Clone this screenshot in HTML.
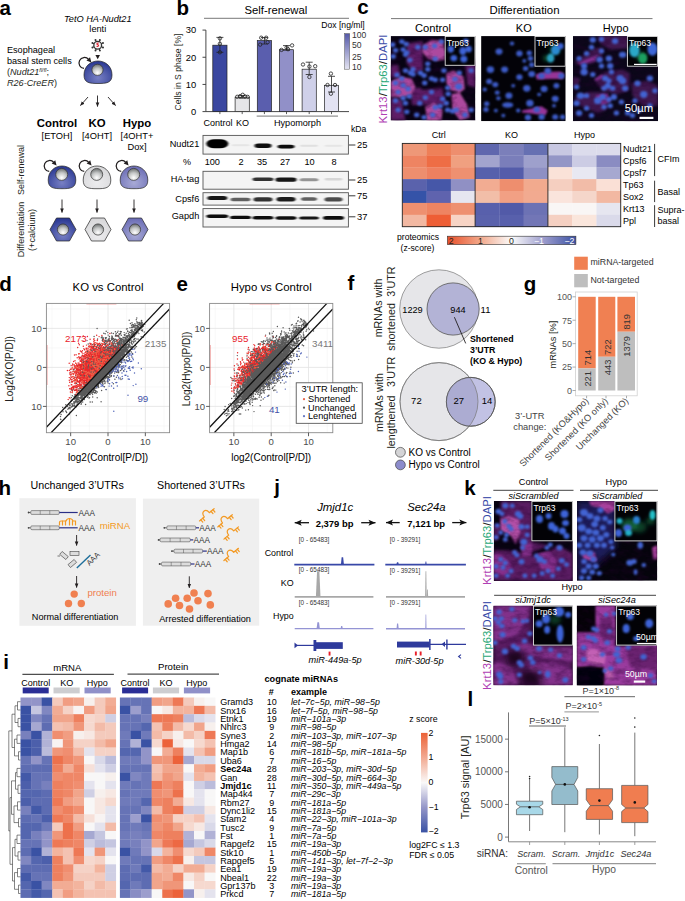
<!DOCTYPE html><html><head><meta charset="utf-8"><style>html,body{margin:0;padding:0;background:#fff}svg{display:block}text{font-family:"Liberation Sans",sans-serif}</style></head><body><svg width="685" height="901" viewBox="0 0 685 901"><defs><filter id="bl1" x="-50%" y="-50%" width="200%" height="200%"><feGaussianBlur stdDeviation="1"/></filter><filter id="bl05" x="-50%" y="-50%" width="200%" height="200%"><feGaussianBlur stdDeviation="0.5"/></filter><filter id="bl06" x="-50%" y="-50%" width="200%" height="200%"><feGaussianBlur stdDeviation="0.85"/></filter><filter id="mott" x="0" y="0" width="100%" height="100%"><feTurbulence type="fractalNoise" baseFrequency="0.09 0.16" numOctaves="3" seed="7"/><feColorMatrix type="matrix" values="0 0 0 0 0.02  0 0 0 0 0.0  0 0 0 0 0.03  -2.4 0 0 0 1.45"/></filter><filter id="bl15" x="-50%" y="-50%" width="200%" height="200%"><feGaussianBlur stdDeviation="1.5"/></filter><filter id="bl2" x="-50%" y="-50%" width="200%" height="200%"><feGaussianBlur stdDeviation="2"/></filter><filter id="bl3" x="-50%" y="-50%" width="200%" height="200%"><feGaussianBlur stdDeviation="3"/></filter><filter id="band" x="-50%" y="-100%" width="200%" height="300%"><feGaussianBlur stdDeviation="1.3 0.65"/></filter><radialGradient id="gNuc" cx="0.5" cy="0.78" r="0.75"><stop offset="0" stop-color="#ffffff"/><stop offset="0.55" stop-color="#c4c6c6"/><stop offset="1" stop-color="#6e7272"/></radialGradient><radialGradient id="gCtrl" cx="0.5" cy="0.75" r="0.7"><stop offset="0" stop-color="#7880c4"/><stop offset="1" stop-color="#2c3a94"/></radialGradient><radialGradient id="gKO" cx="0.5" cy="0.75" r="0.7"><stop offset="0" stop-color="#ececee"/><stop offset="1" stop-color="#d8d8da"/></radialGradient><radialGradient id="gHy" cx="0.5" cy="0.75" r="0.7"><stop offset="0" stop-color="#a8aad6"/><stop offset="1" stop-color="#6d6fb6"/></radialGradient><linearGradient id="gDox" x1="0" y1="0" x2="0" y2="1"><stop offset="0" stop-color="#5458a8"/><stop offset="1" stop-color="#e4e4f2"/></linearGradient><linearGradient id="gProt" x1="0" y1="0" x2="1" y2="0"><stop offset="0" stop-color="#e8502a"/><stop offset="0.25" stop-color="#f2a688"/><stop offset="0.5" stop-color="#fbfbfb"/><stop offset="0.75" stop-color="#9c9ccc"/><stop offset="1" stop-color="#3c52a4"/></linearGradient><linearGradient id="gZ" x1="0" y1="0" x2="0" y2="1"><stop offset="0" stop-color="#ec6236"/><stop offset="0.25" stop-color="#f2aa92"/><stop offset="0.5" stop-color="#faf9f9"/><stop offset="0.75" stop-color="#9496c8"/><stop offset="1" stop-color="#3a52a4"/></linearGradient><marker id="ah" viewBox="0 0 10 10" refX="9" refY="5" markerWidth="5" markerHeight="5" orient="auto"><path d="M0,1 L10,5 L0,9 z" fill="#231f20"/></marker></defs><rect width="685" height="901" fill="#ffffff"/><text x="-0.6" y="14.9" font-size="20.5" font-weight="bold">a</text><text x="97.8" y="21.5" font-size="9.2" text-anchor="middle" font-style="italic">TetO HA-Nudt21</text><text x="97.8" y="32.3" font-size="9.2" text-anchor="middle">lenti</text><line x1="100.93" y1="46.54" x2="102.69" y2="47.27" stroke="#333" stroke-width="1.0" /><circle cx="102.97" cy="47.38" r="1.0" fill="#333"/><line x1="99.04" y1="48.43" x2="99.77" y2="50.19" stroke="#333" stroke-width="1.0" /><circle cx="99.88" cy="50.47" r="1.0" fill="#333"/><line x1="96.36" y1="48.43" x2="95.63" y2="50.19" stroke="#333" stroke-width="1.0" /><circle cx="95.52" cy="50.47" r="1.0" fill="#333"/><line x1="94.47" y1="46.54" x2="92.71" y2="47.27" stroke="#333" stroke-width="1.0" /><circle cx="92.43" cy="47.38" r="1.0" fill="#333"/><line x1="94.47" y1="43.86" x2="92.71" y2="43.13" stroke="#333" stroke-width="1.0" /><circle cx="92.43" cy="43.02" r="1.0" fill="#333"/><line x1="96.36" y1="41.97" x2="95.63" y2="40.21" stroke="#333" stroke-width="1.0" /><circle cx="95.52" cy="39.93" r="1.0" fill="#333"/><line x1="99.04" y1="41.97" x2="99.77" y2="40.21" stroke="#333" stroke-width="1.0" /><circle cx="99.88" cy="39.93" r="1.0" fill="#333"/><line x1="100.93" y1="43.86" x2="102.69" y2="43.13" stroke="#333" stroke-width="1.0" /><circle cx="102.97" cy="43.02" r="1.0" fill="#333"/><circle cx="97.7" cy="45.2" r="3.9" fill="#f4f4f4" stroke="#333" stroke-width="1.3"/><path d="M98.8,43.0 q-2.2,-0.2 -1.8,1.2 q2,0.7 1.4,1.7 q-0.6,0.8 -1.8,0.3" stroke="#e02030" stroke-width="1.1" fill="none"/><path d="M95.4,55.0 L100.0,55.0 L97.7,59.2 z" fill="#231f20"/><text x="7.0" y="53.0" font-size="9.1">Esophageal</text><text x="7.0" y="63.5" font-size="9.1">basal stem cells</text><text x="7" y="74.5" font-size="9.1" fill="#231f20">(<tspan font-style="italic">Nudt21</tspan><tspan font-style="italic" font-size="5.5" dy="-3">fl/fl</tspan><tspan dy="3">;</tspan></text><text x="7" y="85.8" font-size="9.1" fill="#231f20"><tspan font-style="italic">R26-CreER</tspan>)</text><path d="M84.00,74.95 C84.00,65.95 91.00,61.00 98.00,61.00 C105.00,61.00 112.00,65.95 112.00,74.95 C112.00,83.00 106.40,83.50 98.00,83.50 C89.60,83.50 84.00,83.00 84.00,74.95 z" fill="url(#gCtrl)" stroke="#222" stroke-width="0.7"/><circle cx="97.50" cy="69.80" r="5.6" fill="url(#gNuc)" stroke="#333" stroke-width="0.7"/><path d="M84.02,68.48 A5.5,5.5 0 1 1 88.59,59.32" fill="none" stroke="#231f20" stroke-width="1.25"/><path d="M90.04,57.34 L86.47,60.55 L91.40,62.44 z" fill="#231f20"/><g stroke="#231f20" stroke-width="0.9" fill="none" marker-end="url(#ah)"><line x1="88" y1="97" x2="80.5" y2="105.5"/><line x1="97.5" y1="95.5" x2="97.5" y2="106.5"/><line x1="108" y1="97" x2="115.5" y2="105.5"/></g><text x="57.0" y="127.0" font-size="11.4" text-anchor="middle" font-weight="bold">Control</text><text x="97.0" y="127.0" font-size="11.4" text-anchor="middle" font-weight="bold">KO</text><text x="137.0" y="127.0" font-size="11.4" text-anchor="middle" font-weight="bold">Hypo</text><text x="57.0" y="138.5" font-size="9.3" text-anchor="middle">[ETOH]</text><text x="97.0" y="138.5" font-size="9.3" text-anchor="middle">[4OHT]</text><text x="137.0" y="138.5" font-size="9.3" text-anchor="middle">[4OHT+</text><text x="137.0" y="150.0" font-size="9.3" text-anchor="middle">Dox]</text><path d="M48.20,180.07 C48.20,170.99 55.10,166.00 62.00,166.00 C68.90,166.00 75.80,170.99 75.80,180.07 C75.80,188.20 70.28,188.70 62.00,188.70 C53.72,188.70 48.20,188.20 48.20,180.07 z" fill="url(#gCtrl)" stroke="#222" stroke-width="0.7"/><circle cx="61.70" cy="174.40" r="6.0" fill="url(#gNuc)" stroke="#333" stroke-width="0.7"/><path d="M49.22,171.48 A5.5,5.5 0 1 1 53.79,162.32" fill="none" stroke="#231f20" stroke-width="1.25"/><path d="M55.24,160.34 L51.67,163.55 L56.60,165.44 z" fill="#231f20"/><line x1="62" y1="199.5" x2="62" y2="212.5" stroke="#231f20" stroke-width="0.9" marker-end="url(#ah)"/><polygon points="50,229.5 56.5,218.0 69.5,218.0 76,229.5 69.5,241.0 56.5,241.0" fill="url(#gCtrl)" stroke="#222" stroke-width="0.7"/><circle cx="63.00" cy="229.50" r="5.6" fill="url(#gNuc)" stroke="#333" stroke-width="0.7"/><path d="M83.20,180.07 C83.20,170.99 90.10,166.00 97.00,166.00 C103.90,166.00 110.80,170.99 110.80,180.07 C110.80,188.20 105.28,188.70 97.00,188.70 C88.72,188.70 83.20,188.20 83.20,180.07 z" fill="url(#gKO)" stroke="#222" stroke-width="0.7"/><circle cx="96.70" cy="174.40" r="6.0" fill="url(#gNuc)" stroke="#333" stroke-width="0.7"/><path d="M84.22,171.48 A5.5,5.5 0 1 1 88.79,162.32" fill="none" stroke="#231f20" stroke-width="1.25"/><path d="M90.24,160.34 L86.67,163.55 L91.60,165.44 z" fill="#231f20"/><line x1="97" y1="199.5" x2="97" y2="212.5" stroke="#231f20" stroke-width="0.9" marker-end="url(#ah)"/><polygon points="85,229.5 91.5,218.0 104.5,218.0 111,229.5 104.5,241.0 91.5,241.0" fill="url(#gKO)" stroke="#222" stroke-width="0.7"/><circle cx="98.00" cy="229.50" r="5.6" fill="url(#gNuc)" stroke="#333" stroke-width="0.7"/><path d="M120.20,180.07 C120.20,170.99 127.10,166.00 134.00,166.00 C140.90,166.00 147.80,170.99 147.80,180.07 C147.80,188.20 142.28,188.70 134.00,188.70 C125.72,188.70 120.20,188.20 120.20,180.07 z" fill="url(#gHy)" stroke="#222" stroke-width="0.7"/><circle cx="133.70" cy="174.40" r="6.0" fill="url(#gNuc)" stroke="#333" stroke-width="0.7"/><path d="M121.22,171.48 A5.5,5.5 0 1 1 125.79,162.32" fill="none" stroke="#231f20" stroke-width="1.25"/><path d="M127.24,160.34 L123.67,163.55 L128.60,165.44 z" fill="#231f20"/><line x1="134" y1="199.5" x2="134" y2="212.5" stroke="#231f20" stroke-width="0.9" marker-end="url(#ah)"/><polygon points="122,229.5 128.5,218.0 141.5,218.0 148,229.5 141.5,241.0 128.5,241.0" fill="url(#gHy)" stroke="#222" stroke-width="0.7"/><circle cx="135.00" cy="229.50" r="5.6" fill="url(#gNuc)" stroke="#333" stroke-width="0.7"/><text transform="translate(24.2,170) rotate(-90)" font-size="9" text-anchor="middle" fill="#231f20">Self-renewal</text><text transform="translate(24.2,229.5) rotate(-90)" font-size="9" text-anchor="middle" fill="#231f20">Differentiation</text><text transform="translate(35,230) rotate(-90)" font-size="9" text-anchor="middle" fill="#231f20">(+calcium)</text><text x="176.5" y="14.9" font-size="20.5" font-weight="bold">b</text><text x="275.9" y="14.0" font-size="11.3" text-anchor="middle">Self-renewal</text><line x1="204.00" y1="18.30" x2="349.00" y2="18.30" stroke="#555" stroke-width="0.8" /><line x1="205.90" y1="30.10" x2="205.90" y2="111.60" stroke="#333" stroke-width="0.9" /><line x1="205.90" y1="111.60" x2="349.00" y2="111.60" stroke="#333" stroke-width="0.9" /><line x1="202.50" y1="111.60" x2="205.90" y2="111.60" stroke="#333" stroke-width="0.9" /><text x="196.3" y="114.9" font-size="9.4" text-anchor="end">0</text><line x1="202.50" y1="84.43" x2="205.90" y2="84.43" stroke="#333" stroke-width="0.9" /><text x="196.3" y="87.7" font-size="9.4" text-anchor="end">10</text><line x1="202.50" y1="57.26" x2="205.90" y2="57.26" stroke="#333" stroke-width="0.9" /><text x="196.3" y="60.6" font-size="9.4" text-anchor="end">20</text><line x1="202.50" y1="30.09" x2="205.90" y2="30.09" stroke="#333" stroke-width="0.9" /><text x="196.3" y="33.4" font-size="9.4" text-anchor="end">30</text><text transform="translate(180.5,72) rotate(-90)" font-size="8.6" text-anchor="middle" fill="#231f20">Cells in S phase [%]</text><rect x="212.80" y="45.20" width="14.20" height="66.40" fill="#3a47a0" stroke="#222" stroke-width="0.7"/><line x1="219.90" y1="37.40" x2="219.90" y2="52.30" stroke="#222" stroke-width="0.8" /><line x1="216.40" y1="37.40" x2="223.40" y2="37.40" stroke="#222" stroke-width="0.8" /><line x1="216.40" y1="52.30" x2="223.40" y2="52.30" stroke="#222" stroke-width="0.8" /><circle cx="219.90" cy="38.4" r="1.7" fill="none" stroke="#222" stroke-width="0.8"/><circle cx="219.90" cy="43.8" r="1.7" fill="none" stroke="#222" stroke-width="0.8"/><circle cx="219.90" cy="52.3" r="1.7" fill="none" stroke="#222" stroke-width="0.8"/><line x1="219.90" y1="111.60" x2="219.90" y2="114.10" stroke="#333" stroke-width="0.8" /><rect x="235.10" y="97.20" width="14.20" height="14.40" fill="#e6e6e8" stroke="#222" stroke-width="0.7"/><line x1="242.20" y1="95.50" x2="242.20" y2="98.20" stroke="#222" stroke-width="0.8" /><line x1="238.70" y1="95.50" x2="245.70" y2="95.50" stroke="#222" stroke-width="0.8" /><line x1="238.70" y1="98.20" x2="245.70" y2="98.20" stroke="#222" stroke-width="0.8" /><circle cx="237.20" cy="96.8" r="1.7" fill="none" stroke="#222" stroke-width="0.8"/><circle cx="240.00" cy="96.2" r="1.7" fill="none" stroke="#222" stroke-width="0.8"/><circle cx="242.70" cy="94.8" r="1.7" fill="none" stroke="#222" stroke-width="0.8"/><circle cx="245.20" cy="96.5" r="1.7" fill="none" stroke="#222" stroke-width="0.8"/><circle cx="247.70" cy="96.9" r="1.7" fill="none" stroke="#222" stroke-width="0.8"/><line x1="242.20" y1="111.60" x2="242.20" y2="114.10" stroke="#333" stroke-width="0.8" /><rect x="257.30" y="40.60" width="14.20" height="71.00" fill="#5a5eae" stroke="#222" stroke-width="0.7"/><line x1="264.40" y1="37.50" x2="264.40" y2="44.00" stroke="#222" stroke-width="0.8" /><line x1="260.90" y1="37.50" x2="267.90" y2="37.50" stroke="#222" stroke-width="0.8" /><line x1="260.90" y1="44.00" x2="267.90" y2="44.00" stroke="#222" stroke-width="0.8" /><circle cx="261.20" cy="37.7" r="1.7" fill="none" stroke="#222" stroke-width="0.8"/><circle cx="266.20" cy="37.7" r="1.7" fill="none" stroke="#222" stroke-width="0.8"/><circle cx="260.20" cy="44.6" r="1.7" fill="none" stroke="#222" stroke-width="0.8"/><circle cx="267.60" cy="42.2" r="1.7" fill="none" stroke="#222" stroke-width="0.8"/><line x1="264.40" y1="111.60" x2="264.40" y2="114.10" stroke="#333" stroke-width="0.8" /><rect x="279.40" y="49.70" width="14.20" height="61.90" fill="#9190c8" stroke="#222" stroke-width="0.7"/><line x1="286.50" y1="45.60" x2="286.50" y2="50.20" stroke="#222" stroke-width="0.8" /><line x1="283.00" y1="45.60" x2="290.00" y2="45.60" stroke="#222" stroke-width="0.8" /><line x1="283.00" y1="50.20" x2="290.00" y2="50.20" stroke="#222" stroke-width="0.8" /><circle cx="281.50" cy="49.9" r="1.7" fill="none" stroke="#222" stroke-width="0.8"/><circle cx="286.60" cy="47.5" r="1.7" fill="none" stroke="#222" stroke-width="0.8"/><circle cx="292.10" cy="45.4" r="1.7" fill="none" stroke="#222" stroke-width="0.8"/><circle cx="288.00" cy="49.2" r="1.7" fill="none" stroke="#222" stroke-width="0.8"/><line x1="286.50" y1="111.60" x2="286.50" y2="114.10" stroke="#333" stroke-width="0.8" /><rect x="302.10" y="69.20" width="14.20" height="42.40" fill="#cfd0e9" stroke="#222" stroke-width="0.7"/><line x1="309.20" y1="62.20" x2="309.20" y2="74.50" stroke="#222" stroke-width="0.8" /><line x1="305.70" y1="62.20" x2="312.70" y2="62.20" stroke="#222" stroke-width="0.8" /><line x1="305.70" y1="74.50" x2="312.70" y2="74.50" stroke="#222" stroke-width="0.8" /><circle cx="303.00" cy="64.5" r="1.7" fill="none" stroke="#222" stroke-width="0.8"/><circle cx="309.40" cy="66.5" r="1.7" fill="none" stroke="#222" stroke-width="0.8"/><circle cx="315.20" cy="66.2" r="1.7" fill="none" stroke="#222" stroke-width="0.8"/><circle cx="309.40" cy="77" r="1.7" fill="none" stroke="#222" stroke-width="0.8"/><line x1="309.20" y1="111.60" x2="309.20" y2="114.10" stroke="#333" stroke-width="0.8" /><rect x="324.40" y="85.30" width="14.20" height="26.30" fill="#e3e3f3" stroke="#222" stroke-width="0.7"/><line x1="331.50" y1="76.30" x2="331.50" y2="92.00" stroke="#222" stroke-width="0.8" /><line x1="328.00" y1="76.30" x2="335.00" y2="76.30" stroke="#222" stroke-width="0.8" /><line x1="328.00" y1="92.00" x2="335.00" y2="92.00" stroke="#222" stroke-width="0.8" /><circle cx="330.90" cy="73.6" r="1.7" fill="none" stroke="#222" stroke-width="0.8"/><circle cx="327.50" cy="85" r="1.7" fill="none" stroke="#222" stroke-width="0.8"/><circle cx="335.00" cy="85" r="1.7" fill="none" stroke="#222" stroke-width="0.8"/><circle cx="330.90" cy="93.7" r="1.7" fill="none" stroke="#222" stroke-width="0.8"/><line x1="331.50" y1="111.60" x2="331.50" y2="114.10" stroke="#333" stroke-width="0.8" /><text x="217.9" y="126.0" font-size="9" text-anchor="middle">Control</text><text x="242.6" y="126.0" font-size="9" text-anchor="middle">KO</text><line x1="256.70" y1="116.10" x2="338.00" y2="116.10" stroke="#555" stroke-width="0.8" /><text x="297.5" y="126.0" font-size="9.1" text-anchor="middle">Hypomorph</text><text x="321.3" y="28.0" font-size="8.6">Dox [ng/ml]</text><rect x="344.60" y="33.60" width="5.10" height="35.60" fill="url(#gDox)" stroke="#555" stroke-width="0.5"/><text x="352.0" y="37.8" font-size="8.6" fill="#333">100</text><text x="352.0" y="48.3" font-size="8.6" fill="#333">50</text><text x="352.0" y="59.5" font-size="8.6" fill="#333">25</text><text x="352.0" y="70.0" font-size="8.6" fill="#333">10</text><text x="351.0" y="131.9" font-size="8.6">kDa</text><rect x="203.00" y="135.40" width="145.40" height="18.70" fill="#f4f4f4" stroke="#555" stroke-width="0.9"/><text x="199.3" y="146.8" font-size="9.2" text-anchor="end">Nudt21</text><rect x="206.3" y="139.2" width="22.0" height="9.0" rx="8.1" fill="rgb(0,0,0)" filter="url(#band)"/><rect x="231.5" y="144.2" width="18.0" height="2.0" rx="1.8" fill="rgb(229,229,229)" filter="url(#band)"/><rect x="254.5" y="143.6" width="17.0" height="4.4" rx="4.0" fill="rgb(12,12,12)" filter="url(#band)"/><rect x="277.5" y="144.7" width="17.0" height="3.8" rx="3.4" fill="rgb(12,12,12)" filter="url(#band)"/><rect x="300.0" y="144.8" width="18.0" height="2.0" rx="1.8" fill="rgb(224,224,224)" filter="url(#band)"/><rect x="324.5" y="144.8" width="18.0" height="2.0" rx="1.8" fill="rgb(229,229,229)" filter="url(#band)"/><line x1="349.00" y1="145.00" x2="355.40" y2="145.00" stroke="#222" stroke-width="0.9" /><text x="357.0" y="148.3" font-size="9.4">25</text><rect x="203.00" y="171.30" width="145.40" height="17.90" fill="#f4f4f4" stroke="#555" stroke-width="0.9"/><text x="199.3" y="181.8" font-size="9.2" text-anchor="end">HA-tag</text><rect x="252.5" y="177.4" width="21.0" height="3.6" rx="3.2" fill="rgb(51,51,51)" filter="url(#band)"/><rect x="275.5" y="177.6" width="21.0" height="4.2" rx="3.8" fill="rgb(20,20,20)" filter="url(#band)"/><rect x="299.5" y="178.2" width="19.0" height="3.0" rx="2.7" fill="rgb(147,147,147)" filter="url(#band)"/><rect x="324.5" y="177.9" width="18.0" height="2.6" rx="2.3" fill="rgb(214,214,214)" filter="url(#band)"/><line x1="349.00" y1="180.00" x2="355.40" y2="180.00" stroke="#222" stroke-width="0.9" /><text x="357.0" y="183.3" font-size="9.4">25</text><rect x="203.00" y="192.70" width="145.40" height="12.40" fill="#f4f4f4" stroke="#555" stroke-width="0.9"/><text x="199.3" y="202.0" font-size="9.2" text-anchor="end">Cpsf6</text><rect x="207.3" y="195.9" width="20.0" height="4.0" rx="3.6" fill="rgb(25,25,25)" filter="url(#band)"/><rect x="230.5" y="197.7" width="20.0" height="3.6" rx="3.2" fill="rgb(96,96,96)" filter="url(#band)"/><rect x="253.5" y="197.3" width="19.0" height="4.2" rx="3.8" fill="rgb(51,51,51)" filter="url(#band)"/><rect x="276.5" y="196.9" width="19.0" height="4.6" rx="4.1" fill="rgb(30,30,30)" filter="url(#band)"/><rect x="301.0" y="197.2" width="16.0" height="3.6" rx="3.2" fill="rgb(96,96,96)" filter="url(#band)"/><rect x="324.5" y="197.3" width="18.0" height="4.2" rx="3.8" fill="rgb(76,76,76)" filter="url(#band)"/><line x1="349.00" y1="195.80" x2="355.40" y2="195.80" stroke="#222" stroke-width="0.9" /><text x="357.0" y="199.1" font-size="9.4">75</text><rect x="203.00" y="208.60" width="145.40" height="18.40" fill="#f4f4f4" stroke="#555" stroke-width="0.9"/><text x="199.3" y="218.6" font-size="9.2" text-anchor="end">Gapdh</text><rect x="206.3" y="214.5" width="22.0" height="3.4" rx="3.1" fill="rgb(12,12,12)" filter="url(#band)"/><rect x="230.0" y="215.7" width="21.0" height="3.4" rx="3.1" fill="rgb(17,17,17)" filter="url(#band)"/><rect x="252.5" y="216.0" width="21.0" height="3.4" rx="3.1" fill="rgb(17,17,17)" filter="url(#band)"/><rect x="275.5" y="216.3" width="21.0" height="3.4" rx="3.1" fill="rgb(17,17,17)" filter="url(#band)"/><rect x="299.0" y="216.4" width="20.0" height="3.2" rx="2.9" fill="rgb(25,25,25)" filter="url(#band)"/><rect x="323.0" y="216.1" width="21.0" height="3.6" rx="3.2" fill="rgb(12,12,12)" filter="url(#band)"/><line x1="349.00" y1="216.80" x2="355.40" y2="216.80" stroke="#222" stroke-width="0.9" /><text x="357.0" y="220.1" font-size="9.4">37</text><text x="187.0" y="164.6" font-size="9" text-anchor="middle">%</text><text x="212.3" y="164.6" font-size="9.2" text-anchor="middle">100</text><text x="241.0" y="164.6" font-size="9.2" text-anchor="middle">2</text><text x="262.0" y="164.6" font-size="9.2" text-anchor="middle">35</text><text x="285.0" y="164.6" font-size="9.2" text-anchor="middle">27</text><text x="309.5" y="164.6" font-size="9.2" text-anchor="middle">10</text><text x="334.0" y="164.6" font-size="9.2" text-anchor="middle">8</text><text x="357.2" y="14.4" font-size="20.5" font-weight="bold">c</text><text x="524.5" y="13.9" font-size="11.4" text-anchor="middle">Differentiation</text><line x1="391.00" y1="18.60" x2="652.50" y2="18.60" stroke="#555" stroke-width="0.8" /><text x="433.0" y="31.5" font-size="11.2" text-anchor="middle">Control</text><text x="523.8" y="31.5" font-size="11.0" text-anchor="middle">KO</text><text x="615.7" y="31.5" font-size="11.0" text-anchor="middle">Hypo</text><text transform="translate(387.3,79) rotate(-90)" font-size="11.3" text-anchor="middle"><tspan fill="#b040b4">Krt13</tspan><tspan fill="#231f20">/</tspan><tspan fill="#2aa878">Trp63</tspan><tspan fill="#231f20">/</tspan><tspan fill="#3a4ca8">DAPI</tspan></text><clipPath id="cp1"><rect x="390.7" y="36.1" width="84.7" height="84.3"/></clipPath><g clip-path="url(#cp1)"><rect x="390.70" y="36.10" width="84.70" height="84.30" fill="#070312" /><g filter="url(#bl15)" fill="#5e1e66" opacity="1"><polygon points="406.8,43.5 422.8,41.0 422.8,70.6 414.2,73.0 406.8,63.2"/><polygon points="420.4,90.2 442.6,87.8 445.1,105.0 422.8,105.0"/><polygon points="390.7,97.6 401.8,100.1 405.5,120.4 390.7,120.4"/><polygon points="410.5,87.8 421.6,87.8 421.6,105.0 411.7,105.0"/><polygon points="464.9,60.7 475.4,58.3 475.4,87.8 467.4,85.3"/><polygon points="390.7,65.6 398.1,64.4 400.6,76.7 390.7,77.9"/></g><g filter="url(#bl1)" fill="#ad4a9e" opacity="1"><polygon points="423.5,44.7 431.5,39.8 442.6,41.0 445.1,50.9 445.1,59.5 437.7,60.7 427.8,58.9 422.2,52.1"/><polygon points="390.7,81.6 400.6,76.7 411.7,78.6 415.4,86.6 411.7,95.2 400.6,97.6 390.7,97.0"/><polygon points="446.3,73.0 453.8,70.6 463.7,76.7 464.9,89.0 459.9,92.7 450.1,90.2 446.3,82.9"/><polygon points="451.3,93.9 459.9,92.7 467.4,105.0 469.8,117.3 459.9,120.4 452.5,109.9"/><polygon points="425.3,106.2 434.0,102.6 442.6,109.9 441.4,120.4 426.6,120.4"/></g><rect x="390.7" y="36.1" width="84.7" height="84.3" fill="#000" filter="url(#mott)" opacity="0.35"/><g filter="url(#bl06)" fill="#4264d2"><ellipse cx="401.8" cy="41.6" rx="2.7" ry="2.4"/><ellipse cx="406.2" cy="44.1" rx="2.7" ry="2.4"/><ellipse cx="392.6" cy="44.7" rx="2.7" ry="2.4"/><ellipse cx="395.6" cy="50.3" rx="2.7" ry="2.4"/><ellipse cx="403.1" cy="49.6" rx="2.7" ry="2.4"/><ellipse cx="405.5" cy="54.6" rx="2.7" ry="2.4"/><ellipse cx="406.8" cy="52.7" rx="2.7" ry="2.4"/><ellipse cx="393.2" cy="56.4" rx="2.7" ry="2.4"/><ellipse cx="409.9" cy="60.1" rx="2.7" ry="2.4"/><ellipse cx="417.9" cy="47.2" rx="2.7" ry="2.4"/><ellipse cx="425.3" cy="47.2" rx="2.7" ry="2.4"/><ellipse cx="434.6" cy="45.9" rx="2.7" ry="2.4"/><ellipse cx="441.4" cy="41.6" rx="2.7" ry="2.4"/><ellipse cx="435.2" cy="58.9" rx="2.7" ry="2.4"/><ellipse cx="427.8" cy="63.8" rx="2.7" ry="2.4"/><ellipse cx="427.8" cy="69.3" rx="2.7" ry="2.4"/><ellipse cx="420.4" cy="73.0" rx="2.7" ry="2.4"/><ellipse cx="424.1" cy="75.5" rx="2.7" ry="2.4"/><ellipse cx="413.0" cy="69.3" rx="2.7" ry="2.4"/><ellipse cx="410.5" cy="73.0" rx="2.7" ry="2.4"/><ellipse cx="413.0" cy="74.3" rx="2.7" ry="2.4"/><ellipse cx="405.5" cy="70.6" rx="2.7" ry="2.4"/><ellipse cx="396.9" cy="74.9" rx="2.7" ry="2.4"/><ellipse cx="401.8" cy="78.6" rx="2.7" ry="2.4"/><ellipse cx="395.6" cy="82.9" rx="2.7" ry="2.4"/><ellipse cx="403.1" cy="85.3" rx="2.7" ry="2.4"/><ellipse cx="408.0" cy="89.0" rx="2.7" ry="2.4"/><ellipse cx="398.1" cy="92.1" rx="2.7" ry="2.4"/><ellipse cx="409.2" cy="96.4" rx="2.7" ry="2.4"/><ellipse cx="395.6" cy="100.7" rx="2.7" ry="2.4"/><ellipse cx="403.1" cy="98.2" rx="2.7" ry="2.4"/><ellipse cx="405.5" cy="103.2" rx="2.7" ry="2.4"/><ellipse cx="398.1" cy="109.9" rx="2.7" ry="2.4"/><ellipse cx="406.8" cy="111.8" rx="2.7" ry="2.4"/><ellipse cx="416.7" cy="114.9" rx="2.7" ry="2.4"/><ellipse cx="424.1" cy="117.3" rx="2.7" ry="2.4"/><ellipse cx="419.8" cy="103.2" rx="2.7" ry="2.4"/><ellipse cx="425.3" cy="97.6" rx="2.7" ry="2.4"/><ellipse cx="431.5" cy="92.1" rx="2.7" ry="2.4"/><ellipse cx="431.5" cy="78.6" rx="2.7" ry="2.4"/><ellipse cx="435.2" cy="79.8" rx="2.7" ry="2.4"/><ellipse cx="442.6" cy="79.8" rx="2.7" ry="2.4"/><ellipse cx="443.9" cy="70.6" rx="2.7" ry="2.4"/><ellipse cx="455.0" cy="79.2" rx="2.7" ry="2.4"/><ellipse cx="458.7" cy="86.6" rx="3.7" ry="3.2"/><ellipse cx="459.3" cy="73.0" rx="2.7" ry="2.4"/><ellipse cx="471.1" cy="70.6" rx="2.7" ry="2.4"/><ellipse cx="447.6" cy="87.8" rx="2.7" ry="2.4"/><ellipse cx="448.2" cy="93.9" rx="2.7" ry="2.4"/><ellipse cx="442.6" cy="98.9" rx="2.7" ry="2.4"/><ellipse cx="440.2" cy="106.2" rx="2.7" ry="2.4"/><ellipse cx="435.2" cy="107.5" rx="2.7" ry="2.4"/><ellipse cx="447.6" cy="109.9" rx="2.7" ry="2.4"/><ellipse cx="452.5" cy="111.2" rx="2.7" ry="2.4"/><ellipse cx="456.2" cy="109.9" rx="2.7" ry="2.4"/><ellipse cx="464.9" cy="114.9" rx="2.7" ry="2.4"/><ellipse cx="471.1" cy="109.9" rx="2.7" ry="2.4"/><ellipse cx="432.7" cy="114.9" rx="2.7" ry="2.4"/><ellipse cx="424.7" cy="82.9" rx="2.7" ry="2.4"/><ellipse cx="446.3" cy="103.2" rx="2.7" ry="2.4"/></g></g><clipPath id="cp2"><rect x="444.8" y="36.1" width="30.6" height="29.6"/></clipPath><g clip-path="url(#cp2)"><rect x="444.80" y="36.10" width="30.60" height="29.60" fill="#020206" /><g filter="url(#bl06)"><ellipse cx="450.8" cy="49.1" rx="3.2" ry="3.6" fill="#3d63d8"/><ellipse cx="453.8" cy="58.1" rx="3.4" ry="3.2" fill="#3d63d8"/><ellipse cx="462.8" cy="51.1" rx="3.4" ry="4" fill="#3d63d8"/><ellipse cx="463.8" cy="59.1" rx="3.6" ry="3.4" fill="#3d63d8"/><ellipse cx="468.8" cy="49.1" rx="3" ry="3.4" fill="#3d63d8"/><ellipse cx="465.8" cy="41.1" rx="3" ry="2.6" fill="#3d63d8"/></g></g><rect x="445.2" y="36.5" width="29.8" height="28.8" fill="none" stroke="#e0e0e0" stroke-width="0.9"/><text x="446.8" y="45.6" font-size="8.5" fill="#ffffff">Trp63</text><clipPath id="cp3"><rect x="481.1" y="36.1" width="84.6" height="85.1"/></clipPath><g clip-path="url(#cp3)"><rect x="481.10" y="36.10" width="84.60" height="85.10" fill="#030208" /><g filter="url(#bl1)" fill="#a83aa8" opacity="0.9"><polygon points="535.4,74.6 545.3,72.1 560.1,71.5 563.8,73.4 562.6,79.0 550.3,79.0 536.7,79.6"/><polygon points="521.9,110.6 533.0,108.2 541.6,106.3 547.8,110.6 545.3,115.6 533.0,113.7 521.9,112.5"/></g><g filter="url(#bl06)" fill="#3c5cc8"><ellipse cx="499.0" cy="51.6" rx="3.5" ry="3.1"/><ellipse cx="519.4" cy="53.5" rx="3.2" ry="2.9"/><ellipse cx="529.3" cy="52.9" rx="2.7" ry="2.5"/><ellipse cx="530.5" cy="58.5" rx="2.7" ry="2.5"/><ellipse cx="531.7" cy="64.7" rx="2.7" ry="2.5"/><ellipse cx="525.6" cy="68.4" rx="2.7" ry="2.5"/><ellipse cx="490.4" cy="69.6" rx="3.7" ry="3.4"/><ellipse cx="504.6" cy="69.6" rx="3.5" ry="3.1"/><ellipse cx="519.4" cy="77.1" rx="3.2" ry="2.9"/><ellipse cx="531.7" cy="74.0" rx="3.5" ry="3.1"/><ellipse cx="547.8" cy="70.9" rx="3.5" ry="3.1"/><ellipse cx="561.4" cy="75.9" rx="3.2" ry="2.9"/><ellipse cx="489.1" cy="81.4" rx="3.0" ry="2.7"/><ellipse cx="495.3" cy="84.6" rx="3.0" ry="2.7"/><ellipse cx="497.2" cy="92.6" rx="2.5" ry="2.2"/><ellipse cx="498.4" cy="98.2" rx="2.2" ry="2.0"/><ellipse cx="508.9" cy="95.7" rx="3.5" ry="3.1"/><ellipse cx="526.8" cy="88.3" rx="3.7" ry="3.4"/><ellipse cx="544.1" cy="88.9" rx="3.5" ry="3.1"/><ellipse cx="556.4" cy="85.8" rx="3.0" ry="2.7"/><ellipse cx="555.2" cy="98.8" rx="3.5" ry="3.1"/><ellipse cx="486.7" cy="103.8" rx="2.7" ry="2.5"/><ellipse cx="486.0" cy="109.4" rx="2.7" ry="2.5"/><ellipse cx="507.7" cy="105.0" rx="5.6" ry="2.7"/><ellipse cx="529.9" cy="103.2" rx="3.7" ry="3.4"/><ellipse cx="536.7" cy="109.4" rx="3.2" ry="2.9"/><ellipse cx="528.0" cy="117.5" rx="3.2" ry="2.9"/><ellipse cx="541.6" cy="116.9" rx="3.2" ry="2.9"/><ellipse cx="555.2" cy="116.9" rx="3.0" ry="2.7"/><ellipse cx="562.6" cy="116.9" rx="2.7" ry="2.5"/><ellipse cx="541.6" cy="75.9" rx="3.2" ry="2.9"/><ellipse cx="512.0" cy="43.6" rx="2.2" ry="2.0"/><ellipse cx="484.8" cy="89.5" rx="2.2" ry="2.0"/><ellipse cx="513.2" cy="85.8" rx="2.0" ry="1.8"/><ellipse cx="550.3" cy="59.7" rx="2.2" ry="2.0"/><ellipse cx="539.1" cy="94.5" rx="2.0" ry="1.8"/><ellipse cx="518.2" cy="110.6" rx="2.2" ry="2.0"/><ellipse cx="503.3" cy="115.6" rx="2.0" ry="1.8"/><ellipse cx="495.9" cy="110.6" rx="2.0" ry="1.8"/><ellipse cx="554.0" cy="105.7" rx="2.0" ry="1.8"/><ellipse cx="524.3" cy="60.9" rx="2.0" ry="1.8"/></g></g><clipPath id="cp4"><rect x="534.6" y="36.1" width="31.1" height="30.5"/></clipPath><g clip-path="url(#cp4)"><rect x="534.60" y="36.10" width="31.10" height="30.50" fill="#020206" /><g filter="url(#bl2)"><ellipse cx="546.6" cy="58.1" rx="3.0" ry="2.4" fill="#1c9a58" opacity="0.8"/><ellipse cx="554.6" cy="50.1" rx="5.0" ry="4.0" fill="#1c9a58" opacity="0.5"/></g><g filter="url(#bl06)"><ellipse cx="555.6" cy="50.1" rx="4.5" ry="5" fill="#2a8ad0"/><ellipse cx="550.6" cy="58.1" rx="3.8" ry="4.5" fill="#2aa0c0"/><ellipse cx="560.6" cy="46.1" rx="3" ry="3.2" fill="#3d63d8"/></g></g><rect x="535.0" y="36.5" width="30.3" height="29.7" fill="none" stroke="#e0e0e0" stroke-width="0.9"/><text x="536.6" y="45.6" font-size="8.5" fill="#ffffff">Trp63</text><clipPath id="cp5"><rect x="572.9" y="36.1" width="85.1" height="85.1"/></clipPath><g clip-path="url(#cp5)"><rect x="572.90" y="36.10" width="85.10" height="85.10" fill="#0b0719" /><g filter="url(#bl15)" fill="#4c1c5a" opacity="0.85"><polygon points="575.4,60.9 585.3,54.7 594.0,48.5 602.7,47.3 601.5,58.5 591.5,63.4 576.6,64.7"/><polygon points="594.0,79.6 605.2,72.1 622.6,69.6 630.0,73.4 628.8,90.8 615.1,94.5 601.5,89.5"/><polygon points="574.1,98.2 587.8,92.0 605.2,92.0 610.2,100.7 605.2,110.6 597.7,113.1 580.4,105.7"/><polygon points="631.3,83.3 647.4,80.8 658.0,85.8 658.0,105.7 642.5,105.7 632.5,95.7"/><polygon points="597.7,36.1 627.6,36.1 627.6,48.5 610.2,49.8 600.2,43.6"/><polygon points="572.9,77.1 580.4,78.3 577.9,85.8 572.9,88.3"/></g><g filter="url(#bl1)" fill="#8a3296" opacity="0.9"><polygon points="577.9,62.8 591.5,57.2 597.7,54.7 595.3,60.9 580.4,64.7"/><polygon points="594.0,79.6 601.5,74.6 604.0,77.1 596.5,80.8"/><polygon points="595.3,95.7 607.7,93.2 610.2,100.7 602.7,105.7"/></g><rect x="572.9" y="36.1" width="85.1" height="85.1" fill="#000" filter="url(#mott)" opacity="0.35"/><g filter="url(#bl06)" fill="#4264d2"><ellipse cx="592.8" cy="39.8" rx="3.2" ry="2.9"/><ellipse cx="601.5" cy="39.2" rx="2.7" ry="2.5"/><ellipse cx="615.1" cy="41.1" rx="3.2" ry="2.9"/><ellipse cx="591.5" cy="47.3" rx="2.7" ry="2.5"/><ellipse cx="586.6" cy="53.5" rx="2.7" ry="2.5"/><ellipse cx="601.5" cy="51.0" rx="2.7" ry="2.5"/><ellipse cx="599.6" cy="59.7" rx="3.2" ry="2.9"/><ellipse cx="608.9" cy="58.5" rx="3.2" ry="2.9"/><ellipse cx="622.6" cy="54.7" rx="3.7" ry="3.0"/><ellipse cx="579.1" cy="58.5" rx="2.7" ry="2.5"/><ellipse cx="584.1" cy="65.9" rx="3.2" ry="2.9"/><ellipse cx="601.5" cy="65.9" rx="2.7" ry="2.5"/><ellipse cx="610.2" cy="65.9" rx="3.2" ry="2.9"/><ellipse cx="584.1" cy="72.1" rx="3.7" ry="3.4"/><ellipse cx="592.8" cy="74.6" rx="2.7" ry="2.5"/><ellipse cx="611.4" cy="72.1" rx="2.7" ry="2.5"/><ellipse cx="605.2" cy="78.3" rx="3.2" ry="2.9"/><ellipse cx="608.9" cy="80.8" rx="2.7" ry="2.5"/><ellipse cx="607.7" cy="85.8" rx="3.2" ry="2.9"/><ellipse cx="620.1" cy="78.3" rx="3.7" ry="3.4"/><ellipse cx="622.6" cy="80.8" rx="3.7" ry="3.4"/><ellipse cx="625.1" cy="88.3" rx="3.2" ry="2.9"/><ellipse cx="612.7" cy="88.3" rx="2.7" ry="2.5"/><ellipse cx="604.0" cy="88.3" rx="2.7" ry="2.5"/><ellipse cx="576.6" cy="87.0" rx="2.7" ry="2.5"/><ellipse cx="580.4" cy="95.7" rx="3.7" ry="3.2"/><ellipse cx="586.6" cy="95.7" rx="2.7" ry="2.5"/><ellipse cx="597.7" cy="100.7" rx="3.7" ry="3.4"/><ellipse cx="602.7" cy="97.0" rx="3.2" ry="2.9"/><ellipse cx="608.9" cy="99.5" rx="2.7" ry="2.5"/><ellipse cx="613.9" cy="97.0" rx="3.2" ry="2.9"/><ellipse cx="576.6" cy="103.2" rx="3.2" ry="2.9"/><ellipse cx="586.6" cy="108.2" rx="2.7" ry="2.5"/><ellipse cx="604.0" cy="106.9" rx="2.7" ry="2.5"/><ellipse cx="610.2" cy="105.7" rx="2.7" ry="2.5"/><ellipse cx="621.4" cy="101.9" rx="2.7" ry="2.5"/><ellipse cx="637.5" cy="83.3" rx="3.2" ry="2.9"/><ellipse cx="643.7" cy="94.5" rx="3.7" ry="3.4"/><ellipse cx="649.9" cy="78.3" rx="3.2" ry="2.9"/><ellipse cx="635.0" cy="100.7" rx="2.7" ry="2.5"/><ellipse cx="638.7" cy="110.6" rx="2.7" ry="2.5"/><ellipse cx="579.1" cy="113.1" rx="3.2" ry="2.9"/><ellipse cx="591.5" cy="115.6" rx="2.7" ry="2.5"/><ellipse cx="616.4" cy="113.1" rx="2.7" ry="2.5"/><ellipse cx="627.6" cy="113.1" rx="2.7" ry="2.5"/><ellipse cx="654.9" cy="90.8" rx="2.7" ry="2.5"/><ellipse cx="649.9" cy="105.7" rx="2.7" ry="2.5"/><ellipse cx="632.5" cy="115.6" rx="2.7" ry="2.5"/></g></g><clipPath id="cp6"><rect x="627" y="36.1" width="31" height="30.5"/></clipPath><g clip-path="url(#cp6)"><rect x="627.00" y="36.10" width="31.00" height="30.50" fill="#020206" /><g filter="url(#bl2)"><ellipse cx="641.0" cy="56.1" rx="5.0" ry="4.0" fill="#1c9a58" opacity="0.6"/></g><g filter="url(#bl06)"><ellipse cx="634.4" cy="50.1" rx="5.2" ry="7.2" fill="#2aa8c8"/><ellipse cx="642.8" cy="58.4" rx="4.4" ry="5.4" fill="#1fa060"/><ellipse cx="652.5" cy="49.1" rx="5" ry="6.6" fill="#3d66d6"/></g></g><rect x="627.4" y="36.5" width="30.2" height="29.7" fill="none" stroke="#e0e0e0" stroke-width="0.9"/><text x="629.0" y="45.6" font-size="8.5" fill="#ffffff">Trp63</text><line x1="634.00" y1="64.40" x2="656.70" y2="64.40" stroke="#ffffff" stroke-width="1.2" /><text x="624.8" y="112.3" font-size="11.3" fill="#ffffff">50µm</text><line x1="639.50" y1="117.90" x2="653.40" y2="117.90" stroke="#ffffff" stroke-width="2.2" /><rect x="402.30" y="143.40" width="24.57" height="12.20" fill="#ee9878" /><rect x="426.57" y="143.40" width="24.57" height="12.20" fill="#ee7f58" /><rect x="450.84" y="143.40" width="24.57" height="12.20" fill="#ee8e6e" /><rect x="475.11" y="143.40" width="24.57" height="12.20" fill="#5f67ae" /><rect x="499.38" y="143.40" width="24.57" height="12.20" fill="#7b7fba" /><rect x="523.65" y="143.40" width="24.57" height="12.20" fill="#6670b2" /><rect x="547.92" y="143.40" width="24.57" height="12.20" fill="#c8c8e2" /><rect x="572.19" y="143.40" width="24.57" height="12.20" fill="#dcdcec" /><rect x="596.46" y="143.40" width="24.57" height="12.20" fill="#dcdcec" /><rect x="402.30" y="155.30" width="24.57" height="12.20" fill="#ee8462" /><rect x="426.57" y="155.30" width="24.57" height="12.20" fill="#ee6d45" /><rect x="450.84" y="155.30" width="24.57" height="12.20" fill="#f0a080" /><rect x="475.11" y="155.30" width="24.57" height="12.20" fill="#a2a4ce" /><rect x="499.38" y="155.30" width="24.57" height="12.20" fill="#7a7eba" /><rect x="523.65" y="155.30" width="24.57" height="12.20" fill="#9ea0cc" /><rect x="547.92" y="155.30" width="24.57" height="12.20" fill="#9496c6" /><rect x="572.19" y="155.30" width="24.57" height="12.20" fill="#ccccE4" /><rect x="596.46" y="155.30" width="24.57" height="12.20" fill="#8a8cc2" /><rect x="402.30" y="167.20" width="24.57" height="12.20" fill="#ee8e6e" /><rect x="426.57" y="167.20" width="24.57" height="12.20" fill="#ee8060" /><rect x="450.84" y="167.20" width="24.57" height="12.20" fill="#ee9070" /><rect x="475.11" y="167.20" width="24.57" height="12.20" fill="#5660ac" /><rect x="499.38" y="167.20" width="24.57" height="12.20" fill="#545caa" /><rect x="523.65" y="167.20" width="24.57" height="12.20" fill="#8e90c4" /><rect x="547.92" y="167.20" width="24.57" height="12.20" fill="#fae2d8" /><rect x="572.19" y="167.20" width="24.57" height="12.20" fill="#e8e8f2" /><rect x="596.46" y="167.20" width="24.57" height="12.20" fill="#a6a8d0" /><rect x="402.30" y="179.10" width="24.57" height="12.20" fill="#5a62ac" /><rect x="426.57" y="179.10" width="24.57" height="12.20" fill="#4657a8" /><rect x="450.84" y="179.10" width="24.57" height="12.20" fill="#9090c4" /><rect x="475.11" y="179.10" width="24.57" height="12.20" fill="#f2ac92" /><rect x="499.38" y="179.10" width="24.57" height="12.20" fill="#ee8e6e" /><rect x="523.65" y="179.10" width="24.57" height="12.20" fill="#f2aa8e" /><rect x="547.92" y="179.10" width="24.57" height="12.20" fill="#f5cfc0" /><rect x="572.19" y="179.10" width="24.57" height="12.20" fill="#f2bca8" /><rect x="596.46" y="179.10" width="24.57" height="12.20" fill="#fae0d6" /><rect x="402.30" y="191.00" width="24.57" height="12.20" fill="#3553a8" /><rect x="426.57" y="191.00" width="24.57" height="12.20" fill="#5f63ae" /><rect x="450.84" y="191.00" width="24.57" height="12.20" fill="#e6e6f0" /><rect x="475.11" y="191.00" width="24.57" height="12.20" fill="#f2bea8" /><rect x="499.38" y="191.00" width="24.57" height="12.20" fill="#f2a084" /><rect x="523.65" y="191.00" width="24.57" height="12.20" fill="#f2aa90" /><rect x="547.92" y="191.00" width="24.57" height="12.20" fill="#fae4dc" /><rect x="572.19" y="191.00" width="24.57" height="12.20" fill="#f5d6ca" /><rect x="596.46" y="191.00" width="24.57" height="12.20" fill="#f2b8a2" /><rect x="402.30" y="202.90" width="24.57" height="12.20" fill="#ee9070" /><rect x="426.57" y="202.90" width="24.57" height="12.20" fill="#ee8462" /><rect x="450.84" y="202.90" width="24.57" height="12.20" fill="#ee9070" /><rect x="475.11" y="202.90" width="24.57" height="12.20" fill="#5860ac" /><rect x="499.38" y="202.90" width="24.57" height="12.20" fill="#525aa8" /><rect x="523.65" y="202.90" width="24.57" height="12.20" fill="#6c72b4" /><rect x="547.92" y="202.90" width="24.57" height="12.20" fill="#f9f6f5" /><rect x="572.19" y="202.90" width="24.57" height="12.20" fill="#f9f6f5" /><rect x="596.46" y="202.90" width="24.57" height="12.20" fill="#e6e6f0" /><rect x="402.30" y="214.80" width="24.57" height="12.20" fill="#f2b8a2" /><rect x="426.57" y="214.80" width="24.57" height="12.20" fill="#ee5e35" /><rect x="450.84" y="214.80" width="24.57" height="12.20" fill="#f7d4c5" /><rect x="475.11" y="214.80" width="24.57" height="12.20" fill="#5a62ac" /><rect x="499.38" y="214.80" width="24.57" height="12.20" fill="#5860ac" /><rect x="523.65" y="214.80" width="24.57" height="12.20" fill="#7276b6" /><rect x="547.92" y="214.80" width="24.57" height="12.20" fill="#f5d0c2" /><rect x="572.19" y="214.80" width="24.57" height="12.20" fill="#fae6dc" /><rect x="596.46" y="214.80" width="24.57" height="12.20" fill="#dadaea" /><rect x="402.3" y="143.4" width="218.43" height="83.30" fill="none" stroke="#222" stroke-width="0.9"/><line x1="475.11" y1="143.40" x2="475.11" y2="226.70" stroke="#222" stroke-width="0.9" /><line x1="547.92" y1="143.40" x2="547.92" y2="226.70" stroke="#222" stroke-width="0.9" /><text x="438.7" y="137.7" font-size="9" text-anchor="middle">Ctrl</text><text x="511.5" y="137.7" font-size="9" text-anchor="middle">KO</text><text x="584.5" y="137.7" font-size="9" text-anchor="middle">Hypo</text><text x="622.9" y="152.2" font-size="9">Nudt21</text><text x="622.9" y="164.1" font-size="9">Cpsf6</text><text x="622.9" y="176.0" font-size="9">Cpsf7</text><text x="622.9" y="187.9" font-size="9">Tp63</text><text x="622.9" y="199.8" font-size="9">Sox2</text><text x="622.9" y="211.7" font-size="9">Krt13</text><text x="622.9" y="223.6" font-size="9">Ppl</text><line x1="654.60" y1="143.90" x2="654.60" y2="176.10" stroke="#222" stroke-width="0.9" /><line x1="654.60" y1="180.70" x2="654.60" y2="202.10" stroke="#222" stroke-width="0.9" /><line x1="654.60" y1="205.20" x2="654.60" y2="227.00" stroke="#222" stroke-width="0.9" /><text x="657.4" y="162.3" font-size="9">CFIm</text><text x="657.4" y="194.5" font-size="9">Basal</text><text x="657.4" y="213.2" font-size="9">Supra-</text><text x="657.4" y="223.9" font-size="9">basal</text><text x="418.0" y="239.7" font-size="8.6" text-anchor="middle">proteomics</text><text x="417.5" y="250.5" font-size="8.6" text-anchor="middle">(z-score)</text><rect x="447.40" y="236.20" width="128.50" height="8.40" fill="url(#gProt)" stroke="#333" stroke-width="0.6"/><text x="451.2" y="243.8" font-size="8.8" text-anchor="middle" fill="#231f20">2</text><text x="480.5" y="243.8" font-size="8.8" text-anchor="middle" fill="#231f20">1</text><text x="511.5" y="243.8" font-size="8.8" text-anchor="middle" fill="#231f20">0</text><text x="539.0" y="243.8" font-size="8.8" text-anchor="middle" fill="#ffffff">−1</text><text x="569.5" y="243.8" font-size="8.8" text-anchor="middle" fill="#ffffff">−2</text><text x="-0.8" y="291.2" font-size="20.5" font-weight="bold">d</text><text x="108.0" y="290.9" font-size="11.4" text-anchor="middle">KO vs Control</text><rect x="46.40" y="303.40" width="123.20" height="129.30" fill="#ffffff" /><line x1="52.00" y1="303.40" x2="52.00" y2="432.70" stroke="#f0f0f0" stroke-width="0.5" /><line x1="46.40" y1="425.90" x2="169.60" y2="425.90" stroke="#f0f0f0" stroke-width="0.5" /><line x1="89.34" y1="303.40" x2="89.34" y2="432.70" stroke="#f0f0f0" stroke-width="0.5" /><line x1="46.40" y1="386.90" x2="169.60" y2="386.90" stroke="#f0f0f0" stroke-width="0.5" /><line x1="126.66" y1="303.40" x2="126.66" y2="432.70" stroke="#f0f0f0" stroke-width="0.5" /><line x1="46.40" y1="347.90" x2="169.60" y2="347.90" stroke="#f0f0f0" stroke-width="0.5" /><line x1="164.00" y1="303.40" x2="164.00" y2="432.70" stroke="#f0f0f0" stroke-width="0.5" /><line x1="46.40" y1="308.90" x2="169.60" y2="308.90" stroke="#f0f0f0" stroke-width="0.5" /><line x1="70.67" y1="303.40" x2="70.67" y2="432.70" stroke="#e2e2e2" stroke-width="0.8" /><line x1="46.40" y1="406.40" x2="169.60" y2="406.40" stroke="#e2e2e2" stroke-width="0.8" /><line x1="108.00" y1="303.40" x2="108.00" y2="432.70" stroke="#e2e2e2" stroke-width="0.8" /><line x1="46.40" y1="367.40" x2="169.60" y2="367.40" stroke="#e2e2e2" stroke-width="0.8" /><line x1="145.33" y1="303.40" x2="145.33" y2="432.70" stroke="#e2e2e2" stroke-width="0.8" /><line x1="46.40" y1="328.40" x2="169.60" y2="328.40" stroke="#e2e2e2" stroke-width="0.8" /><clipPath id="cp7"><rect x="46.4" y="303.4" width="123.2" height="129.3"/></clipPath><g clip-path="url(#cp7)"><path d="M98.1 375.9h0M99.9 377.0h0M90.3 386.7h0M116.6 356.9h0M115.9 358.3h0M107.4 367.4h0M78.6 395.1h0M108.4 365.3h0M82.6 400.1h0M91.2 386.6h0M106.6 369.0h0M110.5 367.1h0M105.9 368.2h0M90.6 379.5h0M107.9 363.3h0M95.3 383.3h0M98.0 378.3h0M110.5 363.9h0M98.0 381.2h0M93.4 378.4h0M91.1 384.2h0M110.6 369.9h0M100.9 370.3h0M75.9 402.1h0M102.3 376.2h0M109.2 366.4h0M81.3 392.4h0M109.8 362.2h0M121.2 352.4h0M106.2 373.9h0M111.7 365.7h0M98.4 381.8h0M90.3 387.8h0M123.1 358.7h0M82.4 393.3h0M120.8 352.0h0M81.1 404.3h0M108.4 369.5h0M85.7 387.3h0M116.9 357.5h0M105.0 369.0h0M122.8 349.8h0M108.5 365.0h0M79.2 393.0h0M114.3 358.9h0M76.9 402.1h0M116.8 364.6h0M98.2 374.0h0M82.1 388.8h0M110.1 365.8h0M105.7 367.5h0M102.1 369.5h0M94.2 383.3h0M116.4 358.6h0M89.0 384.0h0M122.8 353.5h0M84.1 392.9h0M100.9 375.9h0M123.0 355.3h0M121.5 357.8h0M90.8 383.2h0M116.1 355.9h0M106.8 368.2h0M103.5 370.1h0M99.6 375.2h0M110.1 365.2h0M111.7 361.5h0M128.9 344.5h0M97.3 379.9h0M100.7 371.8h0M97.2 377.3h0M131.4 352.0h0M86.9 388.6h0M107.4 367.2h0M95.5 378.2h0M107.1 370.2h0M134.5 338.5h0M95.1 381.2h0M99.5 376.5h0M66.6 412.4h0M117.9 361.1h0M99.9 372.5h0M111.4 358.6h0M80.1 397.8h0M96.8 376.9h0M121.6 362.6h0M119.5 360.5h0M114.1 366.3h0M102.8 368.7h0M100.1 375.0h0M112.9 361.8h0M98.6 371.8h0M117.0 359.0h0M141.2 336.7h0M115.1 360.9h0M103.0 370.2h0M104.3 369.0h0M84.4 397.3h0M112.3 366.3h0M91.1 390.2h0M118.2 354.2h0M123.8 354.2h0M104.3 375.2h0M110.0 359.7h0M87.8 383.0h0M116.0 359.7h0M73.5 398.5h0M102.1 375.7h0M107.1 366.9h0M124.2 354.0h0M115.2 354.7h0M122.2 353.2h0M90.7 381.9h0M103.7 371.4h0M122.0 353.7h0M72.2 406.2h0M76.1 397.8h0M107.7 369.9h0M100.9 371.9h0M101.2 369.8h0M99.8 372.3h0M119.7 349.5h0M91.9 381.1h0M79.0 401.5h0M74.2 398.9h0M85.9 390.6h0M99.9 376.0h0M94.1 381.1h0M126.4 348.0h0M107.9 364.0h0M101.9 378.2h0M93.1 379.2h0M81.3 397.4h0M114.6 357.7h0M101.2 371.7h0M106.6 373.0h0M82.5 396.3h0M115.8 361.3h0M91.6 387.3h0M82.0 395.0h0M85.9 389.2h0M70.1 405.8h0M97.0 385.7h0M112.6 363.6h0M73.9 406.1h0M107.1 370.0h0M111.6 361.0h0M110.8 363.3h0M119.2 353.4h0M112.0 370.6h0M112.2 358.4h0M99.2 378.2h0M131.4 349.1h0M104.6 362.4h0M88.8 385.1h0M128.0 347.0h0M108.4 363.8h0M90.4 386.1h0M104.9 367.7h0M102.3 374.1h0M89.3 388.1h0M114.2 360.6h0M92.4 386.7h0M136.3 333.8h0M115.3 368.9h0M109.9 363.7h0M124.3 348.9h0M100.6 373.3h0M74.5 398.7h0M107.9 369.9h0M117.2 351.5h0M84.7 394.1h0M106.0 368.8h0M98.7 380.6h0M129.2 341.7h0M88.6 392.4h0M123.6 347.6h0M125.5 346.3h0M90.2 385.0h0M74.6 404.9h0M100.7 373.2h0M92.8 383.7h0M107.9 366.2h0M110.6 363.9h0M96.7 376.4h0M104.5 374.0h0M94.0 382.0h0M100.7 374.5h0M102.1 372.9h0M102.7 377.3h0M106.3 365.5h0M108.6 367.5h0M110.0 368.7h0M76.8 399.8h0M88.7 385.0h0M92.2 393.1h0M85.8 385.1h0M99.6 381.0h0M91.3 383.1h0M108.8 366.0h0M121.2 351.2h0M101.1 372.5h0M123.0 348.3h0M118.0 360.8h0M99.2 374.1h0M96.6 375.5h0M108.9 363.3h0M95.3 371.8h0M119.4 356.2h0M99.3 367.4h0M96.3 376.5h0M115.6 359.5h0M86.4 389.3h0M105.3 366.2h0M112.9 362.2h0M113.0 360.3h0M105.1 370.3h0M98.0 375.5h0M89.3 389.2h0M104.9 375.7h0M99.9 382.9h0M92.3 381.8h0M110.1 365.4h0M101.7 379.0h0M126.1 346.7h0M118.6 359.4h0M103.0 379.0h0M111.3 360.7h0M77.0 400.0h0M113.8 367.5h0M79.7 400.7h0M96.3 384.5h0M102.4 372.4h0M109.7 363.1h0M120.6 350.1h0M85.6 392.6h0M90.0 390.0h0M101.3 374.4h0M111.7 369.2h0M85.8 390.7h0M100.2 376.6h0M102.8 375.5h0M111.2 362.8h0M102.4 375.7h0M104.6 380.5h0M89.2 387.0h0M81.9 394.0h0M106.7 373.6h0M99.6 377.3h0M107.6 365.7h0M103.3 375.3h0M100.6 375.4h0M111.8 362.4h0M95.0 385.8h0M98.6 379.8h0M87.7 389.1h0M95.6 380.0h0M110.1 366.6h0M134.2 341.2h0M117.0 357.6h0M121.4 361.7h0M91.9 383.4h0M106.6 360.7h0M104.6 366.5h0M111.1 360.8h0M109.5 366.4h0M111.1 368.0h0M120.0 358.4h0M102.2 366.0h0M99.4 376.4h0M118.0 356.9h0M91.1 384.1h0M109.0 363.8h0M89.1 381.0h0M124.8 349.8h0M106.7 370.2h0M122.6 354.6h0M112.3 364.6h0M91.9 381.7h0M120.3 354.5h0M91.9 381.3h0M101.2 373.4h0M121.0 349.9h0M91.6 376.5h0M101.1 371.8h0M93.8 382.4h0M75.9 394.7h0M122.8 356.2h0M84.9 397.2h0M119.0 357.5h0M102.1 374.6h0M102.6 376.9h0M105.1 375.4h0M100.9 373.7h0M109.1 367.1h0M90.0 385.7h0M93.3 377.3h0M112.9 362.7h0M97.2 381.1h0M90.4 387.0h0M105.5 368.2h0M106.5 361.6h0M92.9 383.1h0M143.1 337.3h0M95.1 380.3h0M103.8 370.4h0M98.6 376.0h0M101.8 371.2h0M78.5 401.4h0M104.1 375.1h0M87.3 386.8h0M92.6 381.3h0M111.9 362.2h0M109.4 366.3h0M83.5 393.1h0M109.4 367.8h0M99.8 373.3h0M89.5 384.5h0M128.4 348.1h0M104.6 371.5h0M122.6 351.1h0M115.6 361.9h0M102.2 373.5h0M76.1 395.7h0M117.4 363.7h0M112.6 363.0h0M107.8 366.3h0M82.6 394.7h0M123.4 353.3h0M90.9 390.0h0M85.4 389.8h0M124.4 348.7h0M101.9 365.9h0M96.6 381.7h0M108.6 364.9h0M90.7 389.6h0M105.9 368.7h0M85.2 392.0h0M94.3 380.1h0M101.0 375.0h0M95.9 376.4h0M121.7 354.4h0M115.0 362.7h0M102.1 370.9h0M123.4 352.7h0M101.1 373.9h0M82.2 394.3h0M92.7 382.1h0M90.5 392.6h0M102.5 372.3h0M93.5 379.4h0M99.7 378.1h0M111.5 369.3h0M93.3 382.8h0M114.1 361.6h0M107.6 370.1h0M103.7 366.1h0M89.2 378.7h0M93.7 382.3h0M103.0 369.0h0M89.3 394.3h0M109.2 363.3h0M106.4 359.9h0M104.7 369.9h0M114.3 359.6h0M126.8 352.1h0M103.1 384.6h0M113.9 362.5h0M111.2 356.5h0M102.7 373.8h0M97.1 381.7h0M92.9 381.0h0M102.8 372.6h0M98.5 374.1h0M109.3 366.6h0M111.6 364.2h0M84.5 386.9h0M110.3 368.4h0M116.3 357.5h0M78.7 392.4h0M105.4 367.0h0M105.3 370.7h0M80.0 393.3h0M103.3 373.3h0M107.0 368.2h0M112.1 364.4h0M105.5 377.5h0M95.6 378.0h0M121.0 355.1h0M98.1 372.2h0M96.8 376.5h0M124.9 349.6h0M120.1 357.3h0M105.3 370.5h0M102.0 369.7h0M135.6 340.9h0M93.8 380.5h0M87.4 387.2h0M110.6 365.7h0M112.1 368.5h0M115.2 365.3h0M94.0 384.0h0M95.6 377.4h0M104.2 372.8h0M107.0 362.8h0M101.9 372.5h0M118.6 355.4h0M81.0 386.9h0M135.4 345.7h0M101.2 373.1h0M114.3 358.5h0M100.5 378.9h0M102.0 370.0h0M89.5 390.4h0M105.3 377.0h0M99.6 377.7h0M109.6 368.2h0M91.2 386.3h0M102.8 375.1h0M101.3 371.8h0M115.5 353.6h0M92.6 385.0h0M65.8 404.8h0M92.7 383.5h0M111.7 368.3h0M108.7 366.8h0M77.4 398.4h0M121.6 359.8h0M112.9 361.5h0M108.0 365.8h0M120.3 355.3h0M114.8 361.7h0M113.6 364.5h0M98.0 371.7h0M108.7 367.3h0M88.3 390.7h0M103.4 368.9h0M107.2 366.3h0M99.6 371.5h0M98.1 379.7h0M114.2 360.7h0M99.6 378.2h0M97.9 375.8h0M109.2 370.4h0M107.8 367.0h0M87.7 385.9h0M99.2 377.8h0M110.9 359.8h0M92.4 382.1h0M86.7 381.5h0M93.8 378.1h0M92.3 380.9h0M136.5 346.6h0M95.7 378.5h0M102.3 375.7h0M131.2 342.9h0M78.9 394.8h0M77.3 395.4h0M94.4 381.1h0M119.1 355.3h0M86.6 395.8h0M117.0 355.3h0M90.0 383.2h0M108.0 365.1h0M72.6 405.5h0M113.3 359.3h0M118.4 365.2h0M103.8 370.0h0M138.3 339.1h0M97.9 377.8h0M115.1 361.6h0M119.1 358.5h0M106.9 370.4h0M105.7 372.2h0M79.1 393.8h0M107.4 370.0h0M103.4 368.7h0M89.4 387.2h0M108.8 364.8h0M101.4 381.7h0M118.6 355.2h0M103.0 373.6h0M106.7 370.3h0M89.9 388.9h0M95.4 382.7h0M85.8 388.4h0M83.7 390.5h0M88.2 386.9h0M120.5 353.6h0M92.5 383.4h0M107.3 374.2h0M94.0 381.5h0M96.0 379.7h0M111.0 361.6h0M113.6 359.5h0M98.6 377.3h0M99.3 377.6h0M102.9 378.8h0M98.0 378.0h0M89.4 387.0h0M109.6 366.3h0M134.7 348.7h0M102.7 379.4h0M111.1 354.8h0M68.6 408.2h0M109.9 366.5h0M113.6 369.4h0M113.2 360.6h0M103.7 374.0h0M111.8 365.1h0M106.3 371.0h0M72.3 404.9h0M103.9 369.1h0M90.7 385.6h0M110.4 364.3h0M115.8 352.3h0M93.4 389.4h0M111.3 358.5h0M113.4 358.9h0M95.3 383.2h0M115.9 362.4h0M79.7 400.5h0M132.7 334.9h0M94.4 384.2h0M106.8 371.3h0M120.1 355.0h0M85.6 386.2h0M94.2 381.0h0M102.8 374.0h0M107.9 369.9h0M81.3 403.0h0M86.7 392.4h0M102.0 373.5h0M109.7 365.2h0M92.9 385.6h0M74.2 403.3h0M108.0 365.5h0M101.1 375.3h0M115.0 360.1h0M111.3 361.9h0M103.1 368.0h0M95.3 381.9h0M92.9 386.0h0M120.4 348.3h0M101.8 371.9h0M116.8 355.3h0M120.7 358.5h0M93.0 381.4h0M121.5 352.9h0M91.5 385.9h0M95.0 384.0h0M123.6 353.3h0M99.0 369.2h0M117.8 356.0h0M93.5 381.1h0M123.1 349.4h0M119.2 355.4h0M109.7 366.4h0M106.0 365.0h0M83.3 393.5h0M106.6 370.9h0M96.9 376.2h0M128.2 344.0h0M109.4 371.4h0M128.2 346.1h0M103.8 375.7h0M103.5 376.0h0M102.6 371.4h0M102.4 372.3h0M88.6 382.7h0M96.7 385.6h0M101.2 377.2h0M89.4 388.1h0M108.3 371.2h0M98.2 372.7h0M111.8 363.9h0M104.3 371.7h0M100.5 372.6h0M105.2 378.8h0M103.6 375.1h0M112.2 365.2h0M100.7 367.3h0M90.2 389.9h0M87.5 397.3h0M76.5 399.0h0M97.0 385.5h0M81.4 393.0h0M92.6 384.8h0M104.6 366.2h0M126.8 344.2h0M104.0 370.9h0M124.2 345.4h0M97.5 376.8h0M106.2 369.1h0M97.9 382.6h0M97.8 383.5h0M117.9 355.1h0M83.8 387.7h0M117.6 364.1h0M125.8 346.0h0M132.2 346.4h0M108.8 365.1h0M104.8 370.1h0M119.1 361.1h0M88.1 393.1h0M95.9 382.1h0M106.9 367.6h0M104.0 374.0h0M94.9 377.8h0M112.5 362.4h0M95.5 375.1h0M93.3 380.5h0M118.3 357.5h0M115.4 363.6h0M115.7 358.7h0M80.0 394.4h0M88.3 383.5h0M93.6 383.1h0M106.8 369.9h0M106.8 370.6h0M111.4 363.8h0M109.9 375.1h0M118.0 356.9h0M78.3 398.1h0M106.9 364.8h0M85.3 385.7h0M96.2 371.3h0M99.3 374.1h0M99.3 380.4h0M115.6 356.3h0M121.6 350.1h0M97.5 384.2h0M94.8 383.6h0M90.5 383.7h0M107.3 369.1h0M105.0 371.1h0M104.0 368.9h0M116.4 361.0h0M79.8 391.9h0M102.1 369.7h0M80.9 396.9h0M105.2 375.4h0M94.3 379.2h0M114.2 355.3h0M93.1 387.8h0M107.8 364.3h0M107.2 372.8h0M111.6 360.9h0M110.7 366.3h0M105.2 367.6h0M98.0 384.3h0M106.0 367.8h0M101.1 371.5h0M94.7 381.6h0M97.3 376.5h0M124.3 351.3h0M127.4 341.7h0M112.0 361.1h0M126.5 348.7h0M102.7 376.7h0M106.5 364.3h0M108.8 365.0h0M99.4 375.8h0M81.5 391.4h0M98.7 380.9h0M93.7 385.2h0M112.1 359.4h0M82.6 390.7h0M115.3 361.8h0M83.7 395.4h0M93.3 381.5h0M101.0 381.8h0M108.1 372.7h0M116.6 362.7h0M94.5 384.5h0M92.9 378.6h0M112.8 360.2h0M109.3 371.5h0M96.3 381.5h0M88.4 386.1h0M93.6 384.9h0M91.8 391.5h0M108.2 362.6h0M106.4 372.5h0M65.8 410.9h0M118.2 355.7h0M112.4 357.6h0M118.3 358.2h0M115.2 357.1h0M82.4 395.5h0M83.4 393.4h0M112.0 367.0h0M72.6 399.8h0M105.0 365.4h0M82.8 390.0h0M126.9 340.6h0M99.1 375.7h0M98.7 373.7h0M116.2 358.5h0M82.9 391.0h0M95.0 378.7h0M103.2 366.7h0M118.4 358.1h0M104.1 365.3h0M94.5 380.0h0M116.3 354.3h0M111.6 368.3h0M85.0 390.5h0M103.3 363.3h0M88.9 383.3h0M115.6 365.4h0M91.1 384.4h0M96.0 380.5h0M110.1 368.1h0M109.7 367.8h0M94.2 380.0h0M94.2 380.8h0M123.8 350.7h0M99.2 374.0h0M95.7 376.5h0M84.1 390.2h0M96.9 381.8h0M127.6 349.9h0M124.9 347.4h0M123.6 354.6h0M116.1 353.9h0M101.1 375.1h0M135.1 338.5h0M97.8 380.3h0M107.8 366.4h0M101.9 367.7h0M97.2 377.0h0M123.7 354.5h0M113.3 355.5h0M86.0 394.2h0M91.5 391.1h0M111.6 370.2h0M106.7 363.7h0M81.2 396.5h0M75.3 398.8h0M92.9 384.1h0M102.2 371.5h0M97.7 378.1h0M94.9 380.7h0M86.5 389.6h0M77.3 401.2h0M128.0 346.2h0M85.0 390.5h0M92.1 389.8h0M91.3 382.3h0M107.7 368.0h0M91.8 388.2h0M120.1 353.9h0M93.2 390.3h0M79.8 388.1h0M87.1 389.5h0M105.5 370.6h0M101.0 379.6h0M85.4 385.0h0M90.8 382.4h0M80.1 397.5h0M104.2 367.8h0M86.3 388.0h0M108.8 369.1h0M110.3 368.1h0M91.7 384.5h0M66.1 411.5h0M91.4 389.9h0M95.4 377.9h0M94.8 376.7h0M89.0 391.8h0M122.6 350.8h0M116.5 361.4h0M112.8 361.5h0M111.1 364.1h0M119.7 357.5h0M91.9 389.4h0M119.2 358.3h0M90.0 389.5h0M98.6 381.7h0M99.6 378.4h0M96.6 382.7h0M103.7 373.5h0M103.5 371.2h0M110.7 372.3h0M96.5 382.2h0M115.5 365.1h0M93.3 383.8h0M96.2 376.2h0M94.8 377.8h0M85.7 397.0h0M118.1 355.4h0M108.7 366.2h0M111.0 368.6h0M116.0 360.9h0M115.5 359.3h0M78.0 403.2h0M117.8 357.7h0M96.7 378.4h0M97.6 380.2h0M103.5 371.6h0M122.7 351.9h0M124.6 343.7h0M123.7 347.3h0M103.9 371.2h0M101.7 376.5h0M102.6 375.3h0M123.5 349.3h0M99.6 382.9h0M102.4 374.7h0M89.7 390.5h0M71.2 403.8h0M97.2 369.6h0M102.2 373.9h0M121.6 352.7h0M105.3 371.6h0M91.7 379.1h0M113.0 356.2h0M97.6 378.1h0M88.9 383.9h0M82.7 391.8h0M114.8 355.4h0M87.9 384.5h0M94.1 384.6h0M82.7 389.8h0M125.6 351.1h0M92.8 384.5h0M134.4 336.3h0M98.1 384.0h0M91.4 380.6h0M127.9 347.5h0M94.0 383.9h0M75.5 398.1h0M86.0 386.6h0M81.6 399.5h0M107.6 370.5h0M112.9 362.3h0M85.6 388.7h0M116.9 364.8h0M126.1 346.7h0M115.7 365.8h0M93.3 384.0h0M119.3 360.7h0M93.9 389.2h0M98.6 376.0h0M80.7 398.0h0M106.6 363.3h0M111.8 364.5h0M88.1 391.4h0M93.2 382.3h0M98.9 371.0h0M108.1 371.1h0M121.6 349.9h0M105.0 373.1h0M79.0 401.3h0M116.0 361.9h0M84.3 391.4h0M104.7 368.8h0M108.8 361.6h0M89.5 383.3h0M88.0 385.9h0M104.4 370.3h0M115.4 359.7h0M115.9 356.1h0M105.2 372.3h0M93.2 384.8h0M99.7 376.1h0M141.4 330.3h0M114.2 364.0h0M93.4 383.8h0M106.7 372.4h0M125.0 351.6h0M120.8 362.2h0M101.8 372.9h0M104.0 369.5h0M105.9 369.0h0M78.2 401.1h0M69.9 405.0h0M106.9 369.3h0M92.3 385.8h0M124.3 344.3h0M99.5 371.8h0M84.3 398.9h0M97.4 381.6h0M94.6 380.8h0M144.2 331.9h0M102.6 372.1h0M100.4 372.1h0M128.3 350.5h0M105.0 371.4h0M109.8 370.9h0M82.7 402.0h0M109.1 365.5h0M107.4 376.4h0M98.6 379.8h0M84.9 394.7h0M110.9 362.5h0M101.2 372.7h0M94.2 381.6h0M102.0 371.7h0M101.7 374.5h0M101.7 376.3h0M131.6 341.0h0M104.3 363.2h0M123.9 356.3h0M110.3 362.0h0M125.5 344.5h0M114.7 364.5h0M90.2 385.0h0M110.9 368.0h0M97.9 379.4h0M102.6 371.8h0M100.6 379.4h0M116.4 353.0h0M99.3 372.9h0M107.3 365.9h0M110.2 367.8h0M108.4 363.4h0M87.1 382.4h0M127.4 340.7h0M127.9 344.0h0M98.9 379.1h0M91.3 384.5h0M100.8 372.5h0M71.4 397.6h0M133.0 341.3h0M110.7 362.9h0M106.4 369.8h0M102.1 376.4h0M104.8 370.8h0M108.1 370.3h0M102.9 372.6h0M112.3 366.6h0M106.4 365.6h0M111.0 365.5h0M96.2 380.6h0M109.6 360.3h0M101.4 376.6h0M107.1 367.6h0M91.4 387.3h0M99.9 373.5h0M88.1 391.8h0M111.2 368.4h0M103.3 371.1h0M102.6 376.6h0M102.2 374.7h0M108.3 370.0h0M119.9 360.9h0M100.0 375.7h0M116.3 360.8h0M110.7 366.6h0M109.4 359.8h0M96.3 378.1h0M88.3 384.6h0M118.6 356.2h0M86.5 388.5h0M116.0 355.2h0M116.4 365.0h0M90.9 380.3h0M84.0 388.5h0M126.4 345.5h0M118.0 358.1h0M86.1 390.6h0M99.8 376.1h0M112.0 363.7h0M104.3 369.8h0M99.2 370.1h0M108.2 366.9h0M100.7 377.3h0M120.2 354.1h0M88.8 389.4h0M101.3 375.9h0M118.9 360.1h0M108.8 366.1h0M86.5 389.7h0M100.3 373.7h0M95.8 379.0h0M81.8 398.5h0M111.2 360.4h0M103.2 374.5h0M120.5 361.7h0M90.5 383.3h0M112.9 365.9h0M74.6 397.2h0M106.0 372.7h0M101.6 370.9h0M65.7 407.7h0M115.8 366.5h0M115.8 365.6h0M117.0 356.6h0M133.7 342.7h0M100.7 371.3h0M95.0 383.5h0M97.5 378.6h0M87.0 387.6h0M109.6 365.5h0M125.8 350.0h0M120.9 355.9h0M115.8 366.0h0M105.4 370.8h0M96.8 381.3h0M98.9 379.4h0M73.9 405.1h0M95.9 381.9h0M88.4 388.3h0M113.4 362.7h0M93.5 377.8h0M114.0 357.9h0M118.5 357.6h0M98.8 373.1h0M95.2 381.2h0M106.9 367.3h0M97.0 375.4h0M98.8 374.5h0M115.7 357.1h0M114.2 365.0h0M85.8 392.7h0M106.3 363.9h0M85.5 389.9h0M92.2 386.5h0M97.5 375.9h0M103.3 368.2h0M87.7 385.5h0M114.8 360.1h0M109.8 367.5h0M88.4 389.3h0M88.9 377.2h0M93.1 377.2h0M104.6 369.9h0M113.7 364.2h0M114.1 359.7h0M81.0 393.5h0M109.1 364.7h0M124.4 351.7h0M108.0 364.8h0M88.3 383.8h0M85.1 395.9h0M111.3 367.8h0M103.6 377.8h0M105.2 374.3h0M109.6 371.1h0M108.9 367.4h0M103.4 372.5h0M106.4 373.7h0M67.9 409.2h0M90.6 387.2h0M111.5 370.7h0M93.2 385.0h0M87.6 387.5h0M101.9 376.7h0M87.8 385.7h0M92.6 381.5h0M111.6 370.3h0M87.8 388.5h0M105.7 367.1h0M111.4 360.2h0M97.7 378.9h0M113.5 363.1h0M119.3 361.2h0M111.5 364.4h0M74.3 399.1h0M106.5 368.8h0M88.7 389.2h0M124.1 353.5h0M60.9 419.6h0M86.5 390.3h0M98.6 380.4h0M89.3 383.2h0M79.7 390.1h0M96.9 382.8h0M112.0 361.2h0M87.1 386.6h0M79.2 400.7h0M118.0 357.9h0M84.0 390.6h0M114.8 360.4h0M78.7 399.2h0M106.7 366.0h0M127.7 347.7h0M96.0 380.1h0M120.2 358.0h0M124.6 359.7h0M114.3 363.2h0M107.4 365.6h0M86.7 390.0h0M104.6 368.8h0M91.6 388.0h0M72.3 395.8h0M100.2 376.3h0M80.8 392.6h0M92.8 378.2h0M113.8 361.3h0M114.0 365.0h0M99.0 378.8h0M85.3 391.0h0M98.0 372.8h0M60.6 419.3h0M90.8 387.0h0M107.4 366.6h0M103.6 373.7h0M108.4 365.7h0M78.1 399.6h0M85.9 394.6h0M104.3 371.1h0M105.4 373.2h0M101.2 377.7h0M106.4 366.7h0M123.9 346.4h0M92.3 385.4h0M89.3 385.9h0M127.8 344.2h0M75.0 406.3h0M84.2 390.5h0M101.9 372.7h0M127.7 349.7h0M87.7 381.7h0M108.3 369.8h0M77.7 404.4h0M69.4 407.4h0M101.3 370.9h0M101.7 376.4h0M89.2 380.3h0M78.4 397.7h0M101.7 371.8h0M96.1 378.1h0M113.6 362.1h0M96.6 380.0h0M89.8 387.2h0M98.0 377.1h0M118.2 352.2h0M95.4 378.4h0M105.1 367.8h0M102.2 372.5h0M97.4 381.2h0M111.9 358.7h0M110.6 363.2h0M106.7 370.3h0M77.3 397.1h0M106.0 371.4h0M87.3 384.6h0M75.2 395.5h0M107.0 360.1h0M92.8 383.4h0M95.3 380.1h0M100.8 377.5h0M118.2 359.5h0M94.6 379.4h0M95.9 381.6h0M107.8 368.9h0M85.8 390.9h0M96.6 373.3h0M86.0 387.0h0M92.4 384.9h0M97.6 377.4h0M111.1 358.1h0M91.6 379.9h0M114.4 357.8h0M90.7 382.3h0M100.4 374.1h0M97.7 375.9h0M115.5 355.6h0M98.0 374.4h0M123.5 354.5h0M124.4 354.9h0M108.7 364.6h0M121.9 351.9h0M97.3 381.4h0M84.3 389.5h0M100.4 377.8h0M110.8 367.1h0M97.3 380.2h0M122.2 347.5h0M102.9 378.2h0M106.0 369.2h0M106.1 367.4h0M96.5 376.1h0M113.3 361.1h0M97.7 379.8h0M113.6 365.5h0M101.5 376.8h0M82.7 391.8h0M102.0 373.5h0M116.7 363.6h0M101.0 373.7h0M115.4 363.5h0M111.7 362.8h0M118.7 352.2h0M106.2 361.8h0M103.1 374.0h0M99.4 379.7h0M105.2 377.0h0M100.5 373.7h0M116.3 359.9h0M122.2 354.9h0M103.7 378.4h0M93.5 385.3h0M121.1 351.9h0M87.0 387.5h0M109.1 367.0h0M103.2 373.5h0M98.2 383.7h0M99.1 372.3h0M121.7 354.1h0M92.9 383.9h0M113.6 360.3h0M94.1 380.6h0M98.9 375.2h0M99.5 381.4h0M101.9 371.2h0M88.1 388.6h0M114.5 361.9h0M90.5 378.7h0M111.6 360.1h0M87.3 383.4h0M81.6 396.8h0M109.9 360.9h0M91.3 387.1h0M108.1 373.9h0M109.8 363.6h0M95.7 378.4h0M112.0 362.1h0M106.7 363.5h0M95.9 379.5h0M93.9 378.6h0M96.3 378.0h0M104.1 371.3h0M124.9 350.0h0M119.5 352.6h0M119.8 355.6h0M113.2 359.4h0M94.0 381.1h0M100.8 375.1h0M120.5 356.8h0M83.4 399.0h0M97.6 380.5h0M101.7 372.1h0M124.7 348.9h0M109.6 368.2h0M107.7 363.1h0M123.0 358.4h0M111.4 358.5h0M115.5 364.6h0M97.5 376.4h0M109.1 369.0h0M89.3 383.7h0M82.8 388.9h0M102.2 372.5h0M86.1 392.3h0M113.7 366.4h0M131.5 347.6h0M86.5 389.7h0M107.4 365.5h0M97.9 378.6h0M100.3 377.4h0M67.5 406.4h0M105.4 369.6h0M93.9 381.3h0M102.4 373.6h0M119.5 361.2h0M107.4 371.7h0M95.9 375.0h0M88.6 388.0h0M93.2 379.6h0M92.5 389.3h0M109.6 366.9h0M96.5 375.7h0M91.5 385.9h0M103.6 370.6h0M94.1 378.5h0M132.0 343.7h0M129.9 351.6h0M121.1 354.9h0M104.7 372.0h0M96.2 384.0h0M95.2 376.4h0M117.7 358.5h0M96.7 381.6h0M84.0 386.4h0M110.8 364.1h0M97.7 381.6h0M118.1 354.2h0M88.5 384.4h0M87.1 387.1h0M90.7 386.9h0M108.1 365.8h0M116.8 361.0h0M120.6 349.7h0M101.5 372.6h0M92.6 384.0h0M85.2 390.9h0M102.8 368.3h0M113.3 359.1h0M98.1 378.5h0M97.6 377.5h0M76.3 398.0h0M83.0 395.2h0M103.5 373.8h0M124.0 351.0h0M120.8 350.1h0M95.3 379.3h0M119.7 356.3h0M104.4 373.0h0M103.7 373.1h0M101.9 370.4h0M120.2 354.3h0M103.6 369.1h0M100.4 378.9h0M118.2 359.9h0M116.0 362.3h0M127.7 350.3h0M110.9 359.3h0M87.6 383.7h0M94.6 387.3h0M110.6 362.3h0M103.9 380.2h0M102.2 374.5h0M98.0 378.9h0M80.2 398.3h0M123.1 346.4h0M98.9 379.3h0M105.8 366.1h0M113.6 365.5h0M104.3 370.8h0M119.0 351.8h0M107.2 364.1h0M94.8 376.0h0M96.3 378.3h0M115.7 362.4h0M96.2 385.7h0M104.6 371.1h0M97.4 376.8h0M75.1 401.8h0M104.0 372.5h0M109.8 359.6h0M98.2 380.8h0M94.5 381.2h0M111.3 366.8h0M116.9 361.5h0M112.4 361.4h0M104.9 363.4h0M99.3 377.1h0M107.2 365.4h0M84.7 390.8h0M91.8 382.2h0M120.0 354.7h0M100.7 374.4h0M63.0 411.8h0M109.4 365.4h0M98.5 379.8h0M98.1 373.6h0M98.9 372.4h0M70.0 408.7h0M106.0 369.6h0M82.1 396.7h0M120.6 358.6h0M91.4 388.5h0M94.2 379.6h0M113.3 368.7h0M122.2 354.6h0M92.1 378.4h0M103.3 376.4h0M95.3 383.1h0M89.9 387.4h0M113.2 360.8h0M80.1 387.2h0M89.4 386.4h0M101.6 371.5h0M97.4 376.9h0M129.4 344.7h0M87.9 387.3h0M92.6 384.7h0M104.3 370.1h0M97.4 375.7h0M102.0 378.0h0M114.3 362.0h0M119.1 358.0h0M109.3 365.0h0M70.0 412.1h0M85.7 386.0h0M76.6 397.2h0M115.7 357.7h0M111.9 365.0h0M101.9 373.0h0M106.7 366.4h0M100.9 377.2h0M94.5 380.1h0M83.0 397.8h0M98.0 379.7h0M103.2 381.4h0M98.4 378.3h0M115.6 366.1h0M97.7 376.6h0M106.8 364.6h0M117.7 360.8h0M111.2 365.2h0M89.6 381.5h0M95.7 383.2h0M98.5 380.2h0M114.8 359.0h0M119.8 353.7h0M92.8 379.8h0M94.7 382.9h0M100.2 375.4h0M118.8 358.1h0M107.0 368.5h0M87.9 392.1h0M98.9 375.5h0M105.8 368.1h0M103.8 373.4h0M109.5 369.2h0M85.6 392.0h0M84.7 393.5h0M93.6 384.3h0M103.1 375.2h0M99.7 381.9h0M105.7 372.8h0M112.2 372.6h0M91.6 383.7h0M71.4 406.9h0M103.5 371.8h0M82.6 393.1h0M105.9 372.9h0M112.1 363.3h0M103.4 373.8h0M109.3 365.7h0M116.4 357.1h0M94.8 382.0h0M114.9 361.4h0M106.5 367.2h0M103.8 379.6h0M103.8 371.1h0M105.4 372.7h0M118.3 357.1h0M95.5 382.9h0M108.8 370.2h0M86.1 383.4h0M117.7 353.7h0M119.2 353.7h0M78.6 394.1h0M117.7 355.6h0M74.9 397.7h0M121.0 355.5h0M102.8 370.2h0M99.5 372.5h0M102.3 371.0h0M105.9 374.6h0M84.3 381.4h0M103.9 367.2h0M114.4 354.8h0M110.6 366.7h0M105.8 376.3h0M98.5 374.3h0M73.9 402.4h0M111.0 359.8h0M91.4 387.0h0M79.6 400.5h0M106.0 362.5h0M85.2 386.5h0M108.8 368.3h0M135.1 347.6h0M101.2 373.8h0M127.3 341.1h0M131.7 342.1h0M113.0 357.5h0M108.5 365.7h0M100.7 376.4h0M83.2 386.7h0M100.0 382.9h0M105.9 369.7h0M101.7 367.8h0M101.4 375.2h0M92.7 383.5h0M96.3 378.9h0M142.6 329.9h0M88.1 381.7h0M112.4 360.1h0M110.4 362.1h0M108.9 361.6h0M113.4 357.2h0M95.8 380.1h0M91.3 381.6h0M114.0 362.7h0M105.8 360.8h0M120.4 358.3h0M100.2 373.4h0M101.3 373.1h0M117.3 356.6h0M86.9 387.0h0M100.9 374.4h0M97.3 383.4h0M86.7 390.9h0M92.8 392.5h0M119.3 359.5h0M92.0 382.3h0M68.7 403.9h0M91.3 382.6h0M95.6 379.3h0M103.8 371.8h0M80.9 400.7h0M99.6 371.4h0M94.4 379.8h0M103.7 370.2h0M117.8 362.2h0M106.3 369.8h0M99.7 379.0h0M93.8 385.8h0M83.9 384.0h0M124.6 350.0h0M113.7 364.8h0M69.0 414.4h0M101.9 368.9h0M103.5 375.5h0M100.9 378.3h0M84.5 392.7h0M98.5 380.1h0M92.3 387.0h0M103.2 367.6h0M96.0 372.3h0M80.8 394.9h0M87.5 389.3h0M102.8 370.9h0M118.1 358.7h0M86.4 390.6h0M107.4 370.4h0M111.3 358.1h0M83.2 392.1h0M118.9 362.6h0M105.5 370.8h0M81.6 390.5h0M106.0 371.1h0M107.2 366.1h0M111.5 361.7h0M109.7 369.7h0M96.7 378.8h0M62.7 407.5h0M99.2 380.2h0M78.2 397.7h0M103.8 373.8h0M98.4 380.5h0M92.7 383.7h0M92.9 380.9h0M100.3 375.0h0M105.6 365.5h0M109.9 364.6h0M101.6 376.9h0M96.8 376.8h0M106.0 370.8h0M87.5 394.1h0M104.9 367.1h0M109.5 370.5h0M99.3 375.8h0M89.8 385.2h0M101.1 377.4h0M84.8 388.9h0M108.5 369.9h0M87.7 385.6h0M110.7 365.6h0M123.7 352.0h0M86.8 385.8h0M99.4 375.2h0M104.5 374.4h0M87.2 389.8h0M122.4 355.7h0M119.8 354.3h0M87.4 388.0h0M111.3 367.0h0M73.9 401.8h0M87.2 387.7h0M77.6 399.6h0M94.2 386.8h0M99.0 376.3h0M97.0 382.9h0M108.0 373.3h0M108.6 365.1h0M122.9 348.8h0M106.6 368.0h0M104.9 375.1h0M120.7 352.4h0M100.5 379.1h0M120.9 352.1h0M85.8 388.3h0M127.2 347.4h0M108.3 368.5h0M92.4 380.0h0M142.4 331.0h0M99.5 373.6h0M97.2 376.2h0M114.9 363.7h0M88.5 388.0h0M112.8 361.4h0M120.8 358.7h0M109.8 367.6h0M103.2 371.3h0M90.1 386.9h0M86.8 388.7h0M92.1 385.7h0M106.3 371.4h0M118.4 358.7h0M113.0 361.2h0M89.3 387.7h0M92.1 385.3h0M95.9 373.8h0M94.4 376.3h0M110.4 369.4h0M71.2 403.6h0M75.3 399.1h0M115.2 358.6h0M100.1 376.5h0M106.3 370.2h0M96.0 381.2h0M118.6 358.4h0M109.2 370.0h0M95.4 385.3h0M98.7 374.8h0M107.2 369.9h0M110.9 365.5h0M106.8 367.7h0M113.5 370.1h0M84.2 389.6h0M97.4 370.9h0M100.2 377.4h0M120.9 352.0h0M126.3 346.6h0M98.6 374.8h0M92.9 384.7h0M95.5 381.2h0M113.3 363.5h0M107.4 369.7h0M118.4 365.9h0M99.4 375.8h0M86.7 386.2h0M103.1 368.1h0M113.9 359.1h0M102.2 377.1h0M100.3 377.0h0M106.4 370.6h0M144.7 334.5h0M118.4 358.1h0M97.7 375.0h0M104.4 375.3h0M108.1 368.0h0M75.4 400.8h0M89.9 388.8h0M108.2 366.2h0M95.1 373.5h0M108.8 368.6h0M105.7 370.2h0M76.4 405.8h0M81.0 388.6h0M100.5 376.2h0M93.5 379.2h0M100.0 370.0h0M110.0 359.8h0M100.3 374.2h0M97.1 379.4h0M80.9 397.7h0M91.1 387.2h0M117.7 356.3h0M116.9 355.2h0M112.7 359.1h0M93.3 380.1h0M99.1 378.5h0M114.4 353.4h0M86.9 383.6h0M114.5 363.4h0M105.3 368.9h0M107.8 368.8h0M85.7 390.6h0M112.3 360.3h0M109.2 362.4h0M89.6 386.7h0M105.2 367.0h0M103.6 370.3h0M100.7 367.9h0M74.2 402.8h0M134.1 339.4h0M78.5 397.8h0M84.9 393.8h0M102.5 367.3h0M107.3 365.9h0M115.3 359.1h0M91.5 385.0h0M107.2 369.2h0M94.3 382.9h0M84.6 395.3h0M101.8 375.1h0M100.6 370.4h0M106.3 369.3h0M89.0 390.9h0M108.7 369.6h0M109.7 369.3h0M104.3 371.6h0M115.9 360.4h0M97.2 377.9h0M100.4 369.7h0M99.9 377.6h0M97.5 376.8h0M104.3 368.9h0M80.5 387.8h0M126.2 348.4h0M86.5 389.3h0M111.4 371.4h0M105.0 375.6h0M106.1 364.7h0M118.2 361.8h0M118.8 353.1h0M96.9 377.3h0M122.6 353.3h0M103.1 374.4h0M120.8 361.3h0M122.3 355.7h0M117.0 363.5h0M91.3 386.9h0M115.7 364.8h0M111.2 366.2h0M119.0 357.0h0M109.0 367.0h0M126.2 349.6h0M98.9 370.2h0M102.3 371.0h0M92.5 382.9h0M72.9 403.7h0M96.5 384.5h0M82.2 390.5h0M110.4 370.0h0M127.0 349.9h0M97.2 377.8h0M90.3 391.3h0M90.8 381.3h0M117.3 363.1h0M117.9 356.9h0M108.8 366.4h0M109.4 369.4h0M91.8 386.7h0M96.6 377.2h0M84.1 387.0h0M95.2 382.8h0M110.8 363.0h0M99.7 379.6h0M92.0 389.5h0M115.4 356.0h0M125.8 347.2h0M105.5 367.5h0M115.1 360.8h0M103.5 364.9h0M82.8 398.5h0M88.7 385.0h0M118.3 357.8h0M111.2 364.3h0M107.2 370.1h0M102.1 373.6h0M113.4 354.2h0M78.1 396.9h0M100.8 371.7h0M114.9 357.6h0M114.4 363.9h0M77.6 393.5h0M119.6 358.5h0M118.0 354.7h0M69.2 404.9h0M87.7 384.6h0M94.8 383.7h0M82.8 394.5h0M116.7 360.6h0M74.9 394.8h0M125.2 347.1h0M97.4 382.6h0M80.3 394.5h0M120.9 357.5h0M102.8 373.7h0M98.3 375.9h0M130.5 346.0h0M111.6 359.9h0M99.0 377.3h0M83.3 389.6h0M96.6 381.5h0M104.7 373.8h0M89.4 387.9h0M122.0 353.5h0M111.6 368.6h0M74.2 396.5h0M99.7 381.2h0M100.0 373.7h0M81.5 398.1h0M107.3 371.3h0M111.2 360.8h0M108.8 368.0h0M102.8 374.9h0M100.2 374.5h0M96.9 375.7h0M136.9 339.0h0M105.5 367.2h0M111.1 364.9h0M94.6 378.0h0M109.7 363.9h0M90.9 383.1h0M113.0 362.8h0M107.3 360.8h0M77.1 397.7h0M89.4 391.4h0M98.5 375.5h0M105.0 374.5h0M84.6 393.7h0M103.9 374.5h0M80.0 390.7h0M91.8 384.9h0M96.2 381.7h0M103.4 373.2h0M112.4 366.9h0M79.9 390.1h0M100.2 373.0h0M116.8 356.3h0M105.4 375.4h0M80.0 393.3h0M110.3 363.1h0M84.3 399.4h0M90.6 389.6h0M106.1 372.8h0M124.0 352.8h0M93.7 379.4h0M108.1 370.3h0M110.0 358.8h0M86.8 390.4h0M91.5 391.2h0M109.4 363.5h0M114.4 359.3h0M76.2 400.7h0M95.6 384.4h0M86.7 387.0h0M95.3 373.9h0M111.7 370.1h0M112.0 358.9h0M104.8 374.9h0M127.6 351.4h0M104.4 377.6h0M88.8 393.3h0M114.7 356.4h0M99.3 381.1h0M101.0 373.4h0M84.3 396.1h0M99.9 373.4h0M102.6 371.5h0M90.1 394.6h0M108.0 370.6h0M101.4 375.6h0M110.0 368.0h0M121.3 353.4h0M108.3 364.9h0M115.3 358.3h0M80.5 398.3h0M126.0 346.9h0M109.0 364.8h0M95.1 383.2h0M92.0 380.1h0M104.3 365.2h0M105.8 363.2h0M110.4 369.0h0M124.7 348.8h0M117.7 356.5h0M97.8 377.5h0M89.6 390.7h0M91.6 386.4h0M84.7 392.1h0M103.1 365.6h0M126.7 348.0h0M114.4 361.4h0M107.6 367.9h0M95.1 380.6h0M82.2 392.9h0M100.4 379.1h0M96.7 377.3h0M92.6 381.8h0M107.4 362.7h0M88.2 388.5h0M106.7 363.6h0M104.6 368.3h0M84.0 394.5h0M124.9 350.8h0M132.2 344.6h0M101.4 379.9h0M110.4 364.0h0M128.9 345.0h0M101.4 379.2h0M99.7 372.8h0M110.2 360.9h0M113.9 361.4h0M110.1 364.6h0M81.9 388.7h0M109.1 369.9h0M107.0 367.4h0M113.2 356.9h0M61.1 414.5h0M124.3 353.7h0M77.2 398.6h0M106.3 368.0h0M88.4 389.5h0M103.8 369.2h0M131.1 342.3h0M98.3 385.7h0M116.9 358.5h0M102.6 376.5h0M115.2 366.2h0M103.6 371.5h0M104.2 366.8h0M100.9 374.5h0M116.4 364.0h0M98.4 377.2h0M116.5 361.3h0M112.5 361.4h0M85.0 396.5h0M83.1 393.0h0M104.0 369.1h0M114.3 362.8h0M115.3 356.9h0M107.9 365.8h0M84.6 390.6h0M90.6 389.7h0M97.5 377.9h0M102.2 374.6h0M88.7 386.9h0M94.9 386.0h0M101.2 369.4h0M98.8 380.8h0M118.0 350.9h0M98.8 377.7h0M100.3 365.1h0M102.5 369.6h0M111.4 370.2h0M89.7 390.8h0M108.0 367.0h0M126.8 348.7h0M106.4 368.8h0M100.4 367.3h0M103.7 366.7h0M120.8 356.2h0M112.2 364.3h0M103.6 371.4h0M103.5 373.8h0M123.7 351.9h0M109.0 360.5h0M109.1 362.7h0M119.2 351.9h0M127.8 351.7h0M128.6 345.8h0M80.1 398.8h0M83.7 392.8h0M84.1 395.9h0M106.1 368.8h0M92.1 384.8h0M100.9 374.5h0M102.7 373.7h0M116.9 363.8h0M95.6 379.9h0M97.9 379.8h0M96.2 379.0h0M119.4 356.1h0M98.2 376.4h0M102.4 380.0h0M106.6 370.2h0M93.7 380.2h0M103.9 373.6h0M76.1 406.8h0M102.8 373.3h0M107.9 366.7h0M98.1 382.2h0M87.9 388.9h0M85.7 388.0h0M87.6 395.0h0M102.8 379.1h0M125.9 352.1h0M102.1 374.4h0M94.4 387.9h0M75.9 397.9h0M112.5 355.1h0M81.8 392.8h0M100.8 372.0h0M94.3 379.2h0M113.4 359.6h0M122.1 353.2h0M124.3 352.8h0M129.4 354.7h0M103.9 374.5h0M100.7 371.4h0M111.9 363.0h0M127.7 351.9h0M88.9 382.0h0M110.3 372.3h0M109.0 370.5h0M120.3 350.5h0M92.9 378.7h0M89.7 383.3h0M110.4 365.3h0M83.8 393.7h0M72.6 406.4h0M75.5 397.1h0M93.5 391.1h0M109.6 364.4h0M92.0 376.6h0M112.7 362.3h0M98.7 387.5h0M107.2 364.8h0M96.8 384.0h0M104.6 376.8h0M101.2 371.8h0M122.2 351.6h0M103.8 369.2h0M121.7 354.2h0M87.2 391.9h0M87.0 392.5h0M100.2 374.3h0M104.4 370.9h0M96.9 377.5h0M113.0 359.5h0M123.0 352.7h0M96.2 373.8h0M104.4 369.7h0M96.3 376.3h0M98.7 380.7h0M102.3 374.9h0M114.2 362.2h0M104.4 371.9h0M108.0 369.6h0M119.6 360.2h0M98.4 379.9h0M111.0 364.1h0M109.5 367.0h0M94.6 385.3h0M98.8 378.9h0M105.6 368.7h0M115.7 359.7h0M94.1 385.6h0M102.6 371.8h0M128.3 345.6h0M122.9 345.3h0M86.3 385.9h0M115.4 354.9h0M100.7 371.7h0M96.1 380.1h0M99.7 369.9h0M97.9 374.6h0M104.5 373.6h0M104.6 368.7h0M91.8 382.1h0M94.3 384.8h0M105.8 370.6h0M91.9 389.9h0M102.3 372.5h0M95.9 379.4h0M81.2 394.0h0M107.5 366.9h0M94.0 381.7h0M102.4 369.5h0M105.7 368.9h0M91.2 381.9h0M119.0 357.7h0M110.5 363.7h0M103.9 376.2h0M129.1 351.9h0M107.1 369.7h0M118.5 357.9h0M101.9 371.6h0M109.4 367.8h0M110.9 363.0h0M116.5 360.3h0M102.4 374.6h0M90.7 384.6h0M105.5 365.0h0M97.4 377.1h0M117.9 357.4h0M103.0 372.1h0M94.8 384.6h0M117.1 357.3h0M103.5 376.5h0M102.0 369.5h0M88.5 390.9h0M114.9 355.2h0M124.1 352.5h0M111.7 366.2h0M110.0 366.6h0M102.8 368.2h0M107.3 368.9h0M102.7 372.0h0M95.2 380.1h0M107.8 362.1h0M76.8 404.1h0M84.4 389.0h0M134.7 338.8h0M102.1 369.6h0M70.1 407.6h0M60.5 416.5h0M96.4 381.2h0M107.9 369.5h0M117.2 357.7h0M103.3 363.5h0M94.9 377.9h0M89.3 382.6h0M115.0 359.6h0M112.9 356.6h0M120.8 354.0h0M99.8 372.1h0M83.8 394.8h0M107.9 365.5h0M124.3 344.3h0M106.0 368.0h0M85.1 391.9h0M106.3 370.0h0M102.2 371.4h0M90.7 387.5h0M76.8 396.0h0M91.2 390.9h0M113.0 362.9h0M115.9 360.5h0M129.5 342.5h0M104.2 371.0h0M98.3 374.7h0M129.7 346.2h0M86.9 387.3h0M119.1 361.0h0M94.9 384.6h0M109.0 364.6h0M94.5 385.4h0M114.9 367.3h0M111.2 364.6h0M126.2 344.9h0M95.2 381.8h0M99.9 378.3h0M101.9 370.4h0M82.8 394.5h0M121.0 351.3h0M93.0 385.9h0M93.7 387.9h0M117.5 357.2h0M95.5 385.4h0M98.2 379.4h0M126.0 350.2h0M102.2 369.8h0M111.5 364.3h0M71.2 401.0h0M111.0 365.7h0M102.8 376.1h0M93.0 388.2h0M108.2 365.4h0M103.4 369.5h0M109.3 365.6h0M89.8 384.4h0M117.0 355.8h0M119.7 356.8h0M87.4 384.6h0M94.3 380.9h0M99.8 375.8h0M99.7 377.9h0M75.7 394.5h0M108.3 373.8h0M92.3 387.7h0M96.8 387.9h0M107.3 362.5h0M97.9 375.4h0M112.4 367.1h0M121.2 359.4h0M95.4 381.8h0M118.8 355.8h0M102.1 376.3h0M103.5 371.9h0M109.7 360.8h0M112.1 363.1h0M97.8 372.6h0M105.1 370.5h0M123.5 345.9h0M110.1 365.6h0M92.3 380.1h0M94.9 377.8h0M91.9 383.8h0M107.5 367.5h0M104.8 369.4h0M89.5 390.6h0M97.5 372.2h0M102.3 376.5h0M93.7 382.3h0M118.9 358.0h0M109.5 365.2h0M99.3 379.8h0M101.6 376.6h0M112.4 368.9h0M116.0 356.5h0M107.5 362.7h0M113.1 367.9h0M102.4 371.7h0M95.3 384.6h0M107.2 366.4h0M97.2 379.5h0M96.7 381.2h0M99.9 372.2h0M81.8 395.9h0M123.0 350.6h0M103.1 369.7h0M91.2 389.1h0M83.0 398.5h0M104.3 368.4h0M98.1 380.1h0M106.7 366.7h0M109.5 373.5h0M103.1 367.3h0M115.9 366.1h0M85.7 392.2h0M100.9 369.5h0M103.2 377.8h0M107.6 341.2h0M104.3 374.9h0M97.5 381.6h0M111.6 360.5h0M99.3 381.8h0M88.6 389.8h0M106.0 364.6h0M107.3 364.8h0M102.7 354.9h0M100.5 374.7h0M126.5 360.5h0M92.8 381.4h0M103.5 376.6h0M115.1 349.8h0M102.5 378.3h0M78.3 375.4h0M110.9 370.2h0M125.6 348.5h0M111.8 367.8h0M101.2 365.9h0M84.3 398.4h0M108.4 363.0h0M97.4 382.0h0M82.3 386.8h0M91.1 371.3h0M73.8 389.2h0M110.6 360.3h0M104.7 350.1h0M85.2 388.3h0M107.6 368.1h0M118.8 350.8h0M99.8 372.5h0M78.9 371.8h0M105.7 338.5h0M90.9 393.6h0M108.6 361.9h0M83.9 387.4h0M102.6 383.2h0M85.8 371.7h0M109.7 365.3h0M110.0 342.6h0M113.2 344.1h0M110.7 372.7h0M98.7 376.3h0M106.2 370.2h0M86.6 363.1h0M106.0 376.0h0M93.4 346.4h0M103.3 367.4h0M112.5 347.4h0M94.5 378.4h0M106.7 366.0h0M116.3 360.3h0M96.3 391.2h0M105.6 369.0h0M115.5 346.8h0M103.9 357.8h0M113.3 362.3h0M128.9 353.6h0M108.4 363.9h0M100.2 350.3h0M108.1 354.3h0M120.5 359.3h0M106.7 359.6h0M103.6 374.9h0M105.1 345.6h0M101.5 380.8h0M110.8 347.4h0M108.0 351.8h0M93.9 379.1h0M105.0 366.3h0M109.2 356.8h0M112.8 351.5h0M110.2 347.8h0M109.2 367.8h0M107.9 373.5h0M119.9 359.9h0M111.6 370.6h0M106.0 369.5h0M108.4 361.6h0M95.8 378.6h0M93.6 378.0h0M95.9 374.6h0M91.0 366.9h0M87.0 378.6h0M104.6 365.9h0M98.4 372.9h0M83.1 388.9h0M117.8 341.6h0M98.5 377.4h0M108.4 362.4h0M100.3 375.9h0M114.6 373.1h0M113.8 364.2h0M81.8 385.6h0M106.4 367.5h0M107.8 351.4h0M84.5 369.7h0M119.4 347.9h0M94.3 352.5h0M95.2 377.1h0M118.4 336.4h0M74.2 380.7h0M121.3 343.9h0M109.4 365.9h0M91.5 383.0h0M111.2 361.1h0M88.6 364.7h0M107.8 364.9h0M103.9 367.2h0M113.1 342.9h0M104.7 381.6h0M101.4 373.7h0M97.3 376.3h0M102.5 368.8h0M89.8 381.9h0M105.8 346.9h0M98.0 374.0h0M106.0 367.8h0M86.5 388.4h0M83.7 364.4h0M103.4 371.4h0M101.1 401.7h0M93.1 388.1h0M91.1 382.0h0M96.3 380.2h0M117.8 343.4h0M108.0 368.0h0M111.3 368.2h0M86.5 383.6h0M101.7 368.5h0M77.9 402.8h0M114.0 376.0h0M119.8 334.4h0M104.8 362.5h0M87.2 366.5h0M124.7 354.7h0M89.2 366.1h0M117.2 349.2h0M91.5 387.1h0M110.0 348.0h0M92.8 378.7h0M93.8 377.9h0M98.5 386.8h0M113.4 338.4h0M111.5 338.2h0M118.3 346.9h0M110.1 362.6h0M98.6 372.6h0M110.2 367.3h0M92.5 361.5h0M84.8 356.6h0M100.4 360.4h0M109.9 362.8h0M100.9 370.3h0M101.1 369.8h0M113.3 365.6h0M125.1 341.1h0M83.1 390.6h0M116.3 358.0h0M109.7 361.1h0M100.0 380.5h0M103.9 367.2h0M114.0 358.2h0M111.8 347.0h0M73.1 371.6h0M113.4 356.5h0M124.2 337.4h0M99.2 379.5h0M102.7 362.9h0M120.4 364.6h0M127.7 341.8h0M105.4 341.3h0M98.2 378.8h0M138.9 333.6h0M100.5 344.5h0M108.5 376.9h0M96.1 359.3h0M84.9 394.4h0M93.4 379.4h0M94.7 384.9h0M126.4 340.4h0M120.5 370.5h0M108.9 348.8h0M111.9 338.6h0M96.7 371.6h0M126.2 342.1h0M113.5 345.6h0M90.0 392.4h0M84.7 376.7h0M101.8 364.7h0M102.5 370.5h0M117.4 342.8h0M128.5 352.6h0M82.1 355.9h0M95.6 392.2h0M124.8 348.4h0M103.6 373.7h0M118.6 342.5h0M100.9 373.4h0M114.8 352.7h0M115.0 359.0h0M101.1 382.8h0M104.8 377.5h0M126.1 347.4h0M106.8 367.5h0M100.6 371.6h0M112.0 358.8h0M102.5 371.3h0M103.3 369.7h0M80.9 391.5h0M114.7 341.9h0M112.6 358.2h0M82.9 389.4h0M92.5 381.7h0M83.4 373.9h0M105.9 374.5h0M109.5 372.1h0M115.7 351.6h0M100.8 381.6h0M103.4 370.6h0M114.2 349.8h0M116.4 372.2h0M91.9 384.5h0M109.5 367.0h0M126.9 347.4h0M114.8 362.8h0M105.3 374.0h0M92.7 397.0h0M98.2 379.1h0M108.2 370.8h0M109.6 373.7h0M98.6 382.9h0M90.8 377.8h0M116.6 366.7h0M114.5 356.5h0M112.5 362.5h0M102.3 371.0h0M104.8 369.9h0M92.8 389.2h0M115.0 357.1h0M111.8 338.8h0M113.3 333.4h0M111.0 364.8h0M88.2 395.9h0M103.8 368.5h0M111.4 364.5h0M115.7 348.5h0M103.6 375.7h0M86.7 385.3h0M107.3 363.5h0M94.4 349.2h0M92.1 386.1h0M104.1 370.4h0M79.5 384.8h0M102.0 368.5h0M95.7 371.4h0M114.5 354.7h0M118.3 351.7h0M108.1 357.7h0M119.9 352.8h0M99.9 376.4h0M105.1 368.0h0M88.0 386.9h0M112.1 346.1h0M115.8 366.6h0M105.2 365.0h0M107.5 348.3h0M105.5 371.1h0M84.7 377.9h0M91.3 380.7h0M118.2 367.7h0M75.1 377.2h0M85.9 389.5h0M107.1 364.9h0M87.9 391.4h0M121.4 360.9h0M103.6 372.7h0M90.4 380.9h0M113.6 359.9h0M117.6 370.4h0M104.7 356.4h0M104.6 348.2h0M94.6 392.7h0M89.2 381.7h0M106.3 337.7h0M109.6 360.4h0M103.8 333.3h0M98.5 375.8h0M99.1 376.4h0M122.1 368.5h0M93.6 378.3h0M110.4 367.2h0M78.4 371.7h0M113.9 355.8h0M103.3 375.9h0M111.9 344.3h0M109.5 365.7h0M112.3 337.2h0M119.3 347.0h0M96.4 363.8h0M113.8 345.4h0M117.3 366.1h0M94.1 383.6h0M111.8 356.9h0M89.8 383.3h0M120.4 353.0h0M100.8 376.4h0M102.9 371.4h0M77.9 399.2h0M90.0 382.0h0M114.0 358.0h0M97.3 385.6h0M108.4 367.0h0M99.7 377.5h0M111.1 360.7h0M107.4 366.2h0M118.0 364.1h0M114.0 356.6h0M107.5 366.6h0M102.5 340.0h0M114.0 365.0h0M113.2 354.4h0M86.0 387.3h0M117.7 346.6h0M88.3 384.6h0M87.3 366.9h0M129.7 346.0h0M109.1 367.4h0M116.5 346.3h0M102.9 375.2h0M89.9 381.4h0M123.6 354.7h0M102.6 369.7h0M107.3 371.3h0M103.4 378.6h0M93.7 370.2h0M114.5 357.1h0M89.5 383.1h0M116.6 355.7h0M105.2 372.7h0M95.3 378.9h0M80.0 368.1h0M111.0 361.1h0M115.5 339.1h0M84.9 366.0h0M74.8 402.9h0M84.0 375.5h0M108.4 364.2h0M100.6 364.2h0M105.3 375.0h0M87.0 394.1h0M86.6 394.1h0M93.5 391.9h0M102.0 336.6h0M102.9 373.9h0M109.0 354.9h0M110.8 366.3h0M109.8 361.3h0M95.6 380.7h0M100.5 369.9h0M96.4 384.3h0M84.7 391.9h0M102.6 339.0h0M94.8 382.3h0M85.0 393.4h0M85.4 390.0h0M110.3 341.2h0M122.3 346.8h0M105.2 372.9h0M102.5 371.3h0M103.4 374.0h0M106.3 370.7h0M94.7 367.2h0M113.0 369.5h0M117.7 356.5h0M94.0 376.9h0M108.1 339.9h0M113.9 371.1h0M100.4 376.9h0M97.6 339.0h0M85.2 388.1h0M103.7 367.5h0M99.2 355.3h0M77.2 401.4h0M117.2 340.7h0M95.2 367.9h0M86.2 357.5h0M117.5 354.4h0M109.4 340.5h0M106.6 354.4h0M109.2 354.5h0M124.6 345.0h0M110.9 365.9h0M103.9 373.6h0M92.7 381.9h0M99.4 374.0h0M95.2 387.9h0M121.5 347.3h0M113.6 366.3h0M101.3 372.1h0M116.4 357.6h0M101.6 370.0h0M90.7 385.9h0M123.7 370.7h0M93.2 377.8h0M111.5 373.0h0M96.9 374.1h0M101.0 374.6h0M92.4 383.3h0M94.3 377.5h0M109.3 363.0h0M106.2 353.6h0M79.0 393.5h0M99.7 374.1h0M114.1 355.3h0M118.0 372.4h0M89.6 390.0h0M88.8 374.7h0M109.4 355.1h0M120.8 361.8h0M103.8 370.9h0M79.4 376.3h0M93.3 371.8h0M103.7 373.5h0M107.7 344.3h0M112.7 353.6h0M80.6 370.6h0M107.9 365.6h0M110.2 357.0h0M93.9 349.8h0M108.4 368.7h0M106.9 375.3h0M92.2 367.7h0M107.5 350.8h0M88.2 343.9h0M120.9 361.6h0M100.1 372.4h0M110.0 361.7h0M96.4 374.7h0M105.6 343.3h0M101.2 382.4h0M99.3 353.8h0M117.2 362.3h0M123.7 357.1h0M95.4 370.5h0M115.6 362.0h0M109.0 371.8h0M96.5 381.5h0M116.3 360.5h0M110.4 365.9h0M102.1 350.4h0M110.7 364.7h0M118.7 372.6h0M110.2 365.2h0M78.7 395.5h0M104.4 342.4h0M91.8 383.4h0M96.9 380.0h0M91.5 381.3h0M96.9 372.1h0M101.6 371.5h0M106.7 367.6h0M114.9 361.4h0M111.0 363.7h0M105.6 371.1h0M130.3 337.9h0M102.0 375.9h0M95.3 376.7h0M108.4 367.6h0M105.6 366.1h0M98.3 377.7h0M102.1 372.1h0M104.5 378.0h0M112.3 343.7h0M97.5 354.6h0M88.9 379.2h0M113.7 354.6h0M96.5 358.1h0M111.0 376.5h0M115.6 355.6h0M100.4 371.4h0M102.3 368.9h0M104.3 375.6h0M102.8 369.2h0M98.5 373.3h0M88.4 387.0h0M91.9 374.5h0M90.8 355.7h0M119.6 337.1h0M101.5 372.3h0M95.8 376.2h0M115.2 351.6h0M113.8 347.4h0M93.2 378.8h0M95.8 385.1h0M99.2 374.2h0M109.5 379.9h0M114.2 361.0h0M109.2 368.5h0M106.7 363.4h0M130.4 347.7h0M111.6 370.8h0M103.1 373.0h0M112.5 339.3h0M99.8 380.2h0M107.8 349.0h0M104.8 367.5h0M109.0 366.6h0M104.5 350.5h0M90.9 381.2h0M103.2 375.0h0M98.0 380.3h0M93.0 380.3h0M86.9 385.7h0M101.3 337.8h0M111.0 358.8h0M117.1 335.5h0M112.2 367.1h0M97.2 375.8h0M117.3 357.3h0M118.8 351.6h0M109.5 375.5h0M120.5 349.1h0M104.4 374.7h0M103.2 377.4h0M128.3 356.2h0M119.7 353.1h0M96.9 370.7h0M118.8 342.1h0M92.3 387.7h0M94.7 384.0h0M104.7 378.1h0M105.2 344.1h0M115.5 353.1h0M107.3 356.7h0M116.2 350.5h0M93.1 353.1h0M101.4 370.1h0M111.1 345.0h0M106.6 358.6h0M101.8 379.3h0M100.6 374.3h0M116.8 343.3h0M95.3 381.7h0M87.0 385.4h0M94.1 336.4h0M110.3 367.3h0M111.0 360.4h0M102.8 383.6h0M87.5 359.6h0M125.2 339.8h0M102.0 345.4h0M93.8 355.8h0M108.6 368.9h0M114.7 351.6h0M107.4 363.8h0M115.5 344.0h0M97.5 375.0h0M95.6 390.6h0M105.6 368.2h0M78.8 397.6h0M101.6 380.1h0M124.4 347.2h0M103.5 374.6h0M92.2 381.1h0M108.2 335.1h0M97.7 370.1h0M113.5 340.5h0M116.2 362.0h0M106.5 363.7h0M94.5 371.6h0M115.3 357.0h0M109.9 341.2h0M79.8 397.6h0M101.0 356.4h0M95.3 360.2h0M111.3 361.2h0M122.8 366.8h0M113.6 345.4h0M90.6 385.4h0M111.9 336.0h0M99.1 373.4h0M100.9 375.4h0M108.3 367.4h0M118.9 337.1h0M95.8 380.3h0M110.4 356.3h0M117.3 340.2h0M87.4 377.9h0M102.3 349.0h0M96.5 375.6h0M98.6 373.1h0M97.0 374.6h0M132.6 353.5h0M95.6 351.6h0M102.5 367.9h0M124.8 335.4h0M106.8 372.3h0M113.8 355.1h0M101.9 374.9h0M100.8 380.7h0M94.1 373.8h0M117.9 352.0h0M85.9 364.4h0M93.1 374.3h0M98.6 370.3h0M109.6 371.1h0M100.3 374.0h0M118.9 354.1h0M93.9 386.5h0M121.3 346.2h0M89.0 397.9h0M117.6 358.3h0M104.5 359.2h0M106.2 331.2h0M118.9 351.1h0M83.2 377.9h0M109.2 361.9h0M86.3 385.8h0M97.5 354.6h0M105.8 369.8h0M106.0 357.5h0M103.6 368.3h0M98.8 383.7h0M108.1 350.0h0M107.7 363.0h0M104.1 368.3h0M92.5 379.0h0M112.5 363.0h0M104.5 344.1h0M109.0 361.9h0M100.4 376.2h0M104.8 378.0h0M89.4 384.9h0M76.9 401.8h0M95.6 374.2h0M97.7 379.8h0M91.6 379.3h0M107.1 370.3h0M102.5 374.9h0M119.1 352.3h0M109.4 336.5h0M101.6 367.9h0M115.8 335.0h0M115.8 358.1h0M102.0 348.9h0M104.5 367.3h0M94.4 378.2h0M126.1 350.3h0M94.3 381.6h0M99.7 375.0h0M111.6 362.2h0M113.9 356.4h0M120.4 357.7h0M106.5 366.3h0M117.0 359.9h0M101.6 353.9h0M109.4 344.5h0M101.9 364.6h0M100.3 347.3h0M106.8 370.3h0M102.4 378.3h0M105.8 368.6h0M112.9 349.4h0M103.0 374.1h0M104.0 367.1h0M126.4 357.3h0M119.4 366.0h0M112.2 343.0h0M95.9 374.7h0M97.4 386.6h0M97.9 353.1h0M119.6 347.9h0M102.1 370.6h0M81.2 364.5h0M121.5 340.4h0M104.3 375.5h0M86.3 392.7h0M100.6 380.7h0M94.7 375.8h0M110.7 356.9h0M99.1 372.1h0M118.9 349.7h0M108.9 353.5h0M102.0 381.0h0M106.3 368.8h0M93.4 377.4h0M105.5 365.6h0M111.7 346.1h0M104.3 368.5h0M105.2 362.6h0M85.9 378.7h0M119.1 343.0h0M113.7 360.1h0M85.1 382.3h0M102.0 372.8h0M104.5 350.3h0M99.0 377.2h0M107.9 369.0h0M115.4 331.8h0M98.7 373.8h0M119.4 351.3h0M107.4 368.1h0M105.6 367.9h0M113.7 346.7h0M120.9 338.4h0M107.8 379.0h0M119.0 334.0h0M93.2 385.0h0M104.8 373.8h0M116.5 371.9h0M98.4 376.3h0M111.6 349.3h0M96.2 377.4h0M82.4 391.9h0M94.3 362.8h0M107.2 374.0h0M93.7 388.5h0M106.6 346.2h0M111.0 367.6h0M94.0 380.9h0M93.4 390.1h0M103.4 339.0h0M90.3 389.4h0M90.1 378.6h0M131.1 336.7h0M120.9 350.3h0M99.5 376.6h0M93.8 355.0h0M105.2 369.9h0M106.1 340.6h0M110.5 364.2h0M98.7 365.7h0M96.4 376.6h0M109.0 354.9h0M95.6 375.3h0M106.1 389.4h0M116.0 346.3h0M85.6 404.4h0M116.9 340.9h0M118.9 362.7h0M115.0 365.2h0M113.0 363.6h0M117.4 332.2h0M88.4 357.6h0M99.2 373.2h0M105.8 372.3h0M101.6 390.5h0M127.4 336.6h0M110.3 370.8h0M106.7 371.9h0M106.0 368.7h0M113.4 348.2h0M108.0 340.0h0M103.9 368.4h0M109.6 370.3h0M79.0 365.2h0M124.0 360.5h0M77.6 401.4h0M89.3 388.1h0M88.4 370.9h0M89.8 381.6h0M100.9 374.7h0M80.3 388.5h0M107.6 364.7h0M96.9 375.3h0M106.2 340.3h0M118.5 361.9h0M97.8 377.0h0M109.7 377.6h0M99.1 380.0h0M103.7 373.8h0M95.6 375.7h0M107.7 380.7h0M90.2 382.5h0M101.4 349.3h0M88.8 377.8h0M99.9 374.8h0M114.6 342.3h0M112.6 362.0h0M98.1 381.2h0M107.3 362.9h0M119.9 348.9h0M100.3 374.1h0M90.7 388.8h0M108.9 353.2h0M99.3 353.9h0M101.2 376.7h0M91.1 379.8h0M115.2 349.4h0M112.9 366.3h0M101.2 369.1h0M88.4 384.2h0M111.1 365.3h0M101.7 368.9h0M97.5 383.8h0M98.3 378.1h0M102.3 370.4h0M86.2 388.9h0M122.3 356.5h0M111.8 349.0h0M105.3 374.2h0M129.6 344.2h0M106.7 367.9h0M110.9 356.8h0M100.7 373.7h0M93.3 349.1h0M87.3 384.6h0M104.9 383.4h0M113.6 362.4h0M98.4 385.3h0M94.4 390.6h0M92.6 394.6h0M116.8 359.4h0M90.6 382.8h0M114.3 361.0h0M118.6 335.7h0M107.1 368.0h0M111.2 372.1h0M117.0 339.9h0M107.8 341.1h0M98.0 379.2h0M113.6 363.3h0M93.2 381.0h0M106.7 349.9h0M115.4 336.1h0M116.4 377.3h0M106.8 363.4h0M104.3 368.6h0M83.6 382.4h0M97.4 362.6h0M89.4 360.9h0M128.8 344.9h0M114.9 341.2h0M100.3 381.1h0M87.8 386.1h0M93.9 365.7h0M81.8 393.9h0M111.2 373.3h0M105.3 372.3h0M78.6 372.9h0M120.3 331.5h0M120.6 378.1h0M116.2 339.8h0M101.8 374.1h0M107.3 381.0h0M105.7 364.6h0M118.0 343.8h0M102.7 360.5h0M78.0 377.3h0M86.7 387.3h0M97.4 374.1h0M91.1 364.5h0M97.0 375.8h0M108.8 373.9h0M111.9 352.3h0M101.0 379.2h0M109.2 366.2h0M107.8 367.7h0M111.6 339.8h0M99.5 363.7h0M84.9 379.7h0M106.2 377.6h0M85.4 373.3h0M95.7 380.7h0M108.1 365.8h0M107.3 363.9h0M118.6 349.8h0M93.2 391.6h0M101.4 374.5h0M101.4 378.0h0M102.2 368.9h0M93.8 384.8h0M84.8 364.5h0M107.8 332.6h0M110.1 363.1h0M116.5 347.5h0M85.6 390.7h0M114.8 347.2h0M99.3 380.7h0M84.2 398.0h0M123.3 340.5h0M107.1 363.0h0M102.0 379.7h0M107.0 364.2h0M105.5 347.9h0M93.0 379.1h0M101.2 361.5h0M106.0 357.6h0M110.2 361.6h0M95.8 349.8h0M94.6 379.2h0M98.8 372.6h0M122.7 359.5h0M122.0 349.9h0M94.1 384.6h0M92.4 384.6h0M111.4 366.3h0M90.9 380.2h0M100.6 372.8h0M96.9 380.9h0M77.1 388.0h0M120.8 353.8h0M101.1 381.6h0M94.4 381.1h0M96.4 384.1h0M126.2 351.2h0M91.7 367.7h0M112.5 338.5h0M114.3 362.0h0M98.3 375.0h0M120.8 360.2h0M118.0 362.8h0M102.7 378.2h0M118.7 349.0h0M113.0 362.8h0M120.2 341.2h0M102.5 337.6h0M96.2 377.9h0M107.6 341.4h0M87.2 390.5h0M127.4 355.9h0M103.8 348.1h0M92.0 377.8h0M103.1 369.6h0M118.5 358.4h0M108.8 366.6h0M104.1 370.6h0M108.3 363.2h0M112.6 367.7h0M91.5 381.5h0M89.3 386.4h0M102.3 379.7h0M129.2 347.1h0M111.8 362.4h0M103.7 372.6h0M102.1 376.2h0M103.3 369.7h0M102.8 368.3h0M101.9 358.0h0M81.8 398.1h0M94.5 386.8h0M92.3 351.0h0M85.5 389.4h0M90.0 353.0h0M105.2 369.3h0M93.2 382.9h0M105.2 333.8h0M104.4 347.8h0M108.8 371.6h0M82.3 393.5h0M98.7 362.2h0M98.2 374.9h0M119.4 349.2h0M104.8 354.7h0M107.3 347.1h0M122.7 358.1h0M123.8 351.5h0M90.1 352.2h0M102.7 382.2h0M106.8 357.5h0M104.9 351.4h0M99.1 375.5h0M110.3 360.1h0M106.0 341.1h0M121.5 353.7h0M91.4 380.3h0M104.9 371.9h0M115.0 350.1h0M102.1 373.2h0M92.3 344.5h0M105.5 367.4h0M127.5 360.8h0M102.8 373.5h0M106.4 364.9h0M107.8 344.4h0M109.5 368.5h0M93.6 378.0h0M79.9 380.6h0M99.7 371.6h0M123.1 358.9h0M87.4 386.1h0M117.0 355.8h0M95.4 380.8h0M84.7 396.8h0M87.1 389.2h0M92.4 382.4h0M118.7 346.1h0M99.6 373.1h0M117.0 350.3h0M75.6 375.6h0M95.1 378.2h0M101.0 381.8h0M97.7 375.0h0M90.2 363.3h0M101.6 350.0h0M110.6 367.6h0M96.1 393.3h0M87.8 366.1h0M98.1 367.8h0M99.9 380.1h0M113.7 347.5h0M121.0 357.4h0M101.7 365.2h0M107.9 353.4h0M109.0 341.1h0M97.3 364.9h0M106.0 365.4h0M107.4 372.2h0M98.9 379.7h0M93.8 380.8h0M114.7 362.6h0M112.7 363.9h0M102.2 373.6h0M108.2 356.3h0M98.9 372.0h0M95.8 382.6h0M116.9 356.3h0M120.7 350.0h0M111.6 367.3h0M131.5 347.0h0M97.3 360.4h0M98.6 378.8h0M110.8 352.2h0M88.2 385.4h0M107.8 363.7h0M106.4 377.7h0M89.8 382.6h0M138.2 331.8h0M113.7 352.8h0M137.7 327.4h0M117.3 348.1h0M116.8 348.8h0M135.6 329.0h0M113.9 346.2h0M139.7 327.7h0M132.4 334.3h0M119.9 342.4h0M119.9 350.1h0M109.7 358.8h0M117.6 348.2h0M132.6 333.5h0M115.6 353.6h0M114.9 350.5h0M120.6 333.2h0M119.7 333.9h0M112.0 358.9h0M117.0 347.2h0M123.7 341.1h0M131.7 327.5h0M136.2 328.6h0M124.3 343.0h0M118.9 349.9h0M131.2 330.4h0M137.2 332.7h0M117.6 344.8h0M124.5 337.6h0M111.0 356.6h0M134.8 327.1h0M135.8 328.5h0M123.6 342.1h0M125.6 341.1h0M111.2 360.1h0M111.5 351.0h0M139.6 327.8h0M134.6 330.6h0M110.7 355.3h0M114.0 349.5h0M131.8 336.5h0M113.5 351.1h0M118.7 344.5h0M135.1 333.0h0M135.2 325.7h0M114.1 356.9h0M134.9 323.7h0M115.7 350.2h0M113.3 356.6h0M141.6 324.6h0M131.4 330.4h0M127.1 337.5h0M135.1 325.3h0M141.3 321.9h0M139.9 329.3h0M140.5 325.0h0M125.9 341.5h0M123.0 341.6h0M124.8 341.3h0M117.2 342.5h0M111.8 354.9h0M133.6 335.1h0M111.1 345.7h0M111.3 358.2h0M124.1 342.8h0M123.4 337.5h0M142.1 323.5h0M134.2 335.7h0M144.4 323.7h0M114.9 354.7h0M125.6 344.0h0M129.0 335.7h0M139.6 323.8h0M112.6 349.5h0M143.5 325.9h0M111.4 354.6h0M139.7 322.4h0M126.1 338.2h0M116.6 348.3h0M132.0 327.8h0M133.7 325.3h0M129.2 320.2h0M116.0 346.9h0M112.5 358.6h0M114.2 353.3h0M132.5 337.5h0M127.5 335.8h0M131.7 335.7h0M132.0 327.5h0M139.8 327.6h0M134.7 335.4h0M112.7 352.3h0M112.4 347.3h0M118.7 347.0h0M112.7 347.9h0M125.4 345.0h0M120.8 348.7h0M131.3 330.8h0M141.2 323.2h0M129.3 337.8h0M140.3 328.4h0M126.0 336.1h0M137.3 326.5h0M128.6 338.6h0M123.5 342.6h0M123.0 337.3h0M141.8 326.1h0M136.8 332.2h0M143.5 325.9h0M129.1 340.8h0M139.2 329.7h0M139.6 328.3h0M119.9 338.9h0M131.9 335.2h0M138.1 327.3h0M116.0 348.9h0M133.4 333.3h0M113.6 355.0h0M111.1 349.1h0M112.7 355.9h0M117.3 351.9h0M131.8 337.5h0M113.9 350.9h0M116.7 348.6h0M142.6 324.3h0M112.7 345.2h0M108.7 351.0h0M121.0 344.0h0M106.5 352.3h0M117.5 350.4h0M142.2 327.2h0M122.6 345.1h0M115.5 354.3h0M128.4 341.2h0M104.7 355.2h0M130.8 335.9h0M117.8 350.0h0M116.4 346.4h0M141.2 328.3h0M119.9 345.0h0M135.4 332.9h0M133.8 336.6h0M122.2 344.3h0M116.4 336.0h0M127.2 328.8h0M110.5 359.5h0M108.9 354.2h0M117.6 352.4h0M139.3 327.4h0M122.6 339.8h0M114.7 353.1h0M116.5 349.7h0M131.5 336.7h0M132.1 324.3h0M138.5 324.5h0M108.0 357.5h0M136.1 325.4h0M130.9 339.3h0M137.1 325.5h0M130.5 338.4h0M127.7 341.0h0M110.7 360.3h0M133.6 325.5h0M110.6 348.7h0M134.5 330.7h0M118.5 345.4h0M108.6 355.8h0M129.3 334.7h0M122.2 345.9h0M133.9 333.3h0M115.4 349.4h0M109.3 357.7h0M138.8 324.1h0M136.8 318.0h0M140.1 323.7h0M112.4 351.0h0M116.4 353.9h0M133.6 334.4h0M135.8 329.7h0M143.6 324.2h0M122.3 345.1h0M113.2 350.7h0M138.4 326.5h0M116.6 348.0h0M127.9 341.4h0M119.4 349.8h0M107.5 356.0h0M112.3 356.7h0M131.7 335.9h0M132.6 333.5h0M108.8 357.9h0M136.6 328.1h0M127.6 341.6h0M142.2 322.4h0M128.4 333.8h0M141.3 325.2h0M113.7 356.2h0M110.7 359.0h0M127.1 342.5h0M127.6 336.4h0M134.7 331.0h0M137.0 323.1h0M119.1 351.7h0M113.6 350.6h0M136.0 330.5h0M132.9 337.1h0M134.4 329.5h0M118.5 350.6h0M112.3 358.2h0M130.2 336.7h0M114.8 352.9h0M120.1 349.2h0M109.5 357.3h0M137.5 327.9h0M109.4 357.7h0M136.1 330.6h0M123.0 345.3h0M139.6 324.9h0M106.5 351.6h0M129.2 341.3h0M120.6 347.2h0M117.1 349.5h0M119.0 348.3h0M138.0 329.0h0M138.1 324.8h0M117.5 349.4h0M129.5 339.1h0M120.3 345.3h0M103.1 352.6h0M119.8 344.7h0M107.7 357.4h0M135.0 334.9h0M113.1 354.8h0M140.3 326.0h0M115.0 351.1h0M109.9 359.1h0M113.8 351.9h0M114.7 355.2h0M110.3 350.4h0M133.1 332.6h0M139.2 322.9h0M121.9 338.8h0M131.3 333.9h0M137.0 327.4h0M117.9 349.9h0M109.3 352.8h0M113.0 354.9h0M114.3 353.8h0M130.2 340.2h0M136.3 319.7h0M130.2 336.0h0M138.8 328.2h0M112.6 356.2h0M144.8 324.3h0M133.3 324.8h0M129.2 331.9h0M132.9 327.2h0M134.8 332.8h0M109.1 352.5h0M132.0 334.9h0M137.2 329.3h0M119.4 347.7h0M110.3 360.2h0M133.8 334.0h0M110.9 356.3h0M137.5 323.0h0M124.7 344.4h0M119.9 348.0h0M130.0 327.7h0M126.7 336.4h0M136.2 333.0h0M112.7 348.1h0M124.3 343.8h0M109.4 356.0h0M138.1 322.4h0M120.4 349.4h0M113.9 352.7h0M134.2 334.4h0M114.1 349.9h0M128.4 341.3h0M135.2 334.8h0M132.2 331.7h0M137.8 327.4h0M133.8 336.5h0M140.4 327.9h0M139.9 323.1h0M111.4 354.6h0M131.4 334.6h0M135.0 327.7h0M134.1 333.0h0M138.1 327.0h0M107.1 356.7h0M114.6 352.9h0M125.0 344.0h0M140.4 328.2h0M138.2 331.9h0M107.6 351.8h0M117.5 344.1h0M126.4 339.2h0M119.2 350.3h0M116.1 354.7h0M111.7 359.4h0M110.2 356.0h0M137.3 329.7h0M132.8 332.0h0M119.4 344.0h0M133.5 331.7h0M124.3 340.2h0M109.3 360.2h0M111.8 355.8h0M140.4 327.5h0M123.4 345.0h0M127.3 339.4h0M132.1 335.8h0M136.4 331.2h0M112.2 357.4h0M112.0 356.1h0M129.6 340.7h0M128.0 336.2h0M132.0 329.6h0M141.8 324.8h0M124.2 343.7h0M127.7 331.4h0M125.5 343.1h0M107.2 353.0h0M109.4 343.7h0M129.3 332.5h0M143.4 326.3h0M118.1 345.6h0M134.9 326.0h0M135.9 325.2h0M113.9 350.3h0M118.7 350.7h0M121.2 340.6h0M110.7 357.0h0M140.3 327.1h0M139.9 323.9h0M116.2 341.2h0M117.6 347.4h0M129.0 338.6h0M133.1 336.7h0M120.6 339.7h0M135.9 325.7h0M111.0 359.4h0M117.5 351.8h0M125.1 338.2h0M115.1 351.6h0M124.7 345.6h0M139.0 327.7h0M128.8 339.6h0M141.5 324.3h0M123.3 337.7h0M126.2 333.3h0M133.6 327.1h0M136.9 321.8h0M132.4 330.8h0M120.6 338.4h0M121.6 343.7h0M136.0 333.5h0M127.3 337.4h0M108.9 356.9h0M110.6 340.6h0M136.2 333.3h0M116.1 352.8h0M108.7 354.8h0M135.7 330.0h0M120.7 342.9h0M132.6 337.1h0M124.6 341.7h0M128.6 335.6h0M133.6 326.2h0M108.2 356.5h0M129.1 339.3h0M106.3 356.9h0M123.6 346.3h0M127.7 331.0h0M135.9 330.6h0M126.9 335.6h0M144.1 324.0h0M121.3 335.2h0M123.6 345.0h0M142.7 324.2h0M123.2 341.4h0M129.4 336.2h0M110.1 355.3h0M130.4 332.6h0M116.0 348.9h0M129.2 338.0h0M125.0 334.6h0M123.0 346.2h0M131.2 332.4h0M111.2 358.5h0M123.0 339.9h0M130.4 323.4h0M125.0 345.0h0M113.6 349.2h0M115.6 346.6h0M119.4 350.5h0M139.7 329.7h0M117.5 348.7h0M116.4 352.2h0M133.1 333.6h0M112.9 353.1h0M120.2 349.0h0M124.2 332.6h0M130.8 330.5h0M116.6 354.3h0M124.2 340.6h0M121.3 331.8h0M128.0 339.7h0M128.8 338.5h0M127.2 342.2h0M135.0 327.5h0M135.6 333.2h0M138.0 326.3h0M141.7 320.8h0M119.4 340.7h0M126.5 329.1h0M133.1 334.4h0M123.6 346.6h0M139.0 327.5h0M141.4 327.2h0M110.3 351.9h0M112.3 359.0h0M141.4 320.5h0M114.0 351.6h0M115.4 354.6h0M137.7 323.0h0M122.7 344.5h0M115.1 349.0h0M112.6 356.1h0M124.4 340.1h0M119.4 347.9h0M113.7 355.4h0M122.0 342.0h0M135.7 330.7h0M128.2 338.3h0M129.2 340.9h0M118.5 347.5h0M109.8 355.4h0M128.8 340.6h0M142.9 326.2h0M111.3 354.0h0M135.1 330.0h0M131.5 325.6h0M120.8 340.9h0M130.7 338.0h0M129.2 340.5h0M132.0 322.6h0M124.2 334.7h0" stroke="#595959" stroke-width="1.45" stroke-linecap="round" fill="none"/><path d="M88.4 364.3h0M96.7 371.9h0M95.5 360.8h0M109.0 351.4h0M87.8 357.0h0M80.5 371.9h0M90.2 371.9h0M87.6 368.3h0M102.6 360.1h0M112.7 352.8h0M74.3 378.3h0M92.2 360.8h0M109.2 343.1h0M104.0 365.9h0M103.1 354.8h0M74.0 373.7h0M86.8 379.3h0M77.3 390.2h0M102.5 367.1h0M88.8 363.0h0M84.8 379.2h0M83.8 363.3h0M103.7 350.0h0M101.2 357.8h0M78.0 372.2h0M102.9 353.0h0M84.2 367.8h0M70.9 371.9h0M89.6 359.1h0M88.8 361.3h0M99.0 366.8h0M96.3 351.4h0M109.5 356.1h0M96.2 365.5h0M91.2 364.4h0M102.7 353.5h0M110.1 355.7h0M100.9 362.0h0M84.1 384.0h0M88.8 369.2h0M92.3 378.2h0M77.5 366.4h0M96.3 363.3h0M101.7 362.3h0M99.6 362.6h0M96.2 360.4h0M107.5 356.0h0M83.7 341.2h0M98.0 354.9h0M95.1 375.4h0M104.4 350.6h0M115.0 353.7h0M80.3 364.4h0M116.4 348.8h0M90.1 371.2h0M76.9 379.1h0M93.2 370.3h0M110.0 355.3h0M102.4 344.7h0M87.6 368.5h0M95.9 363.6h0M101.0 358.7h0M88.6 365.0h0M84.9 367.6h0M94.2 365.2h0M103.3 341.4h0M88.8 369.2h0M95.4 367.1h0M97.1 368.9h0M111.9 350.0h0M79.4 376.0h0M88.2 378.5h0M100.3 361.0h0M85.0 375.7h0M87.5 370.4h0M86.0 371.7h0M82.7 374.1h0M95.2 369.7h0M110.5 357.8h0M102.8 356.8h0M105.7 349.5h0M101.1 354.6h0M101.8 347.1h0M95.1 365.1h0M76.1 354.8h0M108.0 357.8h0M86.1 375.1h0M92.0 373.0h0M99.4 370.4h0M106.4 355.9h0M93.5 366.2h0M109.1 353.3h0M88.4 372.2h0M80.3 372.9h0M92.5 347.7h0M84.3 368.0h0M99.1 357.0h0M93.2 366.6h0M100.4 355.7h0M96.1 365.6h0M81.9 374.9h0M108.2 345.3h0M93.2 364.1h0M109.2 357.0h0M107.7 356.6h0M86.2 383.2h0M77.5 371.7h0M104.2 360.4h0M96.6 352.9h0M102.5 352.4h0M83.7 386.7h0M83.4 356.6h0M80.6 374.7h0M99.4 360.5h0M94.7 362.2h0M84.4 382.1h0M106.1 357.9h0M93.9 368.1h0M80.1 367.7h0M93.5 350.8h0M82.8 358.7h0M90.5 372.1h0M103.6 364.6h0M76.1 387.2h0M92.2 369.3h0M99.1 344.7h0M101.4 355.7h0M86.2 365.7h0M110.4 352.5h0M75.6 379.5h0M91.8 369.8h0M99.2 370.4h0M97.9 371.0h0M82.4 360.0h0M79.5 358.2h0M96.0 355.3h0M97.8 361.8h0M90.3 356.9h0M108.7 358.5h0M94.4 367.3h0M101.8 366.2h0M86.9 353.1h0M93.2 371.9h0M101.7 350.7h0M85.3 355.7h0M98.3 367.9h0M93.6 373.5h0M88.1 362.9h0M93.8 341.7h0M95.3 365.5h0M105.7 362.1h0M100.1 349.2h0M91.2 374.2h0M94.6 366.3h0M83.9 348.8h0M93.7 344.0h0M98.3 351.5h0M89.7 376.7h0M94.9 351.7h0M83.0 375.1h0M105.9 355.3h0M86.4 375.4h0M95.9 351.5h0M110.8 357.8h0M94.5 357.4h0M78.7 372.5h0M87.7 377.5h0M114.5 339.8h0M86.6 375.5h0M92.6 376.5h0M85.3 374.2h0M88.0 364.0h0M106.7 349.4h0M77.0 368.3h0M72.2 392.5h0M81.3 372.4h0M104.8 362.7h0M90.6 371.9h0M77.4 365.7h0M85.5 385.4h0M103.2 344.3h0M98.3 358.4h0M96.2 369.9h0M83.5 368.5h0M89.7 363.3h0M84.8 366.6h0M109.2 352.9h0M89.9 350.1h0M113.9 355.2h0M94.0 363.2h0M94.0 375.2h0M96.4 364.4h0M105.2 361.8h0M85.7 360.8h0M95.3 363.2h0M85.1 385.3h0M77.4 379.9h0M90.9 378.3h0M95.2 370.9h0M88.3 360.0h0M105.9 350.3h0M112.3 344.2h0M95.7 364.7h0M93.4 354.7h0M101.0 351.8h0M98.6 369.0h0M102.6 362.1h0M103.8 352.6h0M95.0 361.3h0M84.4 381.0h0M78.8 388.8h0M112.6 349.4h0M100.2 366.6h0M89.2 367.5h0M93.9 371.2h0M84.0 373.8h0M94.9 360.7h0M80.4 373.6h0M86.8 371.0h0M98.2 368.4h0M110.5 357.2h0M78.8 384.9h0M96.9 355.6h0M88.6 358.9h0M83.3 380.7h0M84.1 377.6h0M92.2 351.3h0M88.0 367.9h0M94.0 369.8h0M87.3 356.9h0M89.8 370.7h0M93.6 365.8h0M99.1 351.2h0M100.9 367.5h0M90.2 366.4h0M83.1 365.2h0M97.4 359.7h0M89.5 362.1h0M73.8 386.4h0M101.8 364.6h0M87.4 368.2h0M90.3 362.7h0M98.1 358.8h0M99.3 357.8h0M93.5 358.2h0M91.1 365.1h0M104.0 359.7h0M98.5 349.0h0M80.0 387.2h0M103.8 362.9h0M79.3 384.9h0M85.7 375.8h0M83.1 357.2h0M104.1 356.9h0M88.0 379.4h0M97.9 364.3h0M88.1 376.3h0M88.8 365.2h0M81.7 362.7h0M90.9 366.3h0M72.6 389.9h0M83.4 362.4h0M114.6 349.4h0M80.1 379.0h0M106.3 354.7h0M100.0 365.5h0M77.2 357.7h0M98.3 365.5h0M88.8 375.3h0M95.6 355.3h0M93.6 362.3h0M96.4 364.4h0M97.4 363.2h0M97.2 369.9h0M98.9 369.8h0M101.8 367.0h0M103.7 358.3h0M88.6 370.1h0M77.0 389.6h0M103.0 354.6h0M76.0 382.3h0M82.6 382.6h0M84.6 362.5h0M95.8 367.8h0M94.5 367.9h0M108.6 352.4h0M107.9 359.0h0M79.3 385.9h0M83.5 387.2h0M93.4 370.5h0M99.7 363.9h0M93.5 374.3h0M99.5 353.0h0M94.8 363.2h0M108.1 351.5h0M101.6 360.6h0M94.5 365.4h0M91.4 360.2h0M101.0 351.1h0M93.4 356.4h0M96.6 355.8h0M73.9 380.7h0M91.0 367.5h0M85.4 384.0h0M73.7 369.5h0M108.5 356.7h0M75.3 387.0h0M101.8 367.9h0M83.3 336.0h0M70.4 391.9h0M99.3 364.4h0M85.2 373.4h0M106.6 355.4h0M94.1 357.1h0M86.1 359.9h0M106.6 360.8h0M104.9 361.7h0M95.2 365.5h0M100.6 366.8h0M100.8 348.6h0M83.6 377.3h0M89.9 367.4h0M89.1 379.6h0M76.6 372.3h0M83.4 370.8h0M81.6 356.9h0M78.6 386.3h0M88.6 357.6h0M101.7 360.6h0M89.0 379.3h0M103.1 343.9h0M95.4 365.2h0M97.9 363.8h0M91.1 354.2h0M95.7 352.2h0M97.3 370.8h0M90.2 363.2h0M94.3 363.1h0M108.3 359.6h0M96.9 354.1h0M70.0 389.0h0M103.4 366.1h0M94.8 369.2h0M84.6 356.9h0M74.9 383.1h0M77.2 371.8h0M103.1 349.1h0M81.2 371.4h0M97.8 370.9h0M99.5 364.1h0M102.5 355.3h0M86.1 378.3h0M80.1 383.8h0M77.7 347.5h0M105.5 363.6h0M82.0 373.2h0M84.9 371.6h0M83.3 375.9h0M88.0 374.1h0M96.8 352.1h0M83.9 370.6h0M69.7 373.0h0M88.6 359.7h0M80.4 376.5h0M76.8 365.4h0M97.3 366.7h0M106.0 357.9h0M99.4 358.6h0M100.0 364.1h0M100.5 353.9h0M97.4 367.7h0M95.2 372.6h0M95.9 359.1h0M90.8 368.6h0M91.1 369.1h0M105.8 352.2h0M89.5 375.5h0M90.4 380.1h0M89.1 376.7h0M91.7 366.5h0M100.3 355.3h0M81.5 351.7h0M91.7 374.4h0M78.0 375.4h0M80.3 380.2h0M101.0 364.9h0M80.9 377.5h0M95.2 348.9h0M98.2 367.1h0M95.1 360.4h0M96.5 360.8h0M93.7 371.6h0M103.9 358.2h0M95.1 350.1h0M95.8 355.6h0M92.4 377.4h0M88.2 368.7h0M99.7 362.9h0M100.4 361.3h0M85.7 374.7h0M81.6 359.4h0M89.6 365.2h0M89.0 355.2h0M93.4 368.6h0M85.0 365.7h0M105.8 363.3h0M90.8 360.6h0M82.4 362.7h0M102.5 353.4h0M90.7 379.6h0M107.9 352.9h0M96.7 363.9h0M82.4 353.1h0M91.9 369.3h0M82.4 350.7h0M77.8 365.2h0M90.9 366.0h0M95.1 368.8h0M71.1 377.2h0M103.1 348.6h0M93.9 370.0h0M94.5 367.5h0M91.9 372.6h0M99.9 364.2h0M87.5 371.6h0M98.2 367.2h0M108.4 351.4h0M82.7 381.2h0M94.5 367.2h0M93.2 355.3h0M94.7 356.9h0M91.0 360.9h0M88.3 363.0h0M92.1 352.7h0M94.6 357.2h0M107.9 353.2h0M101.9 335.4h0M92.9 370.6h0M84.0 371.7h0M100.3 363.8h0M90.9 349.1h0M93.8 369.0h0M109.2 347.6h0M88.6 372.0h0M86.1 366.2h0M72.3 387.3h0M89.2 368.3h0M96.0 373.7h0M77.9 384.5h0M78.3 375.9h0M84.9 355.9h0M92.8 357.2h0M86.9 375.6h0M100.9 366.1h0M98.5 368.5h0M99.8 361.9h0M82.4 369.0h0M92.4 375.1h0M100.5 353.9h0M95.7 367.7h0M82.9 381.9h0M78.6 371.5h0M90.4 370.6h0M87.4 372.1h0M100.0 352.2h0M96.9 368.7h0M89.2 360.9h0M101.9 347.9h0M102.4 359.3h0M94.7 361.4h0M94.5 358.8h0M76.4 392.7h0M90.2 370.1h0M77.1 369.8h0M92.9 377.1h0M80.0 364.8h0M83.3 373.1h0M91.5 356.4h0M94.9 374.8h0M78.7 364.8h0M106.5 349.7h0M107.1 358.2h0M93.6 367.0h0M114.0 349.8h0M96.4 353.5h0M86.0 379.8h0M107.7 357.8h0M85.5 362.1h0M92.9 363.1h0M98.1 362.5h0M107.1 358.7h0M100.8 349.0h0M104.5 363.4h0M111.6 349.8h0M104.9 363.6h0M83.8 371.5h0M67.4 370.5h0M87.3 376.8h0M73.2 371.2h0M71.4 374.1h0M104.4 359.5h0M98.9 370.9h0M98.1 347.4h0M85.2 352.4h0M108.2 360.5h0M90.1 339.3h0M81.7 361.9h0M91.7 360.4h0M106.5 354.7h0M94.3 368.4h0M69.2 363.2h0M94.9 363.9h0M93.1 371.7h0M97.0 362.0h0M87.3 350.6h0M100.0 360.0h0M84.1 373.5h0M91.2 374.2h0M94.9 351.4h0M96.7 346.6h0M94.1 355.5h0M102.9 363.0h0M94.6 369.5h0M95.2 367.7h0M90.3 365.8h0M96.9 365.1h0M97.1 353.5h0M87.4 370.1h0M103.2 362.6h0M101.2 358.6h0M91.0 352.8h0M108.3 357.9h0M94.2 367.2h0M70.8 375.1h0M96.2 370.2h0M94.3 370.3h0M93.8 369.2h0M88.4 370.9h0M89.5 378.9h0M89.5 346.0h0M110.8 356.9h0M82.6 377.9h0M110.9 353.6h0M100.6 368.9h0M90.7 359.8h0M106.4 359.9h0M96.4 355.8h0M104.4 356.5h0M112.2 353.2h0M111.2 356.5h0M86.1 383.2h0M92.3 370.9h0M89.8 365.3h0M107.4 353.0h0M97.1 364.8h0M89.1 362.4h0M99.3 352.3h0M88.8 377.5h0M105.4 357.8h0M103.6 361.5h0M83.5 366.0h0M95.7 357.7h0M89.0 369.9h0M103.3 356.7h0M82.7 378.9h0M103.0 363.4h0M93.4 359.2h0M96.6 371.6h0M84.3 373.4h0M79.2 370.4h0M87.9 376.1h0M89.1 376.7h0M75.2 383.2h0M96.1 359.1h0M92.3 362.1h0M84.4 358.9h0M109.4 360.0h0M100.3 351.2h0M94.4 359.6h0M87.9 378.2h0M98.2 370.1h0M96.0 373.2h0M107.1 345.3h0M89.4 370.2h0M105.0 348.6h0M76.5 379.2h0M96.8 368.5h0M95.4 353.2h0M101.6 355.5h0M94.7 375.8h0M100.8 361.8h0M97.3 368.7h0M91.1 348.3h0M98.3 366.5h0M105.9 356.0h0M75.9 375.5h0M88.9 372.2h0M95.4 358.3h0M88.1 373.7h0M102.9 347.9h0M91.3 378.4h0M102.2 358.4h0M94.0 361.2h0M98.3 357.5h0M105.9 362.5h0M91.2 365.9h0M90.5 374.1h0M107.8 359.0h0M93.7 359.5h0M78.4 382.1h0M87.6 362.4h0M93.5 367.3h0M112.7 353.9h0M90.7 364.1h0M104.2 365.1h0M92.7 372.4h0M96.8 356.9h0M78.7 357.0h0M86.2 377.4h0M90.0 376.5h0M98.4 366.2h0M95.0 355.4h0M111.4 352.4h0M106.0 362.2h0M81.2 372.7h0M95.1 365.7h0M92.9 371.7h0M89.6 375.1h0M80.3 384.4h0M90.0 378.3h0M93.9 374.8h0M105.7 355.8h0M81.3 376.0h0M81.5 379.2h0M83.4 366.3h0M94.9 369.2h0M88.9 373.7h0M101.6 355.2h0M88.5 362.3h0M83.0 364.6h0M87.9 370.2h0M86.3 371.4h0M69.3 370.4h0M84.6 367.4h0M79.3 369.5h0M90.9 349.6h0M81.7 375.7h0M94.6 354.7h0M87.4 381.0h0M109.7 356.1h0M105.4 357.3h0M94.3 375.3h0M111.8 343.7h0M102.1 362.8h0M88.1 356.6h0M99.1 370.3h0M87.9 353.3h0M103.1 362.1h0M107.5 354.8h0M84.1 377.3h0M89.3 371.8h0M81.8 384.3h0M92.8 359.4h0M104.3 358.1h0M88.7 378.3h0M87.8 379.5h0M86.3 368.6h0M97.1 371.5h0M104.1 358.5h0M76.2 385.9h0M91.7 368.7h0M105.5 358.2h0M87.6 362.3h0M102.1 349.2h0M103.5 364.1h0M103.2 363.7h0M103.2 348.0h0M75.8 374.3h0M83.2 365.1h0M94.1 362.6h0M96.3 368.3h0M95.6 370.3h0M82.7 369.2h0M105.3 360.2h0M85.5 377.6h0M89.7 369.2h0M110.8 356.6h0M89.9 358.9h0M102.5 359.9h0M95.3 365.7h0M101.4 346.0h0M107.0 354.8h0M96.0 357.0h0M96.9 365.0h0M93.8 346.8h0M87.3 376.6h0M90.7 365.8h0M92.7 363.6h0M82.3 382.0h0M77.0 387.2h0M95.8 370.8h0M107.1 357.4h0M98.4 362.7h0M96.2 355.0h0M89.7 369.2h0M98.7 356.8h0M106.7 359.5h0M107.1 351.0h0M95.4 348.4h0M96.9 368.0h0M107.1 357.1h0M90.8 371.5h0M85.1 371.5h0M80.4 351.0h0M95.1 365.0h0M100.9 368.8h0M97.8 354.2h0M91.1 350.8h0M76.3 370.9h0M110.2 352.6h0M98.0 358.2h0M80.5 380.7h0M85.2 356.4h0M90.8 374.3h0M89.3 381.0h0M101.0 364.6h0M103.1 365.0h0M98.2 361.0h0M98.0 362.7h0M111.8 352.5h0M103.0 356.6h0M93.0 360.0h0M105.7 356.0h0M100.9 360.6h0M81.9 376.6h0M88.6 346.2h0M88.2 370.4h0M118.4 349.5h0M98.5 365.1h0M76.5 377.9h0M109.9 333.5h0M104.4 356.2h0M86.3 361.2h0M80.6 369.6h0M108.1 354.7h0M93.3 372.7h0M99.3 343.4h0M94.9 368.9h0M95.1 360.1h0M96.7 354.7h0M99.9 361.3h0M109.3 358.2h0M85.3 371.7h0M99.9 358.0h0M90.7 374.3h0M91.3 364.1h0M93.8 361.7h0M100.1 361.0h0M97.0 364.2h0M101.3 364.5h0M97.2 359.3h0M100.4 368.9h0M93.0 364.3h0M100.0 361.6h0M110.0 356.3h0M77.4 384.8h0M96.1 357.4h0M102.4 350.9h0M92.6 363.7h0M81.7 375.5h0M105.7 349.8h0M91.7 378.6h0M95.3 355.9h0M90.3 365.9h0M80.9 357.1h0M96.5 348.4h0M96.4 372.6h0M79.2 353.8h0M97.5 363.6h0M102.5 351.8h0M99.9 363.0h0M101.6 367.1h0M94.3 371.5h0M82.3 378.8h0M97.2 359.3h0M93.0 373.8h0M105.0 351.4h0M89.1 373.1h0M94.5 359.6h0M113.0 356.1h0M89.3 378.5h0M94.1 362.5h0M78.6 343.2h0M86.7 383.6h0M108.0 352.4h0M107.4 355.2h0M92.6 374.3h0M90.8 357.2h0M107.8 359.6h0M93.8 339.7h0M110.9 356.1h0M97.3 349.5h0M114.5 352.9h0M102.3 360.7h0M95.1 361.4h0M112.3 355.0h0M102.4 355.1h0M93.4 354.9h0M105.9 354.7h0M87.8 361.7h0M78.1 369.9h0M94.7 355.7h0M92.7 354.8h0M109.7 357.0h0M84.6 364.9h0M100.3 364.6h0M81.7 372.2h0M91.1 359.7h0M86.1 358.1h0M105.9 354.7h0M104.7 358.4h0M101.9 343.5h0M82.9 379.0h0M103.8 358.9h0M111.3 354.3h0M112.1 355.4h0M87.6 374.6h0M95.3 371.3h0M87.2 377.0h0M97.7 359.9h0M80.1 367.9h0M71.8 387.4h0M98.3 362.0h0M113.4 348.2h0M87.5 374.0h0M80.9 378.7h0M86.4 378.6h0M90.4 369.6h0M95.6 370.2h0M86.0 384.4h0M86.7 368.9h0M88.5 363.0h0M110.2 350.2h0M91.7 361.9h0M97.6 357.8h0M94.5 367.4h0M96.4 358.8h0M105.2 353.4h0M102.4 352.9h0M91.7 367.6h0M102.8 365.9h0M108.8 354.0h0M97.6 370.0h0M92.7 347.9h0M100.6 354.8h0M105.9 351.0h0M89.9 374.3h0M91.1 350.1h0M104.8 352.1h0M99.0 355.1h0M106.1 346.3h0M88.2 363.3h0M98.8 363.8h0M86.6 372.4h0M97.3 344.7h0M110.8 351.1h0M93.8 363.3h0M98.6 360.7h0M103.4 359.5h0M90.5 376.5h0M113.1 347.1h0M87.9 363.5h0M77.9 381.5h0M84.1 361.7h0M107.3 357.7h0M84.7 370.8h0M85.8 376.5h0M91.4 375.2h0M71.4 384.7h0M88.2 360.7h0M100.6 360.0h0M82.0 377.3h0M99.5 350.9h0M99.9 368.8h0M91.4 370.7h0M97.9 363.1h0M90.0 360.7h0M84.5 364.3h0M91.6 359.0h0M107.4 349.7h0M97.3 360.0h0M89.2 369.9h0M110.1 357.9h0M94.6 363.1h0M93.0 364.8h0M93.5 376.1h0M89.7 351.9h0M88.1 381.2h0M111.6 352.1h0M89.9 362.4h0M76.6 369.4h0M99.5 364.8h0M100.9 355.1h0M97.3 356.1h0M96.5 343.1h0M85.1 382.4h0M110.7 350.8h0M79.8 373.5h0M88.5 356.5h0M89.8 370.4h0M89.4 362.6h0M93.5 370.5h0M82.5 362.2h0M77.7 372.2h0M88.1 372.7h0M96.8 354.5h0M88.4 378.2h0M101.6 358.0h0M104.7 357.7h0M96.2 371.6h0M91.4 360.7h0M87.6 378.5h0M99.0 355.0h0M89.5 371.5h0M94.4 373.6h0M79.7 380.4h0M100.9 347.3h0M105.2 354.7h0M99.5 359.0h0M92.4 348.9h0M92.5 372.3h0M80.4 357.4h0M75.6 373.9h0M96.2 355.6h0M97.7 363.8h0M101.3 356.3h0M112.8 354.4h0M86.7 368.8h0M101.7 354.7h0M104.7 352.4h0M107.9 354.1h0M91.3 350.8h0M83.9 370.0h0M107.0 357.6h0M85.3 380.3h0M86.5 345.1h0M108.2 356.5h0M77.0 380.0h0M99.1 357.4h0M84.1 379.7h0M80.8 359.1h0M86.9 355.5h0M93.1 364.1h0M101.3 346.4h0M91.1 369.1h0M108.9 348.9h0M93.6 374.8h0M97.6 357.5h0M86.3 374.2h0M97.2 363.0h0M101.4 358.4h0M82.4 364.5h0M77.5 381.3h0M85.7 379.3h0M85.8 379.8h0M92.7 366.6h0M85.4 374.6h0M115.0 343.7h0M115.2 349.1h0M83.0 371.2h0M85.2 376.8h0M101.5 368.5h0M76.0 379.5h0M100.3 364.4h0M85.5 373.5h0M92.1 374.7h0M86.3 375.0h0M84.0 372.3h0M88.8 366.8h0M80.4 373.5h0M75.3 383.8h0M97.2 367.6h0M95.2 372.1h0M119.1 350.3h0M109.8 356.6h0M109.0 351.5h0M94.2 364.8h0M100.4 352.1h0M91.5 364.5h0M96.8 363.7h0M101.5 352.0h0M102.7 352.6h0M106.1 361.3h0M102.6 357.0h0M106.4 359.5h0M91.5 371.2h0M99.2 361.3h0M83.5 370.4h0M94.8 356.4h0M99.2 359.4h0M77.7 380.8h0M102.9 358.7h0M106.0 355.5h0M76.6 392.3h0M93.2 358.3h0M97.7 366.2h0M91.7 360.5h0M78.6 369.9h0M101.5 351.6h0M96.5 360.9h0M100.8 357.6h0M94.9 362.9h0M91.5 347.4h0M95.2 361.2h0M93.0 373.5h0M89.6 370.9h0M93.5 347.1h0M106.7 350.8h0M99.6 361.4h0M96.3 361.6h0M98.1 356.0h0M77.6 375.2h0M90.4 370.5h0M92.0 360.5h0M98.3 365.5h0M95.7 370.4h0M92.1 374.5h0M79.4 357.6h0M81.7 365.0h0M87.3 372.5h0M100.8 369.1h0M102.5 365.3h0M76.0 368.7h0M93.3 362.8h0M110.7 357.0h0M116.0 350.4h0M92.1 360.0h0M100.5 364.4h0M108.6 360.2h0M89.2 361.2h0M85.7 377.2h0M96.3 363.0h0M88.1 354.1h0M107.9 354.6h0M89.9 363.2h0M86.9 372.5h0M104.2 363.6h0M92.3 370.7h0M96.9 353.9h0M109.1 355.0h0M84.4 371.3h0M95.4 370.0h0M83.2 368.2h0M103.0 361.0h0M109.3 340.0h0M90.8 366.2h0M99.3 360.6h0M92.0 376.3h0M90.4 363.7h0M82.5 364.9h0M91.8 370.1h0M69.6 388.6h0M106.8 360.1h0M100.9 356.0h0M74.1 364.7h0M91.0 367.8h0M80.3 390.7h0M84.2 374.6h0M109.3 348.2h0M92.1 356.7h0M106.2 357.0h0M86.0 376.9h0M87.9 365.1h0M93.9 353.6h0M97.7 358.2h0M103.9 365.5h0M89.2 380.1h0M96.4 359.0h0M90.1 377.2h0M84.7 363.4h0M84.0 369.5h0M95.7 359.9h0M82.6 380.7h0M90.0 374.6h0M76.6 378.8h0M101.0 365.0h0M90.2 373.7h0M83.8 372.4h0M95.0 352.0h0M110.3 347.9h0M78.7 367.4h0M96.2 353.8h0M98.0 361.9h0M77.1 368.2h0M94.3 365.3h0M91.6 365.0h0M94.6 356.8h0M108.6 351.2h0M85.3 375.8h0M88.9 368.0h0M104.0 350.9h0M119.1 345.5h0M103.0 352.7h0M96.8 359.3h0M88.3 367.4h0M98.1 365.9h0M101.9 347.2h0M106.7 362.5h0M77.0 373.9h0M101.8 362.3h0M85.7 370.6h0M96.0 368.5h0M87.4 372.7h0M112.0 350.8h0M85.5 379.3h0M98.4 369.9h0M83.3 346.2h0M93.0 359.1h0M86.4 381.0h0M97.5 367.8h0M81.8 366.1h0M95.3 372.2h0M88.6 356.0h0M98.8 368.7h0M70.6 378.6h0M104.7 359.4h0M76.4 368.7h0M100.7 352.4h0M94.5 369.4h0M108.7 352.8h0M98.4 365.5h0M97.6 368.5h0M74.7 377.3h0M115.2 345.7h0M88.4 368.0h0M97.3 344.0h0M108.7 358.1h0M81.2 360.6h0M88.0 355.9h0M100.1 361.2h0M101.1 358.6h0M90.6 355.3h0M101.6 358.9h0M92.0 371.3h0M86.6 366.9h0M94.1 356.5h0M89.6 368.5h0M86.2 378.4h0M87.6 355.1h0M74.7 371.6h0M100.4 364.5h0M102.1 352.0h0M107.7 354.9h0M108.2 361.7h0M89.8 362.4h0M101.5 365.3h0M109.5 360.3h0M92.3 370.0h0M69.7 382.3h0M95.8 372.0h0M82.1 365.7h0M90.9 372.1h0M88.8 364.8h0M88.9 368.6h0M94.3 375.4h0M100.4 359.7h0M102.3 345.6h0M72.4 390.9h0M70.0 374.6h0M106.2 360.3h0M95.6 359.6h0M96.2 364.3h0M122.2 345.1h0M92.2 363.3h0M113.8 348.3h0M77.0 385.2h0M97.2 351.6h0M95.3 355.9h0M86.9 365.5h0M98.1 360.4h0M94.2 367.4h0M76.2 373.7h0M97.7 362.9h0M99.7 358.7h0M84.3 368.1h0M81.7 379.0h0M84.1 363.2h0M87.8 376.0h0M103.6 361.0h0M105.6 351.9h0M86.1 348.2h0M93.9 365.3h0M110.0 341.3h0M80.6 379.5h0M92.8 369.6h0M94.3 358.8h0M69.3 380.3h0M86.0 366.2h0M78.3 374.9h0M96.4 373.3h0M94.8 375.0h0M91.0 371.5h0M74.5 368.0h0M92.5 353.9h0M117.5 350.9h0M107.5 351.8h0M100.5 351.0h0M98.3 350.6h0M88.6 348.1h0M94.5 356.3h0M86.3 362.0h0M100.6 369.5h0M104.7 362.4h0M79.6 376.4h0M86.0 359.7h0M79.9 382.4h0M90.7 370.1h0M98.8 355.1h0M76.7 364.2h0M81.6 375.9h0M105.9 354.2h0M88.9 354.3h0M107.2 352.9h0M104.3 354.6h0M72.7 364.0h0M86.2 371.1h0M104.4 355.3h0M71.7 381.2h0M95.9 369.0h0M82.8 367.7h0M86.1 367.6h0M106.9 362.4h0M73.4 374.2h0M84.0 355.7h0M92.5 367.5h0M89.6 360.5h0M105.9 357.4h0M103.6 359.6h0M110.6 351.9h0M111.5 343.0h0M82.4 367.9h0M92.9 362.4h0M82.7 380.6h0M95.9 364.6h0M104.0 355.3h0M86.9 373.7h0M108.2 355.9h0M95.1 367.9h0M101.2 356.4h0M90.0 364.2h0M93.9 354.2h0M81.7 362.5h0M96.1 358.9h0M98.9 364.4h0M103.3 365.8h0M97.0 369.6h0M81.0 372.4h0M91.1 355.9h0M104.4 357.4h0M85.0 366.9h0M89.0 360.1h0M92.2 368.6h0M85.2 364.6h0M101.1 354.0h0M87.1 348.3h0M86.1 370.5h0M97.2 361.8h0M93.1 373.1h0M101.2 366.9h0M101.2 368.8h0M88.3 365.1h0M110.4 359.3h0M111.4 354.9h0M85.5 368.6h0M100.3 345.5h0M92.9 364.9h0M85.1 378.6h0M83.4 378.0h0M97.1 343.3h0M94.0 355.5h0M87.5 357.7h0M107.8 354.2h0M105.4 344.2h0M104.7 357.7h0M98.5 355.7h0M91.5 345.9h0M92.8 364.9h0M97.5 369.2h0M95.1 359.0h0M98.3 367.3h0M100.1 354.8h0M109.2 353.6h0M97.4 351.9h0M86.5 378.9h0M105.7 348.6h0M93.0 359.4h0M105.8 361.5h0M92.0 361.7h0M92.3 376.6h0M84.7 356.4h0M70.9 375.1h0M104.0 365.5h0M79.7 376.8h0M85.4 362.9h0M82.6 378.1h0M78.4 376.6h0M88.8 371.4h0M92.9 367.9h0M101.5 347.5h0M93.3 369.4h0M78.5 370.6h0M92.4 346.3h0M80.3 385.5h0M87.0 364.4h0M87.6 373.6h0M97.4 344.4h0M94.5 359.5h0M108.8 355.5h0M115.2 350.0h0M87.1 376.7h0M105.4 360.9h0M81.8 368.8h0M80.3 381.5h0M90.3 368.5h0M92.4 358.9h0M95.6 374.4h0M92.7 368.8h0M98.7 369.9h0M101.7 365.0h0M103.8 357.0h0M97.7 368.5h0M95.8 346.4h0M86.5 372.2h0M92.7 368.1h0M86.3 369.9h0M101.3 356.6h0M110.8 355.4h0M86.3 382.1h0M93.4 355.6h0M99.9 366.3h0M90.0 369.0h0M71.7 389.7h0M111.3 355.5h0M91.8 360.9h0M106.5 350.4h0M89.1 364.1h0M76.1 390.6h0M107.0 361.9h0M104.6 352.7h0M97.1 371.1h0M102.9 362.7h0M86.7 369.5h0M94.0 338.7h0M97.7 358.1h0M76.5 379.7h0M88.1 360.5h0M99.1 336.6h0M87.0 363.0h0M101.5 363.3h0M81.0 361.3h0M92.2 371.3h0M90.5 363.1h0M92.7 359.9h0M101.1 359.1h0M96.7 372.1h0M85.7 367.8h0M95.7 363.7h0M96.5 367.7h0M87.9 377.8h0M87.8 366.7h0M84.8 376.1h0M94.2 371.8h0M98.4 370.8h0M104.7 357.1h0M84.9 369.0h0M109.2 359.8h0M102.8 359.6h0M104.2 352.9h0M91.7 354.1h0M82.0 383.8h0M98.3 354.7h0M103.6 359.1h0M97.5 345.7h0M97.4 368.1h0M95.0 371.9h0M86.7 370.8h0M96.4 355.3h0M97.3 340.5h0M100.9 354.8h0M85.3 366.7h0M88.8 356.3h0M92.7 353.4h0M82.1 379.8h0M88.3 356.9h0M98.7 351.3h0M92.3 359.4h0M105.1 354.7h0M86.0 355.4h0M103.2 361.0h0M92.6 370.5h0M95.7 369.0h0M102.4 359.9h0M90.1 370.4h0M101.4 365.5h0M91.8 372.4h0M94.7 367.8h0M103.1 364.6h0M103.9 349.7h0M100.6 363.0h0M97.4 361.2h0M102.7 363.9h0M86.0 377.0h0M100.3 359.4h0M92.6 377.0h0M109.3 351.8h0M85.5 356.6h0M90.6 371.6h0M99.2 346.7h0M89.5 372.6h0M85.2 371.7h0M86.5 381.0h0M96.5 361.7h0M96.4 354.1h0M96.2 363.9h0M86.7 371.5h0M78.5 367.9h0M90.7 375.4h0M99.8 355.0h0M95.7 354.4h0M91.6 369.2h0M94.6 364.9h0M93.9 367.6h0M87.9 356.4h0M90.5 366.0h0M90.9 360.3h0M106.0 363.3h0M99.0 362.3h0M89.9 364.2h0M99.2 356.0h0M93.3 370.4h0M84.7 382.9h0M102.5 356.3h0M108.5 353.8h0M91.1 357.1h0M105.0 362.5h0M105.1 362.1h0M102.9 354.5h0M86.2 361.2h0M95.7 361.2h0M103.4 364.2h0M88.5 365.3h0M94.3 375.5h0M98.8 367.3h0M90.0 363.6h0M90.1 355.8h0M113.0 354.7h0M91.6 377.5h0M95.1 361.3h0M104.2 365.4h0M87.0 382.7h0M94.8 340.6h0M110.3 348.2h0M69.3 397.6h0M95.0 360.2h0M79.4 381.1h0M93.2 370.3h0M95.1 355.4h0M99.4 367.3h0M81.5 379.5h0M85.7 376.7h0M90.9 378.0h0M101.4 347.2h0M80.9 371.4h0M97.5 365.4h0M78.9 366.5h0M92.6 367.4h0M73.1 376.5h0M103.3 366.3h0M105.6 356.0h0M86.0 366.1h0M104.0 354.4h0M76.6 373.5h0M88.0 359.4h0M109.5 350.8h0M93.9 366.8h0M80.2 375.5h0M87.3 379.5h0M87.8 368.8h0M107.0 342.3h0M98.5 361.9h0M85.6 384.4h0M79.3 344.7h0M82.6 382.5h0M103.9 357.6h0M85.7 374.7h0M96.7 352.3h0M102.3 351.2h0M86.1 372.7h0M100.1 361.8h0M104.9 362.0h0M86.1 354.5h0M96.5 369.0h0M99.7 360.6h0M105.9 355.4h0M83.3 375.9h0M91.8 368.9h0M93.9 366.5h0M89.2 377.5h0M92.2 363.3h0M93.6 353.0h0M82.0 382.0h0M91.1 371.2h0M92.9 363.5h0M96.5 352.7h0M96.2 366.5h0M82.4 355.2h0M105.6 355.5h0M93.6 358.0h0M87.8 381.3h0M80.1 365.8h0M98.5 357.6h0M71.9 376.9h0M89.5 376.4h0M93.2 365.8h0M87.5 377.7h0M100.0 369.8h0M88.5 368.3h0M86.6 371.9h0M103.7 359.3h0M86.6 373.9h0M82.1 380.9h0M88.7 369.9h0M89.4 368.5h0M95.3 360.4h0M95.0 344.4h0M95.9 362.9h0M90.3 353.6h0M108.7 350.2h0M115.6 350.8h0M91.0 343.7h0M83.6 374.6h0M96.4 362.6h0M82.6 364.8h0M106.3 358.4h0M91.5 355.3h0M93.9 371.2h0M109.0 359.4h0M107.1 358.7h0M82.9 370.7h0M88.1 371.3h0M86.0 372.9h0M91.8 377.3h0M92.5 362.4h0M93.5 371.5h0M97.2 369.3h0M79.6 384.6h0M102.4 353.9h0M96.3 354.8h0M97.8 359.6h0M89.7 365.3h0M87.2 381.2h0M96.2 351.9h0M100.3 369.7h0M98.8 368.9h0M105.0 355.0h0M94.4 364.7h0M109.2 358.1h0M102.6 359.4h0M91.5 355.4h0M107.1 353.1h0M84.9 374.3h0M92.4 367.0h0M76.2 372.0h0M80.9 369.0h0M98.6 358.6h0M99.1 358.5h0M92.5 372.9h0M83.9 363.5h0M72.8 373.1h0M83.5 367.3h0M96.5 364.7h0M93.7 356.5h0M72.3 391.0h0M109.9 354.0h0M93.3 365.3h0M92.0 370.7h0M91.9 357.9h0M108.6 340.7h0M107.5 350.7h0M107.7 358.5h0M94.7 367.9h0M93.6 375.2h0M118.4 347.1h0M91.6 372.7h0M88.3 373.9h0M98.8 351.5h0M81.2 366.8h0M85.5 360.6h0M93.1 367.1h0M96.9 356.1h0M117.5 335.7h0M102.4 358.5h0M101.1 362.8h0M95.6 374.3h0M97.6 362.1h0M92.3 371.3h0M105.0 363.5h0M89.1 369.4h0M102.3 360.1h0M72.1 379.8h0M90.7 376.9h0M92.4 373.9h0M99.6 366.4h0M93.2 357.0h0M100.9 348.9h0M85.2 383.5h0M86.3 365.4h0M96.8 368.4h0M89.3 358.3h0M76.0 380.4h0M81.3 364.9h0M97.8 361.5h0M92.1 376.9h0M104.7 360.2h0M88.5 364.2h0M86.2 366.4h0M90.3 370.9h0M99.9 361.3h0M90.0 378.8h0M94.5 361.9h0M72.7 390.2h0M88.1 364.7h0M102.9 350.3h0M79.9 376.9h0M93.7 353.9h0M101.5 356.6h0M92.9 375.2h0M118.3 339.8h0M97.3 362.4h0M107.7 355.0h0M99.0 369.7h0M95.1 369.3h0M94.2 360.6h0M97.9 361.9h0M92.5 377.5h0M74.3 365.9h0M83.6 367.5h0M110.1 347.2h0M95.9 357.1h0M93.4 363.6h0M73.1 386.3h0M96.1 359.5h0M87.6 362.5h0M94.8 369.7h0M103.9 357.0h0M94.6 356.1h0M80.6 366.0h0M111.2 354.8h0M92.3 357.5h0M94.7 369.7h0M86.8 381.4h0M80.1 364.4h0M99.4 354.6h0M103.3 350.4h0M89.3 378.2h0M100.2 366.3h0M107.1 353.7h0M98.1 352.9h0M95.7 360.0h0M79.6 375.7h0M79.4 381.6h0M91.4 377.3h0M84.6 367.0h0M107.8 358.7h0M84.9 354.8h0M91.9 354.8h0M72.5 381.7h0M81.6 380.4h0M100.2 352.0h0M90.7 378.7h0M93.0 369.3h0M94.3 368.9h0M85.7 354.7h0M92.2 376.0h0M76.3 387.6h0M97.2 372.8h0M96.5 364.9h0M95.8 363.6h0M76.9 389.6h0M95.0 369.4h0M97.0 351.9h0M91.4 372.9h0M96.0 355.6h0M88.7 366.8h0M107.4 345.0h0M79.6 374.5h0M94.4 371.9h0M81.8 364.2h0M82.1 388.0h0M97.1 365.3h0M94.3 360.4h0M94.8 364.0h0M90.4 375.8h0M100.3 351.5h0M108.8 358.1h0M72.6 365.1h0M96.5 350.0h0M75.5 380.5h0M87.4 382.0h0M90.4 363.8h0M93.2 360.9h0M95.9 362.1h0M88.0 366.8h0M99.4 367.7h0M93.3 371.5h0M88.1 366.7h0M99.7 362.0h0M90.5 358.3h0M103.2 352.1h0M93.1 356.5h0M85.9 380.8h0M88.5 367.7h0M84.6 379.1h0M82.7 366.3h0M97.3 367.1h0M82.5 363.0h0M85.5 358.1h0M95.8 374.3h0M106.5 359.3h0M107.2 352.7h0M101.0 367.1h0M88.2 372.3h0M81.4 365.3h0M96.0 363.3h0M78.9 356.8h0M99.4 367.6h0M82.1 363.6h0M100.8 353.1h0M91.9 354.7h0M84.2 370.0h0M82.1 371.2h0M96.3 373.9h0M91.1 374.6h0M108.5 359.1h0M108.3 353.6h0M100.9 362.8h0M68.2 399.4h0M89.1 364.2h0M90.9 369.8h0M79.0 374.2h0M102.6 349.0h0M82.2 381.6h0M73.4 378.5h0M93.5 364.3h0M93.1 347.8h0M100.2 356.4h0M74.5 383.1h0M113.7 348.7h0M87.2 361.0h0M101.5 349.5h0M86.5 368.5h0M94.6 355.8h0M98.8 355.8h0M96.0 361.2h0M94.1 350.6h0M112.1 352.7h0M90.1 371.3h0M84.2 377.6h0M95.8 359.7h0M96.5 360.9h0M93.9 344.9h0M86.4 361.0h0M95.7 373.4h0M84.2 375.5h0M87.4 364.6h0M101.9 350.3h0M76.1 366.9h0M93.7 369.0h0M104.0 357.4h0M75.6 390.1h0M94.7 366.4h0M79.1 382.3h0M86.2 361.3h0M96.8 356.4h0M84.0 370.6h0M94.6 346.0h0M88.0 382.6h0M98.1 368.4h0M96.5 356.7h0M99.8 369.0h0M75.2 371.1h0M98.4 350.4h0M103.5 364.7h0M102.0 348.3h0M81.7 361.8h0M91.5 366.3h0M91.3 378.6h0M93.6 368.2h0M87.5 375.5h0M106.7 359.7h0M105.7 362.2h0M89.3 375.5h0M85.9 363.9h0M108.2 354.9h0M90.2 353.9h0M99.7 351.3h0M101.9 358.7h0M96.1 348.5h0M82.7 379.0h0M107.1 351.3h0M85.1 365.7h0M74.8 390.1h0M107.6 355.3h0M81.9 378.4h0M95.9 371.0h0M97.9 362.5h0M83.8 384.4h0M80.1 371.9h0M112.1 344.5h0M106.3 360.6h0M81.1 369.2h0M107.7 358.3h0M85.2 367.0h0M86.6 382.1h0M84.9 358.4h0M96.4 357.4h0M89.6 376.6h0M82.9 371.9h0M82.1 380.4h0M93.0 354.8h0M103.7 347.4h0M98.5 371.3h0M97.9 366.2h0M104.2 349.7h0M85.8 375.3h0M102.5 353.3h0M88.8 357.1h0M105.3 356.4h0M103.7 354.1h0M70.4 369.2h0M93.6 362.2h0M91.3 354.0h0M111.2 350.6h0M109.2 348.5h0M84.8 365.8h0M99.1 351.7h0M77.9 369.5h0M86.3 360.3h0M94.5 366.6h0M74.5 354.9h0M110.9 353.9h0M84.1 370.7h0M107.4 361.9h0M88.2 355.1h0M97.8 355.2h0M79.5 376.9h0M95.0 351.3h0M92.6 363.3h0M101.2 361.2h0M116.3 347.9h0M101.7 348.4h0M95.8 372.4h0M84.7 365.4h0M95.1 360.5h0M94.6 365.5h0M85.6 354.5h0M98.1 365.3h0M87.3 372.3h0M104.6 356.3h0M104.7 364.4h0M99.0 347.1h0M82.7 371.2h0M98.0 359.1h0M87.8 365.4h0M90.5 373.2h0M82.5 371.3h0M94.6 358.7h0M90.8 355.4h0M95.1 346.6h0M81.2 367.4h0M80.2 378.3h0M106.6 361.6h0M90.0 373.8h0M97.4 366.7h0M106.7 357.0h0M96.7 347.9h0M88.8 371.9h0M96.7 369.0h0M96.4 367.2h0M101.7 352.8h0M85.1 369.1h0M70.9 372.8h0M90.2 379.2h0M94.7 346.0h0M105.1 347.8h0M92.7 372.9h0M91.0 354.2h0M87.4 374.9h0M102.8 364.6h0M80.5 360.6h0M97.6 365.0h0M111.1 355.0h0M102.2 362.2h0M89.4 370.2h0M90.5 346.4h0M96.5 372.8h0M87.6 372.8h0M83.0 355.8h0M100.1 362.8h0M100.7 367.3h0M86.8 369.4h0M83.5 361.3h0M87.0 369.4h0M74.7 380.6h0M107.4 361.6h0M89.6 365.1h0M105.5 360.1h0M95.0 352.8h0M78.1 370.3h0M85.1 366.1h0M101.9 351.5h0M81.8 375.2h0M112.1 355.3h0M80.0 370.1h0M81.0 379.1h0M82.7 380.7h0M77.1 376.5h0M110.0 356.9h0M88.1 364.1h0M112.2 352.8h0M107.1 354.5h0M94.8 363.6h0M86.3 375.6h0M92.8 361.6h0M97.6 355.1h0M99.9 360.8h0M95.5 365.8h0M109.1 355.7h0M82.4 375.4h0M73.9 386.9h0M81.5 364.7h0M90.2 376.7h0M93.3 362.6h0M86.6 382.5h0M96.4 356.9h0M95.2 352.7h0M91.3 368.2h0M86.8 349.6h0M77.1 381.7h0M74.6 390.6h0M90.0 377.5h0M98.0 351.0h0M83.5 382.8h0M89.8 360.2h0M89.2 373.7h0M103.5 339.5h0M108.2 356.5h0M91.6 371.3h0M99.8 351.8h0M103.6 346.7h0M105.1 362.2h0M101.7 348.0h0M106.9 356.5h0M102.9 364.1h0M103.1 365.9h0M75.1 366.4h0M81.2 377.0h0M91.3 344.1h0M84.9 370.5h0M95.8 371.0h0M100.1 365.3h0M83.5 377.4h0M90.3 378.6h0M93.1 370.7h0M87.1 378.7h0M96.1 358.2h0M84.6 365.1h0M78.1 362.9h0M91.0 362.2h0M97.5 365.5h0M89.7 360.0h0M100.9 352.8h0M111.5 351.1h0M86.2 384.3h0M86.9 373.2h0M94.7 342.9h0M100.7 364.4h0M88.4 367.8h0M81.3 358.7h0M102.0 366.7h0M106.2 356.6h0M82.4 350.7h0M83.8 377.9h0M90.1 371.1h0M83.7 365.3h0M97.9 356.0h0M96.0 370.2h0M96.4 359.1h0M102.6 360.8h0M96.3 366.0h0M95.4 354.9h0M108.0 357.6h0M83.1 375.9h0M83.9 382.1h0M88.7 371.1h0M90.9 354.9h0M83.3 372.1h0M98.7 353.0h0M93.1 361.8h0M74.0 368.6h0M91.3 368.2h0M93.0 359.5h0M90.6 374.0h0M95.7 371.2h0M90.1 363.4h0M71.3 388.3h0M84.7 374.2h0M82.9 382.6h0M97.3 352.9h0M80.9 373.1h0M114.5 352.3h0M94.9 362.8h0M77.8 386.4h0M105.6 354.5h0M84.2 369.5h0M94.5 370.1h0M83.6 358.9h0M80.2 388.1h0M91.6 375.2h0M100.1 348.8h0M82.3 363.0h0M90.4 377.5h0M95.1 359.9h0M85.8 358.2h0M98.4 359.3h0M97.7 359.9h0M89.4 365.5h0M91.4 377.2h0M89.0 364.5h0M95.8 374.0h0M79.9 375.5h0M70.9 379.4h0M83.6 366.8h0M83.0 365.4h0M83.9 373.5h0M79.9 374.4h0M112.7 345.2h0M108.3 359.3h0M87.5 365.1h0M83.6 369.2h0M72.4 367.5h0M94.9 372.6h0M92.5 360.3h0M78.4 378.1h0M95.0 361.6h0M97.8 369.0h0M104.6 365.2h0M93.0 368.0h0M96.8 359.0h0M89.0 379.2h0M74.4 386.9h0M99.9 357.4h0M70.0 398.1h0M100.3 368.4h0M86.8 373.5h0M92.2 371.1h0M104.3 344.1h0M88.4 360.7h0M85.3 377.9h0M86.1 371.1h0M99.7 357.2h0M82.2 362.8h0M98.1 356.7h0M76.1 388.0h0M93.4 369.1h0M102.7 358.6h0M84.6 361.2h0M101.7 361.8h0M98.1 343.9h0M108.2 360.9h0M89.5 368.3h0M104.7 364.1h0M90.2 360.8h0M105.4 356.1h0M101.8 362.4h0M101.6 358.1h0M96.6 352.4h0M85.9 361.8h0M104.9 347.4h0M87.7 377.5h0M85.7 377.5h0M99.4 362.6h0M86.1 351.5h0M104.8 357.9h0M94.9 368.3h0M94.1 373.0h0M89.1 364.6h0M94.7 355.4h0M106.2 360.0h0M78.1 370.9h0M92.9 377.0h0M86.9 374.6h0M106.8 355.5h0M100.0 359.7h0M81.7 369.3h0M111.7 355.2h0M88.2 376.7h0M97.6 367.0h0M100.4 351.0h0M105.0 360.6h0M108.1 351.2h0M101.3 358.3h0M96.2 365.9h0M71.2 365.6h0M85.1 367.7h0M90.6 360.5h0M95.1 374.0h0M82.7 388.1h0M92.9 364.7h0M92.8 357.9h0M94.9 371.7h0M86.2 365.3h0M81.1 376.0h0M78.6 372.7h0M85.5 369.9h0M95.7 370.2h0M108.7 360.1h0M84.5 349.7h0M86.6 367.5h0M87.4 356.4h0M97.8 360.7h0M73.7 388.4h0M101.3 367.4h0M91.6 369.5h0M88.4 372.3h0M71.9 368.9h0M97.2 364.3h0M91.2 367.2h0M112.7 356.7h0M91.0 365.9h0M87.6 375.2h0M101.6 355.6h0M74.8 365.9h0M86.6 366.4h0M100.6 360.8h0M91.3 374.6h0M105.8 362.6h0M90.0 371.1h0M93.1 372.6h0M84.0 353.6h0M87.9 376.3h0M89.7 378.9h0M85.4 378.2h0M104.3 365.8h0M93.9 359.6h0M107.7 350.3h0M111.4 353.7h0M99.3 370.8h0M107.9 358.9h0M93.9 371.6h0M104.1 358.8h0M75.0 385.8h0M80.5 369.8h0M98.9 347.5h0M83.2 366.2h0M91.8 369.7h0M81.0 380.1h0M107.0 345.7h0M84.8 349.8h0M75.9 394.4h0M92.5 351.8h0M95.2 370.6h0M80.5 361.2h0M92.5 353.5h0M95.1 367.5h0M100.6 361.7h0M91.6 377.5h0M84.7 365.0h0M71.9 382.3h0M97.3 373.0h0M77.8 371.3h0M100.7 357.8h0M95.6 371.5h0M91.7 378.2h0M88.1 362.2h0M108.5 350.4h0M100.8 363.9h0M103.3 363.4h0M81.9 365.8h0M95.2 361.8h0M90.0 361.0h0M98.7 354.6h0M89.7 373.2h0M103.1 350.5h0M102.0 360.6h0M112.3 356.4h0M99.4 359.0h0M90.9 376.7h0M88.6 376.0h0M107.1 359.7h0M95.9 361.6h0M104.5 341.0h0M75.7 363.2h0M104.9 356.1h0M71.2 389.1h0M76.8 367.8h0M105.8 356.2h0M103.3 348.7h0M87.7 378.5h0M84.4 385.6h0M95.2 369.6h0M87.9 357.2h0M93.2 353.4h0M112.6 352.4h0M75.7 367.4h0M93.7 367.8h0M96.1 360.0h0M97.1 367.3h0M93.7 366.9h0M97.8 350.8h0M92.1 368.5h0M84.6 380.6h0M90.9 362.3h0M96.2 353.3h0M82.4 363.1h0M106.0 361.6h0M92.7 360.7h0M112.1 357.3h0M76.0 389.7h0M82.9 371.6h0M105.2 357.2h0M100.3 367.9h0M95.4 358.8h0M92.7 365.5h0M98.7 350.6h0M106.9 358.0h0M102.6 360.3h0M88.6 372.6h0M84.9 374.9h0M81.7 379.7h0M90.4 344.6h0M87.1 371.5h0M81.5 385.1h0M97.8 359.1h0M85.4 374.9h0M93.9 357.8h0M83.4 377.7h0M83.1 378.7h0M82.4 365.8h0M93.4 368.1h0M99.2 354.0h0M93.7 359.4h0M82.0 374.1h0M91.8 369.6h0M105.0 347.1h0M100.6 349.9h0M95.3 353.8h0M98.1 365.9h0M102.2 366.2h0M81.4 387.0h0M98.0 369.6h0M100.4 364.2h0M103.2 353.4h0M82.2 373.7h0M103.3 359.4h0M97.5 343.8h0M68.9 385.7h0M79.4 370.0h0M106.8 353.7h0M92.5 375.8h0M90.8 369.0h0M89.9 352.9h0M75.0 360.8h0M81.8 384.5h0M79.1 370.4h0M102.3 340.6h0M97.7 345.2h0M103.3 359.1h0M91.5 361.6h0M84.8 377.9h0M87.4 336.4h0M90.1 349.4h0M89.6 370.1h0M81.0 376.2h0M91.9 375.7h0M91.2 350.9h0M77.7 368.9h0M88.5 356.5h0M100.8 362.2h0M105.5 362.4h0M91.4 357.5h0M84.3 372.8h0M90.4 352.5h0M74.8 379.3h0M73.6 361.4h0M99.2 357.2h0M84.3 374.5h0M89.0 355.7h0M86.4 372.0h0M98.7 359.8h0M94.9 365.8h0M69.3 377.6h0M97.9 359.7h0M92.2 358.9h0M105.5 363.0h0M93.0 358.7h0M90.2 372.5h0M88.7 366.5h0M96.4 372.2h0M81.5 351.9h0M78.0 374.2h0M105.9 362.7h0M96.6 355.4h0M79.1 366.8h0M111.6 356.0h0M86.3 379.9h0M95.7 366.9h0M82.0 379.7h0M73.0 373.8h0M95.0 363.6h0M99.6 348.7h0M97.5 369.5h0M95.2 355.9h0M105.3 357.4h0M105.1 363.0h0M86.3 357.9h0M93.7 361.2h0M92.3 358.6h0M89.7 377.9h0M98.1 372.2h0M99.1 366.8h0M87.7 370.0h0M80.6 366.8h0M95.7 355.9h0M83.6 361.5h0M98.1 368.7h0M97.8 349.6h0M92.7 360.5h0M103.7 362.0h0M92.0 376.6h0M97.8 365.1h0M105.7 357.3h0M94.6 368.5h0M96.7 365.5h0M85.4 383.4h0M75.8 372.2h0M91.7 372.3h0M100.1 360.4h0M89.6 359.5h0M73.4 387.4h0M77.7 377.4h0M83.2 359.5h0M99.9 351.9h0M94.6 354.1h0M91.0 350.2h0M96.0 368.2h0M98.5 361.7h0M95.8 374.2h0M88.4 376.8h0M100.2 352.3h0M100.5 364.7h0M78.5 369.2h0M85.4 365.7h0M81.9 372.1h0M95.7 367.4h0M100.6 365.1h0M86.8 382.7h0M87.3 362.5h0M80.0 361.0h0M82.6 372.4h0M91.4 363.3h0M99.7 369.9h0M98.8 354.0h0M95.3 364.7h0M95.4 352.5h0M112.3 353.0h0M90.7 372.4h0M97.8 370.3h0M99.5 352.8h0M88.2 351.9h0M100.5 357.3h0M98.3 365.9h0M96.9 365.9h0M94.5 359.6h0M96.9 362.8h0M109.4 353.6h0M109.7 352.1h0M82.2 379.7h0M89.1 367.9h0M107.1 352.2h0M87.2 367.5h0M86.3 371.7h0M103.1 355.9h0M94.2 366.4h0M111.1 343.7h0M91.2 370.8h0M88.4 371.5h0M96.3 358.7h0M93.5 371.5h0M89.0 363.3h0M88.2 354.1h0M105.7 344.3h0M104.7 365.3h0M108.1 360.4h0M84.5 371.6h0M104.6 352.6h0M85.3 373.5h0M91.5 376.2h0M94.8 370.0h0M91.4 367.1h0M103.2 359.5h0M82.7 378.5h0M102.0 351.9h0M75.7 371.0h0M86.9 356.0h0M80.4 374.1h0M100.4 362.3h0M87.6 370.9h0M96.7 335.2h0M97.7 354.4h0M100.6 363.3h0M95.9 364.4h0M95.7 373.5h0M86.9 353.5h0M110.6 355.2h0M88.2 350.1h0M75.3 390.1h0M78.1 369.0h0M89.1 356.4h0M80.6 371.4h0M99.5 359.9h0M87.2 375.2h0M107.1 360.0h0M79.5 385.6h0M101.3 368.3h0M105.4 351.3h0M80.9 371.1h0M88.3 352.4h0M82.8 381.0h0M92.4 376.7h0M90.0 373.2h0M72.0 388.5h0M85.6 376.6h0M84.6 365.9h0M107.2 352.0h0M100.0 366.1h0M91.8 355.1h0M85.3 373.9h0M99.3 348.6h0M99.1 360.7h0M96.5 365.1h0M105.9 357.7h0M97.0 365.5h0M103.5 360.7h0M96.7 366.8h0M78.7 353.8h0M77.4 381.8h0M73.3 378.1h0M98.7 359.0h0M93.8 362.0h0M85.2 363.5h0M103.2 363.5h0M94.0 348.0h0M97.2 369.7h0M93.7 348.5h0M78.8 390.6h0M89.9 343.3h0M87.1 375.9h0M92.0 365.0h0M93.3 368.5h0M110.8 346.8h0M93.3 363.9h0M85.7 369.5h0M110.5 356.1h0M101.8 358.8h0M93.0 367.6h0M81.4 378.8h0M104.9 351.7h0M87.6 369.1h0M108.5 347.5h0M93.7 364.2h0M94.8 361.1h0M93.9 371.8h0M93.0 372.4h0M103.7 354.0h0M89.4 373.5h0M89.3 364.8h0M89.8 380.9h0M103.1 349.7h0M113.6 356.0h0M88.7 360.8h0M80.6 367.8h0M91.1 364.3h0M103.6 353.5h0M85.5 372.7h0M77.3 370.1h0M83.2 375.7h0M90.7 358.4h0M105.4 358.6h0M100.7 348.6h0M106.9 352.7h0M103.4 366.7h0M96.2 374.0h0M96.9 356.3h0M94.5 366.8h0M87.7 368.3h0M105.1 363.9h0M79.1 359.1h0M91.9 358.3h0M91.2 369.8h0M89.0 378.6h0M109.1 355.5h0M71.8 384.8h0M79.9 364.4h0M101.8 360.3h0M109.4 358.9h0M95.8 350.3h0M86.9 375.8h0M106.7 361.6h0M106.1 353.5h0M102.4 359.9h0M83.7 361.7h0M78.7 381.5h0M96.0 363.4h0M80.6 379.4h0M98.9 358.8h0M95.5 371.9h0M94.5 372.8h0M86.5 361.9h0M87.3 383.2h0M92.0 377.3h0M96.5 367.2h0M107.0 351.0h0M88.5 359.5h0M90.9 367.6h0M95.7 362.0h0M98.7 355.8h0M88.9 368.1h0M103.5 350.5h0M84.1 385.7h0M101.7 367.4h0M102.0 343.7h0M95.8 371.9h0M88.1 376.4h0M82.0 375.0h0M106.0 362.0h0M81.0 366.1h0M105.1 364.8h0M95.5 359.0h0M104.5 344.1h0M106.2 355.7h0M97.4 339.9h0M90.9 367.9h0M104.2 357.1h0M93.7 365.9h0M97.0 356.8h0M96.6 354.2h0M99.3 365.6h0M100.6 363.1h0M90.4 361.9h0M91.7 367.5h0M94.8 365.2h0M92.0 375.7h0M112.0 350.5h0M104.2 360.7h0M86.3 363.8h0M79.7 383.5h0M100.9 367.5h0M101.4 348.7h0M93.5 368.3h0M83.8 375.1h0M81.8 382.4h0M104.7 354.2h0M90.2 355.0h0M102.8 360.1h0M82.5 368.7h0M84.7 377.9h0M104.4 364.3h0M75.7 366.0h0M95.0 371.1h0M96.1 362.2h0M86.5 369.6h0M76.0 367.0h0M111.5 356.9h0M90.2 373.3h0M96.4 370.8h0M90.6 368.6h0M109.5 354.0h0M86.5 360.4h0M79.1 363.1h0M93.0 358.0h0M88.7 378.9h0M97.6 368.8h0M82.5 377.2h0M75.4 382.6h0M101.9 362.3h0M76.8 377.5h0M94.4 364.4h0M105.5 351.0h0M88.9 352.0h0M100.9 359.7h0M95.6 360.0h0M107.4 355.2h0M97.4 361.1h0M78.9 365.2h0M100.9 360.0h0M101.7 362.4h0M77.7 391.7h0M94.2 356.4h0M105.7 348.6h0M79.2 378.5h0M102.1 349.0h0M115.5 349.7h0M93.6 361.5h0M95.2 368.5h0M92.4 371.0h0M105.8 357.4h0M111.9 349.2h0M96.6 353.0h0M92.5 374.5h0M99.5 368.1h0M110.2 357.7h0M105.8 357.5h0M91.9 377.8h0M106.5 360.7h0M94.9 361.5h0M95.4 366.4h0M111.4 353.0h0M80.9 374.4h0M86.5 369.2h0M93.7 367.9h0M107.7 359.0h0M107.0 353.5h0M85.3 375.1h0M105.6 359.7h0M87.9 357.6h0M103.6 341.1h0M117.3 341.4h0M101.8 357.0h0M82.0 360.4h0M89.9 347.0h0M94.1 366.9h0M81.9 374.7h0M100.5 359.4h0M95.9 367.6h0M95.2 351.4h0M88.1 369.5h0M93.2 367.5h0M115.4 347.8h0M101.1 364.4h0M87.2 351.7h0M91.5 363.9h0M98.5 361.7h0M93.5 368.9h0M99.8 343.3h0M91.4 377.9h0M91.9 374.0h0M99.7 358.9h0M83.8 383.4h0M91.0 361.3h0M111.9 347.4h0M95.2 342.6h0M100.4 357.1h0M70.9 376.9h0M74.6 372.3h0M96.0 361.8h0M102.7 359.1h0M103.5 360.3h0M111.5 355.8h0M88.2 358.7h0M102.9 366.1h0M99.7 362.0h0M92.4 354.1h0M92.0 373.5h0" stroke="#e8292b" stroke-width="1.45" stroke-linecap="round" fill="none"/><path d="M95.5 360.8h0M74.3 378.3h0M84.8 379.2h0M83.8 363.3h0M76.9 379.1h0M93.2 370.3h0M94.2 365.2h0M103.3 341.4h0M105.7 349.5h0M101.8 347.1h0M92.0 373.0h0M99.4 370.4h0M93.5 366.2h0M84.3 368.0h0M107.7 356.6h0M82.8 358.7h0M86.9 353.1h0M85.3 355.7h0M93.6 373.5h0M91.2 374.2h0M93.7 344.0h0M94.9 351.7h0M85.3 374.2h0M72.2 392.5h0M103.2 344.3h0M109.2 352.9h0M90.9 378.3h0M105.9 350.3h0M112.3 344.2h0M78.8 384.9h0M93.6 365.8h0M101.8 364.6h0M98.1 358.8h0M104.0 359.7h0M80.0 387.2h0M81.7 362.7h0M114.6 349.4h0M100.0 365.5h0M82.6 382.6h0M84.6 362.5h0M95.8 367.8h0M73.9 380.7h0M95.4 365.2h0M94.3 363.1h0M103.4 366.1h0M77.2 371.8h0M81.2 371.4h0M82.0 373.2h0M96.8 352.1h0M88.6 359.7h0M80.4 376.5h0M99.4 358.6h0M98.2 367.1h0M102.5 353.4h0M90.9 366.0h0M99.9 364.2h0M94.6 357.2h0M96.0 373.7h0M78.3 375.9h0M99.8 361.9h0M92.4 375.1h0M82.9 381.9h0M78.6 371.5h0M93.6 367.0h0M111.6 349.8h0M83.8 371.5h0M73.2 371.2h0M91.7 360.4h0M94.9 363.9h0M100.0 360.0h0M102.9 363.0h0M108.3 357.9h0M110.8 356.9h0M95.7 357.7h0M87.9 376.1h0M107.1 345.3h0M101.6 355.5h0M97.3 368.7h0M98.3 366.5h0M92.7 372.4h0M90.0 378.3h0M86.3 371.4h0M105.4 357.3h0M88.1 356.6h0M88.7 378.3h0M103.2 348.0h0M83.2 365.1h0M106.7 359.5h0M90.8 371.5h0M85.1 371.5h0M101.0 364.6h0M103.1 365.0h0M81.9 376.6h0M98.5 365.1h0M109.3 358.2h0M85.3 371.7h0M91.3 364.1h0M97.0 364.2h0M110.0 356.3h0M91.7 378.6h0M96.5 348.4h0M105.0 351.4h0M113.0 356.1h0M90.8 357.2h0M102.4 355.1h0M93.4 354.9h0M105.9 354.7h0M84.6 364.9h0M101.9 343.5h0M91.7 361.9h0M94.5 367.4h0M108.8 354.0h0M104.8 352.1h0M93.8 363.3h0M98.6 360.7h0M100.6 360.0h0M107.4 349.7h0M94.6 363.1h0M89.7 351.9h0M88.1 381.2h0M100.9 355.1h0M88.1 372.7h0M88.4 378.2h0M101.6 358.0h0M91.4 360.7h0M75.6 373.9h0M112.8 354.4h0M107.9 354.1h0M91.3 350.8h0M83.9 370.0h0M93.6 374.8h0M86.3 374.2h0M101.4 358.4h0M85.7 379.3h0M96.8 363.7h0M83.5 370.4h0M76.6 392.3h0M77.6 375.2h0M92.1 374.5h0M87.3 372.5h0M107.9 354.6h0M80.3 390.7h0M109.3 348.2h0M98.0 361.9h0M104.7 359.4h0M97.6 368.5h0M88.0 355.9h0M90.6 355.3h0M101.5 365.3h0M95.6 359.6h0M122.2 345.1h0M78.3 374.9h0M104.7 362.4h0M90.7 370.1h0M107.2 352.9h0M82.8 367.7h0M105.9 357.4h0M111.5 343.0h0M101.1 354.0h0M101.2 368.8h0M94.0 355.5h0M92.8 364.9h0M95.1 359.0h0M97.4 351.9h0M105.7 348.6h0M104.0 365.5h0M105.4 360.9h0M101.7 365.0h0M101.3 356.6h0M97.7 358.1h0M76.5 379.7h0M98.4 370.8h0M95.0 371.9h0M92.7 353.4h0M88.3 356.9h0M98.7 351.3h0M103.2 361.0h0M95.7 369.0h0M102.4 359.9h0M86.0 377.0h0M96.5 361.7h0M78.5 367.9h0M87.9 356.4h0M102.9 354.5h0M95.1 361.3h0M99.4 367.3h0M85.7 376.7h0M73.1 376.5h0M107.0 342.3h0M103.9 357.6h0M100.1 361.8h0M92.2 363.3h0M93.6 353.0h0M105.6 355.5h0M88.5 368.3h0M82.1 380.9h0M109.0 359.4h0M82.9 370.7h0M91.8 377.3h0M92.5 362.4h0M97.2 369.3h0M96.3 354.8h0M97.8 359.6h0M98.8 368.9h0M105.0 355.0h0M92.0 370.7h0M85.5 360.6h0M102.3 360.1h0M85.2 383.5h0M76.0 380.4h0M92.5 377.5h0M100.2 366.3h0M79.6 375.7h0M82.1 388.0h0M90.4 363.8h0M82.7 366.3h0M107.2 352.7h0M101.0 367.1h0M112.1 352.7h0M101.9 350.3h0M96.8 356.4h0M96.5 356.7h0M75.2 371.1h0M87.5 375.5h0M81.9 378.4h0M97.9 362.5h0M102.5 353.3h0M95.1 346.6h0M88.8 371.9h0M102.2 362.2h0M100.1 362.8h0M89.6 365.1h0M85.1 366.1h0M88.1 364.1h0M112.2 352.8h0M106.9 356.5h0M84.6 365.1h0M97.5 365.5h0M111.5 351.1h0M94.9 362.8h0M82.3 363.0h0M97.7 359.9h0M87.5 365.1h0M72.4 367.5h0M92.5 360.3h0M78.4 378.1h0M86.8 373.5h0M108.2 360.9h0M86.1 351.5h0M106.2 360.0h0M100.0 359.7h0M82.7 388.1h0M92.8 357.9h0M71.9 368.9h0M93.9 371.6h0M90.0 361.0h0M89.7 373.2h0M95.9 361.6h0M75.7 363.2h0M76.8 367.8h0M103.3 348.7h0M97.8 350.8h0M96.2 353.3h0M105.2 357.2h0M100.3 367.9h0M92.7 365.5h0M85.4 374.9h0M93.9 357.8h0M81.4 387.0h0M82.2 373.7h0M103.3 359.4h0M97.5 343.8h0M91.5 361.6h0M105.5 362.4h0M74.8 379.3h0M94.9 365.8h0M79.1 366.8h0M73.0 373.8h0M89.7 377.9h0M96.7 365.5h0M91.7 372.3h0M100.2 352.3h0M98.8 354.0h0M95.4 352.5h0M112.3 353.0h0M100.5 357.3h0M109.4 353.6h0M111.1 343.7h0M91.5 376.2h0M88.2 350.1h0M88.3 352.4h0M92.4 376.7h0M90.0 373.2h0M107.2 352.0h0M78.7 353.8h0M97.2 369.7h0M94.8 361.1h0M103.7 354.0h0M89.4 373.5h0M95.8 350.3h0M94.5 372.8h0M87.3 383.2h0M96.6 354.2h0M101.4 348.7h0M75.7 366.0h0M76.0 367.0h0M90.2 373.3h0M88.7 378.9h0M75.4 382.6h0M101.7 362.4h0M77.7 391.7h0M92.4 371.0h0M91.9 377.8h0M111.4 353.0h0M107.0 353.5h0M117.3 341.4h0M101.8 357.0h0M89.9 347.0h0M100.5 359.4h0M98.5 361.7h0M99.7 358.9h0M111.9 347.4h0M95.2 342.6h0" stroke="#ee6248" stroke-width="1.45" stroke-linecap="round" fill="none"/><path d="M121.5 342.3h0M111.5 332.9h0M96.5 347.7h0M90.6 387.1h0M89.7 376.9h0M88.9 392.5h0M112.0 356.8h0M99.6 346.1h0M100.2 372.1h0M123.3 343.7h0M78.6 390.3h0M84.6 375.6h0M118.6 355.5h0M108.2 364.7h0M109.5 338.1h0M99.0 376.6h0M96.7 380.1h0M109.1 363.4h0M110.2 350.2h0M99.9 375.5h0M88.9 383.1h0M112.4 363.0h0M92.4 387.2h0M112.2 364.7h0M106.4 371.0h0M113.1 356.8h0M113.5 364.4h0M107.8 347.6h0M121.5 339.2h0M120.1 355.2h0M84.4 375.7h0M105.7 354.9h0M121.9 349.9h0M104.5 386.7h0M119.6 338.6h0M93.1 368.0h0M91.9 384.2h0M80.8 375.6h0M116.3 369.0h0M82.7 372.2h0M102.6 340.8h0M99.4 374.4h0M108.8 365.8h0M101.8 370.6h0M111.5 369.8h0M106.2 373.2h0M91.8 386.6h0M85.3 384.4h0M108.2 383.1h0M80.2 395.1h0M106.0 353.9h0M115.7 356.0h0M115.2 345.8h0M112.6 367.8h0M107.9 341.1h0M101.3 361.4h0M115.4 356.9h0M107.5 363.2h0M108.2 348.0h0M89.5 381.7h0M96.8 383.0h0M114.9 339.5h0M89.5 382.7h0M110.6 359.9h0M97.7 373.8h0M104.8 350.4h0M113.1 359.2h0M94.7 377.4h0M90.4 382.6h0M111.8 345.4h0M108.2 364.6h0M93.8 380.8h0M83.3 392.1h0M97.1 328.5h0M111.9 367.3h0M106.2 343.2h0M121.5 362.7h0M107.4 370.6h0M93.9 378.1h0M104.5 367.1h0M95.3 377.0h0M101.3 372.5h0M99.4 368.2h0M83.3 362.4h0M110.4 368.6h0M114.9 347.3h0M94.6 390.0h0M106.2 341.2h0M97.2 397.8h0M115.2 352.7h0M119.2 364.3h0M99.1 377.1h0M94.9 385.1h0M112.2 366.3h0M100.7 352.8h0M99.2 383.0h0M120.6 359.7h0M119.4 341.4h0M103.7 368.1h0M99.5 371.5h0M119.8 366.0h0M111.0 355.3h0M94.2 379.7h0M107.1 364.7h0M115.8 350.6h0M85.1 389.2h0M87.7 384.5h0M107.3 349.9h0M86.9 389.4h0M88.2 368.0h0M105.9 347.7h0M76.5 383.5h0M91.9 392.8h0M105.8 364.5h0M114.8 356.9h0M83.4 388.2h0M83.0 390.8h0M100.4 370.1h0M102.4 356.1h0M119.2 365.0h0M101.2 357.7h0M95.5 391.0h0M106.8 369.9h0M106.9 366.4h0M132.3 326.0h0M126.1 354.2h0M106.0 377.2h0M121.7 358.9h0M112.9 343.9h0M92.6 357.0h0M114.0 339.1h0M100.2 383.5h0M98.8 373.7h0M112.2 367.1h0M100.2 365.5h0M86.2 386.1h0M97.4 373.8h0M91.1 371.9h0M92.3 402.0h0M121.0 356.9h0M120.4 344.0h0M121.5 353.2h0M110.5 351.0h0M107.1 373.2h0M91.3 365.3h0M123.2 350.2h0M120.0 348.6h0M94.9 377.1h0M107.9 368.2h0M107.3 372.5h0M97.3 392.0h0M103.7 347.7h0M109.5 368.2h0M77.7 396.0h0M115.4 363.1h0M88.8 390.4h0M102.5 369.7h0M112.3 365.4h0M101.3 351.6h0M100.6 377.1h0M95.9 376.7h0M112.5 341.9h0M95.0 376.4h0M100.6 377.0h0M109.1 354.8h0M121.8 341.1h0M110.9 361.1h0M88.7 376.0h0M83.4 393.6h0M95.2 385.0h0M126.9 351.9h0M119.9 354.4h0M108.2 377.7h0M94.0 379.5h0M123.2 339.3h0M93.5 378.4h0M78.2 394.8h0M103.4 377.9h0M109.5 340.5h0M99.2 345.8h0M98.3 384.7h0M91.8 392.4h0M100.6 374.1h0M110.0 374.0h0M93.7 362.1h0M95.1 344.6h0M113.1 349.2h0M108.8 369.9h0M83.6 388.4h0M92.1 380.8h0M119.3 338.6h0M110.9 363.3h0M111.2 376.0h0M106.4 376.7h0M133.8 339.5h0M94.4 376.3h0M95.5 374.1h0M108.6 364.4h0M104.3 373.5h0M101.2 380.5h0M103.6 370.8h0M100.0 379.3h0M95.1 382.4h0M115.6 335.4h0M95.6 379.0h0M86.6 361.4h0M121.0 379.4h0M105.2 371.9h0M104.1 353.4h0M116.2 333.5h0M108.9 367.7h0M111.5 359.8h0M126.1 360.1h0M107.7 359.5h0M104.4 373.3h0M98.5 375.6h0M93.2 389.0h0M113.1 356.1h0M117.5 353.1h0M104.4 377.2h0M115.5 359.6h0M92.7 378.2h0M104.1 370.4h0M105.8 373.5h0M122.0 349.8h0M108.5 339.9h0M89.3 390.0h0M115.8 361.0h0M95.1 364.3h0M98.6 373.1h0M116.5 359.8h0M90.1 384.4h0M76.4 415.4h0M94.7 382.1h0M72.0 390.1h0M96.4 378.5h0M89.0 386.0h0M91.0 380.2h0M72.2 399.6h0M114.1 357.1h0M111.6 359.3h0M97.0 376.7h0M111.6 361.5h0M109.9 360.0h0M105.4 337.8h0M115.6 355.9h0M119.8 358.2h0M91.4 368.7h0M112.3 371.3h0M88.5 364.9h0M112.2 360.6h0M122.9 343.2h0M98.2 380.9h0M121.8 369.8h0M92.6 378.6h0M110.2 346.7h0M95.7 366.4h0M116.6 349.0h0M117.7 335.8h0M105.7 361.9h0M89.7 382.5h0M103.9 367.2h0M77.8 395.5h0M108.2 350.4h0M129.7 359.4h0M113.3 363.6h0M83.3 391.4h0M111.5 361.8h0M109.3 367.7h0M118.1 331.1h0M97.9 372.5h0M111.4 375.5h0M96.3 383.0h0M89.9 390.5h0M111.6 356.8h0M107.7 354.0h0M117.9 343.3h0M134.0 336.5h0M99.7 348.5h0M83.5 365.6h0M114.9 379.2h0M117.3 344.9h0M93.7 378.9h0M91.1 383.5h0M117.4 356.6h0M92.8 378.6h0M107.4 381.8h0M109.0 376.7h0M87.1 361.7h0M113.4 383.8h0M100.6 378.7h0M116.7 359.0h0M76.3 397.7h0M91.3 382.4h0M96.3 382.0h0M103.6 367.9h0M90.2 402.0h0M108.8 348.5h0M83.1 360.6h0M87.0 340.6h0M112.7 354.4h0M111.0 360.6h0M97.9 379.3h0M107.5 377.9h0M125.5 337.6h0M97.0 383.1h0M112.0 338.3h0M96.3 374.4h0M105.7 366.2h0M107.2 368.1h0M95.1 382.1h0M99.7 380.1h0M116.4 353.7h0M109.6 356.5h0M98.2 375.2h0M112.1 364.5h0M101.7 370.9h0M92.3 383.8h0M103.5 368.2h0M119.3 343.8h0M118.5 359.8h0M106.5 366.7h0M97.9 373.7h0M113.9 340.2h0M76.5 399.1h0M111.2 367.3h0M78.3 393.2h0M108.7 338.9h0M94.4 380.6h0M98.9 359.6h0M94.8 377.2h0M91.7 350.2h0M93.2 383.3h0M115.2 366.0h0M111.0 359.2h0M88.3 384.4h0M129.8 350.0h0M97.0 382.5h0M93.5 346.7h0M105.3 344.4h0M120.7 346.6h0M92.3 380.1h0M100.0 374.5h0M101.1 371.7h0M100.7 370.7h0M87.5 351.4h0M99.1 373.7h0M91.5 369.1h0M117.0 361.9h0M106.7 376.1h0M96.9 373.5h0M122.3 345.1h0M95.4 378.2h0M97.6 373.9h0M105.5 341.0h0M99.4 376.1h0M104.2 350.6h0M118.7 371.3h0M100.7 370.9h0M114.7 346.6h0M117.3 349.6h0M81.4 390.2h0M93.5 372.1h0M106.5 368.7h0M100.6 356.3h0M98.4 374.2h0M125.5 348.6h0M109.8 352.6h0M117.0 351.8h0M88.1 358.3h0M76.1 398.8h0M115.4 361.9h0M95.2 371.0h0M101.7 373.9h0M105.2 373.4h0M95.9 385.8h0M91.7 361.6h0M94.2 380.6h0M117.2 350.9h0M97.5 345.4h0M102.2 368.2h0M98.7 377.8h0M90.6 385.8h0M112.2 336.8h0M113.0 341.2h0M103.0 370.3h0M95.2 374.8h0M105.9 365.5h0M101.3 375.2h0M105.0 340.3h0M111.6 348.5h0M103.4 377.1h0M113.9 367.0h0M94.3 392.7h0M110.7 361.3h0M93.5 364.0h0M111.7 366.1h0M105.5 371.8h0M95.2 351.5h0M128.5 346.8h0M99.4 371.6h0M97.7 374.4h0M103.8 368.7h0M99.9 371.9h0M95.2 378.1h0M103.8 368.2h0M109.8 371.8h0M108.7 362.2h0M130.4 349.4h0M114.5 364.6h0M108.9 346.2h0M83.6 368.3h0M116.7 351.0h0M86.5 382.4h0M96.0 384.1h0M103.5 337.9h0M112.9 369.5h0M131.9 357.0h0M105.2 381.9h0M94.4 378.9h0M74.0 369.8h0M109.7 348.8h0M101.9 357.4h0M90.4 382.1h0M92.9 384.7h0M106.0 372.5h0M89.6 397.6h0M115.0 358.3h0M115.3 362.7h0M114.0 343.5h0M106.0 349.7h0M103.5 376.8h0M88.3 366.1h0M94.8 388.8h0M97.0 380.2h0" stroke="#595959" stroke-width="1.45" stroke-linecap="round" fill="none"/><path d="M130.2 370.2h0M108.3 378.7h0M127.6 361.2h0M133.1 368.0h0M121.0 361.6h0M133.1 367.1h0M114.2 368.8h0M133.9 349.1h0M111.5 386.0h0M133.2 385.6h0M122.2 376.4h0M134.5 373.0h0M119.0 378.7h0M108.0 381.4h0M112.2 382.6h0M128.0 395.3h0M128.7 358.1h0M115.8 370.9h0M117.1 369.2h0M123.8 367.5h0M122.7 359.8h0M132.5 349.2h0M113.7 388.3h0M118.7 377.3h0M119.0 364.5h0M125.0 375.3h0M118.1 370.6h0M135.5 352.1h0M138.4 363.0h0M131.7 361.2h0M129.2 360.7h0M117.3 386.0h0M113.7 376.0h0M131.0 353.9h0M122.5 378.8h0M128.7 355.9h0M128.2 379.0h0M131.2 355.5h0M116.4 366.3h0M117.7 371.2h0M118.2 366.8h0M133.1 367.0h0M121.5 368.7h0M113.8 411.2h0M141.3 368.7h0M129.6 368.4h0M127.7 354.1h0M127.9 376.2h0M125.3 366.3h0M100.4 383.7h0M132.8 358.2h0M114.9 371.7h0M129.6 366.6h0M122.2 368.4h0M109.6 383.7h0M106.1 389.6h0M132.2 367.4h0M96.5 386.9h0M115.0 368.9h0M116.8 382.4h0M116.0 367.3h0M109.4 379.6h0M101.1 386.2h0M110.0 372.8h0M101.8 384.8h0M124.9 361.9h0M122.0 372.9h0M113.2 370.8h0M117.4 375.5h0M107.7 380.1h0M129.1 367.2h0M102.7 385.4h0M113.0 369.9h0M118.5 365.8h0M122.9 362.1h0M128.5 360.6h0M103.2 386.5h0M129.3 379.2h0M109.1 386.1h0M126.5 360.1h0M125.9 375.3h0M118.5 363.7h0M123.8 365.8h0M122.1 366.0h0M135.9 384.2h0M128.0 361.6h0M124.8 369.2h0M121.5 366.7h0M123.9 371.3h0M122.3 360.1h0M118.5 364.3h0M118.4 369.1h0M125.6 362.9h0M119.8 367.3h0M116.3 367.7h0M132.7 354.4h0M121.3 366.9h0M109.9 373.6h0M126.6 371.5h0M115.8 382.6h0M116.3 367.7h0M130.6 361.5h0M125.9 365.7h0M118.1 366.7h0M133.3 359.8h0M129.6 353.8h0M112.1 371.8h0M128.3 368.3h0M129.4 354.4h0M129.5 357.9h0" stroke="#5064b8" stroke-width="1.45" stroke-linecap="round" fill="none"/><line x1="46.40" y1="427.20" x2="163.70" y2="303.40" stroke="#111" stroke-width="1.3" /><line x1="51.10" y1="432.70" x2="169.60" y2="309.00" stroke="#111" stroke-width="1.3" /></g><line x1="47.00" y1="345.00" x2="47.00" y2="385.00" stroke="#e9302c" stroke-width="0.8" opacity="0.6"/><line x1="86.40" y1="304.00" x2="116.40" y2="304.00" stroke="#e9302c" stroke-width="0.8" opacity="0.5"/><rect x="46.4" y="303.4" width="123.2" height="129.3" fill="none" stroke="#8a8a8a" stroke-width="0.9"/><line x1="42.90" y1="406.40" x2="46.40" y2="406.40" stroke="#333" stroke-width="0.8" /><text x="41.9" y="409.8" font-size="9.6" text-anchor="end" fill="#4d4d4d">10</text><line x1="70.67" y1="432.70" x2="70.67" y2="436.20" stroke="#333" stroke-width="0.8" /><text x="70.7" y="444.5" font-size="9.6" text-anchor="middle" fill="#4d4d4d">10</text><line x1="42.90" y1="367.40" x2="46.40" y2="367.40" stroke="#333" stroke-width="0.8" /><text x="41.9" y="370.8" font-size="9.6" text-anchor="end" fill="#4d4d4d">0</text><line x1="108.00" y1="432.70" x2="108.00" y2="436.20" stroke="#333" stroke-width="0.8" /><text x="108.0" y="444.5" font-size="9.6" text-anchor="middle" fill="#4d4d4d">0</text><line x1="42.90" y1="328.40" x2="46.40" y2="328.40" stroke="#333" stroke-width="0.8" /><text x="41.9" y="331.8" font-size="9.6" text-anchor="end" fill="#4d4d4d">10</text><line x1="145.33" y1="432.70" x2="145.33" y2="436.20" stroke="#333" stroke-width="0.8" /><text x="145.3" y="444.5" font-size="9.6" text-anchor="middle" fill="#4d4d4d">10</text><text x="108.0" y="461.0" font-size="10" text-anchor="middle">log2(Control[P/D])</text><text transform="translate(12.6,369) rotate(-90)" font-size="10" text-anchor="middle" fill="#231f20">Log2(KO[P/D])</text><text x="65.0" y="341.5" font-size="9.8" fill="#e8202a">2173</text><text x="144.7" y="346.6" font-size="9.8" fill="#777777">2135</text><text x="137.4" y="402.4" font-size="9.8" fill="#4452a8">99</text><text x="176.4" y="290.5" font-size="20.5" font-weight="bold">e</text><text x="271.2" y="290.9" font-size="11.4" text-anchor="middle">Hypo vs Control</text><rect x="209.60" y="303.40" width="123.20" height="129.30" fill="#ffffff" /><line x1="215.20" y1="303.40" x2="215.20" y2="432.70" stroke="#f0f0f0" stroke-width="0.5" /><line x1="209.60" y1="425.90" x2="332.80" y2="425.90" stroke="#f0f0f0" stroke-width="0.5" /><line x1="252.53" y1="303.40" x2="252.53" y2="432.70" stroke="#f0f0f0" stroke-width="0.5" /><line x1="209.60" y1="386.90" x2="332.80" y2="386.90" stroke="#f0f0f0" stroke-width="0.5" /><line x1="289.87" y1="303.40" x2="289.87" y2="432.70" stroke="#f0f0f0" stroke-width="0.5" /><line x1="209.60" y1="347.90" x2="332.80" y2="347.90" stroke="#f0f0f0" stroke-width="0.5" /><line x1="327.19" y1="303.40" x2="327.19" y2="432.70" stroke="#f0f0f0" stroke-width="0.5" /><line x1="209.60" y1="308.90" x2="332.80" y2="308.90" stroke="#f0f0f0" stroke-width="0.5" /><line x1="233.87" y1="303.40" x2="233.87" y2="432.70" stroke="#e2e2e2" stroke-width="0.8" /><line x1="209.60" y1="406.40" x2="332.80" y2="406.40" stroke="#e2e2e2" stroke-width="0.8" /><line x1="271.20" y1="303.40" x2="271.20" y2="432.70" stroke="#e2e2e2" stroke-width="0.8" /><line x1="209.60" y1="367.40" x2="332.80" y2="367.40" stroke="#e2e2e2" stroke-width="0.8" /><line x1="308.53" y1="303.40" x2="308.53" y2="432.70" stroke="#e2e2e2" stroke-width="0.8" /><line x1="209.60" y1="328.40" x2="332.80" y2="328.40" stroke="#e2e2e2" stroke-width="0.8" /><clipPath id="cp8"><rect x="209.6" y="303.4" width="123.2" height="129.3"/></clipPath><g clip-path="url(#cp8)"><path d="M266.4 363.6h0M278.4 355.9h0M273.7 363.5h0M274.8 363.6h0M257.7 384.5h0M250.0 388.4h0M271.6 360.8h0M273.2 363.9h0M275.9 362.1h0M239.4 396.5h0M260.2 377.7h0M258.2 370.1h0M281.9 354.3h0M249.7 386.3h0M252.5 382.3h0M246.1 393.5h0M281.3 359.5h0M268.2 369.5h0M280.9 358.6h0M273.0 357.5h0M247.8 394.6h0M274.6 365.8h0M245.8 388.3h0M278.6 355.2h0M280.9 354.1h0M259.8 387.5h0M276.1 365.8h0M267.2 369.7h0M250.2 390.1h0M290.2 344.3h0M244.9 395.2h0M266.3 370.0h0M277.8 360.3h0M262.4 373.0h0M245.1 390.0h0M272.7 367.2h0M258.5 379.3h0M250.6 397.1h0M269.7 363.3h0M264.7 373.7h0M268.2 373.7h0M270.9 364.4h0M265.5 369.8h0M251.8 386.4h0M256.9 383.9h0M269.9 367.9h0M277.1 358.6h0M247.7 387.1h0M244.6 395.4h0M270.5 368.3h0M272.9 365.5h0M250.9 385.6h0M266.7 375.4h0M266.6 372.2h0M271.3 369.3h0M268.4 371.0h0M288.4 350.8h0M283.4 354.9h0M277.2 352.8h0M260.1 378.5h0M254.4 387.5h0M257.8 381.1h0M276.8 358.3h0M258.7 380.0h0M244.5 393.2h0M264.2 378.6h0M254.6 382.7h0M265.9 370.7h0M259.3 379.3h0M264.9 379.4h0M263.6 375.8h0M254.9 381.7h0M292.5 340.1h0M268.1 374.7h0M264.2 377.0h0M265.7 368.9h0M267.3 376.6h0M284.0 353.8h0M285.7 355.4h0M301.8 339.8h0M266.1 369.9h0M231.7 411.5h0M240.9 393.0h0M276.8 365.0h0M244.8 401.3h0M269.3 372.2h0M271.5 369.0h0M239.3 394.3h0M273.4 367.5h0M258.7 375.8h0M279.0 363.8h0M286.6 353.5h0M275.6 367.2h0M255.1 381.4h0M249.0 390.3h0M272.3 368.6h0M284.3 351.3h0M262.0 373.4h0M282.2 351.5h0M262.5 373.6h0M272.8 369.7h0M257.3 374.7h0M253.9 383.7h0M289.4 349.7h0M266.7 374.8h0M274.7 368.1h0M273.2 368.3h0M273.1 371.5h0M249.1 387.2h0M278.8 370.3h0M287.7 353.1h0M275.9 358.8h0M264.0 376.3h0M238.5 399.9h0M293.1 349.0h0M279.7 355.9h0M280.4 361.7h0M263.6 374.5h0M290.5 350.6h0M259.6 382.3h0M280.0 363.9h0M265.0 378.6h0M259.6 376.9h0M257.0 379.8h0M259.1 380.2h0M264.9 377.2h0M270.1 366.3h0M253.5 383.5h0M267.6 372.7h0M266.1 369.8h0M273.0 360.3h0M268.6 369.4h0M245.9 395.8h0M275.3 367.1h0M249.6 383.5h0M266.2 376.6h0M238.0 405.2h0M296.8 340.8h0M272.5 363.7h0M258.2 379.8h0M266.6 373.5h0M280.6 360.6h0M256.2 385.4h0M282.7 357.1h0M292.1 350.4h0M256.4 392.2h0M252.7 386.5h0M276.5 365.5h0M255.9 378.4h0M258.5 380.4h0M275.6 366.3h0M282.3 356.6h0M276.4 363.1h0M266.9 367.7h0M271.4 373.8h0M262.1 378.3h0M262.5 375.9h0M240.3 393.6h0M251.5 383.5h0M260.8 379.6h0M264.2 376.1h0M270.6 363.8h0M286.7 344.7h0M247.6 389.8h0M272.0 366.9h0M269.4 369.3h0M251.3 391.3h0M278.3 360.2h0M284.8 354.9h0M257.3 381.6h0M265.1 370.4h0M256.9 379.6h0M271.8 370.0h0M263.3 376.3h0M277.0 357.1h0M275.5 364.8h0M274.9 363.0h0M256.2 380.5h0M255.6 384.8h0M253.7 390.6h0M272.9 371.3h0M257.2 383.4h0M272.8 368.2h0M276.3 365.0h0M256.2 386.1h0M259.9 381.9h0M247.6 394.8h0M252.1 383.7h0M250.5 387.9h0M251.6 384.9h0M264.5 376.5h0M278.3 354.8h0M284.3 350.4h0M267.3 373.9h0M259.8 381.3h0M272.9 367.2h0M268.0 370.1h0M264.9 376.3h0M246.9 384.0h0M266.4 378.1h0M249.6 392.2h0M289.9 347.4h0M250.1 383.4h0M238.3 397.8h0M303.3 333.9h0M277.7 358.2h0M225.9 413.5h0M262.4 386.3h0M278.3 362.0h0M269.4 367.7h0M261.3 386.1h0M260.6 381.2h0M250.9 391.5h0M262.6 371.0h0M266.2 371.8h0M279.1 357.5h0M263.5 377.8h0M247.6 388.8h0M262.2 372.5h0M255.7 385.8h0M268.4 365.1h0M264.0 377.1h0M274.8 368.4h0M283.4 359.2h0M244.2 395.4h0M255.6 379.0h0M275.6 361.2h0M237.8 402.6h0M257.1 389.2h0M293.2 351.2h0M253.4 389.3h0M256.0 382.7h0M273.1 370.0h0M269.8 366.7h0M266.9 366.4h0M258.9 381.6h0M261.0 382.2h0M262.3 372.9h0M273.0 365.6h0M264.9 369.3h0M285.0 359.6h0M245.4 390.8h0M274.2 361.9h0M279.9 362.4h0M247.7 390.4h0M248.6 390.7h0M296.0 347.9h0M269.8 363.2h0M283.7 356.0h0M252.6 386.8h0M247.8 391.4h0M261.1 379.1h0M276.4 362.0h0M257.4 382.5h0M262.5 377.5h0M257.4 378.8h0M257.8 377.6h0M272.5 362.6h0M273.2 370.0h0M298.7 340.3h0M250.4 388.6h0M271.2 374.6h0M247.0 394.1h0M261.6 381.3h0M252.1 387.5h0M250.5 387.7h0M269.1 371.5h0M285.5 347.1h0M245.0 395.1h0M285.9 354.9h0M237.0 406.6h0M256.5 385.5h0M267.9 368.9h0M276.6 369.0h0M253.7 382.3h0M259.7 383.7h0M257.3 374.3h0M246.3 395.2h0M261.8 380.7h0M264.0 377.1h0M247.7 393.5h0M258.9 382.3h0M267.5 369.8h0M271.0 366.1h0M248.0 391.2h0M263.4 379.2h0M266.4 373.3h0M261.0 376.6h0M248.4 391.7h0M253.9 387.4h0M256.4 380.6h0M271.8 365.3h0M248.1 391.2h0M284.6 349.4h0M272.3 365.9h0M253.7 384.7h0M245.5 394.9h0M247.7 395.4h0M245.3 393.5h0M259.1 379.1h0M272.7 364.8h0M255.0 383.4h0M248.0 393.6h0M272.8 366.7h0M266.3 372.6h0M298.6 345.3h0M247.4 387.5h0M248.4 391.4h0M288.7 355.6h0M261.5 375.1h0M282.3 358.2h0M274.0 365.9h0M271.0 369.3h0M271.2 365.1h0M278.3 361.5h0M254.8 383.5h0M277.7 358.9h0M253.4 385.9h0M265.6 376.2h0M295.3 343.2h0M260.5 379.4h0M249.0 392.3h0M258.7 383.4h0M264.1 386.5h0M264.9 374.9h0M254.3 388.6h0M236.3 406.2h0M267.9 370.7h0M265.3 375.2h0M279.4 354.0h0M245.0 389.2h0M274.2 369.2h0M261.5 376.4h0M293.0 345.7h0M280.5 359.8h0M259.6 374.6h0M257.4 380.7h0M274.9 361.2h0M270.9 365.5h0M297.1 341.5h0M279.0 362.0h0M267.2 373.6h0M242.3 404.1h0M280.3 367.8h0M258.7 382.6h0M276.0 362.0h0M275.2 367.0h0M250.4 393.5h0M262.6 374.5h0M280.9 360.4h0M285.6 351.4h0M264.3 380.5h0M271.9 364.6h0M264.7 379.3h0M241.8 390.5h0M253.1 379.3h0M274.0 361.6h0M286.4 351.8h0M270.3 375.6h0M255.3 387.1h0M275.0 367.3h0M288.3 351.1h0M276.7 361.7h0M271.2 368.6h0M283.1 354.6h0M257.0 391.5h0M284.5 354.7h0M262.4 380.7h0M279.8 362.8h0M276.9 357.9h0M276.7 360.7h0M247.2 385.7h0M266.4 369.1h0M257.7 382.5h0M254.4 384.1h0M264.3 380.7h0M243.8 399.5h0M243.2 396.3h0M275.7 360.8h0M250.1 382.9h0M252.5 386.9h0M252.6 394.4h0M280.0 363.8h0M256.0 388.7h0M253.9 386.8h0M260.1 376.5h0M255.7 380.1h0M272.9 367.6h0M256.7 380.9h0M260.8 378.1h0M248.9 395.6h0M277.2 362.9h0M273.8 359.7h0M267.0 374.1h0M283.2 352.9h0M252.3 384.2h0M241.4 401.5h0M272.0 364.6h0M285.1 351.7h0M287.2 347.4h0M254.5 387.6h0M259.3 372.8h0M277.5 357.8h0M277.2 365.6h0M271.6 366.5h0M258.1 375.5h0M284.3 347.1h0M280.2 361.0h0M280.9 360.7h0M271.5 364.1h0M279.6 358.1h0M279.4 359.1h0M260.4 381.5h0M261.4 380.4h0M278.3 361.8h0M262.1 373.2h0M275.6 361.4h0M266.4 376.0h0M255.9 382.5h0M281.3 363.4h0M264.9 373.9h0M239.5 397.4h0M261.0 380.1h0M285.6 347.9h0M280.8 355.0h0M259.2 381.2h0M239.4 398.1h0M270.9 367.7h0M275.6 362.3h0M293.7 341.4h0M276.1 360.7h0M276.4 365.0h0M265.5 372.1h0M265.9 370.0h0M275.3 366.2h0M256.1 384.1h0M237.7 398.0h0M279.6 355.0h0M258.6 377.2h0M264.8 377.3h0M250.0 389.3h0M260.3 378.7h0M254.3 382.9h0M255.3 382.7h0M243.8 394.2h0M270.1 368.0h0M248.9 391.7h0M267.1 372.6h0M283.8 353.9h0M267.1 367.7h0M263.3 374.2h0M255.3 385.2h0M238.3 401.2h0M240.0 397.9h0M262.3 374.5h0M255.5 382.1h0M265.5 375.2h0M265.2 376.1h0M257.1 380.8h0M269.4 367.8h0M271.8 366.9h0M279.7 360.3h0M272.5 367.5h0M249.3 393.0h0M257.0 377.7h0M278.0 362.3h0M283.3 353.9h0M270.3 372.1h0M273.6 367.6h0M251.4 386.9h0M269.5 368.4h0M250.0 395.1h0M274.1 357.4h0M257.6 378.4h0M267.1 371.6h0M242.4 400.8h0M261.6 378.8h0M262.6 377.9h0M243.1 395.7h0M255.7 381.6h0M259.6 376.9h0M286.9 350.5h0M258.2 379.6h0M263.7 374.3h0M247.7 391.1h0M256.3 385.6h0M273.3 365.3h0M269.3 365.2h0M255.1 382.6h0M265.1 377.9h0M247.8 394.1h0M250.5 387.1h0M273.6 365.0h0M247.0 391.6h0M266.8 373.5h0M272.7 364.0h0M262.0 379.1h0M278.9 358.6h0M275.1 358.9h0M287.8 351.9h0M253.8 387.0h0M279.5 358.1h0M254.5 385.2h0M236.5 399.1h0M257.4 379.9h0M234.9 402.4h0M279.7 357.5h0M282.2 356.2h0M259.2 377.0h0M263.9 376.8h0M286.0 353.5h0M272.9 366.7h0M277.2 360.8h0M249.1 389.7h0M263.3 376.3h0M273.1 366.2h0M267.5 369.6h0M259.1 378.6h0M264.3 377.8h0M273.5 362.6h0M274.9 367.5h0M280.9 355.3h0M249.3 390.1h0M266.5 374.3h0M260.9 383.8h0M277.9 362.1h0M266.6 366.8h0M301.3 336.1h0M256.6 384.4h0M272.9 366.6h0M251.8 393.1h0M246.1 395.8h0M245.6 391.8h0M267.6 366.0h0M270.2 366.8h0M273.2 363.2h0M286.4 351.3h0M289.2 352.0h0M280.2 356.9h0M275.8 359.2h0M298.4 338.3h0M257.3 381.3h0M254.9 382.9h0M251.6 387.5h0M277.3 361.6h0M280.4 356.0h0M252.9 386.0h0M291.6 347.7h0M258.9 379.2h0M285.5 356.8h0M278.5 361.4h0M265.2 369.4h0M244.5 396.3h0M284.4 346.6h0M255.1 384.9h0M262.0 377.8h0M275.3 366.9h0M266.3 371.4h0M242.7 398.5h0M263.8 366.4h0M254.4 387.6h0M278.2 360.7h0M263.3 378.9h0M254.3 381.5h0M271.6 367.5h0M261.7 376.7h0M261.0 377.3h0M274.6 368.8h0M287.5 351.8h0M253.0 382.4h0M271.8 363.6h0M290.6 341.5h0M261.6 379.8h0M253.0 387.3h0M282.6 358.9h0M262.6 381.1h0M274.0 360.8h0M274.4 366.8h0M277.1 361.1h0M282.6 354.9h0M259.1 379.8h0M273.3 367.2h0M258.1 380.3h0M248.7 391.6h0M265.3 374.1h0M269.1 367.9h0M254.2 379.1h0M280.8 362.0h0M262.9 376.3h0M259.9 375.1h0M266.1 376.2h0M254.0 384.5h0M251.8 388.3h0M242.6 391.3h0M251.7 391.0h0M281.5 361.2h0M261.6 371.6h0M254.8 387.4h0M261.1 384.3h0M261.3 374.9h0M259.8 379.6h0M268.8 372.2h0M254.3 379.4h0M274.4 365.8h0M278.2 356.4h0M256.3 385.3h0M277.8 352.2h0M285.4 348.5h0M265.3 371.0h0M258.9 379.3h0M267.2 373.8h0M262.3 373.6h0M267.3 372.4h0M266.1 375.5h0M249.1 398.1h0M266.6 371.5h0M256.7 377.3h0M265.5 370.2h0M292.6 345.9h0M274.9 364.1h0M262.9 378.9h0M261.3 384.0h0M258.8 383.9h0M255.9 387.8h0M274.3 359.4h0M281.7 351.5h0M261.8 376.0h0M283.6 354.0h0M277.3 359.5h0M284.7 351.9h0M267.9 371.5h0M252.5 390.3h0M234.2 409.3h0M251.6 381.0h0M256.6 383.2h0M263.8 373.6h0M267.6 373.6h0M247.4 395.4h0M262.4 371.5h0M261.1 381.3h0M270.3 372.0h0M268.6 368.9h0M276.6 357.3h0M258.2 381.0h0M267.6 371.3h0M253.8 387.7h0M281.0 360.2h0M271.9 368.8h0M243.2 397.8h0M248.5 387.0h0M254.2 383.5h0M260.1 373.7h0M269.5 369.3h0M266.1 371.5h0M271.4 363.5h0M247.4 394.3h0M281.5 351.7h0M270.5 362.3h0M251.6 385.3h0M284.4 360.3h0M261.1 378.2h0M255.2 379.0h0M280.5 364.4h0M260.0 379.7h0M261.3 374.1h0M272.7 363.4h0M255.1 378.9h0M248.0 390.6h0M256.9 377.0h0M260.5 379.0h0M271.7 367.7h0M265.0 372.4h0M276.6 368.3h0M242.8 395.5h0M276.9 368.0h0M284.7 355.0h0M263.0 376.5h0M268.5 359.4h0M235.0 406.7h0M266.9 365.5h0M274.2 369.7h0M244.4 384.8h0M238.7 391.4h0M271.3 367.9h0M277.1 359.6h0M262.8 372.7h0M272.6 360.6h0M279.3 356.2h0M258.6 377.8h0M263.9 375.5h0M267.5 375.2h0M267.2 378.1h0M267.4 371.6h0M263.1 372.6h0M255.1 385.0h0M250.2 387.7h0M266.9 373.3h0M257.8 379.6h0M253.6 384.3h0M263.4 367.3h0M269.2 369.5h0M265.6 375.7h0M283.4 357.0h0M285.5 360.1h0M270.0 377.8h0M268.6 368.0h0M266.1 372.7h0M274.6 369.0h0M262.4 374.7h0M277.5 358.4h0M266.3 372.6h0M247.3 394.4h0M264.6 372.2h0M287.4 353.4h0M245.1 387.0h0M240.0 398.0h0M263.0 379.7h0M261.0 376.9h0M248.6 386.9h0M259.0 377.5h0M262.4 375.3h0M280.6 361.3h0M249.0 395.3h0M255.6 385.8h0M272.5 368.1h0M269.5 378.8h0M271.7 365.0h0M249.0 386.4h0M252.3 387.6h0M278.1 362.3h0M265.7 372.2h0M309.3 329.6h0M283.7 355.2h0M234.9 407.5h0M254.1 386.2h0M261.3 380.0h0M257.0 382.4h0M265.5 369.9h0M260.2 385.0h0M279.2 357.3h0M269.6 370.4h0M264.9 369.0h0M253.5 378.7h0M284.8 352.1h0M257.1 383.5h0M265.3 376.5h0M278.8 357.5h0M281.0 355.4h0M267.8 367.0h0M286.0 353.1h0M244.6 397.4h0M249.1 388.3h0M301.5 339.4h0M284.4 353.4h0M269.5 376.0h0M259.1 380.3h0M255.7 382.3h0M258.7 380.5h0M286.9 345.3h0M241.7 397.0h0M256.3 385.2h0M245.1 399.3h0M275.7 358.4h0M303.4 336.0h0M261.8 377.7h0M262.0 380.8h0M275.7 363.2h0M269.4 368.2h0M248.8 392.8h0M238.2 401.2h0M273.0 365.6h0M251.6 388.5h0M272.6 364.7h0M252.7 388.0h0M263.9 373.7h0M261.2 384.9h0M278.0 354.4h0M238.2 397.2h0M299.6 340.6h0M287.1 349.9h0M269.3 369.1h0M256.7 383.9h0M281.8 357.4h0M260.9 374.0h0M263.2 375.7h0M280.3 361.2h0M263.4 382.1h0M266.3 373.1h0M260.7 383.0h0M257.7 385.4h0M270.0 369.6h0M246.3 389.1h0M239.6 395.2h0M282.0 358.1h0M265.3 374.8h0M260.2 374.7h0M285.0 352.9h0M258.4 381.0h0M259.8 382.6h0M273.7 363.8h0M269.9 364.8h0M252.0 387.8h0M268.7 370.6h0M274.2 367.7h0M269.1 367.1h0M262.9 364.9h0M256.5 384.1h0M255.5 376.4h0M260.0 372.4h0M264.1 374.2h0M294.9 342.4h0M291.5 348.8h0M263.4 375.7h0M256.0 384.0h0M238.6 399.6h0M271.3 362.3h0M268.1 369.9h0M274.0 362.1h0M280.6 353.8h0M250.7 387.1h0M267.0 367.3h0M272.2 366.1h0M270.4 365.6h0M272.4 368.6h0M267.8 367.1h0M278.2 360.0h0M253.7 388.7h0M277.1 364.1h0M258.8 380.8h0M239.3 402.6h0M262.2 377.5h0M245.1 391.6h0M294.2 342.0h0M270.8 372.7h0M268.6 374.2h0M258.2 384.2h0M264.1 377.0h0M260.1 376.2h0M241.8 401.0h0M249.0 390.0h0M272.2 367.5h0M260.9 373.1h0M272.8 369.8h0M261.7 370.9h0M262.5 376.5h0M279.5 353.8h0M262.7 374.6h0M257.5 375.7h0M274.2 361.9h0M273.9 367.7h0M259.1 379.3h0M269.9 366.4h0M263.4 372.8h0M272.6 364.2h0M243.0 402.2h0M253.5 382.7h0M269.3 366.2h0M266.2 369.3h0M278.9 352.8h0M269.7 370.9h0M279.5 358.0h0M245.5 388.3h0M270.5 361.2h0M279.4 361.6h0M285.2 357.3h0M279.2 353.2h0M279.9 359.5h0M268.0 371.9h0M302.6 340.3h0M294.8 342.9h0M263.9 379.9h0M251.4 386.5h0M257.9 380.1h0M277.6 360.0h0M271.4 367.5h0M253.3 382.5h0M275.3 370.5h0M253.7 388.1h0M275.2 365.0h0M253.1 387.8h0M254.0 383.7h0M237.1 402.8h0M270.5 368.8h0M256.4 381.8h0M282.7 356.8h0M254.7 386.6h0M270.7 364.6h0M250.5 383.2h0M267.0 374.9h0M257.9 379.4h0M285.0 354.8h0M259.6 381.0h0M293.5 345.4h0M270.1 366.4h0M269.3 370.2h0M252.8 386.5h0M266.0 376.8h0M255.8 382.3h0M264.4 374.2h0M281.0 354.7h0M257.8 381.2h0M251.0 390.5h0M265.9 369.7h0M257.4 380.1h0M259.5 375.2h0M284.0 349.6h0M259.7 377.6h0M264.2 376.6h0M264.5 375.0h0M271.7 368.5h0M272.1 362.8h0M259.3 382.9h0M255.6 380.4h0M272.2 370.6h0M271.5 360.8h0M275.5 359.6h0M266.3 369.6h0M282.4 355.0h0M295.2 336.8h0M270.6 375.7h0M238.5 400.9h0M274.9 360.6h0M265.3 377.9h0M270.3 366.1h0M265.8 374.0h0M287.4 350.3h0M260.3 374.3h0M267.0 369.2h0M298.2 341.5h0M278.2 362.7h0M259.2 374.3h0M243.0 394.2h0M247.2 390.7h0M247.1 391.3h0M251.9 385.2h0M276.5 359.0h0M272.2 366.7h0M270.0 367.3h0M272.4 360.8h0M275.2 365.5h0M262.3 374.9h0M243.1 394.4h0M279.0 361.1h0M270.9 369.7h0M284.9 355.4h0M263.8 371.1h0M264.6 380.9h0M252.6 381.9h0M273.4 366.2h0M272.3 364.5h0M266.1 381.7h0M264.2 382.1h0M248.2 390.9h0M251.7 388.0h0M264.7 375.0h0M269.5 366.7h0M262.8 374.1h0M274.2 363.5h0M275.4 361.1h0M271.3 373.2h0M269.2 366.9h0M263.5 374.3h0M285.6 355.5h0M255.8 382.6h0M265.1 373.7h0M276.2 359.8h0M268.0 367.4h0M269.5 375.5h0M267.2 373.9h0M296.4 341.3h0M258.4 376.6h0M277.1 359.3h0M241.3 399.4h0M270.3 367.3h0M254.8 383.5h0M286.1 350.8h0M287.6 347.5h0M265.4 375.3h0M271.5 371.4h0M253.1 385.8h0M254.3 383.6h0M257.6 379.4h0M264.2 376.0h0M268.1 373.5h0M267.8 371.9h0M269.6 371.2h0M244.7 394.2h0M255.4 381.5h0M258.7 377.1h0M259.5 376.2h0M265.5 372.9h0M272.5 369.4h0M267.1 367.4h0M227.1 413.2h0M267.4 370.3h0M245.4 388.0h0M274.2 363.6h0M271.9 360.4h0M257.4 378.4h0M236.6 406.0h0M252.8 390.7h0M260.6 376.5h0M281.1 359.4h0M256.1 385.3h0M249.5 387.5h0M262.2 378.7h0M276.2 361.2h0M274.9 363.8h0M261.8 376.6h0M247.4 386.5h0M271.2 370.3h0M280.0 358.4h0M276.2 363.7h0M246.8 383.1h0M265.4 377.2h0M271.9 370.5h0M283.7 358.1h0M265.2 369.1h0M280.6 358.1h0M243.7 391.7h0M260.4 378.9h0M257.7 382.5h0M262.5 374.0h0M250.5 390.9h0M270.2 367.0h0M249.5 392.4h0M269.0 369.3h0M278.2 357.1h0M275.3 362.3h0M261.6 376.0h0M256.7 390.6h0M257.3 385.3h0M278.8 359.9h0M273.7 365.3h0M269.8 363.9h0M273.4 357.5h0M258.5 379.5h0M287.7 351.6h0M253.7 388.8h0M259.7 381.2h0M247.4 388.4h0M278.3 363.4h0M253.1 389.1h0M265.6 370.7h0M279.4 353.5h0M254.5 389.8h0M281.0 360.6h0M262.5 374.9h0M260.2 379.3h0M286.9 355.6h0M271.8 364.2h0M243.5 397.5h0M234.4 403.9h0M271.3 363.3h0M272.7 364.6h0M271.8 364.7h0M247.5 388.7h0M294.2 342.2h0M271.4 362.5h0M267.2 370.8h0M250.6 388.0h0M273.2 365.9h0M277.5 363.3h0M271.5 367.3h0M237.4 402.0h0M257.5 378.9h0M267.5 368.8h0M262.8 374.1h0M257.6 389.1h0M267.3 368.4h0M248.9 389.9h0M243.0 401.1h0M268.0 371.9h0M250.4 384.2h0M270.3 371.5h0M269.8 369.8h0M256.9 378.7h0M269.7 364.0h0M297.3 339.1h0M266.8 374.3h0M277.4 364.5h0M290.6 356.2h0M270.2 361.1h0M269.1 368.1h0M265.8 369.7h0M245.8 394.0h0M263.6 370.3h0M256.0 385.8h0M279.9 358.9h0M266.6 371.5h0M252.6 385.9h0M261.6 382.6h0M266.9 369.8h0M270.6 365.5h0M256.0 377.7h0M259.6 379.3h0M274.2 366.1h0M287.8 350.1h0M258.2 382.3h0M270.1 365.1h0M276.8 365.2h0M259.2 385.0h0M260.7 384.1h0M286.5 352.1h0M255.3 385.3h0M274.7 364.1h0M260.7 375.3h0M265.2 373.5h0M268.1 374.2h0M270.6 364.9h0M279.1 369.1h0M252.4 389.5h0M285.9 348.9h0M292.1 348.4h0M257.2 384.4h0M250.4 383.7h0M266.3 371.9h0M287.7 349.6h0M272.7 366.2h0M242.1 393.0h0M256.1 383.0h0M280.5 368.3h0M281.7 355.7h0M251.2 386.1h0M255.9 385.4h0M247.5 390.8h0M277.4 362.6h0M292.9 350.1h0M253.6 390.1h0M274.3 367.1h0M252.3 388.9h0M281.0 352.6h0M277.9 358.9h0M244.5 394.4h0M279.5 356.0h0M283.2 354.0h0M266.0 381.1h0M288.2 348.4h0M276.2 362.6h0M289.4 351.2h0M259.7 375.7h0M256.2 390.1h0M257.9 382.9h0M272.4 364.3h0M254.7 383.8h0M252.4 387.0h0M267.0 371.6h0M261.3 381.0h0M293.7 349.0h0M260.6 377.5h0M288.3 354.4h0M272.9 372.2h0M278.7 359.6h0M256.5 388.8h0M254.0 384.6h0M243.0 397.5h0M270.5 365.5h0M265.8 370.9h0M266.4 371.8h0M257.5 379.9h0M277.4 367.2h0M269.0 365.3h0M246.6 391.1h0M233.7 403.5h0M247.9 398.7h0M274.6 368.0h0M276.6 356.2h0M277.2 364.3h0M269.2 372.9h0M267.1 376.1h0M265.0 372.9h0M253.7 383.8h0M248.6 395.1h0M255.2 379.0h0M268.4 368.9h0M290.7 352.0h0M261.8 374.7h0M266.7 374.9h0M262.0 378.7h0M271.9 374.8h0M267.4 369.9h0M257.1 376.9h0M267.3 367.7h0M282.7 357.2h0M257.9 380.7h0M254.3 387.6h0M256.8 379.0h0M252.1 381.8h0M251.0 390.5h0M272.3 363.1h0M282.0 363.0h0M262.8 371.9h0M238.6 398.7h0M254.3 388.2h0M251.6 385.3h0M270.3 370.1h0M300.0 334.8h0M275.5 364.2h0M284.8 353.7h0M275.6 363.0h0M275.5 363.4h0M264.7 376.7h0M260.1 378.0h0M281.1 357.8h0M257.4 382.4h0M252.8 383.8h0M278.7 361.3h0M261.9 376.1h0M259.6 383.0h0M256.2 388.7h0M275.9 361.5h0M259.8 382.1h0M264.6 376.8h0M251.6 385.9h0M250.1 384.3h0M233.7 408.0h0M238.0 400.0h0M265.4 375.7h0M245.1 399.1h0M278.0 360.2h0M268.6 366.2h0M258.0 381.9h0M251.4 390.3h0M268.3 372.6h0M240.3 394.7h0M259.6 381.8h0M280.8 363.4h0M264.9 376.5h0M245.8 392.9h0M254.9 385.3h0M267.1 368.3h0M276.5 367.4h0M263.7 375.3h0M247.5 389.9h0M266.3 368.8h0M257.9 381.8h0M269.5 366.8h0M298.2 341.0h0M283.7 352.7h0M276.8 364.0h0M257.0 384.7h0M284.7 354.8h0M254.6 381.8h0M288.7 350.4h0M279.0 353.9h0M241.9 393.8h0M284.5 356.6h0M254.2 384.7h0M242.3 393.1h0M254.7 381.9h0M294.2 345.0h0M291.0 344.8h0M249.3 394.6h0M291.7 336.7h0M275.0 363.5h0M251.4 389.1h0M270.0 373.5h0M268.1 371.7h0M257.8 383.7h0M270.1 360.1h0M265.2 369.1h0M279.1 361.9h0M266.7 367.7h0M267.2 369.6h0M272.6 363.2h0M298.4 344.2h0M278.7 360.0h0M289.2 348.6h0M264.8 381.8h0M294.3 342.5h0M287.5 356.0h0M294.4 342.6h0M276.6 358.8h0M257.9 376.9h0M235.3 403.5h0M288.7 349.1h0M255.3 385.2h0M273.3 367.4h0M270.1 372.4h0M236.3 402.2h0M267.8 373.4h0M276.5 359.8h0M279.6 347.0h0M237.2 400.4h0M292.7 345.3h0M259.3 378.2h0M256.0 382.1h0M263.1 381.7h0M278.1 361.4h0M269.1 375.3h0M262.8 378.2h0M273.1 368.3h0M243.1 395.4h0M292.8 346.0h0M303.9 335.1h0M273.1 368.0h0M254.6 377.8h0M274.0 360.8h0M276.0 360.7h0M257.9 383.0h0M262.3 379.5h0M276.2 362.4h0M290.6 351.5h0M267.0 370.0h0M244.0 399.9h0M256.4 384.8h0M269.3 369.4h0M253.2 384.3h0M267.1 371.6h0M249.5 394.3h0M241.3 399.8h0M248.7 393.2h0M232.0 409.4h0M280.7 359.1h0M277.1 365.7h0M282.7 349.2h0M263.3 371.6h0M250.7 388.9h0M273.7 370.3h0M240.3 405.9h0M267.6 376.2h0M266.4 373.8h0M261.2 384.1h0M269.5 371.1h0M298.8 337.2h0M243.9 394.2h0M270.4 369.8h0M269.0 367.4h0M252.7 383.5h0M274.1 367.4h0M266.1 373.7h0M275.8 356.8h0M276.7 358.1h0M266.6 374.7h0M282.6 359.4h0M271.5 364.7h0M270.1 367.6h0M273.0 362.4h0M267.7 368.0h0M270.7 367.9h0M269.9 371.0h0M270.5 362.0h0M260.9 374.1h0M253.8 389.6h0M245.7 393.3h0M247.2 391.6h0M286.3 351.9h0M269.9 361.9h0M252.0 384.1h0M256.2 383.9h0M281.8 353.9h0M255.8 384.0h0M261.1 378.1h0M271.8 360.8h0M274.8 365.5h0M279.2 357.4h0M264.1 372.6h0M275.6 362.3h0M261.3 374.7h0M285.1 353.1h0M276.0 370.2h0M253.7 393.0h0M288.9 350.3h0M255.4 387.0h0M269.8 374.9h0M270.9 364.5h0M242.1 398.7h0M266.3 366.6h0M276.5 363.4h0M274.3 361.4h0M297.2 343.6h0M264.5 377.4h0M277.8 356.7h0M275.8 361.9h0M292.8 345.4h0M258.6 375.5h0M257.7 381.2h0M279.9 359.1h0M281.6 358.8h0M263.5 375.5h0M270.9 371.3h0M262.2 383.6h0M266.8 370.6h0M255.9 381.2h0M250.6 394.9h0M284.1 352.4h0M273.2 362.5h0M263.0 380.1h0M244.4 391.0h0M268.6 367.2h0M292.1 345.7h0M243.7 393.8h0M251.8 388.5h0M228.8 411.3h0M254.7 384.1h0M256.7 388.9h0M274.6 363.2h0M268.6 368.2h0M257.0 379.2h0M271.7 371.5h0M278.6 362.3h0M268.0 374.9h0M261.0 378.1h0M269.8 367.3h0M306.8 329.8h0M269.7 363.4h0M273.7 368.1h0M281.5 353.3h0M285.4 355.6h0M266.8 375.2h0M272.3 363.9h0M267.8 372.9h0M290.4 356.6h0M297.6 342.6h0M270.8 366.8h0M259.9 383.5h0M251.8 390.7h0M257.1 384.1h0M276.5 359.9h0M273.9 366.5h0M253.8 384.3h0M232.8 410.7h0M263.5 375.6h0M258.1 390.8h0M258.7 381.0h0M278.1 356.5h0M265.0 375.9h0M268.4 369.7h0M249.1 395.3h0M268.4 365.0h0M253.4 388.0h0M247.4 391.8h0M240.2 407.2h0M260.8 378.1h0M271.5 362.6h0M257.7 380.8h0M270.4 367.7h0M243.5 394.1h0M266.7 372.9h0M281.5 364.6h0M274.5 363.8h0M276.9 362.4h0M265.6 373.6h0M278.7 366.0h0M267.2 372.1h0M281.8 349.6h0M290.6 351.5h0M263.8 372.5h0M260.6 378.8h0M269.6 370.3h0M264.0 376.8h0M270.5 372.2h0M281.4 357.2h0M276.6 363.7h0M270.1 372.9h0M265.0 371.9h0M273.3 364.3h0M258.6 381.7h0M268.5 361.3h0M227.8 410.9h0M268.6 370.0h0M253.1 385.8h0M271.4 364.0h0M274.9 360.8h0M264.4 376.1h0M272.9 370.2h0M258.1 377.7h0M246.8 392.9h0M276.6 361.5h0M281.6 351.7h0M258.0 379.3h0M271.1 360.0h0M267.2 369.7h0M296.0 339.3h0M270.0 366.2h0M277.9 361.6h0M272.0 368.1h0M256.4 382.7h0M246.1 382.9h0M249.5 391.3h0M265.5 373.7h0M270.0 372.9h0M271.5 365.3h0M273.3 363.2h0M262.8 377.1h0M273.0 363.5h0M276.7 360.0h0M256.0 383.3h0M250.8 389.4h0M253.0 386.9h0M239.9 400.0h0M273.0 362.6h0M282.5 356.8h0M280.3 362.3h0M262.1 373.5h0M276.3 358.9h0M244.2 399.7h0M277.5 364.3h0M268.2 370.9h0M268.8 375.1h0M265.1 374.4h0M251.3 390.2h0M268.4 366.9h0M272.7 359.2h0M258.3 380.7h0M245.0 395.2h0M247.6 387.2h0M249.1 394.6h0M250.5 387.8h0M275.2 368.6h0M274.6 364.9h0M248.5 393.1h0M268.3 363.2h0M266.7 372.5h0M280.5 364.4h0M258.8 376.2h0M280.5 358.3h0M272.5 371.3h0M236.8 394.1h0M268.8 371.3h0M266.7 370.8h0M241.5 388.9h0M278.6 362.4h0M287.0 355.3h0M246.6 393.5h0M284.7 349.5h0M244.1 403.3h0M277.7 356.7h0M261.1 375.9h0M274.1 363.4h0M271.8 369.9h0M276.0 362.5h0M266.8 368.7h0M280.7 358.7h0M277.7 365.1h0M259.4 378.3h0M277.1 365.5h0M258.6 375.6h0M272.7 363.8h0M247.1 393.8h0M265.9 371.8h0M260.0 376.5h0M251.0 397.0h0M265.1 380.3h0M264.4 374.0h0M262.1 376.1h0M240.7 402.3h0M270.7 365.2h0M259.2 380.3h0M249.9 393.4h0M255.4 382.2h0M246.6 398.9h0M276.1 373.0h0M254.3 386.1h0M297.2 338.5h0M281.9 351.1h0M281.6 352.9h0M258.7 381.1h0M274.3 365.5h0M264.9 375.1h0M266.0 372.6h0M258.1 379.2h0M268.8 376.3h0M271.2 369.0h0M250.0 392.9h0M254.8 386.7h0M270.4 370.5h0M280.7 352.2h0M276.7 365.7h0M245.6 395.7h0M257.1 380.8h0M271.6 362.8h0M253.9 388.2h0M256.1 386.9h0M249.7 391.4h0M271.8 370.9h0M249.4 392.1h0M277.0 357.8h0M276.4 366.7h0M231.7 408.2h0M250.4 390.2h0M251.8 383.6h0M258.8 375.7h0M284.2 349.0h0M283.6 351.7h0M288.9 352.9h0M255.0 382.8h0M246.2 394.2h0M275.6 369.9h0M255.7 379.8h0M282.8 354.9h0M277.3 363.2h0M287.6 352.0h0M268.5 376.5h0M284.8 351.0h0M253.8 391.0h0M270.1 366.6h0M224.2 409.5h0M280.4 356.3h0M263.4 372.6h0M285.1 354.6h0M277.7 362.2h0M266.4 374.6h0M275.2 367.8h0M280.5 360.5h0M256.8 383.1h0M279.7 363.0h0M256.0 382.3h0M294.0 342.7h0M244.6 392.7h0M266.1 379.8h0M254.1 384.8h0M250.8 386.5h0M283.7 364.2h0M274.7 357.5h0M281.2 359.4h0M273.6 367.0h0M237.6 405.1h0M250.5 382.7h0M267.8 366.8h0M283.0 358.6h0M268.0 372.1h0M272.7 370.2h0M239.4 397.3h0M257.7 382.6h0M264.0 374.0h0M260.0 380.4h0M261.6 373.1h0M263.6 374.2h0M255.7 386.8h0M280.0 364.7h0M287.3 355.3h0M254.4 387.0h0M264.8 371.0h0M261.3 385.3h0M263.3 380.5h0M267.5 370.8h0M265.3 367.9h0M264.1 373.9h0M263.9 375.1h0M267.8 375.0h0M239.7 407.3h0M256.8 382.4h0M253.5 380.4h0M274.1 363.2h0M259.2 380.1h0M243.3 397.6h0M270.5 369.0h0M261.1 382.7h0M263.9 374.8h0M263.2 379.5h0M260.0 381.4h0M277.6 362.2h0M243.1 398.9h0M279.8 355.2h0M258.2 385.9h0M250.7 383.2h0M277.3 357.7h0M263.4 376.8h0M271.5 370.8h0M277.5 363.5h0M263.8 378.9h0M261.7 379.8h0M279.1 355.5h0M260.0 375.1h0M256.9 384.3h0M254.3 383.1h0M256.3 387.9h0M268.1 370.5h0M279.5 356.3h0M253.1 383.5h0M273.2 364.9h0M244.3 392.5h0M276.8 357.9h0M259.3 384.1h0M246.2 389.2h0M258.9 376.6h0M262.5 377.9h0M266.0 368.3h0M261.9 381.0h0M253.6 388.6h0M283.2 357.9h0M285.4 352.9h0M263.0 376.1h0M256.2 382.4h0M265.5 372.3h0M265.0 370.3h0M281.8 350.3h0M278.9 359.0h0M261.4 376.6h0M270.8 366.7h0M235.2 405.9h0M286.3 356.0h0M236.1 401.3h0M248.1 389.4h0M258.8 387.0h0M245.5 392.3h0M270.6 375.5h0M249.6 391.6h0M270.0 367.4h0M236.9 403.5h0M246.9 391.9h0M244.6 396.9h0M261.7 376.0h0M293.0 345.2h0M278.3 364.8h0M295.3 345.6h0M270.0 369.5h0M275.6 361.2h0M250.8 384.8h0M254.1 384.0h0M281.6 361.7h0M279.9 362.0h0M286.2 354.0h0M274.6 355.9h0M258.7 389.2h0M279.5 360.9h0M267.6 369.5h0M250.5 382.9h0M279.3 358.4h0M275.4 360.9h0M281.6 358.1h0M247.8 393.6h0M263.1 370.6h0M259.3 383.8h0M276.4 367.5h0M253.0 383.1h0M272.6 365.8h0M280.2 356.3h0M261.1 378.4h0M274.4 359.2h0M261.7 369.3h0M274.9 364.0h0M236.7 399.5h0M258.9 379.9h0M278.1 362.6h0M261.4 373.4h0M244.0 394.6h0M259.4 380.7h0M270.5 368.1h0M272.9 368.2h0M242.6 399.2h0M287.2 347.1h0M250.7 385.5h0M268.2 369.3h0M247.3 393.3h0M270.5 365.2h0M267.5 374.6h0M271.6 363.5h0M260.5 375.6h0M283.4 352.6h0M275.0 366.2h0M244.8 395.0h0M268.3 369.3h0M246.8 391.4h0M267.7 364.7h0M263.3 373.6h0M265.8 365.1h0M254.2 386.6h0M287.7 346.9h0M255.9 383.5h0M264.0 369.6h0M263.1 373.5h0M273.2 366.9h0M295.4 345.2h0M273.5 367.2h0M254.8 380.0h0M262.5 374.0h0M279.6 356.4h0M266.2 377.9h0M272.9 358.2h0M263.3 374.8h0M263.9 372.8h0M274.0 364.7h0M253.1 382.7h0M263.3 380.5h0M269.3 370.0h0M271.2 363.1h0M246.4 392.7h0M262.5 375.2h0M272.8 364.3h0M265.6 376.7h0M275.7 358.0h0M269.3 369.0h0M272.5 365.3h0M262.6 375.5h0M256.7 389.0h0M266.2 372.7h0M261.8 380.0h0M258.4 380.8h0M277.1 359.1h0M278.5 361.3h0M266.0 375.6h0M253.2 385.3h0M249.2 398.1h0M308.5 328.3h0M254.8 386.7h0M268.1 365.9h0M269.0 368.5h0M244.9 396.2h0M259.9 378.3h0M274.0 368.4h0M256.0 386.3h0M259.9 372.5h0M274.4 360.2h0M268.1 371.3h0M279.1 361.4h0M257.8 378.8h0M259.9 377.3h0M259.9 387.8h0M272.2 371.4h0M272.3 364.4h0M277.1 356.2h0M261.2 376.1h0M250.5 391.8h0M247.5 384.9h0M268.8 368.6h0M256.9 382.3h0M260.4 378.4h0M275.8 361.2h0M286.5 351.7h0M265.2 377.1h0M275.6 356.0h0M274.3 362.5h0M267.7 373.0h0M271.0 361.2h0M257.1 381.1h0M261.3 376.8h0M251.3 388.5h0M263.7 369.4h0M278.3 362.0h0M294.8 345.4h0M258.3 377.2h0M285.0 350.3h0M256.1 379.3h0M260.6 376.6h0M247.7 395.3h0M261.0 380.9h0M257.6 380.1h0M265.1 374.1h0M253.5 380.9h0M263.1 376.0h0M258.2 375.9h0M281.2 354.7h0M273.9 368.5h0M282.7 353.9h0M273.4 370.1h0M275.3 363.4h0M283.9 351.5h0M278.2 359.0h0M262.0 377.8h0M272.2 363.4h0M277.0 357.0h0M263.2 380.1h0M240.9 391.8h0M262.0 379.4h0M270.2 367.3h0M253.0 386.4h0M259.3 380.9h0M251.7 390.2h0M275.1 366.5h0M279.2 355.6h0M277.5 361.3h0M255.1 379.4h0M258.7 382.0h0M275.8 366.2h0M254.4 380.2h0M271.5 364.6h0M288.9 355.5h0M266.2 366.1h0M253.0 384.5h0M279.3 357.5h0M233.3 405.3h0M244.3 394.5h0M271.4 373.4h0M253.5 383.2h0M282.7 350.9h0M267.9 370.1h0M251.5 382.4h0M272.3 369.4h0M259.3 378.7h0M248.8 392.6h0M297.0 339.7h0M263.5 381.3h0M253.2 376.6h0M258.8 384.7h0M281.4 357.4h0M271.0 365.1h0M292.3 350.6h0M280.1 358.5h0M272.8 367.8h0M266.1 374.0h0M273.3 365.3h0M288.0 351.3h0M276.6 363.4h0M269.8 362.0h0M258.6 381.1h0M265.3 374.3h0M294.4 348.2h0M266.2 375.0h0M257.4 383.6h0M271.3 367.6h0M270.6 369.6h0M251.5 387.0h0M269.1 370.0h0M263.0 378.1h0M246.7 389.2h0M279.7 361.5h0M262.8 375.8h0M290.7 347.0h0M260.9 380.4h0M260.7 380.3h0M289.4 347.2h0M242.8 397.4h0M274.8 371.3h0M266.9 369.8h0M265.0 378.9h0M277.3 363.4h0M290.4 355.0h0M231.8 405.9h0M278.2 368.3h0M254.2 387.3h0M263.5 376.3h0M256.4 381.0h0M253.5 393.7h0M270.5 369.3h0M279.5 355.7h0M250.9 385.1h0M268.2 374.9h0M271.3 363.2h0M285.3 355.6h0M278.1 362.6h0M251.2 396.6h0M263.9 378.3h0M265.5 376.1h0M251.5 383.0h0M244.2 399.4h0M256.0 384.8h0M265.8 375.2h0M267.6 374.2h0M289.2 353.8h0M238.1 401.1h0M253.1 386.9h0M251.0 384.8h0M294.5 343.3h0M256.3 384.3h0M265.2 377.7h0M253.4 389.0h0M280.8 358.6h0M248.6 388.8h0M260.4 376.5h0M272.2 364.1h0M259.8 372.9h0M259.5 381.0h0M282.7 356.1h0M249.2 389.4h0M267.2 372.2h0M278.3 361.5h0M273.4 361.4h0M247.9 389.4h0M274.3 362.0h0M268.3 366.9h0M266.5 370.7h0M283.8 358.0h0M286.4 355.2h0M288.7 354.2h0M284.3 356.9h0M272.1 369.0h0M270.0 368.2h0M255.6 383.6h0M255.3 387.9h0M262.5 373.1h0M262.8 380.5h0M262.6 377.9h0M238.9 395.1h0M287.5 348.9h0M242.4 395.6h0M278.5 363.0h0M268.1 368.6h0M270.2 366.2h0M263.0 377.3h0M271.0 367.3h0M256.9 383.3h0M275.3 367.4h0M224.5 414.1h0M264.6 380.4h0M253.5 387.7h0M251.0 391.9h0M256.6 385.1h0M261.5 378.6h0M245.0 389.2h0M251.4 383.8h0M284.7 352.9h0M280.4 359.2h0M285.0 351.5h0M287.2 350.7h0M254.8 388.5h0M252.3 388.4h0M277.6 358.0h0M277.1 359.3h0M269.7 364.8h0M263.1 374.6h0M283.2 354.3h0M271.4 366.7h0M270.6 367.7h0M273.4 362.9h0M254.3 381.4h0M276.0 366.0h0M262.5 373.3h0M251.5 383.9h0M226.4 415.7h0M279.0 360.1h0M268.6 372.9h0M267.4 373.4h0M263.3 377.9h0M273.3 367.2h0M266.7 373.6h0M289.1 351.1h0M258.0 376.9h0M269.4 369.3h0M266.3 376.2h0M259.5 376.3h0M245.0 396.7h0M261.4 375.4h0M275.8 358.8h0M263.7 379.1h0M269.0 371.8h0M259.4 380.7h0M270.7 361.5h0M276.3 361.1h0M246.6 386.4h0M272.5 370.6h0M264.7 372.2h0M273.8 359.8h0M246.5 391.2h0M252.6 390.2h0M264.5 372.3h0M264.4 376.7h0M275.0 360.6h0M247.2 393.4h0M250.8 385.9h0M269.7 365.2h0M286.9 351.4h0M259.9 376.9h0M260.6 378.7h0M267.6 373.0h0M292.2 349.6h0M273.3 364.3h0M245.2 394.7h0M272.5 364.2h0M273.3 361.3h0M258.4 382.0h0M244.4 396.6h0M252.0 384.2h0M263.5 375.3h0M277.8 367.3h0M294.0 353.7h0M245.7 388.1h0M260.8 378.1h0M263.4 376.1h0M268.3 371.2h0M282.8 362.0h0M278.7 360.6h0M266.6 376.1h0M260.3 380.3h0M267.1 383.2h0M257.4 380.6h0M263.7 379.3h0M267.9 370.0h0M248.9 391.8h0M251.1 386.6h0M257.2 385.9h0M271.1 366.2h0M255.8 384.8h0M255.0 386.1h0M247.8 396.1h0M278.1 360.3h0M252.7 389.4h0M266.8 369.1h0M268.4 373.0h0M257.4 377.2h0M278.8 361.8h0M254.2 382.3h0M283.5 351.1h0M276.8 366.0h0M283.3 346.7h0M268.3 369.4h0M271.8 362.8h0M273.1 363.7h0M256.7 384.3h0M250.9 388.2h0M244.1 397.9h0M259.1 381.0h0M274.2 356.3h0M268.8 366.5h0M244.1 392.8h0M259.9 382.7h0M285.1 351.7h0M277.4 356.4h0M256.8 379.8h0M275.9 363.2h0M244.2 394.3h0M250.5 385.0h0M233.7 406.8h0M245.2 387.8h0M283.6 350.6h0M262.3 379.3h0M262.6 374.5h0M286.4 354.5h0M250.1 389.3h0M268.1 372.2h0M254.2 388.6h0M252.0 386.5h0M264.4 374.3h0M265.2 371.9h0M275.3 358.3h0M274.2 360.3h0M255.5 387.1h0M257.8 378.1h0M279.7 358.4h0M296.7 346.8h0M262.8 375.2h0M281.8 359.7h0M269.8 362.7h0M281.7 362.6h0M280.7 358.7h0M269.8 372.7h0M273.6 368.9h0M234.2 403.9h0M258.7 380.3h0M259.0 380.5h0M278.4 359.6h0M278.3 358.3h0M282.5 351.1h0M270.3 369.3h0M281.3 354.6h0M290.3 342.5h0M276.1 360.7h0M254.5 384.9h0M275.0 370.8h0M279.4 362.7h0M253.8 381.7h0M271.6 365.6h0M250.9 384.3h0M271.0 367.0h0M256.2 381.8h0M259.6 383.1h0M277.1 360.3h0M277.1 358.3h0M274.7 360.2h0M247.2 395.8h0M250.7 395.2h0M258.2 381.2h0M264.3 380.2h0M262.9 375.1h0M270.3 366.8h0M253.5 384.8h0M247.7 396.7h0M273.7 365.7h0M281.8 355.1h0M250.3 384.3h0M262.4 377.1h0M300.8 337.7h0M247.4 390.7h0M274.6 365.6h0M271.1 364.0h0M232.5 408.1h0M268.9 372.5h0M276.1 367.0h0M281.8 357.5h0M248.8 400.2h0M264.5 372.2h0M262.1 374.2h0M278.2 358.1h0M240.5 395.9h0M260.1 374.4h0M258.1 385.4h0M262.9 377.8h0M258.5 383.7h0M271.1 364.3h0M267.7 369.7h0M261.5 378.0h0M253.0 390.0h0M247.7 391.7h0M274.5 358.7h0M272.3 366.1h0M251.9 388.4h0M256.1 383.5h0M276.1 362.1h0M268.1 363.7h0M270.2 371.2h0M278.8 352.6h0M272.4 364.1h0M268.8 367.3h0M262.8 378.2h0M257.4 378.5h0M250.9 389.9h0M268.7 370.3h0M271.8 371.5h0M250.5 387.9h0M265.7 377.7h0M262.8 378.9h0M256.4 379.9h0M268.3 374.0h0M262.1 371.8h0M271.7 367.1h0M288.7 348.9h0M257.1 383.6h0M276.0 360.9h0M273.0 365.4h0M253.7 383.7h0M244.8 397.5h0M272.3 369.5h0M267.3 371.8h0M266.1 372.4h0M254.6 382.1h0M257.4 379.8h0M271.8 361.2h0M263.6 371.9h0M250.9 385.8h0M243.9 393.3h0M259.7 381.5h0M285.1 357.1h0M253.3 390.5h0M249.9 384.1h0M280.9 357.9h0M250.2 390.1h0M245.5 394.9h0M265.1 373.1h0M279.7 357.2h0M292.1 345.8h0M254.7 381.8h0M271.7 360.7h0M253.1 382.7h0M272.8 358.5h0M284.5 351.1h0M259.3 382.3h0M277.0 358.1h0M286.5 354.2h0M261.5 372.1h0M296.2 343.6h0M279.2 364.7h0M264.4 371.9h0M265.5 374.9h0M294.4 348.2h0M271.9 369.1h0M273.9 363.3h0M255.6 377.7h0M263.0 377.9h0M258.5 383.7h0M262.3 381.7h0M279.3 358.8h0M270.8 372.4h0M245.2 389.2h0M254.2 386.7h0M266.1 369.0h0M256.9 376.7h0M259.9 381.0h0M253.8 387.2h0M255.4 382.5h0M263.9 372.4h0M277.6 362.4h0M286.6 356.4h0M282.3 365.5h0M258.8 379.0h0M267.7 371.4h0M272.2 369.1h0M262.0 378.5h0M251.3 383.3h0M282.5 360.9h0M263.6 376.9h0M267.8 379.9h0M250.0 386.4h0M279.8 356.4h0M251.4 383.8h0M256.7 386.0h0M258.3 377.4h0M249.7 389.1h0M245.1 396.4h0M274.2 366.8h0M261.9 377.5h0M276.7 359.5h0M261.6 377.3h0M260.1 378.3h0M264.3 378.4h0M271.0 366.6h0M230.2 403.4h0M276.6 357.6h0M267.8 370.8h0M276.7 364.5h0M267.6 371.2h0M273.1 361.2h0M284.2 359.3h0M259.0 377.3h0M254.8 381.3h0M233.3 411.5h0M284.0 354.3h0M270.1 367.6h0M278.3 363.3h0M283.2 356.9h0M266.3 373.3h0M262.7 373.2h0M272.0 365.1h0M278.9 364.9h0M277.2 369.8h0M263.1 381.2h0M271.5 363.0h0M260.9 380.3h0M280.6 359.5h0M275.3 361.0h0M281.4 357.4h0M256.7 382.3h0M271.0 371.0h0M264.0 378.8h0M276.6 358.6h0M269.6 370.4h0M269.5 367.1h0M254.7 387.3h0M269.0 368.9h0M265.0 377.6h0M254.9 383.8h0M264.6 372.5h0M272.8 369.6h0M285.9 352.2h0M273.9 366.2h0M261.8 377.0h0M261.7 386.5h0M255.4 381.0h0M262.4 370.8h0M260.6 384.9h0M281.9 357.6h0M276.1 370.7h0M283.0 355.8h0M267.1 368.7h0M242.3 395.7h0M293.7 342.0h0M296.9 342.4h0M242.3 393.9h0M287.0 351.5h0M263.7 376.6h0M280.7 359.8h0M285.2 355.1h0M275.1 369.5h0M269.1 374.5h0M253.8 381.9h0M259.3 383.9h0M278.2 361.4h0M271.7 370.4h0M280.5 354.8h0M252.8 387.1h0M270.9 369.4h0M263.6 377.7h0M256.6 376.7h0M271.5 363.9h0M287.5 351.6h0M277.9 359.8h0M270.7 375.9h0M286.8 342.2h0M295.6 343.5h0M269.1 368.9h0M266.0 374.3h0M287.1 346.4h0M271.0 364.3h0M269.2 372.9h0M273.6 367.6h0M260.3 376.6h0M254.4 384.9h0M248.6 390.2h0M242.0 397.9h0M261.0 375.0h0M269.0 368.1h0M267.5 371.0h0M256.7 387.8h0M283.4 350.6h0M234.8 401.7h0M273.0 363.9h0M252.8 386.1h0M267.5 366.7h0M274.5 366.8h0M264.5 376.5h0M261.4 376.1h0M270.4 366.7h0M292.7 350.4h0M258.3 388.0h0M257.5 381.1h0M279.8 365.7h0M276.2 358.6h0M263.3 376.7h0M265.6 372.0h0M244.8 398.9h0M282.4 354.7h0M263.6 375.3h0M256.6 387.2h0M284.0 353.3h0M264.9 369.8h0M282.9 356.4h0M281.6 361.2h0M281.9 353.2h0M265.8 372.4h0M274.4 363.4h0M268.7 370.1h0M258.3 382.1h0M255.0 380.7h0M270.1 363.4h0M296.9 341.1h0M280.9 354.5h0M279.0 355.6h0M273.5 363.7h0M295.9 338.3h0M289.4 350.4h0M249.6 388.3h0M249.4 393.6h0M266.4 366.7h0M284.5 358.6h0M261.7 381.5h0M259.3 372.8h0M261.1 377.4h0M258.8 387.2h0M272.3 372.6h0M241.9 399.8h0M242.3 389.9h0M286.7 355.9h0M257.9 382.2h0M257.4 380.5h0M278.9 358.8h0M291.1 352.1h0M274.0 365.7h0M250.4 395.3h0M260.1 376.9h0M256.7 376.4h0M275.5 363.6h0M238.4 396.3h0M245.2 390.2h0M249.2 387.1h0M272.2 365.1h0M271.3 369.0h0M262.4 375.0h0M257.9 385.7h0M281.1 355.9h0M257.5 382.6h0M249.5 393.5h0M280.1 357.9h0M243.6 397.1h0M242.8 395.5h0M251.4 386.9h0M280.4 358.9h0M261.5 371.7h0M252.2 385.1h0M277.5 365.0h0M256.3 382.9h0M248.6 398.6h0M255.0 372.8h0M257.4 385.7h0M268.5 370.4h0M242.0 396.7h0M275.6 357.6h0M265.6 369.3h0M261.6 373.8h0M256.3 386.8h0M232.8 409.1h0M256.7 387.7h0M260.1 380.5h0M236.7 403.3h0M238.1 400.2h0M249.5 383.2h0M261.2 384.0h0M278.4 363.0h0M260.9 383.8h0M284.8 355.6h0M272.4 366.1h0M259.4 376.8h0M276.3 356.3h0M264.0 373.9h0M259.5 375.4h0M265.8 365.6h0M263.9 373.3h0M257.1 379.6h0M267.2 374.1h0M266.6 370.7h0M264.6 372.3h0M264.5 371.6h0M271.0 366.4h0M265.7 373.7h0M270.5 371.3h0M263.6 378.6h0M253.7 384.1h0M239.1 395.3h0M277.4 363.3h0M262.7 376.1h0M236.4 407.8h0M242.7 399.2h0M286.0 355.9h0M257.4 376.2h0M264.7 371.5h0M260.6 375.5h0M268.3 365.0h0M261.5 370.4h0M265.4 375.5h0M253.4 388.5h0M259.6 380.0h0M284.2 350.2h0M274.1 366.7h0M266.1 373.4h0M262.1 379.2h0M256.4 384.5h0M275.6 356.8h0M268.7 368.7h0M269.8 367.8h0M284.0 355.6h0M281.1 360.2h0M275.4 356.8h0M266.6 371.5h0M241.0 399.5h0M260.5 377.0h0M286.9 349.1h0M260.4 377.0h0M274.0 364.1h0M251.8 380.9h0M282.4 356.2h0M274.6 358.1h0M265.9 370.4h0M247.6 395.8h0M287.6 346.8h0M274.2 360.7h0M275.9 364.5h0M266.7 366.5h0M286.0 351.4h0M271.8 368.6h0M279.9 358.7h0M273.6 368.0h0M270.1 369.0h0M276.0 360.4h0M267.8 373.3h0M248.8 387.2h0M275.8 361.2h0M276.0 364.7h0M293.3 341.8h0M272.1 367.0h0M278.3 360.8h0M286.1 351.8h0M263.9 381.4h0M263.0 373.6h0M251.8 382.4h0M272.7 366.3h0M255.6 383.5h0M244.3 391.1h0M240.2 402.7h0M256.6 379.0h0M265.7 374.2h0M281.1 361.1h0M253.8 389.1h0M256.9 384.4h0M269.8 369.6h0M250.0 386.4h0M279.9 356.3h0M241.5 396.5h0M267.7 370.4h0M260.2 376.3h0M260.8 372.3h0M255.8 387.1h0M273.0 361.5h0M268.0 372.5h0M267.4 373.0h0M280.1 355.1h0M253.5 381.9h0M276.9 359.5h0M272.8 360.0h0M272.7 366.4h0M270.8 365.9h0M257.8 381.4h0M269.5 368.8h0M260.4 380.6h0M254.4 386.0h0M254.1 381.2h0M284.3 355.4h0M271.3 366.5h0M293.8 343.9h0M283.0 357.4h0M268.4 375.6h0M257.8 379.8h0M281.1 361.2h0M236.2 400.0h0M227.8 415.0h0M238.7 402.4h0M262.3 377.4h0M271.3 368.8h0M273.6 358.6h0M267.6 372.3h0M265.3 372.5h0M273.3 369.1h0M254.0 384.6h0M303.0 337.8h0M266.8 376.7h0M275.7 359.9h0M260.4 377.0h0M268.0 366.5h0M248.9 383.9h0M253.8 382.1h0M282.7 355.0h0M261.2 375.3h0M253.5 380.2h0M266.8 361.3h0M268.0 386.3h0M250.2 381.0h0M253.7 382.2h0M276.6 373.4h0M265.6 350.6h0M273.1 351.6h0M265.0 372.1h0M263.3 374.7h0M260.0 369.5h0M265.1 359.9h0M256.6 368.2h0M260.3 357.2h0M245.6 388.4h0M260.6 359.8h0M273.9 371.4h0M282.1 337.4h0M266.6 375.0h0M264.7 369.7h0M270.9 339.7h0M250.8 379.9h0M269.4 362.9h0M268.1 358.8h0M262.4 371.5h0M272.5 365.3h0M268.1 351.1h0M271.1 363.3h0M282.7 358.2h0M281.3 365.8h0M281.1 362.6h0M283.7 352.0h0M298.6 359.5h0M263.8 375.4h0M264.0 382.1h0M265.1 366.0h0M249.9 401.3h0M276.8 358.3h0M248.8 382.3h0M259.2 358.4h0M268.1 361.9h0M258.3 374.3h0M257.4 356.9h0M272.0 360.0h0M242.0 367.4h0M273.0 352.7h0M260.2 366.6h0M276.0 365.9h0M275.1 362.8h0M276.0 353.3h0M240.2 395.1h0M264.2 366.5h0M275.8 371.7h0M287.2 358.4h0M256.2 367.6h0M256.9 373.6h0M241.3 397.0h0M263.6 374.2h0M243.7 377.5h0M276.8 365.0h0M248.9 398.5h0M281.7 348.3h0M250.4 387.6h0M239.3 413.9h0M272.6 354.2h0M264.1 370.7h0M234.9 387.0h0M263.3 363.8h0M259.5 385.8h0M288.8 351.9h0M282.4 346.9h0M253.3 384.0h0M260.9 367.9h0M264.0 364.5h0M270.2 351.3h0M272.9 378.9h0M282.5 353.7h0M242.2 380.5h0M253.8 387.1h0M279.7 350.8h0M255.5 371.2h0M278.1 341.3h0M265.8 356.4h0M253.8 368.1h0M285.8 362.4h0M259.7 365.7h0M281.2 364.2h0M267.9 365.6h0M273.5 356.4h0M270.3 367.0h0M261.8 386.3h0M253.3 377.0h0M283.7 366.3h0M269.2 359.0h0M260.9 393.4h0M265.8 358.4h0M265.1 367.8h0M264.6 378.2h0M245.2 376.9h0M243.0 385.5h0M253.4 371.8h0M241.0 392.7h0M245.6 393.0h0M280.9 357.5h0M269.3 366.9h0M276.4 369.7h0M255.8 382.7h0M269.3 366.4h0M245.3 368.4h0M265.9 358.0h0M246.9 369.8h0M236.5 396.1h0M279.2 356.5h0M246.6 398.2h0M268.5 360.0h0M271.4 361.4h0M267.1 364.7h0M269.3 382.9h0M251.8 383.0h0M255.8 379.3h0M242.6 385.4h0M259.5 369.6h0M259.3 370.2h0M285.7 342.7h0M262.8 370.0h0M257.5 369.8h0M268.9 348.4h0M245.7 410.1h0M240.7 386.0h0M276.2 372.4h0M264.0 370.3h0M237.3 389.5h0M261.5 366.3h0M262.9 364.6h0M257.9 388.2h0M273.4 375.7h0M269.4 353.2h0M249.8 362.6h0M263.0 370.9h0M271.6 349.7h0M283.9 344.6h0M253.6 376.7h0M246.7 383.7h0M267.0 363.2h0M257.8 385.5h0M260.4 364.6h0M269.0 360.5h0M245.0 393.7h0M273.9 357.4h0M259.7 371.0h0M276.3 357.6h0M278.6 350.3h0M254.0 373.2h0M275.9 362.8h0M276.4 352.0h0M268.5 354.2h0M254.1 380.6h0M277.3 355.8h0M268.7 383.8h0M254.9 376.0h0M256.4 373.8h0M275.6 357.1h0M268.9 382.7h0M264.0 365.0h0M275.5 368.4h0M277.3 344.5h0M267.8 357.7h0M274.2 378.1h0M264.1 364.7h0M277.9 351.0h0M248.8 382.6h0M248.0 372.7h0M234.8 381.0h0M261.9 383.9h0M266.3 382.2h0M285.2 365.0h0M264.5 366.6h0M268.5 375.0h0M266.9 369.4h0M267.4 368.2h0M243.5 392.6h0M275.5 366.1h0M264.4 363.8h0M255.7 391.1h0M268.2 373.0h0M271.1 367.6h0M274.6 343.0h0M265.4 363.4h0M266.2 357.6h0M264.9 368.9h0M277.1 359.6h0M259.7 383.2h0M287.0 357.0h0M254.7 371.3h0M272.2 340.7h0M276.9 370.4h0M273.0 372.3h0M279.5 350.4h0M264.4 375.0h0M265.3 373.5h0M259.7 382.3h0M253.6 371.8h0M257.5 371.0h0M254.1 368.7h0M246.3 403.6h0M273.1 351.1h0M269.9 356.0h0M273.3 356.5h0M237.0 387.7h0M292.2 348.4h0M264.7 350.7h0M265.9 364.8h0M256.6 375.6h0M270.2 373.8h0M272.7 355.5h0M274.6 373.4h0M273.8 360.4h0M250.1 404.4h0M286.6 345.9h0M271.8 355.3h0M248.3 378.2h0M275.4 355.3h0M269.0 368.9h0M248.6 386.3h0M243.9 382.1h0M272.6 366.6h0M262.1 366.5h0M274.0 365.6h0M262.3 367.2h0M268.4 373.7h0M247.4 385.6h0M279.1 355.1h0M269.1 367.4h0M286.2 342.3h0M263.8 369.1h0M265.3 372.7h0M284.6 350.7h0M261.5 364.3h0M259.6 352.4h0M265.4 359.7h0M253.0 372.2h0M255.4 385.2h0M264.3 377.2h0M299.3 348.6h0M275.2 341.0h0M253.5 396.2h0M248.5 360.5h0M259.7 364.3h0M263.8 340.7h0M265.3 375.6h0M272.0 368.9h0M268.7 359.0h0M257.0 387.3h0M286.0 350.9h0M275.9 359.3h0M281.1 347.4h0M303.6 345.8h0M247.8 389.6h0M273.6 349.3h0M259.0 371.8h0M257.8 380.8h0M255.4 375.8h0M257.9 368.6h0M272.5 353.5h0M275.1 362.1h0M272.0 373.9h0M274.7 373.6h0M262.9 374.8h0M270.6 340.2h0M272.8 370.2h0M235.9 404.9h0M269.2 358.6h0M287.6 351.2h0M263.5 358.1h0M267.6 361.9h0M265.6 361.3h0M228.6 404.6h0M267.2 362.5h0M243.4 395.4h0M266.0 366.0h0M267.7 365.7h0M285.4 345.8h0M271.3 347.5h0M252.3 377.0h0M273.5 337.4h0M243.8 370.1h0M254.0 383.7h0M271.8 352.1h0M263.1 359.5h0M259.2 370.6h0M259.4 368.7h0M274.3 378.5h0M274.6 356.2h0M268.8 351.9h0M261.8 363.4h0M261.6 381.0h0M264.0 365.4h0M285.2 363.5h0M253.3 372.5h0M266.8 369.6h0M277.8 351.7h0M263.9 369.6h0M253.6 373.5h0M264.1 372.5h0M262.3 369.3h0M257.5 391.8h0M243.9 376.9h0M268.6 384.4h0M267.5 366.2h0M264.4 379.9h0M280.0 364.5h0M282.5 358.8h0M269.8 371.0h0M277.5 349.4h0M262.7 372.6h0M262.4 359.8h0M295.0 332.7h0M252.4 376.0h0M277.2 348.0h0M266.0 369.9h0M246.6 396.5h0M264.5 378.5h0M273.7 361.9h0M274.6 370.0h0M253.9 373.4h0M250.3 378.4h0M243.5 371.5h0M264.3 363.4h0M267.6 359.0h0M273.5 359.2h0M285.3 343.4h0M253.0 374.9h0M272.8 355.1h0M286.3 338.4h0M277.1 351.1h0M246.4 379.9h0M252.0 364.4h0M279.5 360.1h0M256.2 369.6h0M247.8 379.8h0M267.7 365.0h0M265.8 380.3h0M253.7 361.3h0M251.0 374.7h0M277.0 361.0h0M243.2 392.6h0M256.2 375.2h0M262.1 350.9h0M254.6 384.1h0M262.3 368.1h0M270.7 344.1h0M255.8 370.1h0M252.6 383.0h0M257.2 378.5h0M271.3 375.8h0M256.8 378.5h0M263.1 382.6h0M275.1 354.9h0M256.7 359.5h0M269.9 372.3h0M273.5 366.0h0M266.3 366.2h0M255.1 376.5h0M284.1 350.9h0M271.9 368.6h0M253.0 383.6h0M272.5 369.6h0M262.7 365.2h0M257.9 388.7h0M279.0 339.4h0M278.4 361.2h0M244.9 366.3h0M258.2 369.2h0M259.5 373.7h0M256.6 378.5h0M289.6 348.9h0M272.0 347.2h0M275.2 366.0h0M271.2 346.7h0M260.7 365.0h0M260.5 379.0h0M251.9 381.3h0M244.3 384.2h0M261.1 367.2h0M263.8 366.7h0M265.6 380.7h0M261.7 393.1h0M272.4 378.3h0M240.8 390.8h0M257.7 377.7h0M258.7 371.7h0M266.4 357.6h0M254.4 373.6h0M271.1 376.9h0M243.7 390.1h0M270.6 356.9h0M250.4 358.8h0M276.0 377.5h0M238.3 381.1h0M261.1 356.7h0M253.1 375.4h0M267.8 372.0h0M236.6 396.6h0M265.6 356.1h0M275.5 359.8h0M287.3 341.7h0M254.0 374.4h0M280.0 353.6h0M250.5 375.3h0M249.4 379.5h0M263.2 350.9h0M256.4 348.4h0M270.7 352.5h0M276.0 363.5h0M247.6 380.3h0M281.4 349.1h0M268.6 364.8h0M266.4 375.3h0M254.3 366.0h0M270.4 369.8h0M265.6 386.6h0M286.2 354.6h0M263.5 379.3h0M241.5 388.6h0M288.1 344.9h0M248.0 402.6h0M253.4 360.4h0M262.8 384.9h0M261.1 375.9h0M270.5 354.9h0M260.7 362.2h0M255.1 377.3h0M269.9 377.7h0M277.6 363.3h0M286.1 359.4h0M256.1 382.3h0M268.5 377.3h0M274.8 385.7h0M269.1 358.8h0M268.9 361.5h0M279.0 351.7h0M267.0 374.2h0M281.7 368.7h0M267.7 378.9h0M275.5 367.9h0M283.0 337.5h0M272.4 369.0h0M262.8 378.0h0M250.3 379.1h0M280.9 347.1h0M280.7 378.0h0M286.6 338.9h0M262.9 363.2h0M263.8 381.0h0M264.2 387.2h0M268.3 376.5h0M260.8 372.1h0M262.1 355.9h0M237.5 386.4h0M274.4 351.9h0M250.0 368.6h0M287.2 362.8h0M246.8 397.0h0M264.8 378.6h0M237.4 388.5h0M259.5 382.8h0M277.5 364.3h0M263.4 373.6h0M290.4 340.5h0M254.8 368.9h0M284.0 359.6h0M250.6 369.5h0M271.0 364.9h0M259.7 377.5h0M281.8 366.2h0M266.2 380.3h0M255.9 378.3h0M253.1 366.1h0M237.8 392.3h0M274.4 348.2h0M267.0 371.9h0M273.1 344.3h0M268.8 370.8h0M240.7 398.7h0M268.3 389.6h0M245.4 380.9h0M266.9 359.2h0M253.6 368.5h0M245.0 371.2h0M292.9 348.2h0M253.3 375.2h0M272.3 354.9h0M275.8 350.5h0M281.9 353.6h0M257.1 372.9h0M267.8 368.6h0M272.4 340.2h0M264.4 378.4h0M231.9 378.6h0M244.0 403.9h0M267.0 338.0h0M274.8 383.3h0M257.6 383.0h0M279.8 345.7h0M261.9 375.0h0M259.3 375.8h0M261.3 365.8h0M288.1 363.8h0M283.3 347.0h0M279.1 358.4h0M265.5 359.5h0M271.4 351.5h0M258.1 380.6h0M274.4 366.4h0M263.0 367.1h0M252.9 379.5h0M292.9 331.8h0M272.6 364.5h0M264.7 371.7h0M241.6 392.8h0M276.3 360.6h0M264.6 368.9h0M245.9 392.8h0M264.1 365.4h0M257.5 368.6h0M269.3 353.1h0M244.3 386.1h0M261.6 372.0h0M263.6 366.0h0M280.1 363.4h0M253.4 388.7h0M256.9 362.3h0M271.1 363.2h0M263.7 367.9h0M284.0 351.9h0M279.1 357.1h0M244.8 386.2h0M254.3 376.0h0M254.7 387.4h0M274.5 374.9h0M272.8 371.7h0M287.0 341.1h0M259.0 370.9h0M249.6 382.8h0M257.8 374.1h0M264.2 379.1h0M266.5 372.4h0M276.7 338.9h0M249.9 378.1h0M265.9 364.9h0M272.4 347.6h0M266.4 365.1h0M270.1 368.4h0M252.5 391.0h0M275.5 368.1h0M272.0 374.4h0M287.7 352.0h0M305.7 339.8h0M252.5 373.0h0M272.8 372.2h0M265.1 360.0h0M264.8 356.8h0M252.6 405.6h0M258.3 368.6h0M241.4 377.3h0M242.4 372.5h0M251.2 394.8h0M239.5 393.9h0M249.1 397.5h0M248.4 409.8h0M265.8 369.5h0M236.4 410.2h0M269.5 375.5h0M269.9 374.8h0M264.7 360.4h0M270.0 358.0h0M266.0 383.9h0M253.0 377.2h0M267.3 370.5h0M251.7 363.7h0M270.8 364.2h0M253.4 373.9h0M256.6 389.4h0M282.0 339.2h0M275.3 368.0h0M274.9 360.6h0M254.4 384.9h0M261.9 375.0h0M259.8 368.9h0M250.1 369.9h0M258.6 370.2h0M271.7 364.6h0M268.0 361.2h0M285.1 355.9h0M277.0 351.4h0M280.6 335.0h0M281.4 363.9h0M288.9 357.3h0M267.5 365.3h0M251.8 395.6h0M279.0 356.8h0M266.5 374.1h0M261.4 396.9h0M284.5 353.5h0M272.0 367.1h0M255.7 384.9h0M242.6 388.2h0M265.6 370.7h0M257.7 378.1h0M260.0 390.8h0M259.6 375.7h0M264.5 378.7h0M276.1 353.3h0M271.6 373.3h0M278.8 364.6h0M262.0 369.8h0M257.1 367.8h0M256.3 385.7h0M286.4 358.8h0M257.9 384.7h0M268.6 363.1h0M267.9 354.6h0M269.3 357.3h0M275.0 364.7h0M250.6 386.0h0M251.0 380.5h0M242.9 389.8h0M260.4 372.4h0M265.0 370.3h0M269.1 358.2h0M282.8 358.7h0M264.1 363.7h0M267.5 384.2h0M281.5 331.9h0M236.6 391.1h0M253.8 382.6h0M254.5 372.4h0M276.4 350.1h0M257.3 371.7h0M255.4 370.1h0M263.4 365.5h0M301.1 338.2h0M263.5 371.6h0M276.2 361.9h0M255.3 379.5h0M253.8 377.8h0M250.6 386.7h0M242.5 384.1h0M263.6 362.8h0M249.8 383.3h0M281.4 346.4h0M273.2 366.4h0M263.5 377.6h0M256.3 364.8h0M252.8 378.2h0M276.6 360.2h0M267.4 353.1h0M278.9 347.1h0M267.0 373.4h0M262.9 364.9h0M261.6 373.0h0M251.2 367.7h0M283.2 371.1h0M261.5 367.6h0M264.3 364.3h0M268.6 365.4h0M257.9 379.8h0M238.1 398.6h0M264.6 377.2h0M264.6 361.7h0M275.4 352.1h0M254.6 372.0h0M260.2 379.9h0M254.3 356.9h0M251.5 374.5h0M280.4 344.4h0M247.8 368.0h0M258.2 344.3h0M272.2 355.6h0M283.9 359.6h0M268.0 364.6h0M264.3 372.8h0M267.7 370.8h0M242.8 398.6h0M260.0 367.5h0M267.7 364.9h0M257.5 378.6h0M265.2 381.0h0M225.1 406.5h0M257.4 368.2h0M250.2 380.4h0M263.5 370.1h0M269.3 362.3h0M257.5 362.9h0M284.8 358.9h0M259.1 376.6h0M274.7 375.1h0M287.2 354.2h0M292.5 361.1h0M280.6 347.0h0M283.2 369.8h0M258.2 353.4h0M259.4 379.7h0M266.3 384.2h0M270.1 380.9h0M248.1 378.4h0M264.9 349.2h0M264.3 381.0h0M290.1 376.4h0M237.3 355.6h0M267.6 377.1h0M248.0 384.3h0M273.1 373.5h0M275.6 358.2h0M253.8 372.6h0M246.8 389.1h0M264.0 364.4h0M282.8 345.4h0M267.6 357.2h0M273.7 364.5h0M271.8 371.8h0M275.8 378.0h0M267.5 387.3h0M252.0 362.8h0M261.8 374.9h0M270.0 359.0h0M271.4 354.7h0M272.5 361.2h0M246.7 388.2h0M264.7 360.2h0M251.2 395.3h0M250.1 403.9h0M258.8 353.2h0M256.1 389.8h0M269.4 358.2h0M266.3 358.6h0M240.5 375.7h0M264.9 369.6h0M284.6 362.3h0M255.3 373.7h0M273.8 367.4h0M281.4 370.2h0M261.4 369.6h0M265.8 347.5h0M274.4 348.7h0M260.6 375.2h0M268.6 358.6h0M260.0 369.9h0M261.4 377.4h0M255.5 398.3h0M252.5 379.7h0M252.7 367.8h0M283.4 346.3h0M259.4 370.2h0M268.1 359.9h0M265.3 360.2h0M256.4 381.6h0M264.9 349.2h0M262.8 380.0h0M261.0 362.4h0M261.3 375.6h0M256.3 382.4h0M273.3 343.6h0M264.6 364.8h0M259.3 375.7h0M292.1 336.4h0M264.2 378.7h0M262.5 379.6h0M264.2 379.3h0M277.6 347.5h0M250.2 389.9h0M247.7 381.3h0M264.8 361.0h0M265.2 371.9h0M240.7 389.5h0M270.5 367.3h0M263.2 377.1h0M274.9 368.9h0M273.5 357.4h0M277.9 369.5h0M256.0 361.6h0M247.7 371.4h0M288.8 340.9h0M260.3 369.9h0M263.0 369.7h0M263.0 372.5h0M251.6 377.1h0M257.5 378.8h0M270.0 367.1h0M277.3 353.5h0M256.2 382.0h0M259.8 370.4h0M235.2 380.4h0M265.2 361.1h0M251.9 384.2h0M264.0 386.0h0M264.9 367.3h0M281.5 353.1h0M249.8 378.7h0M255.6 372.5h0M286.6 357.8h0M263.6 356.3h0M243.8 386.2h0M273.5 359.4h0M263.1 374.1h0M275.5 370.4h0M271.2 355.2h0M252.4 386.2h0M269.6 364.2h0M252.5 381.0h0M257.5 380.5h0M262.1 377.2h0M269.5 371.4h0M274.6 351.0h0M263.5 390.4h0M274.3 352.2h0M282.2 353.8h0M269.1 364.8h0M286.2 352.5h0M283.3 360.0h0M242.3 408.0h0M258.4 358.0h0M286.5 351.0h0M280.7 352.0h0M270.0 355.1h0M273.2 358.7h0M268.0 358.6h0M271.3 374.2h0M277.3 361.1h0M281.8 351.5h0M260.3 358.9h0M238.8 409.8h0M264.5 361.8h0M258.9 373.4h0M269.9 356.9h0M266.9 359.0h0M253.6 376.4h0M268.9 372.4h0M264.7 371.7h0M262.1 371.4h0M275.5 347.2h0M282.2 362.4h0M254.2 385.3h0M261.2 373.2h0M252.2 402.2h0M236.4 373.0h0M258.6 361.3h0M270.5 359.0h0M280.1 368.5h0M253.4 381.7h0M247.0 379.3h0M259.1 364.8h0M259.8 384.3h0M278.7 354.0h0M273.3 352.0h0M271.4 358.9h0M281.7 366.0h0M278.5 351.9h0M274.7 350.0h0M278.4 350.6h0M269.0 368.9h0M257.6 373.9h0M282.4 376.7h0M251.4 351.6h0M262.2 364.0h0M268.2 367.7h0M255.1 372.4h0M265.5 360.4h0M259.0 377.0h0M270.2 356.5h0M271.7 369.0h0M268.2 396.1h0M249.2 381.9h0M247.9 382.1h0M287.1 347.4h0M259.1 379.5h0M264.4 363.5h0M252.6 375.7h0M251.5 381.4h0M257.4 370.6h0M286.4 336.8h0M282.9 364.6h0M268.2 373.3h0M277.5 367.7h0M267.4 367.5h0M269.2 363.2h0M260.2 374.7h0M262.7 371.4h0M270.7 355.8h0M258.8 372.0h0M277.6 340.3h0M268.7 372.8h0M261.5 370.3h0M269.8 389.1h0M243.1 385.0h0M270.4 365.1h0M267.9 378.0h0M273.4 355.1h0M283.2 370.1h0M265.5 370.1h0M268.0 362.0h0M283.1 345.2h0M274.2 366.4h0M257.0 358.7h0M251.5 386.6h0M251.4 390.9h0M265.8 378.6h0M249.8 378.2h0M273.7 360.9h0M242.8 386.7h0M261.9 370.9h0M263.4 363.9h0M275.7 365.7h0M273.7 346.2h0M301.2 336.7h0M265.6 335.1h0M255.1 375.3h0M257.1 378.6h0M237.0 390.7h0M269.2 363.1h0M268.8 360.2h0M272.9 362.3h0M284.4 349.3h0M252.2 382.0h0M262.7 350.1h0M254.4 372.3h0M257.5 379.5h0M274.7 363.4h0M256.7 377.7h0M273.6 347.3h0M277.8 364.7h0M288.7 357.4h0M247.0 384.9h0M279.2 371.9h0M276.0 353.2h0M256.8 385.0h0M248.6 371.4h0M252.8 378.4h0M262.7 378.0h0M255.8 373.5h0M288.1 343.4h0M261.0 400.3h0M273.4 343.9h0M252.5 379.4h0M268.3 365.4h0M245.2 386.4h0M253.2 384.1h0M261.7 363.7h0M268.9 370.3h0M275.8 390.1h0M272.7 378.0h0M262.7 376.3h0M282.6 367.1h0M272.3 360.7h0M284.2 383.1h0M260.2 386.1h0M275.5 357.2h0M277.9 355.0h0M245.5 390.3h0M264.8 370.8h0M275.9 369.4h0M263.2 399.0h0M278.2 365.5h0M264.1 379.0h0M263.2 366.2h0M272.4 360.0h0M262.1 378.0h0M259.3 368.5h0M259.0 363.8h0M273.1 381.0h0M269.5 369.0h0M263.9 364.8h0M250.7 384.9h0M271.1 366.4h0M258.7 375.9h0M257.5 378.0h0M271.1 351.4h0M275.8 357.7h0M276.9 372.8h0M255.7 388.1h0M272.6 378.3h0M261.1 374.9h0M279.6 364.0h0M248.5 391.6h0M256.0 386.5h0M268.9 383.2h0M237.8 389.0h0M262.1 378.8h0M262.4 370.2h0M260.4 361.8h0M282.5 350.2h0M265.3 380.9h0M247.1 386.0h0M273.6 369.8h0M266.0 374.6h0M270.4 368.7h0M270.4 359.1h0M260.5 372.9h0M260.7 368.7h0M263.7 357.2h0M266.8 384.3h0M262.0 363.4h0M262.4 371.1h0M268.9 377.4h0M261.7 384.5h0M259.9 367.9h0M254.1 375.6h0M267.4 362.2h0M259.3 375.7h0M267.6 369.5h0M260.4 370.8h0M278.8 340.4h0M279.0 348.6h0M269.6 344.7h0M268.5 376.2h0M256.5 361.1h0M250.0 388.2h0M270.5 364.8h0M265.0 375.6h0M282.8 355.8h0M261.6 368.3h0M291.9 344.0h0M271.3 355.4h0M263.4 384.4h0M249.5 395.5h0M275.0 370.3h0M273.9 375.5h0M260.5 366.9h0M278.0 350.4h0M238.9 367.5h0M257.6 367.6h0M271.8 373.3h0M245.0 363.2h0M265.5 363.8h0M262.1 366.4h0M277.8 348.7h0M267.7 357.9h0M255.6 379.1h0M266.3 383.5h0M252.7 366.2h0M263.7 373.7h0M253.4 373.3h0M246.9 386.1h0M268.9 364.6h0M247.6 383.3h0M271.7 374.2h0M262.3 368.2h0M277.7 362.1h0M253.3 399.6h0M259.4 371.0h0M272.9 358.9h0M259.5 367.5h0M248.9 364.5h0M265.1 366.3h0M259.3 376.3h0M286.8 334.8h0M244.8 391.0h0M265.0 377.6h0M282.4 338.1h0M270.9 358.9h0M268.2 376.3h0M259.5 374.8h0M260.0 380.5h0M256.5 373.5h0M263.8 383.6h0M274.5 350.9h0M269.8 371.2h0M264.1 369.2h0M286.6 347.9h0M277.1 352.4h0M281.3 356.0h0M255.1 371.3h0M255.4 372.3h0M234.7 404.8h0M266.1 348.9h0M265.1 362.3h0M245.0 404.1h0M286.0 355.1h0M281.1 349.9h0M277.7 364.5h0M266.0 366.2h0M269.3 370.0h0M267.3 369.5h0M276.2 347.0h0M258.6 375.6h0M266.6 363.9h0M276.1 383.0h0M250.9 388.4h0M258.6 373.0h0M284.9 359.3h0M250.5 372.8h0M272.7 348.9h0M292.6 353.1h0M273.9 374.4h0M253.0 373.7h0M262.7 370.6h0M279.7 353.3h0M257.0 386.6h0M284.9 355.4h0M257.8 381.1h0M265.5 364.2h0M260.5 383.8h0M248.2 385.5h0M249.4 379.7h0M289.4 345.7h0M281.3 364.3h0M250.2 385.3h0M258.6 373.1h0M276.3 356.5h0M272.3 352.7h0M276.2 356.9h0M240.5 387.0h0M236.2 393.9h0M264.6 373.5h0M263.1 376.7h0M268.3 375.1h0M254.8 360.9h0M238.8 385.7h0M244.9 391.4h0M251.5 382.7h0M264.2 367.5h0M273.3 337.1h0M263.9 367.9h0M280.3 362.7h0M268.2 361.4h0M261.5 368.6h0M279.5 362.3h0M290.6 348.3h0M257.3 380.9h0M270.9 383.2h0M275.1 364.4h0M247.3 370.3h0M271.5 357.2h0M265.4 375.5h0M288.9 346.4h0M282.0 366.9h0M244.4 386.8h0M277.0 378.8h0M266.4 365.2h0M255.1 379.1h0M278.4 358.9h0M244.7 380.8h0M260.7 367.2h0M270.4 367.3h0M283.9 337.8h0M245.2 387.6h0M259.8 389.3h0M264.8 371.7h0M284.7 355.8h0M269.2 368.6h0M273.1 358.0h0M277.4 363.4h0M275.0 370.9h0M269.2 384.5h0M248.0 370.6h0M250.3 383.3h0M287.5 350.7h0M271.8 372.8h0M248.6 379.8h0M243.4 384.5h0M284.3 369.0h0M281.6 361.8h0M273.8 344.2h0M276.1 369.4h0M274.2 370.5h0M259.6 373.4h0M240.7 388.3h0M271.0 364.1h0M258.9 384.7h0M268.1 370.6h0M280.7 348.1h0M269.5 355.3h0M261.6 385.7h0M275.6 345.0h0M262.9 367.6h0M258.3 374.2h0M275.9 359.4h0M277.8 375.7h0M268.2 366.2h0M292.0 340.4h0M270.9 377.2h0M265.3 369.1h0M251.0 369.7h0M261.3 378.6h0M270.9 369.2h0M268.9 368.2h0M279.7 358.7h0M272.7 341.6h0M249.8 375.9h0M260.2 372.9h0M274.3 361.0h0M254.4 382.0h0M254.5 371.8h0M263.2 367.7h0M252.1 376.1h0M281.8 346.4h0M268.2 382.2h0M279.3 367.1h0M255.8 376.0h0M252.9 382.0h0M268.4 376.2h0M237.6 398.8h0M270.9 375.5h0M239.1 391.3h0M248.5 380.8h0M260.0 350.5h0M268.9 358.3h0M252.5 391.3h0M253.8 381.0h0M265.4 361.5h0M270.5 373.2h0M255.5 364.4h0M238.5 386.3h0M249.6 402.6h0M264.9 356.7h0M277.6 350.5h0M278.2 350.9h0M282.4 357.9h0M267.4 359.0h0M281.2 358.8h0M273.7 367.5h0M247.2 376.8h0M277.1 348.8h0M265.3 366.9h0M280.8 348.6h0M228.4 409.7h0M268.6 367.4h0M255.0 375.9h0M265.4 349.2h0M275.9 358.3h0M253.1 372.7h0M290.0 343.7h0M279.3 358.4h0M278.6 355.4h0M280.6 363.5h0M262.8 373.6h0M280.4 354.5h0M265.4 379.2h0M266.3 361.0h0M261.0 372.1h0M261.1 381.6h0M255.4 367.0h0M276.3 358.8h0M257.6 378.2h0M278.9 351.6h0M282.5 367.8h0M273.4 369.6h0M259.0 373.5h0M273.7 357.4h0M269.1 360.0h0M256.5 358.6h0M272.4 356.0h0M244.9 370.8h0M268.6 348.9h0M252.2 376.4h0M275.6 360.1h0M275.7 357.4h0M289.8 339.8h0M255.2 388.1h0M261.2 369.0h0M257.0 370.0h0M282.6 358.7h0M245.9 392.2h0M256.8 372.4h0M262.3 376.9h0M262.7 364.8h0M284.7 354.1h0M257.5 394.0h0M249.2 394.3h0M260.6 394.0h0M272.1 350.2h0M281.9 360.1h0M272.3 379.6h0M248.0 379.2h0M240.3 387.0h0M244.8 385.2h0M245.5 387.6h0M266.8 357.3h0M251.0 383.8h0M279.0 380.4h0M265.9 362.2h0M280.5 364.8h0M294.3 331.5h0M250.0 375.8h0M263.1 376.4h0M277.5 357.6h0M262.7 374.6h0M251.5 393.5h0M271.2 358.5h0M249.8 378.1h0M278.7 368.0h0M264.7 382.8h0M266.9 369.9h0M259.0 387.2h0M264.7 364.0h0M242.0 384.3h0M277.7 352.7h0M248.1 370.6h0M271.7 361.4h0M258.4 373.3h0M263.6 365.0h0M283.0 349.6h0M263.0 363.6h0M270.8 369.8h0M270.6 360.5h0M273.1 353.0h0M257.0 381.3h0M244.5 390.4h0M278.6 376.3h0M261.9 374.4h0M243.9 394.8h0M260.0 379.5h0M252.9 372.7h0M266.7 368.6h0M263.4 372.6h0M273.9 347.1h0M279.3 362.0h0M253.7 378.7h0M269.9 376.8h0M279.6 358.1h0M270.0 359.3h0M283.0 376.5h0M266.1 361.5h0M281.2 349.8h0M250.6 369.5h0M235.6 404.2h0M284.2 331.9h0M256.9 383.9h0M266.5 364.5h0M248.4 370.7h0M272.3 354.1h0M265.1 373.1h0M242.4 390.0h0M257.9 378.7h0M279.9 365.6h0M277.0 365.4h0M269.7 363.1h0M261.7 377.5h0M262.8 362.3h0M261.5 367.0h0M260.4 375.7h0M276.8 367.2h0M250.9 397.7h0M255.6 379.3h0M273.2 364.6h0M280.6 364.7h0M273.8 358.2h0M263.6 343.3h0M250.1 387.0h0M285.7 344.4h0M254.4 377.6h0M265.2 374.1h0M290.1 357.2h0M251.0 389.8h0M269.9 358.0h0M279.6 336.9h0M265.0 377.6h0M259.7 374.2h0M269.1 360.0h0M264.7 386.9h0M296.5 331.3h0M252.2 379.5h0M277.1 372.2h0M274.4 357.3h0M291.9 342.9h0M277.2 363.6h0M260.8 377.1h0M275.4 367.9h0M273.3 357.3h0M283.7 366.3h0M270.2 378.5h0M268.0 376.9h0M280.2 358.0h0M254.2 377.7h0M266.4 367.2h0M283.4 350.8h0M257.7 354.9h0M257.7 386.6h0M263.4 367.2h0M271.5 357.9h0M263.4 376.4h0M267.6 355.9h0M256.6 365.1h0M284.5 376.4h0M276.6 355.8h0M242.9 382.9h0M267.5 375.6h0M248.2 381.8h0M267.8 353.6h0M269.7 359.1h0M266.7 385.8h0M261.4 378.7h0M261.7 364.2h0M254.9 370.7h0M265.1 361.7h0M271.5 364.0h0M271.3 373.8h0M256.9 383.2h0M278.3 343.1h0M266.8 360.7h0M266.0 384.5h0M284.1 345.4h0M267.5 359.0h0M280.1 344.9h0M253.2 383.6h0M262.8 377.9h0M271.2 361.8h0M259.8 385.9h0M260.2 379.9h0M283.2 354.3h0M274.7 363.1h0M274.5 365.9h0M275.4 366.0h0M261.9 375.8h0M256.2 374.4h0M259.3 343.9h0M285.3 362.6h0M262.7 383.3h0M273.5 356.2h0M285.3 349.7h0M271.7 347.0h0M255.2 377.7h0M273.6 366.4h0M260.6 380.1h0M287.5 347.0h0M276.0 359.6h0M258.2 366.4h0M266.3 384.1h0M271.3 340.5h0M246.8 371.2h0M260.6 382.3h0M267.0 376.0h0M248.4 385.5h0M260.8 365.3h0M269.2 370.3h0M270.0 365.4h0M279.1 347.1h0M250.6 387.3h0M256.8 367.7h0M260.6 378.5h0M280.5 366.4h0M280.7 348.5h0M284.7 368.9h0M266.3 366.2h0M286.0 337.5h0M270.1 356.5h0M279.9 359.3h0M237.7 372.9h0M278.4 354.7h0M240.7 414.0h0M275.4 373.2h0M264.3 390.8h0M269.7 357.3h0M274.5 376.0h0M264.3 367.6h0M258.0 377.0h0M267.4 344.7h0M270.7 368.1h0M243.9 385.3h0M261.1 385.8h0M237.5 399.1h0M259.2 370.6h0M265.5 362.2h0M280.5 363.7h0M246.3 371.8h0M294.4 360.4h0M271.0 365.4h0M259.6 370.5h0M258.5 382.8h0M288.3 342.2h0M253.1 364.7h0M282.7 346.7h0M247.2 366.5h0M268.1 383.7h0M256.6 367.0h0M257.2 369.8h0M263.8 365.6h0M276.3 354.7h0M261.9 374.8h0M245.9 382.2h0M247.9 377.8h0M283.2 349.3h0M257.8 386.4h0M252.8 398.4h0M270.0 365.1h0M250.7 382.9h0M281.4 364.5h0M259.0 371.7h0M287.7 335.2h0M277.5 357.2h0M284.0 353.1h0M285.2 349.5h0M263.8 383.0h0M240.2 395.5h0M261.0 368.9h0M256.9 377.6h0M250.2 378.5h0M266.8 354.7h0M254.5 362.1h0M252.7 374.5h0M277.8 360.3h0M267.3 379.8h0M271.3 373.6h0M283.5 363.9h0M276.5 352.0h0M286.3 354.3h0M288.1 358.5h0M281.4 356.6h0M282.2 353.2h0M264.3 373.3h0M279.5 343.9h0M262.1 363.8h0M274.5 343.9h0M248.1 384.2h0M265.5 366.7h0M256.3 363.6h0M274.0 362.4h0M269.0 356.0h0M269.2 386.0h0M234.2 396.0h0M238.1 365.3h0M261.0 374.9h0M276.1 365.9h0M254.1 378.2h0M267.8 357.7h0M264.0 390.5h0M269.0 377.6h0M249.8 385.8h0M286.8 372.4h0M269.5 363.5h0M275.8 342.3h0M254.8 372.6h0M285.1 361.4h0M263.3 368.6h0M286.5 376.4h0M247.4 381.0h0M260.3 378.5h0M271.5 368.3h0M263.9 370.5h0M259.1 366.0h0M251.6 379.8h0M259.5 380.5h0M253.1 383.2h0M276.2 358.1h0M291.2 338.1h0M246.7 389.3h0M275.0 348.1h0M271.3 354.9h0M275.4 359.4h0M273.2 356.6h0M282.1 342.8h0M263.1 369.5h0M280.0 359.0h0M279.0 338.9h0M249.9 394.7h0M252.8 389.9h0M262.8 364.2h0M248.0 390.2h0M251.9 387.5h0M261.5 365.6h0M272.6 350.9h0M259.3 378.7h0M271.9 356.6h0M258.7 376.1h0M255.3 391.1h0M254.7 350.1h0M268.5 357.2h0M238.7 391.6h0M253.3 374.5h0M258.4 369.8h0M273.3 350.5h0M264.3 362.2h0M259.8 373.8h0M262.0 370.5h0M269.6 356.0h0M254.0 376.1h0M275.3 363.1h0M262.9 378.5h0M271.2 359.3h0M266.2 375.6h0M262.4 371.0h0M269.9 367.4h0M288.4 348.4h0M252.0 377.0h0M285.8 333.0h0M264.7 363.5h0M258.4 369.7h0M273.9 377.4h0M264.1 362.8h0M262.9 384.8h0M294.4 346.0h0M271.0 343.2h0M264.3 379.8h0M242.0 371.5h0M256.6 377.6h0M275.2 365.4h0M251.0 366.3h0M261.3 360.2h0M274.7 365.8h0M259.1 374.8h0M281.5 352.8h0M258.5 370.9h0M257.0 369.8h0M296.1 339.6h0M251.2 382.5h0M277.8 370.9h0M262.1 371.6h0M268.5 349.0h0M252.4 380.0h0M263.1 359.6h0M277.2 354.2h0M253.6 381.0h0M276.2 367.2h0M255.8 378.6h0M266.9 365.0h0M263.0 375.9h0M278.9 372.4h0M266.4 371.2h0M255.3 374.8h0M247.5 387.9h0M275.9 353.0h0M272.3 356.0h0M238.0 392.6h0M245.8 381.5h0M272.5 351.6h0M262.6 378.2h0M267.4 365.4h0M270.4 356.9h0M276.7 356.8h0M265.2 364.5h0M277.8 353.1h0M292.0 349.8h0M284.7 368.3h0M270.0 366.4h0M259.9 368.2h0M232.6 413.2h0M266.5 374.5h0M229.0 413.7h0M272.3 364.4h0M270.1 383.2h0M247.1 358.2h0M266.8 370.5h0M246.5 388.9h0M263.7 352.4h0M261.7 366.8h0M251.1 383.2h0M281.9 347.1h0M250.8 399.8h0M278.6 368.4h0M283.5 362.6h0M284.8 364.0h0M238.5 396.6h0M237.7 397.6h0M272.4 353.7h0M255.3 366.4h0M284.2 354.0h0M250.8 378.7h0M238.0 379.0h0M267.1 357.2h0M249.9 391.6h0M254.5 373.6h0M274.5 365.0h0M247.2 394.9h0M263.5 370.9h0M247.3 383.0h0M260.3 375.1h0M265.4 354.4h0M286.3 348.8h0M265.3 352.2h0M258.7 366.0h0M262.3 363.9h0M257.4 369.3h0M284.6 355.6h0M259.0 380.4h0M262.7 360.8h0M259.0 354.1h0M259.6 348.6h0M281.0 368.7h0M292.0 347.9h0M243.4 382.3h0M264.1 373.6h0M260.7 386.7h0M249.8 379.7h0M262.7 376.2h0M271.6 361.5h0M254.9 390.8h0M281.0 355.5h0M242.5 390.8h0M262.6 366.3h0M266.6 359.7h0M277.1 357.1h0M270.7 370.6h0M258.5 374.5h0M265.9 361.0h0M259.3 380.9h0M283.3 340.2h0M266.2 374.0h0M297.0 339.2h0M257.6 372.6h0M241.6 371.1h0M269.5 358.6h0M271.2 357.7h0M238.9 393.3h0M283.8 369.7h0M270.2 376.1h0M271.8 354.8h0M277.1 357.2h0M267.0 358.5h0M260.3 352.6h0M272.2 367.0h0M272.6 365.6h0M269.3 377.1h0M246.0 387.3h0M271.9 362.0h0M259.8 371.6h0M260.8 371.8h0M267.9 358.5h0M248.4 383.9h0M271.4 373.6h0M274.2 360.5h0M261.4 368.8h0M280.7 349.5h0M265.9 363.2h0M252.9 361.3h0M260.3 362.0h0M262.7 374.6h0M254.8 373.2h0M278.4 353.0h0M263.7 365.4h0M260.1 374.5h0M255.2 367.0h0M258.6 384.3h0M273.1 362.9h0M276.7 358.0h0M262.6 364.8h0M271.3 365.1h0M254.0 374.3h0M284.4 359.6h0M270.1 355.8h0M255.2 353.9h0M273.1 344.3h0M269.1 358.4h0M262.7 369.7h0M279.7 351.2h0M256.1 385.4h0M247.8 391.9h0M267.6 389.3h0M246.2 384.9h0M263.2 369.5h0M265.1 365.8h0M253.9 372.3h0M281.1 349.1h0M276.5 336.3h0M239.7 375.7h0M264.5 383.2h0M259.1 375.2h0M263.1 357.7h0M257.7 370.3h0M284.6 339.4h0M282.6 354.4h0M259.0 394.3h0M270.8 367.0h0M260.5 371.2h0M271.7 356.7h0M266.7 368.8h0M263.2 392.0h0M275.2 360.4h0M247.5 398.8h0M268.6 366.7h0M247.9 382.9h0M255.2 381.8h0M271.0 367.5h0M261.0 381.3h0M293.5 355.1h0M245.9 396.8h0M278.4 347.1h0M272.8 361.0h0M257.1 399.0h0M269.5 362.2h0M286.7 358.8h0M274.9 357.1h0M259.1 370.2h0M244.9 398.0h0M248.0 389.8h0M280.9 343.1h0M251.0 379.9h0M247.8 374.0h0M259.7 387.0h0M267.9 358.7h0M266.2 373.4h0M252.6 357.0h0M291.8 348.5h0M279.5 341.9h0M271.8 361.8h0M267.6 377.8h0M260.3 369.0h0M277.3 360.8h0M265.9 361.7h0M260.9 374.9h0M271.3 356.8h0M264.4 369.7h0M283.3 359.6h0M294.8 332.8h0M262.7 369.3h0M271.4 358.5h0M260.3 371.5h0M272.4 364.7h0M257.4 368.2h0M264.1 366.5h0M259.5 378.8h0M271.9 361.1h0M257.6 366.1h0M266.2 372.3h0M266.1 375.7h0M248.8 387.5h0M283.3 359.7h0M249.3 380.4h0M267.6 340.0h0M279.4 356.7h0M256.6 382.0h0M265.7 362.9h0M268.8 367.5h0M246.7 385.0h0M255.6 381.9h0M266.1 376.6h0M283.1 343.6h0M262.5 362.3h0M257.5 353.8h0M293.5 336.5h0M273.2 364.5h0M268.2 360.1h0M274.3 362.9h0M263.5 369.7h0M234.5 393.2h0M255.8 370.4h0M275.9 345.2h0M263.1 367.2h0M259.7 388.2h0M253.2 373.7h0M244.0 391.4h0M241.2 394.8h0M285.1 344.9h0M248.2 389.1h0M262.4 355.5h0M274.1 354.3h0M261.7 364.1h0M253.1 374.3h0M274.7 350.0h0M263.9 375.9h0M304.7 337.2h0M255.5 391.1h0M262.0 379.5h0M253.7 375.8h0M263.9 369.0h0M242.5 390.2h0M289.2 337.8h0M269.5 364.9h0M257.0 373.4h0M239.0 385.9h0M260.9 368.0h0M262.7 368.9h0M283.1 327.7h0M262.5 369.8h0M257.3 363.2h0M270.7 346.8h0M244.8 391.6h0M255.5 363.3h0M252.9 377.3h0M267.8 357.1h0M282.8 340.3h0M282.4 359.3h0M243.9 382.0h0M267.1 357.3h0M252.8 383.0h0M270.9 368.2h0M270.9 365.9h0M253.8 378.0h0M250.2 388.3h0M278.0 367.4h0M260.5 373.5h0M278.8 357.0h0M249.1 392.0h0M273.2 353.3h0M257.3 387.0h0M256.4 387.3h0M271.6 374.5h0M273.9 368.8h0M269.7 360.0h0M237.9 410.1h0M256.0 385.0h0M267.7 381.0h0M261.6 373.6h0M264.2 369.7h0M258.2 374.4h0M258.8 376.7h0M257.6 389.1h0M256.5 370.2h0M268.8 356.3h0M245.1 390.1h0M256.5 388.9h0M248.4 381.7h0M270.1 383.7h0M242.9 397.2h0M244.5 389.1h0M255.1 386.6h0M277.1 359.2h0M253.1 378.4h0M257.5 370.2h0M260.0 365.9h0M273.0 356.8h0M276.1 364.3h0M264.9 374.5h0M279.3 349.6h0M271.4 359.8h0M254.0 411.6h0M244.8 398.4h0M268.5 379.5h0M258.9 364.7h0M247.2 384.3h0M275.1 365.2h0M258.4 371.8h0M262.9 347.9h0M267.7 387.1h0M273.4 354.7h0M260.2 368.9h0M276.9 355.4h0M267.3 376.1h0M254.8 372.6h0M286.9 348.4h0M268.5 382.0h0M269.0 375.8h0M273.2 375.1h0M275.2 371.8h0M250.7 379.5h0M267.8 361.7h0M276.2 356.0h0M274.6 380.2h0M278.9 349.7h0M273.7 363.5h0M250.6 381.3h0M270.4 378.6h0M280.0 368.9h0M253.2 375.2h0M270.2 361.8h0M266.3 363.0h0M255.4 364.1h0M250.7 366.1h0M276.1 354.5h0M280.9 358.7h0M258.3 375.1h0M264.6 374.1h0M302.3 345.0h0M274.4 355.3h0M246.1 385.4h0M269.3 372.6h0M279.3 345.8h0M237.0 401.6h0M249.7 391.5h0M249.0 386.5h0M266.2 378.2h0M256.2 379.9h0M275.3 343.3h0M277.5 354.0h0M277.3 343.0h0M272.8 383.1h0M265.6 366.3h0M248.2 379.5h0M260.2 375.4h0M275.0 356.1h0M249.2 349.9h0M266.5 375.5h0M278.6 377.1h0M250.3 367.9h0M269.9 361.9h0M254.0 370.4h0M286.9 347.1h0M244.8 388.1h0M273.2 343.9h0M261.0 368.1h0M275.9 371.2h0M278.7 350.6h0M290.1 360.4h0M251.6 376.4h0M261.2 365.2h0M260.8 388.1h0M277.5 347.1h0M253.3 384.8h0M261.8 372.6h0M259.2 376.4h0M249.4 389.4h0M255.0 377.6h0M249.0 365.9h0M235.2 395.0h0M269.9 380.3h0M260.9 368.8h0M269.6 359.9h0M275.2 346.3h0M259.8 381.7h0M268.9 368.6h0M260.0 360.5h0M259.9 372.2h0M259.6 365.8h0M271.9 355.0h0M257.7 383.4h0M247.0 382.5h0M267.2 368.8h0M256.5 350.1h0M257.8 370.9h0M274.1 367.2h0M259.2 369.1h0M256.3 371.0h0M280.4 362.8h0M276.1 363.8h0M271.4 350.8h0M257.8 380.5h0M270.7 369.1h0M303.5 337.6h0M237.1 391.2h0M254.9 377.3h0M292.3 351.8h0M266.5 378.0h0M271.0 372.7h0M277.4 356.7h0M267.4 344.6h0M260.7 374.9h0M258.0 375.6h0M262.6 382.2h0M253.5 396.8h0M281.6 347.8h0M289.8 346.4h0M266.0 383.3h0M256.8 368.5h0M247.4 389.5h0M268.3 366.1h0M244.4 385.5h0M262.9 357.8h0M268.0 358.7h0M268.3 374.8h0M252.9 383.0h0M261.3 368.6h0M243.9 383.9h0M275.0 373.8h0M258.6 383.7h0M271.3 359.5h0M267.6 367.3h0M269.5 387.6h0M262.9 369.2h0M280.2 359.3h0M260.7 393.7h0M289.1 349.3h0M264.8 371.3h0M257.9 383.0h0M261.5 383.5h0M233.0 380.8h0M284.6 360.9h0M270.8 358.5h0M249.2 377.2h0M257.4 369.8h0M269.7 371.3h0M266.4 340.1h0M266.6 367.3h0M277.3 370.3h0M275.6 347.6h0M255.8 373.4h0M274.8 370.5h0M287.7 345.7h0M261.8 377.3h0M279.9 362.5h0M281.1 341.7h0M273.0 354.5h0M256.9 378.8h0M265.7 380.7h0M260.3 370.2h0M273.2 387.0h0M254.8 359.7h0M264.3 380.4h0M261.7 373.5h0M283.5 349.8h0M278.7 350.7h0M278.7 365.4h0M241.6 406.4h0M237.1 401.1h0M265.4 354.0h0M272.7 350.6h0M268.8 365.8h0M257.8 353.1h0M268.3 349.6h0M272.0 360.7h0M261.0 378.7h0M267.8 363.9h0M273.0 346.3h0M284.6 350.4h0M245.3 392.9h0M285.1 354.4h0M280.3 356.4h0M253.2 370.4h0M260.9 390.1h0M250.8 386.5h0M258.0 380.0h0M239.4 392.2h0M284.4 349.2h0M265.7 370.4h0M246.2 382.2h0M244.1 387.7h0M257.5 382.4h0M263.8 366.5h0M247.1 385.2h0M274.3 362.5h0M253.3 377.4h0M257.0 375.8h0M269.2 342.8h0M254.8 374.4h0M265.9 354.9h0M261.6 363.7h0M246.1 385.3h0M267.6 362.8h0M273.7 341.3h0M281.2 334.0h0M251.7 394.2h0M242.8 387.4h0M266.6 366.1h0M267.6 377.2h0M259.8 367.3h0M261.1 374.6h0M256.1 398.6h0M256.9 359.1h0M265.3 373.0h0M271.2 361.5h0M268.9 373.5h0M269.8 365.8h0M272.6 353.3h0M254.5 399.0h0M278.2 367.7h0M272.1 366.4h0M236.6 394.6h0M273.9 359.2h0M279.2 355.5h0M274.5 352.3h0M263.4 366.8h0M272.1 365.6h0M269.2 373.7h0M268.4 356.8h0M252.3 374.0h0M248.1 366.5h0M267.8 365.6h0M257.8 365.7h0M282.6 339.2h0M278.9 358.7h0M257.2 377.6h0M264.6 362.0h0M278.2 378.8h0M271.0 359.0h0M256.1 376.2h0M275.7 361.4h0M259.2 376.8h0M268.4 369.2h0M261.6 355.4h0M267.2 361.3h0M279.1 364.2h0M268.9 395.2h0M242.2 369.4h0M262.6 374.0h0M243.9 387.1h0M271.3 345.1h0M244.3 385.0h0M264.2 374.4h0M281.2 364.0h0M274.1 346.5h0M249.7 378.5h0M237.1 393.0h0M276.4 363.6h0M260.0 365.4h0M275.1 371.0h0M281.4 338.7h0M270.9 362.0h0M237.6 375.3h0M246.6 385.5h0M281.8 344.0h0M269.7 364.1h0M269.4 356.8h0M255.8 373.0h0M260.0 369.2h0M266.0 370.2h0M281.0 359.2h0M261.3 372.2h0M283.1 356.1h0M271.9 366.0h0M254.1 355.3h0M243.6 392.2h0M268.7 365.2h0M261.9 379.6h0M272.8 354.5h0M263.7 388.5h0M255.4 384.0h0M245.3 380.7h0M261.2 376.3h0M253.0 386.2h0M260.0 380.3h0M263.7 372.0h0M273.8 380.9h0M253.2 388.5h0M265.0 378.0h0M255.4 394.2h0M269.1 339.2h0M258.1 374.5h0M287.4 345.3h0M269.5 332.9h0M243.0 389.4h0M275.0 376.2h0M258.9 371.9h0M274.0 370.8h0M238.8 405.2h0M264.6 366.5h0M250.0 379.4h0M237.4 396.4h0M266.3 373.1h0M266.2 368.2h0M260.7 369.8h0M282.2 351.6h0M230.9 377.5h0M262.2 380.7h0M266.1 359.8h0M255.7 353.6h0M271.9 360.4h0M254.2 371.9h0M253.3 382.0h0M261.0 366.8h0M268.8 372.7h0M242.5 389.9h0M275.5 358.7h0M264.0 369.7h0M255.1 378.5h0M256.5 387.3h0M262.4 356.0h0M267.7 369.9h0M265.3 383.4h0M269.0 367.7h0M246.3 390.6h0M271.8 356.5h0M273.5 357.3h0M276.4 357.1h0M266.5 355.3h0M244.8 387.0h0M279.0 365.9h0M281.8 349.1h0M287.2 352.8h0M274.1 364.6h0M265.9 366.5h0M250.7 382.1h0M268.1 373.7h0M259.7 359.9h0M276.2 368.9h0M255.7 372.2h0M287.7 354.7h0M239.6 394.5h0M249.7 376.0h0M245.5 391.9h0M258.1 362.6h0M266.8 372.2h0M276.2 354.7h0M278.3 349.9h0M271.8 369.9h0M269.2 361.6h0M249.1 385.1h0M249.8 375.7h0M250.3 383.1h0M243.1 376.9h0M253.3 384.3h0M264.0 366.7h0M259.6 369.6h0M275.9 372.5h0M258.8 373.3h0M262.8 378.6h0M264.0 372.4h0M256.8 375.2h0M261.4 368.8h0M248.9 386.1h0M277.7 357.6h0M268.8 361.5h0M292.7 341.1h0M261.9 363.7h0M243.0 393.6h0M265.2 365.6h0M263.6 349.0h0M269.7 341.3h0M245.1 392.8h0M256.0 378.5h0M266.5 382.3h0M262.1 372.7h0M280.6 351.4h0M273.6 369.8h0M247.2 386.9h0M275.2 373.4h0M288.8 349.3h0M269.8 341.1h0M279.7 362.7h0M263.9 372.1h0M277.9 352.2h0M283.0 355.7h0M254.5 375.0h0M287.9 368.1h0M271.5 371.7h0M283.2 341.1h0M258.1 370.2h0M278.9 365.2h0M272.5 360.7h0M240.5 396.4h0M271.8 376.2h0M271.5 375.9h0M254.0 383.8h0M242.9 385.4h0M251.2 386.5h0M269.4 359.9h0M266.0 375.1h0M248.9 373.2h0M255.3 360.6h0M268.3 341.1h0M260.5 366.3h0M272.3 388.5h0M268.1 374.0h0M276.8 352.8h0M269.7 333.9h0M271.3 360.2h0M263.2 371.2h0M260.6 365.5h0M257.5 380.5h0M285.1 351.8h0M241.5 397.1h0M277.6 358.6h0M261.0 354.1h0M272.0 365.4h0M277.0 364.0h0M252.3 381.5h0M271.7 372.0h0M272.6 359.3h0M273.5 360.6h0M268.6 362.2h0M266.8 362.0h0M256.9 384.8h0M265.0 375.2h0M278.2 352.0h0M306.1 331.3h0M266.1 379.2h0M265.8 379.9h0M261.8 370.9h0M260.4 368.1h0M272.0 361.5h0M247.8 381.7h0M253.5 373.3h0M258.1 351.3h0M269.0 354.4h0M249.5 395.2h0M296.5 331.8h0M266.8 359.8h0M258.1 378.7h0M279.4 355.0h0M266.3 368.0h0M266.2 369.2h0M276.7 344.4h0M271.4 360.6h0M260.9 366.1h0M279.0 364.3h0M252.1 383.0h0M250.4 393.8h0M266.7 370.8h0M266.2 379.9h0M280.7 356.5h0M270.0 372.7h0M271.5 358.2h0M252.1 373.8h0M258.2 368.5h0M273.0 356.9h0M264.5 373.7h0M272.0 350.4h0M255.2 399.1h0M253.5 396.8h0M255.5 372.9h0M270.8 363.3h0M266.8 372.4h0M263.9 372.0h0M271.0 367.2h0M272.1 357.2h0M279.5 359.7h0M291.0 360.7h0M288.6 350.5h0M263.6 366.6h0M268.0 379.8h0M251.8 375.1h0M259.4 381.6h0M250.6 382.4h0M279.7 355.6h0M275.9 340.1h0M286.1 338.3h0M281.3 359.6h0M242.4 385.2h0M246.6 383.4h0M261.5 380.6h0M271.9 366.1h0M269.0 362.7h0M250.3 362.7h0M255.9 363.3h0M280.7 382.8h0M269.5 359.1h0M284.0 340.5h0M274.6 355.8h0M271.6 373.9h0M281.5 357.7h0M259.5 377.4h0M284.8 359.6h0M253.0 381.0h0M275.0 347.2h0M272.7 352.4h0M257.7 386.8h0M274.9 362.6h0M275.7 369.4h0M246.8 379.9h0M268.1 360.7h0M256.4 378.8h0M263.6 365.3h0M261.2 368.0h0M275.6 365.4h0M260.0 366.8h0M234.4 370.6h0M256.0 380.1h0M276.6 380.0h0M290.1 372.0h0M277.0 360.2h0M248.0 379.4h0M273.3 363.8h0M264.0 389.0h0M265.0 347.3h0M268.7 367.8h0M272.5 361.9h0M267.3 358.8h0M273.3 342.6h0M241.4 380.2h0M246.1 401.0h0M277.8 370.5h0M259.7 371.8h0M257.0 381.5h0M264.9 364.8h0M271.3 370.8h0M252.9 383.8h0M267.2 371.7h0M249.2 392.7h0M269.7 366.7h0M283.0 369.4h0M298.6 348.5h0M251.0 379.6h0M249.9 363.3h0M261.6 379.0h0M251.5 388.9h0M264.3 382.0h0M245.3 384.1h0M250.4 385.2h0M249.1 374.8h0M272.8 357.9h0M255.2 369.4h0M258.6 369.0h0M252.3 374.0h0M268.6 365.4h0M280.8 364.3h0M258.4 369.4h0M251.5 375.2h0M248.8 383.3h0M260.4 364.9h0M265.1 373.1h0M260.4 351.8h0M280.4 376.2h0M270.6 371.7h0M250.3 378.1h0M260.4 365.9h0M267.5 362.2h0M269.7 363.5h0M249.3 387.1h0M263.2 365.9h0M247.4 372.6h0M265.1 369.9h0M254.0 371.3h0M264.2 370.3h0M254.0 390.9h0M260.2 368.5h0M252.9 372.8h0M278.8 355.8h0M313.5 330.9h0M247.6 380.4h0M267.8 373.9h0M267.0 379.6h0M273.1 353.1h0M290.9 367.3h0M260.9 363.4h0M254.9 385.8h0M266.1 374.9h0M263.8 364.4h0M260.2 405.8h0M254.4 371.7h0M253.1 391.0h0M269.5 374.7h0M253.3 379.6h0M258.5 351.0h0M256.4 365.5h0M246.3 391.7h0M260.8 377.5h0M266.9 372.7h0M264.3 392.9h0M239.1 399.4h0M261.3 341.8h0M264.6 349.4h0M281.9 344.2h0M258.6 386.4h0M264.5 363.6h0M260.9 374.1h0M263.4 341.2h0M258.4 375.8h0M269.4 357.5h0M259.4 372.7h0M244.4 382.3h0M262.8 375.6h0M272.8 337.9h0M271.4 373.0h0M262.9 358.9h0M275.8 355.7h0M244.4 375.6h0M261.0 371.2h0M275.5 344.1h0M287.8 364.4h0M246.8 379.9h0M245.7 398.3h0M269.2 353.3h0M272.7 362.9h0M242.3 397.8h0M251.8 366.5h0M253.0 381.1h0M262.8 347.1h0M266.6 361.8h0M269.6 366.5h0M266.2 344.9h0M249.6 382.9h0M268.8 343.0h0M267.6 358.7h0M271.5 353.4h0M252.6 390.8h0M278.3 374.1h0M249.5 393.2h0M269.2 371.4h0M257.6 366.9h0M262.2 378.2h0M271.2 376.1h0M259.3 359.7h0M258.7 375.3h0M275.1 357.5h0M286.6 336.0h0M272.3 356.5h0M289.4 338.2h0M303.7 327.9h0M281.6 348.0h0M292.4 341.3h0M292.0 338.0h0M291.5 332.9h0M292.4 336.2h0M283.6 342.1h0M285.2 346.4h0M284.8 346.5h0M295.1 333.6h0M290.3 342.8h0M305.3 325.7h0M281.1 350.8h0M294.8 333.7h0M281.4 351.4h0M297.4 329.7h0M279.9 347.7h0M284.2 338.5h0M289.9 343.0h0M306.1 326.0h0M286.5 344.2h0M290.7 341.8h0M267.6 355.5h0M294.5 335.4h0M291.7 334.1h0M292.8 340.5h0M282.0 339.4h0M292.2 336.7h0M274.7 358.9h0M293.9 336.7h0M283.0 343.7h0M271.6 355.0h0M298.6 329.0h0M273.4 356.5h0M287.8 336.3h0M289.8 330.3h0M279.5 352.1h0M295.5 334.6h0M284.8 347.2h0M287.6 346.2h0M271.4 356.3h0M284.0 347.3h0M278.7 354.2h0M296.6 323.2h0M280.8 347.1h0M297.9 329.5h0M280.4 346.2h0M276.8 354.7h0M279.0 355.0h0M281.2 341.3h0M303.5 329.0h0M306.4 323.6h0M293.6 335.6h0M285.1 348.2h0M283.3 338.9h0M295.9 332.3h0M274.6 355.0h0M284.5 342.6h0M296.2 323.4h0M280.4 350.2h0M286.1 347.3h0M294.1 333.9h0M297.9 332.7h0M272.2 360.4h0M274.8 352.2h0M299.0 333.5h0M272.1 357.2h0M271.8 359.4h0M301.1 319.8h0M293.0 339.0h0M290.8 340.8h0M283.1 349.3h0M301.2 329.8h0M275.2 350.8h0M287.6 341.6h0M297.0 332.2h0M277.5 354.3h0M277.5 347.7h0M276.0 352.0h0M273.2 355.1h0M291.8 335.4h0M276.9 355.9h0M291.7 341.9h0M293.9 337.1h0M280.5 353.4h0M301.8 329.1h0M281.1 351.0h0M298.2 325.8h0M291.4 325.1h0M305.8 322.7h0M297.7 331.5h0M283.5 347.9h0M284.9 340.4h0M278.2 345.6h0M299.1 331.2h0M281.3 350.8h0M287.1 346.1h0M305.4 325.0h0M290.7 339.1h0M297.8 321.3h0M282.2 340.9h0M274.1 357.2h0M296.1 333.6h0M296.1 335.4h0M288.2 337.2h0M278.6 344.8h0M299.6 327.7h0M293.1 328.1h0M298.3 327.8h0M287.5 342.1h0M301.3 330.5h0M295.4 336.5h0M292.6 338.2h0M286.3 340.4h0M304.5 323.1h0M288.1 344.4h0M301.4 319.4h0M303.6 325.6h0M282.3 348.4h0M271.6 355.7h0M293.8 332.6h0M300.2 332.2h0M275.4 354.4h0M303.3 323.1h0M291.2 340.7h0M293.7 336.3h0M279.3 351.0h0M282.6 343.3h0M285.2 346.9h0M304.2 325.1h0M281.4 348.1h0M287.8 343.3h0M289.7 338.8h0M277.0 355.0h0M275.6 356.3h0M273.7 357.3h0M301.9 320.0h0M285.6 338.2h0M301.2 332.0h0M293.2 336.7h0M290.1 341.2h0M292.0 338.0h0M276.5 345.8h0M302.1 321.6h0M285.3 345.8h0M300.3 328.8h0M280.8 347.5h0M288.7 344.4h0M274.2 356.3h0M290.8 341.2h0M285.1 336.5h0M280.1 345.4h0M302.9 324.4h0M276.3 354.7h0M273.0 359.9h0M286.5 345.9h0M288.7 340.6h0M274.3 355.6h0M267.6 355.4h0M275.4 352.9h0M273.5 355.0h0M283.6 338.9h0M298.5 333.4h0M303.9 320.1h0M272.3 357.3h0M278.5 350.5h0M306.1 325.3h0M279.1 348.0h0M277.9 342.0h0M280.9 347.8h0M277.4 343.8h0M277.2 356.0h0M300.8 318.8h0M299.7 328.6h0M289.9 335.9h0M296.9 328.2h0M293.1 340.1h0M277.0 356.9h0M276.6 348.9h0M267.9 353.8h0M286.2 346.1h0M272.7 355.2h0M298.0 320.8h0M271.7 357.4h0M296.5 335.8h0M290.2 333.6h0M302.1 330.3h0M268.6 356.7h0M280.7 346.8h0M303.3 328.7h0M287.4 346.0h0M293.8 331.7h0M272.3 359.9h0M282.6 344.3h0M293.2 336.5h0M274.3 358.1h0M282.6 350.2h0M286.2 339.4h0M306.2 324.7h0M275.8 357.2h0M292.2 324.4h0M271.6 355.5h0M289.3 338.7h0M287.6 345.6h0M301.2 328.5h0M285.4 345.5h0M284.4 344.2h0M281.8 350.4h0M289.8 335.9h0M282.2 351.0h0M294.8 334.2h0M295.5 336.8h0M307.3 325.0h0M306.4 326.5h0M281.6 351.4h0M276.6 351.5h0M274.4 353.8h0M291.6 339.4h0M286.8 344.4h0M303.8 324.3h0M275.0 355.4h0M274.7 359.3h0M293.9 338.9h0M282.6 342.3h0M279.0 354.1h0M286.9 341.0h0M296.5 329.2h0M281.1 349.3h0M271.1 351.3h0M284.0 344.9h0M272.9 348.7h0M274.4 347.1h0M288.5 340.4h0M282.8 344.2h0M305.8 324.4h0M274.4 351.3h0M283.0 342.6h0M280.5 350.4h0M286.0 333.0h0M286.4 343.9h0M282.6 345.1h0M293.6 339.1h0M304.7 321.3h0M290.7 341.3h0M294.5 335.3h0M283.7 346.2h0M292.8 338.2h0M278.2 351.4h0M272.3 359.0h0M282.7 347.6h0M282.2 348.2h0M282.5 350.2h0M301.4 330.1h0M283.3 345.8h0M280.7 346.8h0M297.9 330.4h0M285.4 343.3h0M294.0 325.9h0M298.5 331.8h0M286.2 347.1h0M272.3 350.5h0M273.4 354.2h0M295.2 336.5h0M287.0 337.3h0M287.6 341.4h0M296.0 333.0h0M275.6 354.7h0M296.0 327.7h0M285.1 342.8h0M275.3 352.3h0M289.3 336.5h0M276.6 356.6h0M280.5 339.9h0M283.5 349.6h0M286.9 337.7h0M284.8 342.6h0M300.4 330.1h0M295.5 331.4h0M299.1 332.5h0M305.6 322.1h0M301.8 329.4h0M272.1 355.3h0M280.4 345.8h0M303.6 327.9h0M295.2 332.9h0M277.1 348.3h0M306.8 325.3h0M294.5 331.6h0M273.7 353.0h0M278.1 348.9h0M292.1 338.9h0M302.4 329.3h0M300.1 322.0h0M285.3 344.9h0M296.0 335.8h0M284.9 342.3h0M301.3 325.5h0M304.2 322.7h0M295.3 331.1h0M298.5 332.1h0M291.3 338.4h0M278.0 352.2h0M301.5 328.5h0M295.1 334.7h0M297.8 332.4h0M293.8 334.4h0M291.1 338.2h0M288.5 337.3h0M278.9 354.4h0M279.4 353.4h0M275.6 354.4h0M304.7 321.4h0M305.0 327.6h0M277.3 345.5h0M275.5 354.4h0M294.9 331.9h0M272.4 357.1h0M285.4 338.2h0M287.3 336.1h0M292.0 333.0h0M297.3 334.1h0M283.3 346.2h0M307.7 324.3h0M297.4 334.2h0M280.4 352.1h0M295.7 330.2h0M295.4 336.1h0M280.4 349.1h0M298.9 333.7h0M299.4 331.7h0M274.1 359.3h0M271.3 355.8h0M303.6 320.7h0M293.0 339.9h0M298.7 330.0h0M286.0 339.0h0M280.8 352.8h0M279.1 347.1h0M305.9 323.7h0M299.5 332.4h0M286.5 346.3h0M278.3 341.7h0M289.4 336.2h0M296.6 336.8h0M302.3 324.7h0M289.9 343.8h0M292.9 336.5h0M272.5 357.7h0M272.0 358.6h0M297.9 335.2h0M284.0 347.3h0M298.7 333.2h0M287.4 342.1h0M274.7 357.5h0M273.4 358.5h0M276.6 357.5h0M283.6 345.5h0M306.1 326.9h0M283.7 347.4h0M283.1 349.0h0M296.8 333.8h0M279.5 354.7h0M272.6 358.7h0M290.7 338.4h0M281.1 344.4h0M286.4 344.7h0M293.6 336.8h0M303.8 327.2h0M279.5 350.8h0M279.7 348.7h0M275.2 358.8h0M275.5 358.6h0M293.7 332.5h0M300.3 327.9h0M284.2 343.1h0M277.4 348.4h0M301.3 329.6h0M298.5 317.2h0M272.9 361.2h0M279.7 345.9h0M290.2 342.0h0M279.3 349.6h0M286.5 344.9h0M290.8 341.4h0M293.4 338.9h0M295.6 327.2h0M284.3 347.9h0M301.7 326.8h0M299.5 325.6h0M272.1 358.1h0M274.5 355.3h0M282.6 349.1h0M272.0 358.4h0M281.6 344.6h0M290.6 342.4h0M274.5 354.1h0M304.1 323.1h0M283.0 337.8h0M305.4 325.2h0M299.5 330.3h0M299.4 332.3h0M278.3 346.8h0M272.0 354.1h0M292.3 330.6h0M288.4 340.4h0M281.3 351.7h0M282.7 338.3h0M296.6 327.1h0M293.7 330.0h0M274.9 353.6h0M296.1 325.2h0M284.3 345.2h0M288.3 333.0h0M274.4 357.6h0M294.2 327.8h0M278.9 350.3h0" stroke="#595959" stroke-width="1.45" stroke-linecap="round" fill="none"/><path d="M267.9 343.9h0M240.7 362.9h0M237.5 375.8h0M240.0 383.3h0M250.5 358.1h0M251.8 365.4h0M262.5 357.8h0M246.7 370.6h0M254.8 369.1h0M240.4 361.7h0M243.9 381.3h0M261.9 362.6h0M254.8 359.8h0M263.8 355.3h0M244.0 381.6h0M279.1 339.2h0M264.2 360.5h0M245.1 366.8h0M263.2 356.2h0M249.0 373.1h0M254.7 350.4h0M252.2 357.2h0M261.0 358.7h0M242.2 357.9h0M249.8 365.3h0M247.2 366.4h0M251.8 363.5h0M234.5 386.9h0M251.8 363.2h0M267.8 349.4h0M258.9 359.2h0M253.9 360.6h0M263.2 358.5h0M255.0 359.1h0M251.4 370.2h0M259.5 360.9h0M270.0 345.5h0M264.1 358.8h0M267.0 352.0h0M255.5 348.9h0M250.1 371.6h0M241.6 378.0h0M251.1 371.4h0M233.7 389.9h0M259.9 362.0h0M254.4 364.1h0M267.3 354.0h0M245.9 367.6h0M258.8 351.6h0M260.5 358.6h0M272.0 348.7h0M242.0 373.3h0M237.8 369.2h0M267.5 353.7h0M241.8 373.5h0M257.2 365.7h0M261.4 361.4h0M249.1 361.3h0M241.1 384.5h0M263.8 346.8h0M264.6 358.1h0M264.9 354.4h0M270.5 352.0h0M264.8 347.1h0M240.6 379.9h0M249.7 374.5h0M273.5 350.3h0M257.7 361.5h0M271.1 352.9h0M256.8 358.5h0M248.2 363.3h0M237.2 385.5h0M256.5 366.9h0M237.5 358.9h0M266.0 354.6h0M255.2 363.4h0M268.6 349.0h0M255.9 366.0h0M252.0 363.4h0M232.2 380.3h0M253.7 362.9h0M259.3 364.9h0M258.2 349.2h0M276.4 347.6h0M253.4 350.0h0M254.9 365.4h0M250.2 369.4h0M252.5 354.4h0M252.5 369.0h0M251.8 366.6h0M264.6 358.6h0M252.0 354.0h0M266.3 344.1h0M262.3 358.8h0M253.6 368.0h0M231.6 388.3h0M258.5 365.6h0M250.1 371.2h0M269.2 354.3h0M243.5 367.9h0M238.8 380.7h0M257.3 367.3h0M254.3 362.2h0M253.6 370.0h0M237.1 382.3h0M235.1 388.4h0M242.5 359.9h0M255.8 369.3h0M258.6 352.4h0M262.1 358.5h0M252.6 363.6h0M263.5 361.1h0M261.5 362.2h0M247.7 363.4h0M259.8 361.4h0M256.6 363.8h0M241.1 371.0h0M267.5 348.3h0M270.7 351.8h0M247.2 374.8h0M270.6 353.6h0M251.0 371.2h0M243.8 379.6h0M249.2 373.6h0M258.5 357.4h0M267.5 349.5h0M252.6 372.1h0M257.5 359.4h0M261.1 356.3h0M246.2 370.0h0M259.8 359.7h0M267.0 351.1h0M238.9 386.2h0M239.1 383.8h0M239.7 375.1h0M264.4 359.2h0M249.6 367.6h0M260.9 353.5h0M253.7 367.7h0M262.3 359.6h0M252.7 366.5h0M252.3 371.9h0M255.3 355.5h0M263.7 348.3h0M240.6 378.3h0M251.8 359.9h0M238.3 380.7h0M250.9 361.4h0M241.9 381.7h0M253.4 361.4h0M254.7 350.2h0M251.5 365.5h0M255.5 368.3h0M252.8 368.2h0M271.2 350.4h0M271.5 351.3h0M246.2 371.2h0M271.1 350.7h0M251.3 357.8h0M255.2 367.1h0M266.2 357.0h0M265.1 358.9h0M261.4 359.6h0M263.6 347.3h0M243.1 367.4h0M263.6 351.2h0M254.1 365.0h0M257.4 364.1h0M265.9 357.3h0M261.4 353.2h0M265.6 348.0h0M270.3 351.5h0M257.8 362.7h0M256.3 364.1h0M245.2 373.0h0M266.0 349.1h0M263.2 361.4h0M246.2 378.1h0M259.5 362.7h0M246.8 370.7h0M248.9 375.2h0M238.7 384.8h0M241.8 383.7h0M260.4 358.9h0M257.6 364.6h0M254.7 369.6h0M235.9 381.1h0M260.8 356.5h0M266.4 354.2h0M248.0 368.8h0M260.2 354.6h0M251.0 372.9h0M259.6 361.8h0M253.4 366.6h0M243.6 362.1h0M265.6 355.9h0M234.1 369.0h0M246.0 379.7h0M259.0 356.5h0M252.7 366.5h0M253.7 371.2h0M254.2 361.8h0M256.3 358.4h0M258.2 365.6h0M247.2 368.4h0M250.0 363.6h0M254.4 368.6h0M255.9 364.2h0M241.0 371.0h0M265.4 348.3h0M266.4 356.9h0M258.5 357.8h0M250.5 369.1h0M264.8 354.2h0M255.1 367.0h0M249.4 372.3h0M273.6 349.5h0M237.6 352.7h0M267.1 355.4h0M259.0 355.5h0M261.6 356.3h0M263.6 352.3h0M258.7 362.8h0M255.6 359.5h0M272.3 350.7h0M244.6 379.0h0M269.5 346.6h0M258.0 350.2h0M250.9 367.0h0M262.8 351.1h0M253.6 364.7h0M262.0 349.0h0M266.5 356.7h0M255.9 361.5h0M250.9 367.5h0M268.2 355.4h0M251.5 360.2h0M246.8 375.5h0M262.2 362.4h0M265.7 356.6h0M252.3 365.9h0M247.1 371.6h0M265.1 349.9h0M247.5 376.4h0M244.7 374.7h0M242.8 359.6h0M260.9 358.9h0M265.5 358.9h0M254.4 368.2h0M264.9 353.1h0M249.7 374.6h0M253.5 367.0h0M257.3 366.6h0M264.0 358.3h0M250.8 372.7h0M249.5 367.9h0M253.4 366.3h0M265.9 349.4h0M253.1 371.9h0M262.5 351.3h0M258.6 356.7h0M250.7 365.7h0M238.5 382.5h0M257.2 359.2h0M233.0 378.6h0M260.4 358.6h0M258.9 363.7h0M258.5 361.1h0M241.4 383.2h0M250.7 370.2h0M252.2 359.1h0M260.4 360.3h0M265.4 346.2h0M259.6 358.7h0M253.7 361.7h0M254.5 357.6h0M257.7 366.9h0M256.3 363.2h0M254.4 361.9h0M256.3 368.6h0M258.7 359.7h0M249.3 365.2h0M251.4 369.8h0M250.9 359.0h0M248.3 372.5h0M249.5 364.6h0M257.0 364.0h0M264.1 354.7h0M260.4 363.1h0M250.5 355.4h0M269.6 353.8h0M266.3 352.8h0M234.4 365.8h0M256.9 355.0h0M270.6 350.1h0M251.0 372.4h0M268.2 348.7h0M254.6 363.6h0M261.2 363.1h0M253.7 365.8h0M265.9 357.3h0M251.8 358.5h0M262.5 348.3h0M257.7 361.7h0M245.0 376.1h0M247.7 373.9h0M243.7 366.4h0M237.6 387.1h0M246.3 364.4h0M239.1 386.7h0M251.3 363.9h0M247.8 375.0h0M251.1 371.7h0M259.6 360.6h0M255.9 361.7h0M263.3 360.3h0M254.4 353.8h0M243.1 374.3h0M247.1 369.5h0M240.6 364.8h0M249.4 364.7h0M265.0 347.6h0M260.5 359.0h0M269.0 354.0h0M250.0 363.2h0M252.2 371.6h0M269.0 344.7h0M247.0 359.6h0M250.7 368.8h0M248.5 376.9h0M253.9 356.9h0M268.6 353.1h0M243.6 378.8h0M259.0 359.6h0M263.7 351.1h0M243.5 367.0h0M262.8 357.0h0M260.0 357.3h0M260.6 364.0h0M274.3 342.8h0M268.0 350.0h0M252.1 363.4h0M240.1 367.7h0M272.4 341.6h0M269.7 351.7h0M254.2 368.4h0M243.5 370.6h0M256.4 366.8h0M257.3 366.5h0M246.5 363.2h0M264.9 356.2h0M263.0 358.6h0M257.9 364.8h0M247.7 369.1h0M267.3 356.8h0M256.6 366.6h0M243.3 380.7h0M239.1 381.4h0M268.8 355.6h0M244.9 376.3h0M237.6 382.9h0M241.7 370.5h0M237.2 385.6h0M247.8 376.6h0M266.8 352.2h0M238.6 367.7h0M255.2 355.4h0M265.2 352.9h0M243.8 382.0h0M247.1 366.9h0M254.3 347.9h0M234.2 376.0h0M255.5 369.3h0M252.8 364.5h0M248.3 374.5h0M254.8 350.2h0M254.2 356.0h0M248.2 366.5h0M243.3 381.9h0M248.1 362.9h0M265.4 352.6h0M239.9 368.9h0M244.8 365.9h0M254.2 365.0h0M238.6 373.2h0M240.1 378.6h0M247.4 375.9h0M261.6 348.6h0M250.5 365.2h0M264.6 359.5h0M256.8 367.3h0M256.6 359.6h0M259.4 354.5h0M244.4 368.0h0M274.8 348.9h0M259.9 363.5h0M250.6 364.2h0M274.8 348.1h0M261.7 352.7h0M252.7 353.6h0M246.4 374.1h0M241.1 367.5h0M259.8 349.2h0M241.3 371.4h0M249.8 369.6h0M249.7 369.4h0M271.8 342.3h0M239.3 382.2h0M236.5 376.2h0M265.5 348.8h0M271.1 352.8h0M247.9 371.1h0M250.4 372.3h0M248.7 373.7h0M258.6 360.2h0M257.2 363.9h0M248.7 357.2h0M255.7 366.4h0M257.9 361.1h0M241.3 366.9h0M251.4 372.6h0M243.6 370.0h0M258.8 351.5h0M262.8 361.9h0M246.8 372.0h0M256.5 365.3h0M259.1 364.3h0M239.1 370.0h0M242.7 374.1h0M242.2 360.1h0M259.9 363.5h0M264.2 355.9h0M244.2 376.2h0M257.2 348.4h0M241.2 384.0h0M247.1 364.1h0M267.1 349.4h0M252.2 367.2h0M249.6 362.4h0M241.7 371.8h0M258.6 361.2h0M249.3 372.5h0M255.3 355.3h0M265.0 358.6h0M260.4 355.3h0M262.0 356.1h0M263.7 346.4h0M262.0 353.0h0M255.1 366.7h0M266.2 350.2h0M258.3 363.4h0M250.5 370.0h0M243.8 377.3h0M266.5 352.6h0M268.7 351.2h0M261.1 358.6h0M243.2 372.3h0M268.3 356.1h0M249.6 362.6h0M267.9 350.7h0M255.9 350.9h0M254.9 356.9h0M252.6 370.5h0M256.6 367.8h0M247.0 353.1h0M266.2 354.3h0M251.7 359.5h0M263.3 344.3h0M249.8 358.8h0M247.5 375.8h0M260.7 364.2h0M256.2 364.5h0M273.2 336.6h0M256.0 368.7h0M257.7 364.5h0M253.7 349.5h0M252.5 371.2h0M248.3 370.6h0M263.0 361.2h0M259.5 351.9h0M268.4 351.0h0M260.1 345.0h0M246.4 366.8h0M263.4 361.3h0M254.6 360.5h0M237.6 379.6h0M243.9 366.5h0M241.1 375.0h0M260.5 360.0h0M239.5 383.4h0M231.4 385.1h0M243.4 379.2h0M262.3 360.5h0M251.4 369.1h0M251.9 368.2h0M248.1 369.0h0M240.6 382.0h0M267.4 348.7h0M260.7 359.3h0M249.8 372.8h0M278.0 345.6h0M238.4 385.6h0M248.2 374.5h0M261.5 360.2h0M248.1 360.0h0M266.0 355.3h0M268.6 349.0h0M256.5 352.1h0M257.0 351.5h0M250.8 365.2h0M237.0 363.9h0M260.3 353.7h0M259.1 365.4h0M252.0 371.9h0M250.4 367.2h0M263.1 361.7h0M249.6 375.5h0M252.4 355.8h0M258.2 359.2h0M238.5 384.8h0M250.5 374.8h0M253.6 370.0h0M242.0 382.1h0M238.7 380.7h0M260.6 362.6h0M239.4 369.9h0M251.7 368.7h0M257.7 362.7h0M265.2 357.5h0M247.8 366.2h0M262.6 350.9h0M252.3 359.4h0M247.5 371.0h0M253.0 361.9h0M247.1 364.9h0M271.5 341.9h0M242.4 366.5h0M258.0 358.4h0M255.9 364.9h0M254.3 368.1h0M273.9 348.1h0M262.5 361.9h0M255.0 366.1h0M242.5 366.0h0M255.5 365.6h0M257.9 361.3h0M256.5 359.3h0M234.6 379.0h0M265.5 349.4h0M245.1 368.8h0M251.0 366.2h0M262.0 360.0h0M254.1 363.8h0M257.5 366.7h0M266.7 357.6h0M248.0 363.9h0M261.7 353.9h0M256.9 364.9h0M263.4 346.1h0M233.7 387.9h0M265.0 359.8h0M257.2 363.5h0M256.3 366.6h0M255.9 352.4h0M275.6 344.3h0M248.9 373.1h0M245.1 366.8h0M262.4 347.4h0M261.1 362.8h0M265.9 352.1h0M258.0 348.1h0M250.1 352.3h0M254.2 358.2h0M242.8 372.1h0M254.9 350.6h0M255.0 351.5h0M257.1 363.8h0M258.2 361.1h0M258.3 366.6h0M271.1 343.8h0M242.8 377.9h0M267.4 351.2h0M241.0 363.2h0M241.0 374.9h0M262.3 358.9h0M237.9 387.2h0M244.8 371.6h0M253.2 371.0h0M248.2 353.4h0M259.1 360.8h0M242.9 375.1h0M244.2 370.9h0M253.5 368.4h0M247.3 368.3h0M243.5 378.7h0M239.2 367.1h0M262.0 352.8h0M247.0 370.9h0M259.5 365.5h0M264.2 356.7h0M250.8 355.0h0M244.7 372.4h0M253.6 357.7h0M260.1 364.5h0M235.4 383.8h0M253.9 344.6h0M257.5 356.6h0M246.7 371.8h0M255.7 367.8h0M255.9 365.5h0M255.6 368.2h0M260.7 364.1h0M251.3 365.2h0M243.0 377.1h0M251.5 369.7h0M252.8 372.4h0M259.4 362.1h0M259.4 357.8h0M252.2 363.0h0M265.5 356.3h0M244.8 367.7h0M239.4 380.1h0M257.5 364.6h0M242.5 375.3h0M250.7 373.3h0M244.3 368.2h0M238.5 386.9h0M254.9 369.1h0M265.8 356.4h0M261.8 357.5h0M245.2 366.2h0M257.4 367.3h0M274.8 348.8h0M252.4 361.1h0M244.5 367.5h0M263.8 354.1h0M263.8 349.1h0M262.0 362.5h0M257.1 351.2h0M247.5 363.8h0M251.1 359.9h0M257.6 352.5h0M266.8 356.7h0M239.1 369.4h0M263.2 361.3h0M264.8 352.8h0M248.7 361.6h0M250.5 370.4h0M251.9 373.5h0M250.1 363.5h0M234.5 376.7h0M231.9 383.1h0M253.0 371.7h0M272.8 351.4h0M259.6 362.0h0M253.7 364.4h0M250.2 372.4h0M251.0 366.4h0M251.5 358.9h0M260.6 360.8h0M253.4 353.2h0M269.8 354.7h0M248.5 347.4h0M263.0 356.8h0M252.3 369.9h0M258.6 358.1h0M268.4 346.2h0M264.7 360.1h0M239.9 377.0h0M249.3 374.0h0M261.7 355.3h0M244.2 379.6h0M249.0 372.8h0M254.1 363.0h0M250.5 361.4h0M265.0 358.0h0M260.8 359.4h0M256.8 359.4h0M234.7 373.1h0M258.0 357.6h0M258.6 365.0h0M249.2 373.1h0M252.2 369.6h0M254.4 362.7h0M255.7 352.1h0M250.6 367.1h0M252.3 356.3h0M264.1 351.2h0M246.7 372.9h0M249.8 365.0h0M254.4 366.7h0M251.6 369.2h0M260.6 360.5h0M248.2 374.8h0M245.0 371.3h0M272.3 350.6h0M249.3 371.2h0M262.2 353.5h0M251.3 370.5h0M246.6 370.7h0M250.7 353.8h0M253.3 367.6h0M260.7 363.0h0M253.5 371.7h0M257.1 358.1h0M243.8 374.8h0M257.2 363.6h0M244.2 365.6h0M257.6 361.8h0M248.7 368.3h0M248.4 351.9h0M238.5 378.1h0M260.9 361.3h0M248.1 349.2h0M269.7 354.0h0M233.8 392.0h0M253.3 364.5h0M264.0 356.8h0M248.5 375.7h0M256.7 368.0h0M259.8 359.9h0M249.7 370.4h0M262.3 361.4h0M252.7 354.6h0M255.9 351.0h0M255.1 361.2h0M246.1 373.8h0M235.8 385.0h0M248.2 373.2h0M260.4 343.8h0M248.1 371.6h0M251.9 372.0h0M268.2 354.7h0M266.5 356.0h0M242.5 380.4h0M265.8 347.3h0M242.5 368.0h0M246.2 370.3h0M245.1 373.4h0M255.2 366.7h0M260.8 361.8h0M264.4 358.6h0M259.1 347.5h0M252.5 371.8h0M252.0 368.1h0M265.9 356.7h0M255.1 369.3h0M262.3 361.8h0M236.1 387.5h0M236.8 380.3h0M248.1 374.6h0M249.3 368.2h0M251.0 369.7h0M267.7 355.4h0M248.4 370.9h0M263.4 351.9h0M261.1 353.8h0M254.8 366.4h0M264.0 347.0h0M249.5 369.9h0M265.3 336.1h0M257.6 355.9h0M251.3 357.2h0M247.5 375.1h0M261.7 360.1h0M244.9 376.7h0M261.1 362.0h0M265.0 358.9h0M249.1 365.9h0M244.7 364.2h0M246.7 367.3h0M241.6 370.4h0M270.6 349.0h0M265.8 358.5h0M248.8 372.1h0M259.9 355.0h0M269.7 345.9h0M263.3 357.2h0M251.0 372.2h0M249.9 370.7h0M246.1 377.7h0M249.9 364.5h0M256.6 359.5h0M242.9 380.2h0M242.3 379.9h0M254.1 368.1h0M266.7 353.2h0M251.0 365.1h0M249.1 375.8h0M247.0 356.1h0M247.2 376.4h0M236.8 375.0h0M254.7 349.5h0M236.0 378.4h0M274.8 345.5h0M240.2 379.9h0M258.3 363.6h0M240.9 367.4h0M254.7 345.8h0M267.3 356.5h0M252.0 365.1h0M236.9 387.0h0M259.2 350.8h0M241.6 378.4h0M270.6 344.8h0M252.1 371.7h0M255.4 369.2h0M258.7 346.7h0M247.5 363.7h0M261.5 348.4h0M247.1 360.3h0M263.5 355.0h0M245.3 371.7h0M245.2 374.3h0M260.2 359.1h0M258.8 360.7h0M252.4 367.1h0M270.3 353.5h0M253.0 355.5h0M255.8 353.2h0M250.3 364.1h0M247.8 367.5h0M257.3 363.8h0M252.9 371.6h0M250.4 358.8h0M260.3 349.5h0M246.6 369.5h0M260.7 362.2h0M265.0 348.3h0M254.5 361.2h0M266.4 357.9h0M265.5 350.2h0M260.4 354.8h0M231.9 391.1h0M258.6 360.7h0M257.4 356.7h0M268.6 351.1h0M241.4 373.7h0M250.7 359.9h0M244.7 376.8h0M265.9 353.0h0M250.6 372.0h0M259.4 358.4h0M261.3 354.4h0M263.6 356.5h0M264.9 357.6h0M249.5 370.0h0M261.0 359.8h0M246.4 376.0h0M262.1 362.0h0M267.0 349.6h0M251.5 372.4h0M255.1 367.8h0" stroke="#e8292b" stroke-width="1.45" stroke-linecap="round" fill="none"/><path d="M267.9 343.9h0M267.8 349.4h0M270.0 345.5h0M267.0 352.0h0M241.6 378.0h0M242.0 373.3h0M241.1 384.5h0M264.9 354.4h0M264.8 347.1h0M248.2 363.3h0M259.3 364.9h0M252.5 354.4h0M263.5 361.1h0M251.0 371.2h0M261.1 356.3h0M239.1 383.8h0M264.4 359.2h0M260.9 353.5h0M252.7 366.5h0M259.5 362.7h0M248.9 375.2h0M235.9 381.1h0M259.0 355.5h0M258.7 362.8h0M262.8 351.1h0M268.2 355.4h0M254.4 368.2h0M250.8 372.7h0M258.6 356.7h0M252.2 359.1h0M250.9 359.0h0M248.3 372.5h0M270.6 350.1h0M268.2 348.7h0M245.0 376.1h0M237.6 387.1h0M259.6 360.6h0M254.4 353.8h0M265.0 347.6h0M269.0 354.0h0M259.0 359.6h0M240.1 367.7h0M272.4 341.6h0M248.3 374.5h0M254.2 365.0h0M256.6 359.6h0M274.8 348.9h0M259.9 363.5h0M262.8 361.9h0M259.1 364.3h0M244.2 376.2h0M258.6 361.2h0M263.7 346.4h0M268.7 351.2h0M259.5 351.9h0M237.6 379.6h0M243.9 366.5h0M267.4 348.7h0M259.1 365.4h0M250.4 367.2h0M251.7 368.7h0M252.3 359.4h0M253.0 361.9h0M271.5 341.9h0M258.0 358.4h0M256.9 364.9h0M275.6 344.3h0M245.1 366.8h0M258.3 366.6h0M241.0 374.9h0M248.2 353.4h0M244.2 370.9h0M259.5 365.5h0M246.7 371.8h0M255.7 367.8h0M255.9 365.5h0M265.8 356.4h0M261.8 357.5h0M257.4 367.3h0M247.5 363.8h0M252.3 356.3h0M249.8 365.0h0M249.3 371.2h0M250.7 353.8h0M260.4 343.8h0M242.5 368.0h0M255.2 366.7h0M236.1 387.5h0M263.4 351.9h0M244.7 364.2h0M259.2 350.8h0M253.0 355.5h0M246.6 369.5h0M231.9 391.1h0M257.4 356.7h0M244.7 376.8h0" stroke="#ee6248" stroke-width="1.45" stroke-linecap="round" fill="none"/><path d="M250.0 381.4h0M252.4 385.6h0M279.0 341.8h0M267.2 371.3h0M255.5 399.0h0M233.4 380.2h0M258.8 374.1h0M274.9 344.7h0M270.3 362.7h0M258.7 344.0h0M285.3 341.4h0M262.6 378.4h0M246.5 382.5h0M263.8 366.3h0M260.1 365.5h0M258.4 381.3h0M260.6 378.6h0M246.5 385.6h0M260.7 374.0h0M266.2 377.6h0M255.5 373.1h0M250.9 355.4h0M262.5 374.6h0M271.8 354.0h0M267.2 370.7h0M256.9 383.3h0M260.0 375.2h0M251.9 376.3h0M283.3 349.3h0M266.9 356.0h0M240.9 387.1h0M271.4 359.9h0M268.7 360.3h0M261.3 367.2h0M252.7 382.1h0M266.6 371.4h0M274.6 375.5h0M249.2 386.5h0M261.7 364.2h0M235.0 402.4h0M270.4 371.3h0M276.8 351.6h0M269.1 350.0h0M277.9 349.6h0M267.6 374.3h0M259.3 386.0h0M262.9 388.3h0M252.7 380.8h0M268.7 357.3h0M251.1 376.9h0M268.6 356.9h0M263.5 375.8h0M246.7 388.6h0M257.0 372.7h0M259.5 365.5h0M275.5 346.4h0M266.2 356.3h0M253.7 374.0h0M261.6 362.1h0M248.0 371.9h0M283.8 348.4h0M275.1 343.5h0M263.6 372.2h0M276.0 369.4h0M254.9 373.1h0M262.4 378.0h0M280.8 360.6h0M265.0 367.4h0M247.1 355.1h0M267.0 374.6h0M233.8 396.2h0M248.6 381.8h0M274.1 375.0h0M268.7 372.3h0M258.6 387.1h0M248.8 394.4h0M251.0 389.6h0M261.6 367.5h0M278.7 344.3h0M242.0 377.8h0M284.2 352.5h0M256.7 373.2h0M279.1 356.4h0M247.1 387.5h0M242.9 375.0h0M280.3 356.0h0M251.5 377.3h0M264.7 369.8h0M264.7 364.8h0M253.3 374.4h0M268.3 368.9h0M268.2 370.5h0M259.8 395.5h0M264.6 360.9h0M259.9 369.8h0M260.2 385.8h0M265.5 383.9h0M267.3 360.7h0M276.7 352.1h0M238.6 397.3h0M269.0 369.8h0M277.2 341.2h0M265.8 371.1h0M244.0 389.8h0M255.8 356.2h0M252.8 351.8h0M268.0 341.4h0M269.4 385.5h0M269.2 359.7h0M274.9 341.2h0M272.0 345.5h0M272.4 359.8h0M263.4 371.3h0M255.0 374.4h0M258.6 392.2h0M268.3 378.5h0M245.0 377.3h0M279.6 373.7h0M255.4 373.6h0M277.5 381.4h0M274.4 351.4h0M278.5 349.6h0M281.3 372.6h0M252.9 364.6h0M243.7 372.2h0M260.8 371.0h0M261.8 372.6h0M264.7 373.5h0M261.4 369.0h0M258.3 359.7h0M252.8 375.7h0M274.2 357.2h0M247.0 380.1h0M264.9 383.9h0M239.5 390.4h0M253.2 396.2h0M262.9 381.4h0M264.7 361.4h0M279.1 339.6h0M292.3 362.7h0M289.9 345.0h0M245.0 381.7h0M258.2 373.5h0M280.2 358.9h0M248.6 381.8h0M264.1 365.9h0M257.7 366.1h0M276.3 356.6h0M270.9 354.7h0M272.5 353.7h0M268.6 369.3h0M269.4 367.6h0M285.8 349.8h0M245.8 381.8h0M265.3 341.2h0M249.2 381.3h0M268.7 374.5h0M272.4 362.8h0M260.1 369.7h0M240.4 389.9h0M264.9 362.6h0M290.5 353.6h0M257.8 369.8h0M248.8 376.7h0M244.0 393.7h0M259.6 371.8h0M272.3 347.1h0M263.5 366.4h0M251.1 374.3h0M261.9 372.2h0M262.7 362.6h0M271.7 356.8h0M263.8 363.0h0M253.3 372.3h0M255.2 360.2h0M272.1 349.0h0M270.9 345.0h0M249.6 403.0h0M266.6 360.7h0M250.6 382.2h0M256.6 366.5h0M253.7 377.4h0M253.5 381.8h0M265.3 378.9h0M274.7 365.0h0M255.5 383.6h0M266.6 359.8h0M273.4 349.4h0M245.0 381.8h0M252.9 383.2h0M277.7 358.6h0M259.3 367.0h0M256.5 354.0h0M261.0 361.1h0M259.6 370.4h0M274.2 389.9h0M266.0 370.2h0M271.2 363.7h0M243.0 371.8h0M248.7 385.6h0M244.5 373.7h0M237.1 377.0h0M266.0 378.1h0M277.4 326.5h0M251.6 377.9h0M246.3 370.2h0M259.6 367.8h0M257.8 370.4h0M272.3 353.0h0M263.1 384.8h0M253.6 373.6h0M288.6 342.3h0M257.3 368.9h0M262.3 377.5h0M272.2 349.6h0M261.8 389.9h0M263.5 372.5h0M277.5 366.0h0M268.8 358.1h0M287.2 358.1h0M269.8 361.0h0M269.3 373.4h0M238.7 392.5h0M261.1 371.1h0M269.2 359.0h0M270.3 355.0h0M267.2 370.2h0M256.6 387.5h0M273.1 366.0h0M263.8 361.5h0M258.1 378.5h0M252.6 367.2h0M248.0 386.6h0M266.5 358.6h0M259.2 374.4h0M259.0 379.9h0M260.0 368.7h0M265.4 351.5h0M251.2 377.1h0M255.4 377.0h0M274.7 351.6h0M245.5 378.2h0M273.0 335.9h0M274.2 365.5h0M296.4 332.7h0M274.5 360.6h0M287.3 346.9h0M264.9 367.8h0M271.1 368.1h0M254.1 379.8h0M267.3 367.3h0M279.1 346.2h0M253.4 376.7h0M263.4 375.9h0M280.9 361.8h0M277.8 358.7h0M259.7 387.4h0M267.4 367.9h0M251.0 391.5h0M253.5 379.1h0M261.7 375.0h0M255.5 373.3h0M272.2 360.0h0M280.4 355.8h0M271.8 356.1h0M256.2 371.2h0M262.6 365.8h0M274.7 345.1h0M277.5 375.9h0M252.8 377.8h0M247.2 384.7h0M258.6 368.7h0M254.4 351.9h0M263.9 379.8h0M273.2 354.1h0M293.3 372.9h0M277.3 361.6h0M250.4 390.2h0M262.3 365.3h0M286.4 334.6h0M264.1 367.4h0M261.0 382.0h0M263.5 366.1h0M297.1 351.2h0M265.6 375.7h0M258.5 370.7h0M270.7 359.6h0M238.8 393.8h0M287.4 355.0h0M261.6 367.2h0M257.8 375.8h0M279.8 347.5h0M264.7 381.4h0M273.6 344.4h0M285.3 355.3h0M250.8 370.5h0M268.0 359.7h0M273.5 352.4h0M264.8 353.1h0M293.7 356.0h0M260.8 381.9h0M260.6 385.9h0M264.5 359.4h0M260.4 364.8h0M253.3 349.3h0M253.5 366.5h0M260.1 364.5h0M247.7 391.1h0M268.9 363.0h0M271.6 373.0h0M267.1 372.5h0M255.9 380.5h0M267.8 372.2h0M263.1 384.9h0M265.0 380.1h0M269.6 389.6h0M267.3 364.8h0M268.7 365.4h0M283.6 341.8h0M278.5 368.0h0M247.7 377.7h0M270.1 363.7h0M252.5 375.9h0M282.4 338.0h0M255.6 370.6h0M282.2 364.6h0M279.1 359.8h0M270.8 375.8h0M250.7 380.4h0M261.1 382.6h0M269.7 345.5h0M248.2 382.4h0M259.0 379.4h0M251.5 384.7h0M254.1 372.1h0M253.9 385.0h0M276.1 354.9h0M260.6 387.6h0M287.8 354.8h0M269.8 357.2h0M259.4 372.3h0M277.9 357.6h0M256.7 349.0h0M244.9 379.5h0M266.0 366.2h0M257.8 370.5h0M255.0 373.2h0M259.8 350.0h0M261.9 374.5h0M247.5 391.2h0M265.3 372.1h0M275.5 348.3h0M284.9 362.1h0M252.1 376.2h0M272.4 356.3h0M269.2 357.2h0M286.1 373.1h0M283.0 357.6h0M265.1 367.3h0M249.7 385.1h0M262.3 344.6h0M275.0 358.4h0M265.7 361.9h0M267.6 366.2h0M295.5 339.1h0M261.2 355.6h0M269.0 382.5h0M242.3 369.2h0M264.0 373.9h0M252.0 365.3h0M253.7 386.9h0M273.2 373.9h0M238.4 395.6h0M280.7 354.8h0M276.3 355.3h0M261.1 384.5h0M268.7 368.5h0M274.9 360.8h0M265.5 376.1h0M252.4 388.1h0M261.0 380.1h0M257.9 386.1h0M252.9 367.8h0M272.4 358.6h0M255.8 373.4h0M240.2 393.6h0M248.7 383.2h0M266.5 365.2h0M263.2 384.8h0M275.9 355.9h0M257.1 377.3h0M256.5 361.7h0M260.2 382.2h0M272.6 351.6h0M273.3 364.5h0M273.7 363.9h0M250.9 372.9h0M264.0 370.6h0M259.5 374.2h0M257.3 371.3h0M283.9 363.6h0M256.1 381.7h0M267.3 371.2h0M259.6 358.5h0M267.7 343.2h0M286.4 367.8h0M245.7 393.0h0M284.4 359.5h0M260.1 387.9h0M258.5 365.8h0M273.8 366.3h0M265.2 371.0h0M267.7 374.0h0M267.5 370.6h0M263.5 368.2h0M275.6 349.3h0M278.9 348.6h0M259.1 397.3h0M261.0 362.3h0M257.1 370.6h0M266.2 367.1h0M251.4 387.4h0M260.2 374.9h0M268.6 371.0h0M268.9 358.7h0M285.3 360.2h0M266.0 366.9h0M253.3 377.3h0M297.3 355.0h0M268.0 357.6h0M248.0 376.5h0M285.0 333.9h0M292.8 339.8h0M287.1 337.1h0M290.5 350.9h0M252.3 374.2h0M283.4 355.1h0M287.2 351.7h0M260.6 371.2h0M256.6 359.7h0M272.2 333.2h0M261.5 363.0h0M270.9 376.1h0M258.4 380.9h0M271.4 382.2h0M256.6 370.9h0M282.5 353.5h0M252.8 378.9h0M271.3 362.5h0M271.4 384.1h0M263.7 370.5h0M251.4 390.5h0M274.0 370.6h0M270.1 364.8h0M273.5 352.6h0M269.2 375.6h0M268.3 361.3h0M246.2 394.7h0M252.3 399.9h0M271.7 357.8h0M265.1 380.2h0M272.8 351.1h0M257.1 377.1h0M267.2 375.9h0M283.2 336.8h0M257.8 370.5h0M263.0 387.1h0M273.8 367.2h0M260.0 392.0h0M266.2 363.8h0M264.4 368.6h0M246.0 396.0h0M275.5 343.5h0M256.7 357.5h0M262.1 378.9h0M259.5 372.5h0M272.4 353.9h0M263.8 366.6h0M282.2 342.5h0M246.9 372.4h0M270.0 338.1h0M274.1 362.9h0M269.8 382.5h0M257.0 356.3h0M255.7 372.4h0M258.6 372.5h0M249.8 366.2h0M267.0 359.9h0M278.8 354.8h0M253.9 386.1h0M248.6 382.6h0M257.9 370.8h0M262.6 372.0h0M268.0 367.0h0M276.2 366.5h0M289.6 345.5h0M282.0 362.4h0M281.4 366.9h0M261.6 369.6h0M267.4 365.2h0M278.2 358.2h0M272.7 363.3h0M261.4 363.7h0M270.6 379.1h0M263.0 372.9h0M281.6 331.0h0M273.4 331.4h0M249.5 371.0h0M294.9 333.4h0M250.0 389.2h0M239.6 377.7h0M254.9 386.8h0M291.8 341.0h0M270.7 366.7h0M275.4 357.6h0M265.6 366.9h0M251.0 383.4h0M294.2 348.4h0M261.9 369.3h0M278.3 351.3h0M253.5 389.3h0M245.5 392.6h0M248.9 383.9h0M274.3 373.1h0M282.3 360.2h0M252.8 373.6h0M280.2 374.0h0M258.5 390.2h0M262.8 372.6h0M247.0 388.9h0M273.2 368.0h0M274.5 374.8h0M281.9 349.5h0M272.0 355.9h0M256.6 372.8h0M263.4 371.4h0M265.0 357.9h0M260.2 367.1h0M270.4 349.5h0M268.5 369.4h0M276.4 344.1h0M253.4 369.9h0M261.9 368.7h0M269.0 358.6h0M282.8 346.7h0M270.0 346.6h0M255.2 391.6h0M256.2 360.7h0M276.0 362.7h0M254.4 369.3h0M266.0 374.3h0M251.8 377.2h0M279.8 360.7h0M261.6 374.8h0M274.6 371.4h0M277.1 363.4h0M252.7 387.0h0M269.4 362.6h0M244.8 387.6h0M254.8 381.8h0M243.5 388.1h0M237.1 402.2h0M253.9 379.0h0M252.4 387.7h0M245.7 386.2h0M270.2 354.9h0M266.3 354.8h0M270.3 356.2h0M243.9 392.8h0M250.6 369.8h0M268.4 363.4h0M261.3 358.0h0M253.0 381.9h0M263.3 382.1h0M264.5 343.6h0M263.1 376.4h0M274.2 373.0h0M271.7 359.8h0M279.5 352.3h0M255.1 371.3h0M249.6 380.0h0M272.9 371.6h0M251.0 365.7h0M262.1 367.5h0M273.7 383.0h0M254.1 378.7h0M271.7 372.4h0M263.9 363.7h0M279.7 337.1h0M254.0 372.8h0M263.7 364.2h0M265.0 381.2h0M256.2 369.0h0M262.9 378.7h0M245.7 396.1h0M259.3 362.8h0M270.6 375.7h0M244.7 396.0h0M282.9 359.1h0M248.1 383.4h0M256.6 369.9h0M270.6 350.8h0M236.5 395.8h0M262.2 372.6h0M267.9 364.8h0M284.8 350.4h0M261.7 369.0h0M267.3 360.6h0M257.8 370.4h0M235.2 398.5h0M286.3 364.2h0M275.4 363.9h0M280.6 333.7h0M248.5 387.3h0M258.5 369.1h0M260.6 370.8h0M266.0 374.9h0M247.7 388.5h0M255.7 381.8h0M262.5 342.0h0M260.3 378.2h0M281.0 360.9h0M251.9 371.4h0M259.6 358.9h0M275.2 371.3h0M288.1 356.9h0M251.6 382.2h0M264.8 367.0h0M266.1 371.1h0M283.1 348.1h0M255.1 386.3h0M263.4 388.0h0M245.9 382.4h0M267.7 355.9h0M262.1 374.9h0M280.0 362.9h0M269.7 349.9h0M254.5 373.6h0M259.8 375.1h0M285.3 340.5h0M262.6 374.8h0M248.4 368.5h0M262.1 377.0h0M256.2 377.8h0M269.7 364.2h0M272.1 345.5h0M248.7 393.0h0M248.8 369.8h0M262.9 368.7h0M265.9 357.2h0M268.1 371.0h0M275.8 356.3h0M246.7 386.4h0M257.0 368.4h0M239.9 393.9h0M272.0 366.3h0M258.9 381.7h0M276.5 352.5h0M264.0 363.1h0M257.1 369.7h0M269.5 361.3h0M255.0 388.2h0M250.6 386.1h0M268.1 361.1h0M243.6 382.8h0M272.3 356.8h0M260.9 368.0h0M265.6 361.5h0M244.9 376.3h0M256.4 376.4h0M274.2 340.7h0M249.4 386.2h0M284.5 351.4h0M269.7 368.9h0M265.0 361.5h0M268.1 350.3h0M254.9 380.3h0M279.9 359.5h0M274.8 352.8h0M252.7 374.0h0M263.6 378.5h0M257.0 379.0h0M248.5 391.4h0M247.6 382.1h0M255.2 371.6h0M245.4 388.7h0M278.7 346.3h0M259.8 376.6h0M266.9 373.3h0M283.5 353.7h0M250.0 382.0h0M268.8 366.7h0M262.3 381.2h0M266.9 365.7h0M285.3 349.6h0M257.3 370.6h0M263.2 383.7h0M283.8 348.8h0M257.6 372.1h0M282.9 364.1h0M288.9 364.8h0M266.7 353.4h0M268.2 367.0h0M276.9 342.9h0M268.1 385.6h0M254.3 376.1h0M242.4 385.6h0M256.0 382.2h0M269.6 349.0h0M275.3 359.7h0M255.1 370.2h0M251.0 373.3h0M263.3 382.6h0M240.6 402.2h0M296.5 345.1h0M239.7 386.4h0M270.7 354.3h0M264.3 386.1h0M264.9 374.9h0M255.6 378.1h0M267.6 361.1h0M254.2 379.2h0M263.4 375.4h0M244.6 391.7h0M253.4 392.1h0M258.9 380.0h0M257.2 378.8h0M267.8 362.0h0M259.7 364.6h0M269.7 355.9h0M262.0 374.4h0M265.7 359.5h0M275.1 341.7h0M249.8 362.2h0M252.2 354.7h0M282.1 345.9h0M276.3 367.5h0M258.4 353.9h0M272.3 370.2h0M275.6 337.5h0M248.1 386.6h0M257.4 374.8h0M260.1 379.4h0M281.2 352.0h0M289.1 364.3h0M272.8 346.7h0M268.5 374.9h0M270.4 368.7h0M264.4 361.8h0M266.5 363.7h0M242.9 398.2h0M267.9 371.7h0M277.9 368.9h0M271.5 348.4h0M303.4 332.1h0M279.7 357.9h0M259.6 359.8h0M263.5 367.9h0M275.9 351.1h0M283.4 349.5h0M273.4 357.8h0M265.8 366.0h0M245.7 389.6h0M273.0 371.2h0M279.3 337.6h0M263.5 370.9h0M256.6 386.5h0M261.6 370.1h0M278.2 345.6h0M258.3 369.6h0M271.0 347.6h0M241.1 388.7h0M247.5 366.4h0M258.2 371.6h0M269.4 345.4h0M256.9 380.7h0M271.2 354.5h0M240.7 380.5h0M266.2 361.8h0M264.6 376.2h0M259.2 368.6h0M274.3 374.7h0M255.6 374.6h0M257.5 369.1h0M264.4 367.0h0M285.5 335.8h0M291.4 351.6h0M268.4 370.9h0M269.4 357.1h0M267.0 374.2h0M254.9 369.8h0M258.1 369.7h0M251.8 393.5h0M250.0 384.1h0M251.6 360.2h0M269.3 366.1h0M244.3 386.5h0M258.6 363.0h0M236.3 402.7h0M273.9 376.3h0M273.9 356.1h0M285.8 350.8h0M252.5 379.9h0M286.4 373.1h0M264.0 362.8h0M249.2 378.7h0M268.1 367.1h0M262.3 378.9h0M275.3 353.5h0M244.3 369.1h0M262.3 366.4h0M257.7 371.4h0M254.9 389.8h0M243.2 386.6h0M276.8 342.7h0M255.3 370.3h0M274.5 354.1h0M252.4 355.3h0M258.7 363.4h0M259.8 381.0h0M258.5 381.9h0M273.5 369.1h0M291.8 357.6h0M267.7 359.2h0M261.5 389.4h0M274.1 364.1h0M264.3 363.4h0M234.6 402.9h0M263.5 343.1h0M258.2 379.1h0M281.1 377.5h0M278.3 364.3h0M270.5 363.3h0M260.2 370.1h0M280.7 366.6h0M267.8 368.6h0M261.6 365.5h0M267.6 367.6h0M251.8 373.0h0M259.8 376.7h0M269.5 359.3h0M275.3 363.1h0M253.8 374.7h0M272.7 356.6h0M245.7 379.1h0M262.7 390.2h0M281.4 344.5h0M261.7 366.1h0M269.2 354.6h0M258.5 380.9h0M279.0 362.0h0M258.8 365.9h0M276.7 359.1h0M275.1 355.3h0M259.3 381.2h0M262.2 376.1h0M261.8 371.4h0M277.4 359.4h0M265.6 368.4h0M276.1 366.7h0M281.3 337.1h0M264.9 376.6h0M264.6 362.9h0M250.9 374.6h0M263.1 366.2h0M273.2 359.7h0M259.5 369.0h0M257.7 356.6h0M258.6 382.0h0M269.3 368.1h0M270.1 361.1h0M281.0 345.5h0M278.8 365.7h0M271.9 368.3h0M254.9 372.5h0M299.2 344.5h0M269.4 382.7h0M272.8 379.3h0M249.9 371.4h0M274.7 367.1h0M244.3 387.6h0M260.0 365.8h0M264.4 362.9h0M259.2 358.8h0M250.3 362.4h0M268.5 356.8h0M273.0 359.0h0M261.0 373.2h0M274.2 352.7h0M240.5 396.3h0M231.7 398.4h0M253.7 390.0h0M244.4 382.4h0M277.4 347.6h0M251.4 393.7h0M280.1 368.8h0M284.3 361.3h0M271.5 370.6h0M245.6 390.4h0M270.1 374.0h0M260.8 364.7h0M288.8 359.5h0M255.4 366.6h0M272.2 365.7h0M271.4 353.7h0M249.8 377.8h0M271.4 365.5h0M244.1 393.9h0M251.1 368.0h0M285.8 350.6h0M254.5 390.9h0M257.0 371.6h0M275.0 357.4h0M265.7 389.6h0M274.6 356.0h0M280.2 356.7h0M272.7 366.7h0M274.1 352.1h0M274.0 363.9h0M245.8 384.7h0M261.5 368.6h0M282.9 354.8h0M260.5 368.9h0M264.9 374.3h0M259.1 378.9h0M259.2 377.8h0M265.1 366.4h0M253.3 389.2h0M250.2 379.6h0M275.4 366.7h0M263.3 375.3h0M260.1 371.3h0M263.1 357.7h0M265.3 374.6h0M272.3 360.6h0M255.3 371.4h0M255.0 390.8h0M270.9 344.2h0M288.6 347.4h0M268.2 375.5h0M264.9 360.8h0M252.0 367.1h0M244.9 384.0h0M260.5 372.5h0M273.4 346.2h0M234.2 390.3h0M253.9 388.8h0M268.7 377.9h0M257.2 362.1h0M257.9 368.5h0M273.1 354.5h0M241.9 379.4h0M258.2 355.3h0M270.0 374.5h0M262.8 373.2h0M264.2 382.7h0M260.2 375.2h0M262.6 372.5h0M257.1 381.0h0M272.6 374.8h0M272.5 374.5h0M254.0 374.6h0M250.6 368.2h0M262.8 379.2h0M268.8 381.2h0M267.8 358.4h0M258.9 374.9h0M286.4 345.2h0M251.8 391.2h0M266.9 366.5h0M272.0 376.8h0M266.9 368.4h0M273.0 364.3h0M265.0 363.2h0M262.0 372.5h0M254.8 377.7h0M272.5 336.1h0M252.9 373.9h0M259.2 371.1h0M280.1 366.7h0M251.6 372.4h0M277.4 372.5h0M244.4 396.9h0M247.3 378.7h0M283.5 348.4h0M253.3 377.7h0M264.9 378.6h0M263.1 362.8h0M272.2 354.9h0M271.5 363.3h0M289.3 328.4h0M263.2 362.1h0M286.0 344.5h0M282.2 357.2h0M279.6 347.3h0M285.8 347.2h0M263.9 373.3h0M260.7 364.5h0M266.7 360.3h0M267.2 343.2h0M266.6 354.5h0M276.6 361.4h0M270.8 355.7h0M254.3 372.8h0M299.3 356.2h0M241.0 396.0h0M266.7 360.4h0M256.8 366.5h0M256.6 389.3h0M258.6 381.5h0M272.2 348.6h0M259.6 363.8h0M273.2 349.8h0M263.1 386.1h0M255.6 377.4h0M261.0 355.0h0M266.2 354.2h0M269.6 354.9h0M277.8 379.7h0M282.0 352.9h0M272.1 364.8h0M264.0 373.9h0M255.6 371.5h0M271.8 355.3h0M280.8 342.2h0M265.4 362.7h0M252.9 375.8h0M257.5 377.5h0M274.6 347.2h0M247.2 381.6h0M282.9 361.6h0M254.9 388.8h0M269.2 369.4h0M245.9 371.1h0M253.2 387.2h0M252.7 368.8h0M275.6 373.7h0M274.7 369.1h0M263.6 368.1h0M249.6 377.4h0M288.8 352.1h0M257.1 378.0h0M277.5 379.8h0M265.1 357.8h0M281.4 341.0h0M248.7 377.8h0M286.6 363.4h0M274.0 390.5h0M264.7 361.3h0M272.6 368.0h0M254.8 364.3h0M256.1 371.8h0M263.6 361.1h0M250.8 376.3h0M277.2 360.1h0M258.3 378.0h0M291.5 355.4h0M268.4 361.9h0M265.0 363.1h0M257.1 374.5h0M274.8 369.1h0M250.8 365.0h0M262.6 371.9h0M249.4 379.8h0M281.4 347.0h0M257.6 352.1h0M288.5 351.4h0M281.7 355.8h0M287.4 351.5h0M239.0 401.9h0M275.9 354.3h0M244.8 390.2h0M237.7 384.8h0M271.9 364.3h0M267.5 362.9h0M274.0 378.1h0M260.5 374.0h0M248.2 381.8h0M273.1 370.1h0M259.9 369.6h0M256.8 379.7h0M235.9 397.0h0M263.1 370.5h0M261.5 369.1h0M253.1 373.4h0M257.6 370.7h0M266.7 367.1h0M245.3 384.0h0M279.8 346.4h0M276.4 350.8h0M277.8 345.4h0M273.1 354.5h0M266.2 362.6h0M265.3 362.2h0M265.5 365.9h0M278.4 370.6h0M283.4 352.9h0M291.7 338.5h0M272.6 388.0h0M273.8 356.7h0M262.7 349.4h0M262.2 370.5h0M262.9 359.4h0M271.3 365.6h0M279.6 367.5h0M267.8 373.6h0M260.7 391.9h0M249.2 379.1h0M271.7 369.9h0M260.8 372.7h0M249.1 381.0h0M285.7 339.8h0M266.0 357.2h0M250.5 385.3h0M269.3 363.1h0M273.8 346.8h0M273.7 390.6h0M267.8 367.1h0M271.2 362.6h0M279.2 369.1h0M242.6 398.3h0M270.4 362.0h0M255.1 386.4h0M264.3 382.6h0M272.5 369.7h0M253.5 381.7h0M275.4 353.0h0M276.6 335.8h0M270.8 358.0h0M270.6 371.7h0M255.1 386.6h0M251.6 398.1h0M260.1 365.1h0M265.3 371.4h0M266.1 377.5h0M269.8 372.2h0M265.7 366.4h0M265.0 382.0h0M279.4 337.0h0" stroke="#595959" stroke-width="1.45" stroke-linecap="round" fill="none"/><path d="M279.6 375.4h0M278.7 368.7h0M285.1 369.0h0M285.7 375.3h0M291.2 373.2h0M297.3 356.6h0M276.6 371.3h0M277.0 392.1h0M287.7 363.0h0M290.7 373.1h0M280.5 367.4h0M306.9 357.1h0M283.4 374.4h0M285.3 389.1h0M274.1 378.1h0M296.7 354.2h0M291.2 364.0h0M289.3 362.9h0M290.6 369.3h0M277.6 367.9h0M286.7 361.7h0M301.3 353.0h0M282.4 380.2h0M296.6 356.2h0M276.9 374.0h0M276.3 379.6h0M267.4 396.2h0M288.1 363.7h0M278.4 378.5h0M278.2 369.9h0M274.3 377.8h0M285.7 365.8h0M298.4 346.4h0M287.5 362.6h0M279.4 378.0h0M299.0 351.3h0M271.2 380.1h0M264.8 397.6h0M298.4 371.4h0M282.6 371.6h0M284.1 373.2h0M266.7 384.2h0M272.9 382.3h0M289.5 373.5h0M279.1 374.0h0M283.7 363.9h0M300.6 353.8h0M285.9 382.0h0M284.3 363.1h0M287.3 376.8h0" stroke="#5064b8" stroke-width="1.45" stroke-linecap="round" fill="none"/><line x1="209.60" y1="427.20" x2="326.90" y2="303.40" stroke="#111" stroke-width="1.3" /><line x1="214.30" y1="432.70" x2="332.80" y2="309.00" stroke="#111" stroke-width="1.3" /></g><line x1="210.20" y1="345.00" x2="210.20" y2="385.00" stroke="#e9302c" stroke-width="0.8" opacity="0.6"/><line x1="249.60" y1="304.00" x2="279.60" y2="304.00" stroke="#e9302c" stroke-width="0.8" opacity="0.5"/><rect x="209.6" y="303.4" width="123.2" height="129.3" fill="none" stroke="#8a8a8a" stroke-width="0.9"/><line x1="206.10" y1="406.40" x2="209.60" y2="406.40" stroke="#333" stroke-width="0.8" /><text x="205.1" y="409.8" font-size="9.6" text-anchor="end" fill="#4d4d4d">10</text><line x1="233.87" y1="432.70" x2="233.87" y2="436.20" stroke="#333" stroke-width="0.8" /><text x="233.9" y="444.5" font-size="9.6" text-anchor="middle" fill="#4d4d4d">10</text><line x1="206.10" y1="367.40" x2="209.60" y2="367.40" stroke="#333" stroke-width="0.8" /><text x="205.1" y="370.8" font-size="9.6" text-anchor="end" fill="#4d4d4d">0</text><line x1="271.20" y1="432.70" x2="271.20" y2="436.20" stroke="#333" stroke-width="0.8" /><text x="271.2" y="444.5" font-size="9.6" text-anchor="middle" fill="#4d4d4d">0</text><line x1="206.10" y1="328.40" x2="209.60" y2="328.40" stroke="#333" stroke-width="0.8" /><text x="205.1" y="331.8" font-size="9.6" text-anchor="end" fill="#4d4d4d">10</text><line x1="308.53" y1="432.70" x2="308.53" y2="436.20" stroke="#333" stroke-width="0.8" /><text x="308.5" y="444.5" font-size="9.6" text-anchor="middle" fill="#4d4d4d">10</text><text x="271.2" y="461.0" font-size="10" text-anchor="middle">log2(Control[P/D])</text><text transform="translate(189.5,369) rotate(-90)" font-size="10" text-anchor="middle" fill="#231f20">Log2(Hypo[P/D])</text><text x="232.0" y="341.5" font-size="9.8" fill="#e8202a">955</text><text x="312.0" y="346.9" font-size="9.8" fill="#777777">3411</text><text x="268.9" y="412.7" font-size="9.8" fill="#4452a8">41</text><rect x="296.20" y="382.80" width="66.00" height="40.50" fill="#ffffff" stroke="#444" stroke-width="0.8"/><text x="301.6" y="392.2" font-size="9.25">3’UTR length:</text><circle cx="304" cy="399.2" r="1.1" fill="#e8654a"/><text x="308.0" y="402.0" font-size="9.2">Shortened</text><circle cx="304" cy="407.7" r="1.1" fill="#555555"/><text x="308.0" y="410.5" font-size="9.2">Unchanged</text><circle cx="304" cy="416.2" r="1.1" fill="#6677c0"/><text x="308.0" y="419.0" font-size="9.2">Lenghtened</text><text x="347.6" y="290.2" font-size="20.5" font-weight="bold">f</text><circle cx="438.9" cy="309" r="39.2" fill="#e6e6e9" stroke="#777" stroke-width="0.7"/><circle cx="453.1" cy="309" r="26.1" fill="#b3b3d6" stroke="#555" stroke-width="0.8"/><text x="412.5" y="312.7" font-size="9.2" text-anchor="middle">1229</text><text x="458.0" y="312.7" font-size="9.2" text-anchor="middle">944</text><text x="485.5" y="312.7" font-size="9.5" text-anchor="middle">11</text><line x1="454.40" y1="317.20" x2="465.70" y2="343.40" stroke="#231f20" stroke-width="0.9" /><text x="470.0" y="342.3" font-size="8.8" font-weight="bold">Shortened</text><text x="470.0" y="353.2" font-size="8.8" font-weight="bold">3’UTR</text><text x="470.0" y="364.1" font-size="8.8" font-weight="bold">(KO &amp; Hypo)</text><text transform="translate(382,307.9) rotate(-90)" font-size="10.7" text-anchor="middle" fill="#231f20">mRNAs with</text><text transform="translate(394.8,350.7) rotate(-90)" font-size="10.7" fill="#231f20">shortened</text><text transform="translate(394.8,296.7) rotate(-90)" font-size="10.7" fill="#231f20">3’UTR</text><circle cx="439" cy="401.6" r="39" fill="#e6e6e9" stroke="#777" stroke-width="0.7"/><circle cx="470.8" cy="401.8" r="24.4" fill="#c2c2e4" stroke="#555" stroke-width="0.8"/><clipPath id="cpv"><circle cx="439" cy="401.6" r="39"/></clipPath><circle cx="470.8" cy="401.8" r="24.4" fill="#acacd2" clip-path="url(#cpv)"/><circle cx="439" cy="401.6" r="39" fill="none" stroke="#777" stroke-width="0.7"/><circle cx="470.8" cy="401.8" r="24.4" fill="none" stroke="#555" stroke-width="0.8"/><text x="416.4" y="403.5" font-size="9.5" text-anchor="middle">72</text><text x="458.7" y="403.5" font-size="9.5" text-anchor="middle">27</text><text x="487.0" y="403.5" font-size="9.5" text-anchor="middle">14</text><text transform="translate(382.6,402.5) rotate(-90)" font-size="10.7" text-anchor="middle" fill="#231f20">mRNAs with</text><text transform="translate(394.6,448.5) rotate(-90)" font-size="10.7" fill="#231f20">lengthened</text><text transform="translate(394.6,387) rotate(-90)" font-size="10.7" fill="#231f20">3’UTR</text><circle cx="400.4" cy="452.3" r="4.9" fill="#d4d4d6" stroke="#444" stroke-width="0.7"/><circle cx="400.4" cy="464.9" r="4.9" fill="#8c8ccc" stroke="#444" stroke-width="0.7"/><text x="408.6" y="456.3" font-size="10">KO vs Control</text><text x="408.6" y="467.8" font-size="10">Hypo vs Control</text><text x="523.8" y="290.6" font-size="20.5" font-weight="bold">g</text><rect x="574.20" y="256.70" width="13.60" height="13.10" fill="#f08052" /><rect x="574.20" y="274.00" width="13.60" height="13.30" fill="#bebebe" /><text x="590.5" y="265.4" font-size="8.8" fill="#333">miRNA-targeted</text><text x="590.5" y="283.0" font-size="8.8" fill="#333">Not-targeted</text><rect x="575.60" y="292.00" width="61.60" height="103.80" fill="#ffffff" stroke="#d0d0d0" stroke-width="0.8"/><line x1="572.50" y1="390.50" x2="575.60" y2="390.50" stroke="#888" stroke-width="0.7" /><text x="572.0" y="393.8" font-size="9" text-anchor="end" fill="#555">0</text><line x1="572.50" y1="367.07" x2="575.60" y2="367.07" stroke="#888" stroke-width="0.7" /><text x="572.0" y="370.4" font-size="9" text-anchor="end" fill="#555">25</text><line x1="572.50" y1="343.65" x2="575.60" y2="343.65" stroke="#888" stroke-width="0.7" /><text x="572.0" y="346.9" font-size="9" text-anchor="end" fill="#555">50</text><line x1="572.50" y1="320.23" x2="575.60" y2="320.23" stroke="#888" stroke-width="0.7" /><text x="572.0" y="323.5" font-size="9" text-anchor="end" fill="#555">75</text><line x1="572.50" y1="296.80" x2="575.60" y2="296.80" stroke="#888" stroke-width="0.7" /><text x="572.0" y="300.1" font-size="9" text-anchor="end" fill="#555">100</text><rect x="578.20" y="296.80" width="17.50" height="71.59" fill="#f08052" /><rect x="578.20" y="368.39" width="17.50" height="22.11" fill="#bebebe" /><rect x="598.20" y="296.80" width="17.10" height="59.97" fill="#f08052" /><rect x="598.20" y="356.77" width="17.10" height="33.73" fill="#bebebe" /><rect x="617.40" y="296.80" width="17.60" height="34.95" fill="#f08052" /><rect x="617.40" y="331.75" width="17.60" height="58.75" fill="#bebebe" /><text transform="translate(591.0,378.8) rotate(-90)" font-size="9.3" text-anchor="middle" fill="#333">221</text><text transform="translate(591.0,357.7) rotate(-90)" font-size="9.3" text-anchor="middle" fill="#333">714</text><text transform="translate(610.7,367.4) rotate(-90)" font-size="9.3" text-anchor="middle" fill="#333">443</text><text transform="translate(610.7,347.2) rotate(-90)" font-size="9.3" text-anchor="middle" fill="#333">722</text><text transform="translate(630.0,346.4) rotate(-90)" font-size="9.3" text-anchor="middle" fill="#333">1379</text><text transform="translate(630.0,321.8) rotate(-90)" font-size="9.3" text-anchor="middle" fill="#333">819</text><text transform="translate(556.4,344.6) rotate(-90)" font-size="9.3" text-anchor="middle" fill="#231f20">mRNAs [%]</text><line x1="586.60" y1="395.80" x2="586.60" y2="398.30" stroke="#888" stroke-width="0.7" /><text transform="translate(589.1,401.5) rotate(-45)" font-size="9.3" text-anchor="end" fill="#444">Shortened (KO&amp;Hypo)</text><line x1="606.00" y1="395.80" x2="606.00" y2="398.30" stroke="#888" stroke-width="0.7" /><text transform="translate(608.5,401.5) rotate(-45)" font-size="9.3" text-anchor="end" fill="#444">Shortened (KO only)</text><line x1="626.50" y1="395.80" x2="626.50" y2="398.30" stroke="#888" stroke-width="0.7" /><text transform="translate(629.0,401.5) rotate(-45)" font-size="9.3" text-anchor="end" fill="#444">Unchanged (KO)</text><text x="529.8" y="418.7" font-size="9.3" text-anchor="middle" fill="#444">3’-UTR</text><text x="529.8" y="429.6" font-size="9.3" text-anchor="middle" fill="#444">change:</text><text x="-1.4" y="494.5" font-size="20.5" font-weight="bold">h</text><text x="77.2" y="488.8" font-size="10.7" text-anchor="middle">Unchanged 3’UTRs</text><text x="201.0" y="488.8" font-size="10.7" text-anchor="middle">Shortened 3’UTRs</text><rect x="19.40" y="498.20" width="116.50" height="127.60" fill="#efefef" /><rect x="142.90" y="498.60" width="116.30" height="127.10" fill="#efefef" /><line x1="28.60" y1="512.50" x2="30.70" y2="512.50" stroke="#444" stroke-width="0.8" /><circle cx="28.6" cy="512.5" r="0.9" fill="#444"/><rect x="30.7" y="510.60" width="28.60" height="3.8" rx="1.2" fill="#dcdcdc" stroke="#555" stroke-width="0.6"/><line x1="40.23" y1="510.60" x2="40.23" y2="514.40" stroke="#555" stroke-width="0.5" /><line x1="49.77" y1="510.60" x2="49.77" y2="514.40" stroke="#555" stroke-width="0.5" /><line x1="59.30" y1="512.50" x2="77.70" y2="512.50" stroke="#2a2f86" stroke-width="1.2" /><text x="78.5" y="515.5" font-size="8.2" fill="#333">AAA</text><line x1="28.60" y1="527.80" x2="30.70" y2="527.80" stroke="#444" stroke-width="0.8" /><circle cx="28.6" cy="527.8" r="0.9" fill="#444"/><rect x="30.7" y="525.90" width="28.60" height="3.8" rx="1.2" fill="#dcdcdc" stroke="#555" stroke-width="0.6"/><line x1="40.23" y1="525.90" x2="40.23" y2="529.70" stroke="#555" stroke-width="0.5" /><line x1="49.77" y1="525.90" x2="49.77" y2="529.70" stroke="#555" stroke-width="0.5" /><line x1="59.30" y1="527.80" x2="77.70" y2="527.80" stroke="#2a2f86" stroke-width="1.2" /><text x="78.5" y="530.8" font-size="8.2" fill="#333">AAA</text><g fill="none" stroke="#f39a24" stroke-width="1.2" stroke-linecap="round"><path d="M59.5,525 L59.5,522.3 Q59.5,521 61,521 L66,521 Q67,518.5 69.5,518.5 Q72,518.5 73,521 L75.5,521 L75.5,525"/><path d="M62.5,521 L62.5,525 M65.5,521 L65.5,525 M69.5,518.5 L69.5,525 M72.5,521 L72.5,525"/></g><text x="99.7" y="528.9" font-size="9.6" fill="#f39a24">miRNA</text><line x1="76.6" y1="535" x2="76.6" y2="545.5" stroke="#231f20" stroke-width="0.9" marker-end="url(#ah)"/><g fill="#dcdcdc" stroke="#444" stroke-width="0.6"><rect x="-4" y="-1.9" width="8" height="3.8" transform="translate(64,555.5) rotate(40)"/><rect x="-4.5" y="-1.9" width="9" height="3.8" transform="translate(74.5,553.5)"/><rect x="-4" y="-1.9" width="8" height="3.8" transform="translate(72.3,563.5) rotate(-40)"/></g><line x1="57.50" y1="556.00" x2="60.00" y2="556.00" stroke="#444" stroke-width="0.7" /><line x1="76.80" y1="568.00" x2="90.50" y2="555.00" stroke="#1e6e9a" stroke-width="1.4" /><text transform="translate(89.5,566) rotate(-45)" font-size="7.6" fill="#333">AAA</text><line x1="76.6" y1="576" x2="76.6" y2="587.5" stroke="#231f20" stroke-width="0.9" marker-end="url(#ah)"/><circle cx="74.2" cy="594.1" r="3.7" fill="#f08050"/><circle cx="68.5" cy="603.5" r="3.7" fill="#f08050"/><circle cx="81.3" cy="603.5" r="3.7" fill="#f08050"/><text x="87.5" y="595.8" font-size="9.6" fill="#f08050">protein</text><text x="75.1" y="620.3" font-size="9.15" text-anchor="middle">Normal differentiation</text><line x1="164.30" y1="527.80" x2="166.80" y2="527.80" stroke="#444" stroke-width="0.8" /><circle cx="164.3" cy="527.8" r="0.9" fill="#444"/><rect x="166.8" y="525.90" width="29.00" height="3.8" rx="1.2" fill="#dcdcdc" stroke="#555" stroke-width="0.6"/><line x1="176.47" y1="525.90" x2="176.47" y2="529.70" stroke="#555" stroke-width="0.5" /><line x1="186.13" y1="525.90" x2="186.13" y2="529.70" stroke="#555" stroke-width="0.5" /><line x1="195.80" y1="527.80" x2="199.00" y2="527.80" stroke="#2a2f86" stroke-width="1.2" /><text x="199.3" y="530.8" font-size="8.2" fill="#333">AAA</text><line x1="158.60" y1="539.90" x2="160.00" y2="539.90" stroke="#444" stroke-width="0.8" /><circle cx="158.6" cy="539.9" r="0.9" fill="#444"/><rect x="160" y="538.00" width="30.30" height="3.8" rx="1.2" fill="#dcdcdc" stroke="#555" stroke-width="0.6"/><line x1="170.10" y1="538.00" x2="170.10" y2="541.80" stroke="#555" stroke-width="0.5" /><line x1="180.20" y1="538.00" x2="180.20" y2="541.80" stroke="#555" stroke-width="0.5" /><line x1="190.30" y1="539.90" x2="193.30" y2="539.90" stroke="#2a2f86" stroke-width="1.2" /><text x="193.6" y="542.9" font-size="8.2" fill="#333">AAA</text><line x1="171.90" y1="551.10" x2="174.00" y2="551.10" stroke="#444" stroke-width="0.8" /><circle cx="171.9" cy="551.1" r="0.9" fill="#444"/><rect x="174" y="549.20" width="28.60" height="3.8" rx="1.2" fill="#dcdcdc" stroke="#555" stroke-width="0.6"/><line x1="183.53" y1="549.20" x2="183.53" y2="553.00" stroke="#555" stroke-width="0.5" /><line x1="193.07" y1="549.20" x2="193.07" y2="553.00" stroke="#555" stroke-width="0.5" /><line x1="202.60" y1="551.10" x2="206.80" y2="551.10" stroke="#2a2f86" stroke-width="1.2" /><text x="207.1" y="554.1" font-size="8.2" fill="#333">AAA</text><line x1="159.60" y1="564.00" x2="161.50" y2="564.00" stroke="#444" stroke-width="0.8" /><circle cx="159.6" cy="564" r="0.9" fill="#444"/><rect x="161.5" y="562.10" width="29.20" height="3.8" rx="1.2" fill="#dcdcdc" stroke="#555" stroke-width="0.6"/><line x1="171.23" y1="562.10" x2="171.23" y2="565.90" stroke="#555" stroke-width="0.5" /><line x1="180.97" y1="562.10" x2="180.97" y2="565.90" stroke="#555" stroke-width="0.5" /><line x1="190.70" y1="564.00" x2="194.50" y2="564.00" stroke="#2a2f86" stroke-width="1.2" /><text x="194.8" y="567.0" font-size="8.2" fill="#333">AAA</text><g transform="translate(206.8,514.8) rotate(-40) scale(0.95)" fill="none" stroke="#f39a24" stroke-width="1.3" stroke-linecap="round" stroke-linejoin="round"><path d="M-10,0 H-3.5 C-3.5,-6.5 3.5,-6.5 3.5,0 H10"/><path d="M-8.2,0 v3.2 M-5.6,0 v3.2 M5.8,0 v3.2 M8.4,0 v3.2"/></g><g transform="translate(225.0,520.8) rotate(-40) scale(0.95)" fill="none" stroke="#f39a24" stroke-width="1.3" stroke-linecap="round" stroke-linejoin="round"><path d="M-10,0 H-3.5 C-3.5,-6.5 3.5,-6.5 3.5,0 H10"/><path d="M-8.2,0 v3.2 M-5.6,0 v3.2 M5.8,0 v3.2 M8.4,0 v3.2"/></g><g transform="translate(231.2,533.0) rotate(-40) scale(0.95)" fill="none" stroke="#f39a24" stroke-width="1.3" stroke-linecap="round" stroke-linejoin="round"><path d="M-10,0 H-3.5 C-3.5,-6.5 3.5,-6.5 3.5,0 H10"/><path d="M-8.2,0 v3.2 M-5.6,0 v3.2 M5.8,0 v3.2 M8.4,0 v3.2"/></g><g transform="translate(231.2,554.4) rotate(-40) scale(0.95)" fill="none" stroke="#f39a24" stroke-width="1.3" stroke-linecap="round" stroke-linejoin="round"><path d="M-10,0 H-3.5 C-3.5,-6.5 3.5,-6.5 3.5,0 H10"/><path d="M-8.2,0 v3.2 M-5.6,0 v3.2 M5.8,0 v3.2 M8.4,0 v3.2"/></g><line x1="189.3" y1="576.3" x2="189.3" y2="587.8" stroke="#231f20" stroke-width="0.9" marker-end="url(#ah)"/><circle cx="168.2" cy="603.9" r="3.8" fill="#f08050"/><circle cx="175.6" cy="598.3" r="3.8" fill="#f08050"/><circle cx="179.5" cy="605.5" r="3.8" fill="#f08050"/><circle cx="187.2" cy="598.3" r="3.8" fill="#f08050"/><circle cx="189.5" cy="609" r="3.8" fill="#f08050"/><circle cx="194" cy="593" r="3.8" fill="#f08050"/><circle cx="198" cy="600.8" r="3.8" fill="#f08050"/><circle cx="208" cy="593.6" r="3.8" fill="#f08050"/><circle cx="210.3" cy="604.9" r="3.8" fill="#f08050"/><text x="205.1" y="622.3" font-size="9.15" text-anchor="middle">Arrested differentiation</text><text x="274.3" y="494.0" font-size="20.5" font-weight="bold">j</text><text x="335.2" y="510.9" font-size="11.4" text-anchor="middle" font-style="italic">Jmjd1c</text><text x="426.4" y="511.3" font-size="11.3" text-anchor="middle" font-style="italic">Sec24a</text><text x="334.6" y="526.8" font-size="9.45" text-anchor="middle" font-weight="bold">2,379 bp</text><text x="426.2" y="526.6" font-size="9.45" text-anchor="middle" font-weight="bold">7,121 bp</text><line x1="309.00" y1="522.70" x2="294.70" y2="522.70" stroke="#111" stroke-width="1.3" /><path d="M294.7,522.7 L301.7,519.7 L300.2,522.7 L301.7,525.7 z" fill="#111"/><line x1="361.20" y1="522.70" x2="375.50" y2="522.70" stroke="#111" stroke-width="1.3" /><path d="M375.5,522.7 L368.5,519.7 L370.0,522.7 L368.5,525.7 z" fill="#111"/><line x1="399.70" y1="522.60" x2="386.00" y2="522.60" stroke="#111" stroke-width="1.3" /><path d="M386.0,522.6 L393.0,519.6 L391.5,522.6 L393.0,525.6 z" fill="#111"/><line x1="452.20" y1="522.60" x2="466.40" y2="522.60" stroke="#111" stroke-width="1.3" /><path d="M466.4,522.6 L459.4,519.6 L460.9,522.6 L459.4,525.6 z" fill="#111"/><text x="298.8" y="541.5" font-size="6.4" fill="#333">[0 - 65483]</text><text x="389.8" y="541.8" font-size="6.4" fill="#333">[0 - 39291]</text><text x="298.8" y="572.2" font-size="6.4" fill="#333">[0 - 65483]</text><text x="389.8" y="572.5" font-size="6.4" fill="#333">[0 - 39291]</text><text x="298.8" y="605.0" font-size="6.4" fill="#333">[0 - 65483]</text><text x="389.8" y="605.3" font-size="6.4" fill="#333">[0 - 39291]</text><text x="293.3" y="555.8" font-size="8.9" text-anchor="end">Control</text><text x="293.7" y="586.2" font-size="8.9" text-anchor="end">KO</text><text x="293.7" y="619.3" font-size="8.9" text-anchor="end">Hypo</text><line x1="294.30" y1="564.60" x2="374.40" y2="564.60" stroke="#3848a8" stroke-width="1.6" /><line x1="385.30" y1="564.60" x2="465.90" y2="564.60" stroke="#3848a8" stroke-width="1.6" /><path d="M340.90,564.6 L341.65,557.3 L343.15,557.3 L343.90,564.6 z" fill="#3848a8"/><path d="M396.35,564.6 L396.98,562.3 L398.23,562.3 L398.85,564.6 z" fill="#3848a8"/><path d="M425.20,564.6 L425.55,561.5 L426.25,561.5 L426.60,564.6 z" fill="#3848a8"/><line x1="294.70" y1="596.90" x2="373.40" y2="596.90" stroke="#a8a8a8" stroke-width="1.6" /><line x1="386.00" y1="596.90" x2="465.00" y2="596.90" stroke="#a8a8a8" stroke-width="1.6" /><path d="M315.90,596.9 L317.05,571.2 L319.35,571.2 L320.50,596.9 z" fill="#a8a8a8"/><path d="M425.10,596.9 L425.50,571.2 L426.30,571.2 L426.70,596.9 z" fill="#a8a8a8"/><path d="M426.65,596.9 L427.02,589.5 L427.77,589.5 L428.15,596.9 z" fill="#a8a8a8"/><line x1="294.70" y1="628.60" x2="373.40" y2="628.60" stroke="#9494d4" stroke-width="1.4" /><line x1="386.00" y1="628.70" x2="465.00" y2="628.70" stroke="#9494d4" stroke-width="1.4" /><path d="M316.60,628.6 L317.40,622.3 L319.00,622.3 L319.80,628.6 z" fill="#9494d4"/><path d="M340.60,628.6 L341.15,626 L342.25,626 L342.80,628.6 z" fill="#9494d4"/><path d="M396.50,628.7 L397.05,623.4 L398.15,623.4 L398.70,628.7 z" fill="#9494d4"/><path d="M425.30,628.7 L425.60,614.6 L426.20,614.6 L426.50,628.7 z" fill="#9494d4"/><line x1="296.00" y1="645.40" x2="314.00" y2="645.40" stroke="#2e3a9c" stroke-width="1.2" /><path d="M294.5,642.6 L298,645.4 L294.5,648.2 z" fill="#2e3a9c"/><rect x="313.50" y="640.00" width="2.80" height="11.00" fill="#2e3a9c" /><rect x="316.00" y="642.20" width="26.80" height="6.70" fill="#2e3a9c" /><rect x="328.60" y="651.60" width="1.90" height="4.00" fill="#e8202a" /><text x="335.1" y="663.2" font-size="9.2" text-anchor="middle" font-style="italic">miR-449a-5p</text><rect x="397.00" y="641.60" width="32.70" height="5.90" fill="#2e3a9c" /><rect x="429.10" y="639.00" width="1.50" height="11.00" fill="#2e3a9c" /><line x1="430.00" y1="644.30" x2="466.00" y2="644.30" stroke="#2e3a9c" stroke-width="1.2" /><path d="M445,641.6 L441.5,644.3 L445,647 z" fill="#2e3a9c"/><rect x="446.20" y="639.50" width="1.40" height="10.00" fill="#2e3a9c" /><rect x="414.90" y="651.50" width="1.90" height="4.00" fill="#e8202a" /><rect x="419.70" y="651.50" width="1.90" height="4.00" fill="#e8202a" /><path d="M461,654.6 L458.6,656.5 L461,658.4" fill="none" stroke="#2e3a9c" stroke-width="1.1"/><text x="419.5" y="663.6" font-size="9.2" text-anchor="middle" font-style="italic">miR-30d-5p</text><text x="464.2" y="494.5" font-size="20.5" font-weight="bold">k</text><text x="533.5" y="485.4" font-size="9.1" text-anchor="middle">Control</text><text x="616.3" y="485.4" font-size="9.2" text-anchor="middle">Hypo</text><line x1="493.30" y1="490.30" x2="573.50" y2="490.30" stroke="#444" stroke-width="1" /><line x1="580.00" y1="490.30" x2="658.00" y2="490.30" stroke="#444" stroke-width="1" /><text x="533.5" y="498.8" font-size="9.1" text-anchor="middle" font-style="italic">siScrambled</text><text x="617.3" y="498.6" font-size="9.1" text-anchor="middle" font-style="italic">siScrambled</text><text x="572.0" y="590.4" font-size="9.1" text-anchor="middle">Hypo</text><line x1="494.10" y1="595.30" x2="656.00" y2="595.30" stroke="#444" stroke-width="1" /><text x="533.0" y="603.3" font-size="9.2" text-anchor="middle" font-style="italic">siJmj1dc</text><text x="617.0" y="602.7" font-size="9.1" text-anchor="middle" font-style="italic">siSec24a</text><text transform="translate(491.2,540.5) rotate(-90)" font-size="11.3" text-anchor="middle"><tspan fill="#b040b4">Krt13</tspan><tspan fill="#231f20">/</tspan><tspan fill="#2aa878">Trp63</tspan><tspan fill="#231f20">/</tspan><tspan fill="#3a4ca8">DAPI</tspan></text><text transform="translate(491.2,645.5) rotate(-90)" font-size="11.3" text-anchor="middle"><tspan fill="#b040b4">Krt13</tspan><tspan fill="#231f20">/</tspan><tspan fill="#2aa878">Trp63</tspan><tspan fill="#231f20">/</tspan><tspan fill="#3a4ca8">DAPI</tspan></text><clipPath id="cp9"><rect x="493.8" y="501" width="79" height="80"/></clipPath><g clip-path="url(#cp9)"><rect x="493.80" y="501.00" width="79.00" height="80.00" fill="#070310" /><g filter="url(#bl15)" fill="#5a1c62" opacity="1"><polygon points="500.7,501.0 531.9,501.0 531.9,541.9 520.3,541.9 513.4,533.7 500.7,527.9"/><polygon points="493.8,550.1 516.9,551.2 531.9,555.9 549.2,551.2 558.4,545.4 572.8,553.6 572.8,581.0 493.8,581.0"/><polygon points="516.9,524.4 531.9,524.4 531.9,541.9 549.2,545.4 528.4,553.6 519.2,541.9"/><polygon points="493.8,524.4 500.7,525.5 498.4,539.5 493.8,540.7"/></g><g filter="url(#bl1)" fill="#8a3090" opacity="0.9"><polygon points="493.8,553.6 503.0,554.7 512.3,566.4 505.3,575.7 493.8,573.4"/><polygon points="537.6,553.6 549.2,551.2 557.2,561.7 553.8,573.4 539.9,568.7"/><polygon points="520.3,545.4 531.9,543.0 531.9,555.9 522.6,555.9"/></g><g filter="url(#bl1)" fill="#b350a6" opacity="1"><polygon points="500.7,518.5 508.8,516.2 519.2,519.7 520.3,531.4 515.7,544.2 511.1,536.0 500.7,530.2"/></g><rect x="493.8" y="501" width="79" height="80" fill="#000" filter="url(#mott)" opacity="0.35"/><g filter="url(#bl06)" fill="#4264d2"><ellipse cx="505.3" cy="505.7" rx="3.0" ry="2.7"/><ellipse cx="512.3" cy="505.7" rx="2.5" ry="2.3"/><ellipse cx="498.4" cy="511.5" rx="3.0" ry="2.7"/><ellipse cx="501.9" cy="513.8" rx="2.5" ry="2.3"/><ellipse cx="518.0" cy="513.8" rx="3.2" ry="2.9"/><ellipse cx="520.3" cy="516.2" rx="3.0" ry="2.7"/><ellipse cx="504.8" cy="521.4" rx="2.5" ry="2.3"/><ellipse cx="497.3" cy="525.5" rx="2.5" ry="2.3"/><ellipse cx="508.8" cy="526.1" rx="2.5" ry="2.3"/><ellipse cx="521.5" cy="526.7" rx="3.0" ry="2.7"/><ellipse cx="527.2" cy="526.7" rx="2.5" ry="2.3"/><ellipse cx="500.7" cy="532.5" rx="2.5" ry="2.3"/><ellipse cx="506.5" cy="534.9" rx="2.5" ry="2.3"/><ellipse cx="511.1" cy="529.0" rx="2.5" ry="2.3"/><ellipse cx="527.2" cy="534.9" rx="2.5" ry="2.3"/><ellipse cx="496.1" cy="537.2" rx="2.5" ry="2.3"/><ellipse cx="505.3" cy="539.5" rx="2.5" ry="2.3"/><ellipse cx="523.8" cy="541.9" rx="3.5" ry="3.2"/><ellipse cx="514.6" cy="552.4" rx="2.5" ry="2.3"/><ellipse cx="516.9" cy="555.3" rx="2.5" ry="2.3"/><ellipse cx="522.6" cy="547.7" rx="2.5" ry="2.3"/><ellipse cx="521.5" cy="561.7" rx="3.0" ry="2.7"/><ellipse cx="500.7" cy="559.4" rx="2.5" ry="2.3"/><ellipse cx="505.3" cy="562.9" rx="2.5" ry="2.3"/><ellipse cx="496.1" cy="566.4" rx="2.5" ry="2.3"/><ellipse cx="503.0" cy="567.6" rx="2.5" ry="2.3"/><ellipse cx="511.1" cy="571.1" rx="2.5" ry="2.3"/><ellipse cx="507.6" cy="575.7" rx="2.5" ry="2.3"/><ellipse cx="524.9" cy="575.7" rx="2.5" ry="2.3"/><ellipse cx="534.2" cy="575.7" rx="2.5" ry="2.3"/><ellipse cx="542.2" cy="573.4" rx="2.5" ry="2.3"/><ellipse cx="548.0" cy="571.1" rx="2.5" ry="2.3"/><ellipse cx="536.5" cy="555.9" rx="2.5" ry="2.3"/><ellipse cx="539.9" cy="559.4" rx="3.5" ry="3.2"/><ellipse cx="544.5" cy="561.7" rx="2.5" ry="2.3"/><ellipse cx="546.9" cy="547.7" rx="2.5" ry="2.3"/><ellipse cx="550.3" cy="544.8" rx="2.5" ry="2.3"/><ellipse cx="559.5" cy="547.7" rx="3.0" ry="2.7"/><ellipse cx="561.8" cy="560.6" rx="3.0" ry="2.7"/><ellipse cx="566.5" cy="564.6" rx="2.5" ry="2.3"/><ellipse cx="558.4" cy="568.7" rx="2.5" ry="2.3"/><ellipse cx="496.1" cy="575.7" rx="2.5" ry="2.3"/><ellipse cx="552.6" cy="575.7" rx="2.5" ry="2.3"/></g></g><clipPath id="cp10"><rect x="531.5" y="501" width="41.3" height="40.2"/></clipPath><g clip-path="url(#cp10)"><rect x="531.50" y="501.00" width="41.30" height="40.20" fill="#020206" /><g filter="url(#bl06)"><ellipse cx="539.5" cy="519.0" rx="3.5" ry="4" fill="#3d63d8"/><ellipse cx="548.5" cy="516.0" rx="3" ry="3" fill="#3d63d8"/><ellipse cx="551.5" cy="526.0" rx="3.5" ry="4" fill="#3d63d8"/><ellipse cx="555.5" cy="529.0" rx="3" ry="3.5" fill="#3d63d8"/><ellipse cx="564.5" cy="514.0" rx="4" ry="4" fill="#3d63d8"/><ellipse cx="565.5" cy="523.0" rx="3.5" ry="3" fill="#3d63d8"/><ellipse cx="562.5" cy="531.0" rx="3.5" ry="3.5" fill="#3d63d8"/><ellipse cx="566.5" cy="536.0" rx="3" ry="3" fill="#3d63d8"/></g></g><rect x="531.9" y="501.4" width="40.5" height="39.400000000000006" fill="none" stroke="#e0e0e0" stroke-width="0.9"/><text x="533.5" y="510.5" font-size="8.5" fill="#ffffff">Trp63</text><clipPath id="cp11"><rect x="577" y="501" width="80.3" height="79.8"/></clipPath><g clip-path="url(#cp11)"><rect x="577.00" y="501.00" width="80.30" height="79.80" fill="#05040c" /><g filter="url(#bl3)" fill="#1e1e5a" opacity="1"><polygon points="577.0,501.0 615.7,501.0 615.7,547.6 600.4,561.6 577.0,580.8"/></g><g filter="url(#bl1)" fill="#a8409c" opacity="1"><polygon points="588.7,501.0 615.7,501.0 614.5,510.3 607.5,513.8 600.4,508.0 591.1,505.7"/><polygon points="652.0,547.6 657.3,545.3 657.3,559.2 653.2,559.2"/><polygon points="581.7,553.4 594.6,552.3 596.9,561.6 584.0,559.2"/></g><rect x="577" y="501" width="80.3" height="79.8" fill="#000" filter="url(#mott)" opacity="0.35"/><g filter="url(#bl06)" fill="#4264d2"><ellipse cx="584.0" cy="512.6" rx="4.0" ry="3.6"/><ellipse cx="589.9" cy="516.1" rx="3.5" ry="3.1"/><ellipse cx="596.9" cy="518.5" rx="3.5" ry="3.1"/><ellipse cx="594.6" cy="524.3" rx="3.5" ry="3.1"/><ellipse cx="581.7" cy="527.8" rx="4.0" ry="3.6"/><ellipse cx="588.7" cy="531.3" rx="3.5" ry="3.1"/><ellipse cx="595.8" cy="532.5" rx="3.5" ry="3.1"/><ellipse cx="602.8" cy="527.8" rx="3.0" ry="2.7"/><ellipse cx="606.3" cy="534.8" rx="3.0" ry="2.7"/><ellipse cx="600.4" cy="538.3" rx="3.5" ry="3.1"/><ellipse cx="584.0" cy="538.3" rx="3.5" ry="3.1"/><ellipse cx="592.2" cy="539.4" rx="3.5" ry="3.1"/><ellipse cx="579.3" cy="545.3" rx="3.0" ry="2.7"/><ellipse cx="587.6" cy="545.3" rx="3.0" ry="2.7"/><ellipse cx="596.9" cy="545.3" rx="3.0" ry="2.7"/><ellipse cx="604.0" cy="545.3" rx="3.0" ry="2.7"/><ellipse cx="611.0" cy="541.8" rx="2.6" ry="2.3"/><ellipse cx="612.2" cy="547.6" rx="2.3" ry="2.1"/><ellipse cx="582.9" cy="552.3" rx="3.3" ry="2.9"/><ellipse cx="589.9" cy="553.4" rx="3.5" ry="3.1"/><ellipse cx="593.4" cy="559.2" rx="3.0" ry="2.7"/><ellipse cx="584.0" cy="561.6" rx="2.8" ry="2.5"/><ellipse cx="588.7" cy="566.2" rx="3.0" ry="2.7"/><ellipse cx="595.8" cy="566.2" rx="3.0" ry="2.7"/><ellipse cx="584.0" cy="570.9" rx="3.0" ry="2.7"/><ellipse cx="592.2" cy="572.1" rx="3.0" ry="2.7"/><ellipse cx="599.3" cy="573.2" rx="2.6" ry="2.3"/><ellipse cx="581.7" cy="577.9" rx="2.6" ry="2.3"/><ellipse cx="588.7" cy="577.9" rx="2.6" ry="2.3"/><ellipse cx="600.4" cy="510.3" rx="3.0" ry="2.7"/><ellipse cx="605.1" cy="518.5" rx="2.8" ry="2.5"/><ellipse cx="609.8" cy="522.0" rx="2.6" ry="2.3"/><ellipse cx="579.3" cy="519.6" rx="3.0" ry="2.7"/><ellipse cx="613.3" cy="554.6" rx="2.1" ry="1.9"/><ellipse cx="640.3" cy="545.3" rx="2.8" ry="3.5"/><ellipse cx="629.8" cy="562.7" rx="3.5" ry="3.0"/><ellipse cx="633.9" cy="561.6" rx="2.8" ry="2.5"/><ellipse cx="643.8" cy="565.1" rx="2.3" ry="2.1"/><ellipse cx="635.6" cy="572.1" rx="1.9" ry="2.8"/><ellipse cx="654.4" cy="526.6" rx="1.9" ry="1.7"/></g></g><clipPath id="cp12"><rect x="614.5" y="501" width="42.8" height="40.3"/></clipPath><g clip-path="url(#cp12)"><rect x="614.50" y="501.00" width="42.80" height="40.30" fill="#020206" /><g filter="url(#bl2)"><ellipse cx="629.5" cy="525.0" rx="8.0" ry="6.4" fill="#1c9a58" opacity="0.55"/><ellipse cx="639.5" cy="527.0" rx="7.0" ry="5.6" fill="#1c9a58" opacity="0.4"/><ellipse cx="650.5" cy="521.0" rx="4.0" ry="3.2" fill="#1c9a58" opacity="0.5"/></g><g filter="url(#bl06)"><ellipse cx="619.5" cy="521.0" rx="3" ry="3" fill="#24b0c8"/><ellipse cx="636.5" cy="520.0" rx="3.5" ry="4" fill="#2a80d0"/><ellipse cx="627.5" cy="528.0" rx="4" ry="3.5" fill="#3d63d8"/><ellipse cx="628.5" cy="533.0" rx="3.5" ry="3" fill="#24b0c8"/><ellipse cx="652.5" cy="515.0" rx="3" ry="5" fill="#24c0c8"/><ellipse cx="618.5" cy="533.0" rx="3.5" ry="4" fill="#3d63d8"/></g></g><rect x="614.9" y="501.4" width="42.0" height="39.5" fill="none" stroke="#e0e0e0" stroke-width="0.9"/><text x="616.5" y="510.5" font-size="8.5" fill="#ffffff">Trp63</text><clipPath id="cp13"><rect x="493.3" y="605.7" width="79.5" height="79.5"/></clipPath><g clip-path="url(#cp13)"><rect x="493.30" y="605.70" width="79.50" height="79.50" fill="#0a0410" /><g filter="url(#bl2)" fill="#5a1c62" opacity="1"><polygon points="493.3,605.7 572.8,605.7 572.8,685.2 493.3,685.2"/></g><g filter="url(#bl15)" fill="#8a3492" opacity="0.85"><polygon points="493.3,605.7 531.6,605.7 528.1,619.6 516.5,634.7 502.6,640.5 493.3,640.5"/><polygon points="510.7,642.8 539.7,644.0 572.8,647.5 572.8,661.4 545.5,657.9 522.3,654.4"/><polygon points="528.1,666.1 551.3,661.4 572.8,670.7 572.8,685.2 539.7,685.2"/><polygon points="493.3,661.4 510.7,666.1 518.8,685.2 493.3,685.2"/></g><g filter="url(#bl3)" fill="#0a0410" opacity="0.8"><polygon points="504.9,652.1 522.3,649.8 523.5,663.7 508.4,666.1"/><polygon points="520.0,670.7 539.7,670.7 542.0,685.2 522.3,685.2"/><polygon points="531.6,605.7 572.8,605.7 572.8,645.2 531.6,645.2"/></g><rect x="493.3" y="605.7" width="79.5" height="79.5" fill="#000" filter="url(#mott)" opacity="0.35"/><g filter="url(#bl06)" fill="#4264d2"><ellipse cx="499.1" cy="612.1" rx="2.8" ry="2.5"/><ellipse cx="511.9" cy="609.2" rx="2.6" ry="2.3"/><ellipse cx="495.0" cy="618.5" rx="2.6" ry="2.3"/><ellipse cx="501.4" cy="618.5" rx="2.6" ry="2.3"/><ellipse cx="498.5" cy="622.5" rx="2.6" ry="2.3"/><ellipse cx="502.0" cy="626.0" rx="2.6" ry="2.3"/><ellipse cx="514.8" cy="620.2" rx="2.6" ry="2.3"/><ellipse cx="522.9" cy="621.4" rx="2.3" ry="2.1"/><ellipse cx="527.0" cy="620.8" rx="2.3" ry="2.1"/><ellipse cx="502.6" cy="634.7" rx="3.0" ry="2.7"/><ellipse cx="529.9" cy="633.6" rx="2.6" ry="2.3"/><ellipse cx="524.6" cy="641.1" rx="2.8" ry="2.5"/><ellipse cx="495.0" cy="642.8" rx="2.6" ry="2.3"/><ellipse cx="513.6" cy="646.3" rx="2.8" ry="2.5"/><ellipse cx="517.1" cy="648.6" rx="2.8" ry="2.5"/><ellipse cx="504.9" cy="651.5" rx="3.2" ry="2.9"/><ellipse cx="539.1" cy="648.6" rx="3.0" ry="2.7"/><ellipse cx="550.7" cy="649.8" rx="2.6" ry="2.3"/><ellipse cx="559.5" cy="655.6" rx="2.6" ry="2.3"/><ellipse cx="530.4" cy="657.9" rx="2.8" ry="2.5"/><ellipse cx="532.8" cy="662.6" rx="2.8" ry="2.5"/><ellipse cx="519.4" cy="662.6" rx="2.8" ry="2.5"/><ellipse cx="521.2" cy="664.9" rx="2.8" ry="2.5"/><ellipse cx="499.1" cy="674.2" rx="3.0" ry="2.7"/><ellipse cx="500.3" cy="676.5" rx="3.0" ry="2.7"/><ellipse cx="519.4" cy="674.8" rx="2.6" ry="2.3"/><ellipse cx="547.8" cy="674.2" rx="2.8" ry="3.5"/><ellipse cx="565.3" cy="680.0" rx="3.0" ry="2.7"/><ellipse cx="500.8" cy="681.7" rx="2.6" ry="2.3"/><ellipse cx="539.7" cy="672.4" rx="1.9" ry="1.7"/></g></g><clipPath id="cp14"><rect x="533.1" y="605.7" width="39.7" height="39.8"/></clipPath><g clip-path="url(#cp14)"><rect x="533.10" y="605.70" width="39.70" height="39.80" fill="#020206" /><g filter="url(#bl2)"><ellipse cx="555.1" cy="619.7" rx="6.0" ry="4.8" fill="#1c9a58" opacity="0.35"/></g><g filter="url(#bl06)"><ellipse cx="539.1" cy="623.7" rx="3.5" ry="3.5" fill="#3d63d8"/><ellipse cx="546.1" cy="618.7" rx="4" ry="5" fill="#3d63d8"/><ellipse cx="547.1" cy="629.7" rx="3" ry="4" fill="#3d63d8"/><ellipse cx="559.1" cy="611.7" rx="5" ry="5" fill="#3d63d8"/><ellipse cx="560.1" cy="633.7" rx="3.5" ry="9" fill="#3d63d8"/><ellipse cx="568.1" cy="614.7" rx="3" ry="3" fill="#3d63d8"/></g></g><rect x="533.5" y="606.1" width="38.900000000000006" height="39.0" fill="none" stroke="#e0e0e0" stroke-width="0.9"/><text x="535.1" y="615.2" font-size="8.5" fill="#ffffff">Trp63</text><clipPath id="cp15"><rect x="576.7" y="605.5" width="80.3" height="79.9"/></clipPath><g clip-path="url(#cp15)"><rect x="576.70" y="605.50" width="80.30" height="79.90" fill="#050208" /><g filter="url(#bl1)" fill="#9a3a9e" opacity="1"><polygon points="595.5,605.5 615.4,605.5 615.4,646.3 625.9,646.3 657.0,644.0 657.0,685.4 603.7,685.4 603.7,667.3 576.7,667.3 576.7,632.3 595.5,632.3"/></g><g filter="url(#bl15)" fill="#6a2470" opacity="1"><polygon points="625.9,646.3 657.0,646.3 657.0,670.8 629.5,666.2"/><polygon points="600.1,618.3 611.9,617.2 615.4,638.2 603.7,642.8 599.0,631.2"/></g><g filter="url(#bl1)" fill="#c260b4" opacity="1"><polygon points="586.1,649.8 594.3,648.7 606.0,654.5 604.8,663.8 595.5,665.0 586.1,660.3"/><polygon points="603.7,668.5 611.9,670.8 614.2,677.8 607.2,680.2"/></g><g filter="url(#bl15)" fill="#050208" opacity="1"><polygon points="576.7,668.5 590.8,666.2 603.7,670.8 602.5,685.4 576.7,685.4"/></g><rect x="576.7" y="605.5" width="80.3" height="79.9" fill="#000" filter="url(#mott)" opacity="0.35"/><g filter="url(#bl06)" fill="#4264d2"><ellipse cx="593.7" cy="628.8" rx="2.6" ry="2.3"/><ellipse cx="596.6" cy="630.0" rx="2.6" ry="2.3"/><ellipse cx="609.5" cy="631.2" rx="2.6" ry="2.3"/><ellipse cx="588.4" cy="637.0" rx="2.6" ry="2.3"/><ellipse cx="593.1" cy="638.2" rx="2.6" ry="2.3"/><ellipse cx="595.5" cy="640.5" rx="2.6" ry="2.3"/><ellipse cx="607.2" cy="642.8" rx="2.8" ry="2.5"/><ellipse cx="583.7" cy="647.5" rx="2.8" ry="2.5"/><ellipse cx="617.7" cy="648.7" rx="2.8" ry="2.5"/><ellipse cx="602.5" cy="654.5" rx="2.6" ry="2.3"/><ellipse cx="616.6" cy="654.5" rx="3.5" ry="2.8"/><ellipse cx="618.9" cy="660.3" rx="3.3" ry="2.9"/><ellipse cx="643.5" cy="656.8" rx="3.3" ry="2.9"/><ellipse cx="583.7" cy="659.2" rx="2.6" ry="2.3"/><ellipse cx="610.7" cy="668.5" rx="2.6" ry="2.3"/><ellipse cx="650.6" cy="675.5" rx="2.6" ry="2.3"/><ellipse cx="654.1" cy="681.3" rx="2.3" ry="2.1"/><ellipse cx="604.8" cy="670.8" rx="2.3" ry="2.1"/><ellipse cx="628.3" cy="647.5" rx="2.6" ry="2.3"/><ellipse cx="614.2" cy="613.7" rx="2.3" ry="2.1"/><ellipse cx="606.0" cy="614.8" rx="2.3" ry="2.1"/></g></g><clipPath id="cp16"><rect x="616.2" y="605.5" width="40.8" height="40"/></clipPath><g clip-path="url(#cp16)"><rect x="616.20" y="605.50" width="40.80" height="40.00" fill="#020206" /><g filter="url(#bl06)"><ellipse cx="626.2" cy="628.5" rx="3.5" ry="4.5" fill="#3d63d8"/><ellipse cx="630.2" cy="616.5" rx="3.5" ry="3.5" fill="#3d63d8"/><ellipse cx="649.2" cy="623.5" rx="4" ry="4.5" fill="#3d63d8"/><ellipse cx="636.2" cy="638.5" rx="3" ry="2.5" fill="#3d63d8"/></g></g><rect x="616.6" y="605.9" width="40.0" height="39.2" fill="none" stroke="#e0e0e0" stroke-width="0.9"/><text x="618.2" y="615.0" font-size="8.5" fill="#ffffff">Trp63</text><line x1="636.80" y1="643.50" x2="657.00" y2="643.50" stroke="#ffffff" stroke-width="1.2" /><text x="647.0" y="640.4" font-size="8.8" text-anchor="middle" fill="#ffffff">50µm</text><text x="636.0" y="677.4" font-size="8.8" text-anchor="middle" fill="#ffffff">50µm</text><line x1="633.80" y1="681.60" x2="645.20" y2="681.60" stroke="#ffffff" stroke-width="2.2" /><text x="3.3" y="669.0" font-size="20.5" font-weight="bold">i</text><text x="67.3" y="670.5" font-size="9.6" text-anchor="middle">mRNA</text><line x1="22.40" y1="674.30" x2="113.90" y2="674.30" stroke="#222" stroke-width="1" /><text x="173.2" y="670.4" font-size="9.6" text-anchor="middle">Protein</text><line x1="127.50" y1="674.10" x2="219.00" y2="674.10" stroke="#222" stroke-width="1" /><text x="35.7" y="685.5" font-size="9" text-anchor="middle">Control</text><text x="66.7" y="685.5" font-size="9" text-anchor="middle">KO</text><text x="97.3" y="685.5" font-size="9" text-anchor="middle">Hypo</text><rect x="22.70" y="687.50" width="26.00" height="5.90" fill="#2a2e96" /><rect x="53.50" y="687.50" width="26.20" height="5.90" fill="#cdcdd0" /><rect x="84.50" y="687.50" width="26.20" height="5.90" fill="#9090c8" /><text x="135.1" y="685.5" font-size="9" text-anchor="middle">Control</text><text x="166.1" y="685.5" font-size="9" text-anchor="middle">KO</text><text x="196.7" y="685.5" font-size="9" text-anchor="middle">Hypo</text><rect x="122.10" y="687.50" width="26.00" height="5.90" fill="#2a2e96" /><rect x="152.90" y="687.50" width="26.20" height="5.90" fill="#cdcdd0" /><rect x="183.90" y="687.50" width="26.20" height="5.90" fill="#9090c8" /><rect x="20.50" y="697.50" width="10.84" height="8.59" fill="#9294c8" /><rect x="31.09" y="697.50" width="10.84" height="8.59" fill="#9294c8" /><rect x="41.68" y="697.50" width="10.84" height="8.59" fill="#3a52a4" /><rect x="52.27" y="697.50" width="10.84" height="8.59" fill="#f4cabc" /><rect x="62.86" y="697.50" width="10.84" height="8.59" fill="#f19d82" /><rect x="73.45" y="697.50" width="10.84" height="8.59" fill="#f1a58b" /><rect x="84.04" y="697.50" width="10.84" height="8.59" fill="#f7f0ed" /><rect x="94.63" y="697.50" width="10.84" height="8.59" fill="#f4cabc" /><rect x="105.22" y="697.50" width="10.84" height="8.59" fill="#f2ac94" /><rect x="20.50" y="705.84" width="10.84" height="8.59" fill="#3a52a4" /><rect x="31.09" y="705.84" width="10.84" height="8.59" fill="#c5c6e0" /><rect x="41.68" y="705.84" width="10.84" height="8.59" fill="#8087c1" /><rect x="52.27" y="705.84" width="10.84" height="8.59" fill="#f2ac94" /><rect x="62.86" y="705.84" width="10.84" height="8.59" fill="#f5d2c6" /><rect x="73.45" y="705.84" width="10.84" height="8.59" fill="#f8f3f2" /><rect x="84.04" y="705.84" width="10.84" height="8.59" fill="#f19d82" /><rect x="94.63" y="705.84" width="10.84" height="8.59" fill="#f4cabc" /><rect x="105.22" y="705.84" width="10.84" height="8.59" fill="#f1a58b" /><rect x="20.50" y="714.18" width="10.84" height="8.59" fill="#3a52a4" /><rect x="31.09" y="714.18" width="10.84" height="8.59" fill="#8087c1" /><rect x="41.68" y="714.18" width="10.84" height="8.59" fill="#6673b6" /><rect x="52.27" y="714.18" width="10.84" height="8.59" fill="#f1a58b" /><rect x="62.86" y="714.18" width="10.84" height="8.59" fill="#f1a58b" /><rect x="73.45" y="714.18" width="10.84" height="8.59" fill="#ee805e" /><rect x="84.04" y="714.18" width="10.84" height="8.59" fill="#f6d9cf" /><rect x="94.63" y="714.18" width="10.84" height="8.59" fill="#f5d2c6" /><rect x="105.22" y="714.18" width="10.84" height="8.59" fill="#cfcfe4" /><rect x="20.50" y="722.52" width="10.84" height="8.59" fill="#3a52a4" /><rect x="31.09" y="722.52" width="10.84" height="8.59" fill="#a6a8d1" /><rect x="41.68" y="722.52" width="10.84" height="8.59" fill="#5d6cb2" /><rect x="52.27" y="722.52" width="10.84" height="8.59" fill="#f4c2b2" /><rect x="62.86" y="722.52" width="10.84" height="8.59" fill="#f3bba8" /><rect x="73.45" y="722.52" width="10.84" height="8.59" fill="#f09679" /><rect x="84.04" y="722.52" width="10.84" height="8.59" fill="#f6d9cf" /><rect x="94.63" y="722.52" width="10.84" height="8.59" fill="#f3bba8" /><rect x="105.22" y="722.52" width="10.84" height="8.59" fill="#f4cabc" /><rect x="20.50" y="730.86" width="10.84" height="8.59" fill="#7880bd" /><rect x="31.09" y="730.86" width="10.84" height="8.59" fill="#3a52a4" /><rect x="41.68" y="730.86" width="10.84" height="8.59" fill="#b1b2d6" /><rect x="52.27" y="730.86" width="10.84" height="8.59" fill="#f08e70" /><rect x="62.86" y="730.86" width="10.84" height="8.59" fill="#f19d82" /><rect x="73.45" y="730.86" width="10.84" height="8.59" fill="#f7f0ed" /><rect x="84.04" y="730.86" width="10.84" height="8.59" fill="#f7e8e3" /><rect x="94.63" y="730.86" width="10.84" height="8.59" fill="#f4cabc" /><rect x="105.22" y="730.86" width="10.84" height="8.59" fill="#f4cabc" /><rect x="20.50" y="739.20" width="10.84" height="8.59" fill="#3a52a4" /><rect x="31.09" y="739.20" width="10.84" height="8.59" fill="#4c5fab" /><rect x="41.68" y="739.20" width="10.84" height="8.59" fill="#b1b2d6" /><rect x="52.27" y="739.20" width="10.84" height="8.59" fill="#f8f3f2" /><rect x="62.86" y="739.20" width="10.84" height="8.59" fill="#f09679" /><rect x="73.45" y="739.20" width="10.84" height="8.59" fill="#f5d2c6" /><rect x="84.04" y="739.20" width="10.84" height="8.59" fill="#f5d2c6" /><rect x="94.63" y="739.20" width="10.84" height="8.59" fill="#f3bba8" /><rect x="105.22" y="739.20" width="10.84" height="8.59" fill="#f1a58b" /><rect x="20.50" y="747.54" width="10.84" height="8.59" fill="#3a52a4" /><rect x="31.09" y="747.54" width="10.84" height="8.59" fill="#4c5fab" /><rect x="41.68" y="747.54" width="10.84" height="8.59" fill="#bbbcdb" /><rect x="52.27" y="747.54" width="10.84" height="8.59" fill="#f09679" /><rect x="62.86" y="747.54" width="10.84" height="8.59" fill="#f08e70" /><rect x="73.45" y="747.54" width="10.84" height="8.59" fill="#f3bba8" /><rect x="84.04" y="747.54" width="10.84" height="8.59" fill="#e4e3ee" /><rect x="94.63" y="747.54" width="10.84" height="8.59" fill="#f5d2c6" /><rect x="105.22" y="747.54" width="10.84" height="8.59" fill="#f5d2c6" /><rect x="20.50" y="755.88" width="10.84" height="8.59" fill="#6673b6" /><rect x="31.09" y="755.88" width="10.84" height="8.59" fill="#9294c8" /><rect x="41.68" y="755.88" width="10.84" height="8.59" fill="#6673b6" /><rect x="52.27" y="755.88" width="10.84" height="8.59" fill="#ed714c" /><rect x="62.86" y="755.88" width="10.84" height="8.59" fill="#ef8767" /><rect x="73.45" y="755.88" width="10.84" height="8.59" fill="#f09679" /><rect x="84.04" y="755.88" width="10.84" height="8.59" fill="#f8f7f7" /><rect x="94.63" y="755.88" width="10.84" height="8.59" fill="#d9d9e9" /><rect x="105.22" y="755.88" width="10.84" height="8.59" fill="#bbbcdb" /><rect x="20.50" y="764.22" width="10.84" height="8.59" fill="#5d6cb2" /><rect x="31.09" y="764.22" width="10.84" height="8.59" fill="#5d6cb2" /><rect x="41.68" y="764.22" width="10.84" height="8.59" fill="#5d6cb2" /><rect x="52.27" y="764.22" width="10.84" height="8.59" fill="#ee805e" /><rect x="62.86" y="764.22" width="10.84" height="8.59" fill="#f2ac94" /><rect x="73.45" y="764.22" width="10.84" height="8.59" fill="#ef8767" /><rect x="84.04" y="764.22" width="10.84" height="8.59" fill="#f6e0d9" /><rect x="94.63" y="764.22" width="10.84" height="8.59" fill="#e4e3ee" /><rect x="105.22" y="764.22" width="10.84" height="8.59" fill="#cfcfe4" /><rect x="20.50" y="772.56" width="10.84" height="8.59" fill="#4359a8" /><rect x="31.09" y="772.56" width="10.84" height="8.59" fill="#6673b6" /><rect x="41.68" y="772.56" width="10.84" height="8.59" fill="#6673b6" /><rect x="52.27" y="772.56" width="10.84" height="8.59" fill="#f08e70" /><rect x="62.86" y="772.56" width="10.84" height="8.59" fill="#ef8767" /><rect x="73.45" y="772.56" width="10.84" height="8.59" fill="#ef8767" /><rect x="84.04" y="772.56" width="10.84" height="8.59" fill="#f8f7f7" /><rect x="94.63" y="772.56" width="10.84" height="8.59" fill="#f8f7f7" /><rect x="105.22" y="772.56" width="10.84" height="8.59" fill="#f7f0ed" /><rect x="20.50" y="780.90" width="10.84" height="8.59" fill="#4c5fab" /><rect x="31.09" y="780.90" width="10.84" height="8.59" fill="#6673b6" /><rect x="41.68" y="780.90" width="10.84" height="8.59" fill="#7880bd" /><rect x="52.27" y="780.90" width="10.84" height="8.59" fill="#ee805e" /><rect x="62.86" y="780.90" width="10.84" height="8.59" fill="#ef8767" /><rect x="73.45" y="780.90" width="10.84" height="8.59" fill="#f08e70" /><rect x="84.04" y="780.90" width="10.84" height="8.59" fill="#e4e3ee" /><rect x="94.63" y="780.90" width="10.84" height="8.59" fill="#f8f7f7" /><rect x="105.22" y="780.90" width="10.84" height="8.59" fill="#e4e3ee" /><rect x="20.50" y="789.24" width="10.84" height="8.59" fill="#5466af" /><rect x="31.09" y="789.24" width="10.84" height="8.59" fill="#5466af" /><rect x="41.68" y="789.24" width="10.84" height="8.59" fill="#5d6cb2" /><rect x="52.27" y="789.24" width="10.84" height="8.59" fill="#ee805e" /><rect x="62.86" y="789.24" width="10.84" height="8.59" fill="#ef8767" /><rect x="73.45" y="789.24" width="10.84" height="8.59" fill="#f1a58b" /><rect x="84.04" y="789.24" width="10.84" height="8.59" fill="#cfcfe4" /><rect x="94.63" y="789.24" width="10.84" height="8.59" fill="#f7f0ed" /><rect x="105.22" y="789.24" width="10.84" height="8.59" fill="#f7e8e3" /><rect x="20.50" y="797.58" width="10.84" height="8.59" fill="#4c5fab" /><rect x="31.09" y="797.58" width="10.84" height="8.59" fill="#5d6cb2" /><rect x="41.68" y="797.58" width="10.84" height="8.59" fill="#5d6cb2" /><rect x="52.27" y="797.58" width="10.84" height="8.59" fill="#ee7855" /><rect x="62.86" y="797.58" width="10.84" height="8.59" fill="#f19d82" /><rect x="73.45" y="797.58" width="10.84" height="8.59" fill="#f2ac94" /><rect x="84.04" y="797.58" width="10.84" height="8.59" fill="#f8f7f7" /><rect x="94.63" y="797.58" width="10.84" height="8.59" fill="#f7e8e3" /><rect x="105.22" y="797.58" width="10.84" height="8.59" fill="#f6d9cf" /><rect x="20.50" y="805.92" width="10.84" height="8.59" fill="#7880bd" /><rect x="31.09" y="805.92" width="10.84" height="8.59" fill="#4359a8" /><rect x="41.68" y="805.92" width="10.84" height="8.59" fill="#5d6cb2" /><rect x="52.27" y="805.92" width="10.84" height="8.59" fill="#f08e70" /><rect x="62.86" y="805.92" width="10.84" height="8.59" fill="#ee805e" /><rect x="73.45" y="805.92" width="10.84" height="8.59" fill="#f08e70" /><rect x="84.04" y="805.92" width="10.84" height="8.59" fill="#f8f7f7" /><rect x="94.63" y="805.92" width="10.84" height="8.59" fill="#f7e8e3" /><rect x="105.22" y="805.92" width="10.84" height="8.59" fill="#e4e3ee" /><rect x="20.50" y="814.26" width="10.84" height="8.59" fill="#5d6cb2" /><rect x="31.09" y="814.26" width="10.84" height="8.59" fill="#6673b6" /><rect x="41.68" y="814.26" width="10.84" height="8.59" fill="#4c5fab" /><rect x="52.27" y="814.26" width="10.84" height="8.59" fill="#ee7855" /><rect x="62.86" y="814.26" width="10.84" height="8.59" fill="#ef8767" /><rect x="73.45" y="814.26" width="10.84" height="8.59" fill="#f3bba8" /><rect x="84.04" y="814.26" width="10.84" height="8.59" fill="#f6e0d9" /><rect x="94.63" y="814.26" width="10.84" height="8.59" fill="#f8f3f2" /><rect x="105.22" y="814.26" width="10.84" height="8.59" fill="#e4e3ee" /><rect x="20.50" y="822.60" width="10.84" height="8.59" fill="#5466af" /><rect x="31.09" y="822.60" width="10.84" height="8.59" fill="#5466af" /><rect x="41.68" y="822.60" width="10.84" height="8.59" fill="#6f7aba" /><rect x="52.27" y="822.60" width="10.84" height="8.59" fill="#f4cabc" /><rect x="62.86" y="822.60" width="10.84" height="8.59" fill="#ed714c" /><rect x="73.45" y="822.60" width="10.84" height="8.59" fill="#f19d82" /><rect x="84.04" y="822.60" width="10.84" height="8.59" fill="#f8f7f7" /><rect x="94.63" y="822.60" width="10.84" height="8.59" fill="#e4e3ee" /><rect x="105.22" y="822.60" width="10.84" height="8.59" fill="#f3bba8" /><rect x="20.50" y="830.94" width="10.84" height="8.59" fill="#5466af" /><rect x="31.09" y="830.94" width="10.84" height="8.59" fill="#7880bd" /><rect x="41.68" y="830.94" width="10.84" height="8.59" fill="#9294c8" /><rect x="52.27" y="830.94" width="10.84" height="8.59" fill="#f09679" /><rect x="62.86" y="830.94" width="10.84" height="8.59" fill="#ed714c" /><rect x="73.45" y="830.94" width="10.84" height="8.59" fill="#ef8767" /><rect x="84.04" y="830.94" width="10.84" height="8.59" fill="#a6a8d1" /><rect x="94.63" y="830.94" width="10.84" height="8.59" fill="#c5c6e0" /><rect x="105.22" y="830.94" width="10.84" height="8.59" fill="#f8f7f7" /><rect x="20.50" y="839.28" width="10.84" height="8.59" fill="#6673b6" /><rect x="31.09" y="839.28" width="10.84" height="8.59" fill="#6673b6" /><rect x="41.68" y="839.28" width="10.84" height="8.59" fill="#9294c8" /><rect x="52.27" y="839.28" width="10.84" height="8.59" fill="#ee7855" /><rect x="62.86" y="839.28" width="10.84" height="8.59" fill="#ee805e" /><rect x="73.45" y="839.28" width="10.84" height="8.59" fill="#ef8767" /><rect x="84.04" y="839.28" width="10.84" height="8.59" fill="#cfcfe4" /><rect x="94.63" y="839.28" width="10.84" height="8.59" fill="#bbbcdb" /><rect x="105.22" y="839.28" width="10.84" height="8.59" fill="#c5c6e0" /><rect x="20.50" y="847.62" width="10.84" height="8.59" fill="#5d6cb2" /><rect x="31.09" y="847.62" width="10.84" height="8.59" fill="#3a52a4" /><rect x="41.68" y="847.62" width="10.84" height="8.59" fill="#b1b2d6" /><rect x="52.27" y="847.62" width="10.84" height="8.59" fill="#f3b49e" /><rect x="62.86" y="847.62" width="10.84" height="8.59" fill="#f4c2b2" /><rect x="73.45" y="847.62" width="10.84" height="8.59" fill="#ee7855" /><rect x="84.04" y="847.62" width="10.84" height="8.59" fill="#e4e3ee" /><rect x="94.63" y="847.62" width="10.84" height="8.59" fill="#f09679" /><rect x="105.22" y="847.62" width="10.84" height="8.59" fill="#e4e3ee" /><rect x="20.50" y="855.96" width="10.84" height="8.59" fill="#8087c1" /><rect x="31.09" y="855.96" width="10.84" height="8.59" fill="#5466af" /><rect x="41.68" y="855.96" width="10.84" height="8.59" fill="#4c5fab" /><rect x="52.27" y="855.96" width="10.84" height="8.59" fill="#ee805e" /><rect x="62.86" y="855.96" width="10.84" height="8.59" fill="#f4c2b2" /><rect x="73.45" y="855.96" width="10.84" height="8.59" fill="#f08e70" /><rect x="84.04" y="855.96" width="10.84" height="8.59" fill="#f6d9cf" /><rect x="94.63" y="855.96" width="10.84" height="8.59" fill="#f5d2c6" /><rect x="105.22" y="855.96" width="10.84" height="8.59" fill="#f8f7f7" /><rect x="20.50" y="864.30" width="10.84" height="8.59" fill="#5d6cb2" /><rect x="31.09" y="864.30" width="10.84" height="8.59" fill="#5d6cb2" /><rect x="41.68" y="864.30" width="10.84" height="8.59" fill="#5d6cb2" /><rect x="52.27" y="864.30" width="10.84" height="8.59" fill="#ee805e" /><rect x="62.86" y="864.30" width="10.84" height="8.59" fill="#f08e70" /><rect x="73.45" y="864.30" width="10.84" height="8.59" fill="#f5d2c6" /><rect x="84.04" y="864.30" width="10.84" height="8.59" fill="#f5d2c6" /><rect x="94.63" y="864.30" width="10.84" height="8.59" fill="#f3b49e" /><rect x="105.22" y="864.30" width="10.84" height="8.59" fill="#cfcfe4" /><rect x="20.50" y="872.64" width="10.84" height="8.59" fill="#4359a8" /><rect x="31.09" y="872.64" width="10.84" height="8.59" fill="#6673b6" /><rect x="41.68" y="872.64" width="10.84" height="8.59" fill="#6673b6" /><rect x="52.27" y="872.64" width="10.84" height="8.59" fill="#ee805e" /><rect x="62.86" y="872.64" width="10.84" height="8.59" fill="#f09679" /><rect x="73.45" y="872.64" width="10.84" height="8.59" fill="#f4cabc" /><rect x="84.04" y="872.64" width="10.84" height="8.59" fill="#f4cabc" /><rect x="94.63" y="872.64" width="10.84" height="8.59" fill="#f4cabc" /><rect x="105.22" y="872.64" width="10.84" height="8.59" fill="#cfcfe4" /><rect x="20.50" y="880.98" width="10.84" height="8.59" fill="#5466af" /><rect x="31.09" y="880.98" width="10.84" height="8.59" fill="#3a52a4" /><rect x="41.68" y="880.98" width="10.84" height="8.59" fill="#8087c1" /><rect x="52.27" y="880.98" width="10.84" height="8.59" fill="#f2ac94" /><rect x="62.86" y="880.98" width="10.84" height="8.59" fill="#f2ac94" /><rect x="73.45" y="880.98" width="10.84" height="8.59" fill="#f3b49e" /><rect x="84.04" y="880.98" width="10.84" height="8.59" fill="#f5d2c6" /><rect x="94.63" y="880.98" width="10.84" height="8.59" fill="#f3bba8" /><rect x="105.22" y="880.98" width="10.84" height="8.59" fill="#f4cabc" /><rect x="20.50" y="889.32" width="10.84" height="8.59" fill="#5d6cb2" /><rect x="31.09" y="889.32" width="10.84" height="8.59" fill="#4359a8" /><rect x="41.68" y="889.32" width="10.84" height="8.59" fill="#5466af" /><rect x="52.27" y="889.32" width="10.84" height="8.59" fill="#f4c2b2" /><rect x="62.86" y="889.32" width="10.84" height="8.59" fill="#f19d82" /><rect x="73.45" y="889.32" width="10.84" height="8.59" fill="#f3b49e" /><rect x="84.04" y="889.32" width="10.84" height="8.59" fill="#f4c2b2" /><rect x="94.63" y="889.32" width="10.84" height="8.59" fill="#f4c2b2" /><rect x="105.22" y="889.32" width="10.84" height="8.59" fill="#f4c2b2" /><rect x="119.90" y="697.50" width="10.84" height="8.59" fill="#6673b6" /><rect x="130.49" y="697.50" width="10.84" height="8.59" fill="#6673b6" /><rect x="141.08" y="697.50" width="10.84" height="8.59" fill="#6673b6" /><rect x="151.67" y="697.50" width="10.84" height="8.59" fill="#f19d82" /><rect x="162.26" y="697.50" width="10.84" height="8.59" fill="#f1a58b" /><rect x="172.85" y="697.50" width="10.84" height="8.59" fill="#ee7855" /><rect x="183.44" y="697.50" width="10.84" height="8.59" fill="#f4cabc" /><rect x="194.03" y="697.50" width="10.84" height="8.59" fill="#f7f0ed" /><rect x="204.62" y="697.50" width="10.84" height="8.59" fill="#f8f7f7" /><rect x="119.90" y="705.84" width="10.84" height="8.59" fill="#3a52a4" /><rect x="130.49" y="705.84" width="10.84" height="8.59" fill="#9c9ecd" /><rect x="141.08" y="705.84" width="10.84" height="8.59" fill="#6673b6" /><rect x="151.67" y="705.84" width="10.84" height="8.59" fill="#f8f7f7" /><rect x="162.26" y="705.84" width="10.84" height="8.59" fill="#f7e8e3" /><rect x="172.85" y="705.84" width="10.84" height="8.59" fill="#f3b49e" /><rect x="183.44" y="705.84" width="10.84" height="8.59" fill="#f3b49e" /><rect x="194.03" y="705.84" width="10.84" height="8.59" fill="#ee7855" /><rect x="204.62" y="705.84" width="10.84" height="8.59" fill="#f3bba8" /><rect x="119.90" y="714.18" width="10.84" height="8.59" fill="#6673b6" /><rect x="130.49" y="714.18" width="10.84" height="8.59" fill="#6673b6" /><rect x="141.08" y="714.18" width="10.84" height="8.59" fill="#7880bd" /><rect x="151.67" y="714.18" width="10.84" height="8.59" fill="#ee7855" /><rect x="162.26" y="714.18" width="10.84" height="8.59" fill="#ee7855" /><rect x="172.85" y="714.18" width="10.84" height="8.59" fill="#ee805e" /><rect x="183.44" y="714.18" width="10.84" height="8.59" fill="#bbbcdb" /><rect x="194.03" y="714.18" width="10.84" height="8.59" fill="#d9d9e9" /><rect x="204.62" y="714.18" width="10.84" height="8.59" fill="#e4e3ee" /><rect x="119.90" y="722.52" width="10.84" height="8.59" fill="#6673b6" /><rect x="130.49" y="722.52" width="10.84" height="8.59" fill="#6673b6" /><rect x="141.08" y="722.52" width="10.84" height="8.59" fill="#5466af" /><rect x="151.67" y="722.52" width="10.84" height="8.59" fill="#f4c2b2" /><rect x="162.26" y="722.52" width="10.84" height="8.59" fill="#ee805e" /><rect x="172.85" y="722.52" width="10.84" height="8.59" fill="#f3bba8" /><rect x="183.44" y="722.52" width="10.84" height="8.59" fill="#f6d9cf" /><rect x="194.03" y="722.52" width="10.84" height="8.59" fill="#f1a58b" /><rect x="204.62" y="722.52" width="10.84" height="8.59" fill="#f7f0ed" /><rect x="119.90" y="730.86" width="10.84" height="8.59" fill="#6f7aba" /><rect x="130.49" y="730.86" width="10.84" height="8.59" fill="#3a52a4" /><rect x="141.08" y="730.86" width="10.84" height="8.59" fill="#6f7aba" /><rect x="151.67" y="730.86" width="10.84" height="8.59" fill="#f3bba8" /><rect x="162.26" y="730.86" width="10.84" height="8.59" fill="#f5d2c6" /><rect x="172.85" y="730.86" width="10.84" height="8.59" fill="#f7f0ed" /><rect x="183.44" y="730.86" width="10.84" height="8.59" fill="#f3bba8" /><rect x="194.03" y="730.86" width="10.84" height="8.59" fill="#f5d2c6" /><rect x="204.62" y="730.86" width="10.84" height="8.59" fill="#ee7855" /><rect x="119.90" y="739.20" width="10.84" height="8.59" fill="#6673b6" /><rect x="130.49" y="739.20" width="10.84" height="8.59" fill="#b1b2d6" /><rect x="141.08" y="739.20" width="10.84" height="8.59" fill="#3a52a4" /><rect x="151.67" y="739.20" width="10.84" height="8.59" fill="#f6d9cf" /><rect x="162.26" y="739.20" width="10.84" height="8.59" fill="#ec623a" /><rect x="172.85" y="739.20" width="10.84" height="8.59" fill="#f7e8e3" /><rect x="183.44" y="739.20" width="10.84" height="8.59" fill="#f8f7f7" /><rect x="194.03" y="739.20" width="10.84" height="8.59" fill="#f6d9cf" /><rect x="204.62" y="739.20" width="10.84" height="8.59" fill="#f4c2b2" /><rect x="119.90" y="747.54" width="10.84" height="8.59" fill="#5466af" /><rect x="130.49" y="747.54" width="10.84" height="8.59" fill="#5466af" /><rect x="141.08" y="747.54" width="10.84" height="8.59" fill="#9294c8" /><rect x="151.67" y="747.54" width="10.84" height="8.59" fill="#f8f7f7" /><rect x="162.26" y="747.54" width="10.84" height="8.59" fill="#f2ac94" /><rect x="172.85" y="747.54" width="10.84" height="8.59" fill="#ee805e" /><rect x="183.44" y="747.54" width="10.84" height="8.59" fill="#e4e3ee" /><rect x="194.03" y="747.54" width="10.84" height="8.59" fill="#f4c2b2" /><rect x="204.62" y="747.54" width="10.84" height="8.59" fill="#f19d82" /><rect x="119.90" y="755.88" width="10.84" height="8.59" fill="#6f7aba" /><rect x="130.49" y="755.88" width="10.84" height="8.59" fill="#6f7aba" /><rect x="141.08" y="755.88" width="10.84" height="8.59" fill="#9294c8" /><rect x="151.67" y="755.88" width="10.84" height="8.59" fill="#f09679" /><rect x="162.26" y="755.88" width="10.84" height="8.59" fill="#f09679" /><rect x="172.85" y="755.88" width="10.84" height="8.59" fill="#ec623a" /><rect x="183.44" y="755.88" width="10.84" height="8.59" fill="#a6a8d1" /><rect x="194.03" y="755.88" width="10.84" height="8.59" fill="#d9d9e9" /><rect x="204.62" y="755.88" width="10.84" height="8.59" fill="#d9d9e9" /><rect x="119.90" y="764.22" width="10.84" height="8.59" fill="#6673b6" /><rect x="130.49" y="764.22" width="10.84" height="8.59" fill="#6673b6" /><rect x="141.08" y="764.22" width="10.84" height="8.59" fill="#6673b6" /><rect x="151.67" y="764.22" width="10.84" height="8.59" fill="#f4c2b2" /><rect x="162.26" y="764.22" width="10.84" height="8.59" fill="#f1a58b" /><rect x="172.85" y="764.22" width="10.84" height="8.59" fill="#f1a58b" /><rect x="183.44" y="764.22" width="10.84" height="8.59" fill="#f8f7f7" /><rect x="194.03" y="764.22" width="10.84" height="8.59" fill="#f2ac94" /><rect x="204.62" y="764.22" width="10.84" height="8.59" fill="#f19d82" /><rect x="119.90" y="772.56" width="10.84" height="8.59" fill="#3a52a4" /><rect x="130.49" y="772.56" width="10.84" height="8.59" fill="#8087c1" /><rect x="141.08" y="772.56" width="10.84" height="8.59" fill="#6f7aba" /><rect x="151.67" y="772.56" width="10.84" height="8.59" fill="#f3bba8" /><rect x="162.26" y="772.56" width="10.84" height="8.59" fill="#f09679" /><rect x="172.85" y="772.56" width="10.84" height="8.59" fill="#f1a58b" /><rect x="183.44" y="772.56" width="10.84" height="8.59" fill="#e4e3ee" /><rect x="194.03" y="772.56" width="10.84" height="8.59" fill="#f3b49e" /><rect x="204.62" y="772.56" width="10.84" height="8.59" fill="#f4c2b2" /><rect x="119.90" y="780.90" width="10.84" height="8.59" fill="#6f7aba" /><rect x="130.49" y="780.90" width="10.84" height="8.59" fill="#6673b6" /><rect x="141.08" y="780.90" width="10.84" height="8.59" fill="#6f7aba" /><rect x="151.67" y="780.90" width="10.84" height="8.59" fill="#ee7855" /><rect x="162.26" y="780.90" width="10.84" height="8.59" fill="#f08e70" /><rect x="172.85" y="780.90" width="10.84" height="8.59" fill="#ee805e" /><rect x="183.44" y="780.90" width="10.84" height="8.59" fill="#f8f7f7" /><rect x="194.03" y="780.90" width="10.84" height="8.59" fill="#cfcfe4" /><rect x="204.62" y="780.90" width="10.84" height="8.59" fill="#bbbcdb" /><rect x="119.90" y="789.24" width="10.84" height="8.59" fill="#6673b6" /><rect x="130.49" y="789.24" width="10.84" height="8.59" fill="#6f7aba" /><rect x="141.08" y="789.24" width="10.84" height="8.59" fill="#6f7aba" /><rect x="151.67" y="789.24" width="10.84" height="8.59" fill="#f08e70" /><rect x="162.26" y="789.24" width="10.84" height="8.59" fill="#f09679" /><rect x="172.85" y="789.24" width="10.84" height="8.59" fill="#ed714c" /><rect x="183.44" y="789.24" width="10.84" height="8.59" fill="#f8f7f7" /><rect x="194.03" y="789.24" width="10.84" height="8.59" fill="#e4e3ee" /><rect x="204.62" y="789.24" width="10.84" height="8.59" fill="#f8f7f7" /><rect x="119.90" y="797.58" width="10.84" height="8.59" fill="#6f7aba" /><rect x="130.49" y="797.58" width="10.84" height="8.59" fill="#6f7aba" /><rect x="141.08" y="797.58" width="10.84" height="8.59" fill="#5466af" /><rect x="151.67" y="797.58" width="10.84" height="8.59" fill="#ef8767" /><rect x="162.26" y="797.58" width="10.84" height="8.59" fill="#ee805e" /><rect x="172.85" y="797.58" width="10.84" height="8.59" fill="#f2ac94" /><rect x="183.44" y="797.58" width="10.84" height="8.59" fill="#f7e8e3" /><rect x="194.03" y="797.58" width="10.84" height="8.59" fill="#e4e3ee" /><rect x="204.62" y="797.58" width="10.84" height="8.59" fill="#f8f7f7" /><rect x="119.90" y="805.92" width="10.84" height="8.59" fill="#6673b6" /><rect x="130.49" y="805.92" width="10.84" height="8.59" fill="#6673b6" /><rect x="141.08" y="805.92" width="10.84" height="8.59" fill="#8087c1" /><rect x="151.67" y="805.92" width="10.84" height="8.59" fill="#f3bba8" /><rect x="162.26" y="805.92" width="10.84" height="8.59" fill="#ee805e" /><rect x="172.85" y="805.92" width="10.84" height="8.59" fill="#ed714c" /><rect x="183.44" y="805.92" width="10.84" height="8.59" fill="#cfcfe4" /><rect x="194.03" y="805.92" width="10.84" height="8.59" fill="#cfcfe4" /><rect x="204.62" y="805.92" width="10.84" height="8.59" fill="#f7e8e3" /><rect x="119.90" y="814.26" width="10.84" height="8.59" fill="#6673b6" /><rect x="130.49" y="814.26" width="10.84" height="8.59" fill="#9c9ecd" /><rect x="141.08" y="814.26" width="10.84" height="8.59" fill="#3a52a4" /><rect x="151.67" y="814.26" width="10.84" height="8.59" fill="#f08e70" /><rect x="162.26" y="814.26" width="10.84" height="8.59" fill="#f09679" /><rect x="172.85" y="814.26" width="10.84" height="8.59" fill="#f5d2c6" /><rect x="183.44" y="814.26" width="10.84" height="8.59" fill="#f5d2c6" /><rect x="194.03" y="814.26" width="10.84" height="8.59" fill="#f4c2b2" /><rect x="204.62" y="814.26" width="10.84" height="8.59" fill="#e4e3ee" /><rect x="119.90" y="822.60" width="10.84" height="8.59" fill="#6673b6" /><rect x="130.49" y="822.60" width="10.84" height="8.59" fill="#6f7aba" /><rect x="141.08" y="822.60" width="10.84" height="8.59" fill="#6673b6" /><rect x="151.67" y="822.60" width="10.84" height="8.59" fill="#f09679" /><rect x="162.26" y="822.60" width="10.84" height="8.59" fill="#ef8767" /><rect x="172.85" y="822.60" width="10.84" height="8.59" fill="#f1a58b" /><rect x="183.44" y="822.60" width="10.84" height="8.59" fill="#f6d9cf" /><rect x="194.03" y="822.60" width="10.84" height="8.59" fill="#f7e8e3" /><rect x="204.62" y="822.60" width="10.84" height="8.59" fill="#d9d9e9" /><rect x="119.90" y="830.94" width="10.84" height="8.59" fill="#6f7aba" /><rect x="130.49" y="830.94" width="10.84" height="8.59" fill="#7880bd" /><rect x="141.08" y="830.94" width="10.84" height="8.59" fill="#6f7aba" /><rect x="151.67" y="830.94" width="10.84" height="8.59" fill="#ef8767" /><rect x="162.26" y="830.94" width="10.84" height="8.59" fill="#ee805e" /><rect x="172.85" y="830.94" width="10.84" height="8.59" fill="#ee805e" /><rect x="183.44" y="830.94" width="10.84" height="8.59" fill="#b1b2d6" /><rect x="194.03" y="830.94" width="10.84" height="8.59" fill="#f8f7f7" /><rect x="204.62" y="830.94" width="10.84" height="8.59" fill="#b1b2d6" /><rect x="119.90" y="839.28" width="10.84" height="8.59" fill="#6f7aba" /><rect x="130.49" y="839.28" width="10.84" height="8.59" fill="#7880bd" /><rect x="141.08" y="839.28" width="10.84" height="8.59" fill="#9294c8" /><rect x="151.67" y="839.28" width="10.84" height="8.59" fill="#f1a58b" /><rect x="162.26" y="839.28" width="10.84" height="8.59" fill="#ee7855" /><rect x="172.85" y="839.28" width="10.84" height="8.59" fill="#ed6943" /><rect x="183.44" y="839.28" width="10.84" height="8.59" fill="#a6a8d1" /><rect x="194.03" y="839.28" width="10.84" height="8.59" fill="#c5c6e0" /><rect x="204.62" y="839.28" width="10.84" height="8.59" fill="#d9d9e9" /><rect x="119.90" y="847.62" width="10.84" height="8.59" fill="#3a52a4" /><rect x="130.49" y="847.62" width="10.84" height="8.59" fill="#6f7aba" /><rect x="141.08" y="847.62" width="10.84" height="8.59" fill="#9294c8" /><rect x="151.67" y="847.62" width="10.84" height="8.59" fill="#d9d9e9" /><rect x="162.26" y="847.62" width="10.84" height="8.59" fill="#f3b49e" /><rect x="172.85" y="847.62" width="10.84" height="8.59" fill="#f08e70" /><rect x="183.44" y="847.62" width="10.84" height="8.59" fill="#f6d9cf" /><rect x="194.03" y="847.62" width="10.84" height="8.59" fill="#f4cabc" /><rect x="204.62" y="847.62" width="10.84" height="8.59" fill="#ef8767" /><rect x="119.90" y="855.96" width="10.84" height="8.59" fill="#6f7aba" /><rect x="130.49" y="855.96" width="10.84" height="8.59" fill="#6673b6" /><rect x="141.08" y="855.96" width="10.84" height="8.59" fill="#6673b6" /><rect x="151.67" y="855.96" width="10.84" height="8.59" fill="#f19d82" /><rect x="162.26" y="855.96" width="10.84" height="8.59" fill="#ef8767" /><rect x="172.85" y="855.96" width="10.84" height="8.59" fill="#ed714c" /><rect x="183.44" y="855.96" width="10.84" height="8.59" fill="#f7f0ed" /><rect x="194.03" y="855.96" width="10.84" height="8.59" fill="#c5c6e0" /><rect x="204.62" y="855.96" width="10.84" height="8.59" fill="#c5c6e0" /><rect x="119.90" y="864.30" width="10.84" height="8.59" fill="#5d6cb2" /><rect x="130.49" y="864.30" width="10.84" height="8.59" fill="#6f7aba" /><rect x="141.08" y="864.30" width="10.84" height="8.59" fill="#4359a8" /><rect x="151.67" y="864.30" width="10.84" height="8.59" fill="#f3bba8" /><rect x="162.26" y="864.30" width="10.84" height="8.59" fill="#f2ac94" /><rect x="172.85" y="864.30" width="10.84" height="8.59" fill="#f5d2c6" /><rect x="183.44" y="864.30" width="10.84" height="8.59" fill="#f2ac94" /><rect x="194.03" y="864.30" width="10.84" height="8.59" fill="#f2ac94" /><rect x="204.62" y="864.30" width="10.84" height="8.59" fill="#f5d2c6" /><rect x="119.90" y="872.64" width="10.84" height="8.59" fill="#5d6cb2" /><rect x="130.49" y="872.64" width="10.84" height="8.59" fill="#5d6cb2" /><rect x="141.08" y="872.64" width="10.84" height="8.59" fill="#5d6cb2" /><rect x="151.67" y="872.64" width="10.84" height="8.59" fill="#f1a58b" /><rect x="162.26" y="872.64" width="10.84" height="8.59" fill="#f2ac94" /><rect x="172.85" y="872.64" width="10.84" height="8.59" fill="#ef8767" /><rect x="183.44" y="872.64" width="10.84" height="8.59" fill="#f7e8e3" /><rect x="194.03" y="872.64" width="10.84" height="8.59" fill="#f5d2c6" /><rect x="204.62" y="872.64" width="10.84" height="8.59" fill="#f8f7f7" /><rect x="119.90" y="880.98" width="10.84" height="8.59" fill="#5466af" /><rect x="130.49" y="880.98" width="10.84" height="8.59" fill="#6f7aba" /><rect x="141.08" y="880.98" width="10.84" height="8.59" fill="#5d6cb2" /><rect x="151.67" y="880.98" width="10.84" height="8.59" fill="#f1a58b" /><rect x="162.26" y="880.98" width="10.84" height="8.59" fill="#f09679" /><rect x="172.85" y="880.98" width="10.84" height="8.59" fill="#f09679" /><rect x="183.44" y="880.98" width="10.84" height="8.59" fill="#f8f7f7" /><rect x="194.03" y="880.98" width="10.84" height="8.59" fill="#f6d9cf" /><rect x="204.62" y="880.98" width="10.84" height="8.59" fill="#f6d9cf" /><rect x="119.90" y="889.32" width="10.84" height="8.59" fill="#6673b6" /><rect x="130.49" y="889.32" width="10.84" height="8.59" fill="#898dc4" /><rect x="141.08" y="889.32" width="10.84" height="8.59" fill="#9c9ecd" /><rect x="151.67" y="889.32" width="10.84" height="8.59" fill="#f8f7f7" /><rect x="162.26" y="889.32" width="10.84" height="8.59" fill="#ed714c" /><rect x="172.85" y="889.32" width="10.84" height="8.59" fill="#ec623a" /><rect x="183.44" y="889.32" width="10.84" height="8.59" fill="#9294c8" /><rect x="194.03" y="889.32" width="10.84" height="8.59" fill="#f7f0ed" /><rect x="204.62" y="889.32" width="10.84" height="8.59" fill="#e4e3ee" /><path d="M20.5,701.7H17.5V710.0H20.5M20.5,718.4H18.0V726.7H20.5M20.5,735.0H17.0V743.4H20.5M20.5,751.7H18.5V760.0H20.5M20.5,768.4H17.0V776.7H20.5M20.5,785.1H18.0V793.4H20.5M20.5,801.8H17.5V810.1H20.5M20.5,818.4H18.5V826.8H20.5M20.5,835.1H17.0V843.5H20.5M20.5,851.8H18.0V860.1H20.5M20.5,868.5H17.5V876.8H20.5M20.5,885.1H18.5V893.5H20.5M17.5,705.8H15.0V722.5H18.0M17.0,739.2H14.5V755.9H18.5M17.0,772.6H15.5V789.2H18.0M17.5,805.9H14.0V822.6H18.5M17.0,839.3H15.0V856.0H18.0M17.5,872.6H14.5V889.3H18.5M15.0,714.2H12.0V747.5H14.5M15.5,780.9H11.5V814.3H14.0M15.0,847.6H12.5V881.0H14.5M11.5,797.6H10.0V864.3H12.5M12.0,730.9H8.8V830.9H10.0" fill="none" stroke="#333" stroke-width="0.6"/><text x="220.2" y="705.4" font-size="9.1">Gramd3</text><text x="271.7" y="705.4" font-size="9" text-anchor="middle">10</text><text x="290.9" y="705.4" font-size="8.8" font-style="italic">let−7c−5p, miR−98−5p</text><text x="220.2" y="713.7" font-size="9.1">Snx16</text><text x="271.7" y="713.7" font-size="9" text-anchor="middle">16</text><text x="290.9" y="713.7" font-size="8.8" font-style="italic">let−7f−5p, miR−98−5p</text><text x="220.2" y="722.1" font-size="9.1">Etnk1</text><text x="271.7" y="722.1" font-size="9" text-anchor="middle">19</text><text x="290.9" y="722.1" font-size="8.8" font-style="italic">miR−101a−3p</text><text x="220.2" y="730.4" font-size="9.1">Nhlrc3</text><text x="271.7" y="730.4" font-size="9" text-anchor="middle">9</text><text x="290.9" y="730.4" font-size="8.8" font-style="italic">miR−98−5p</text><text x="220.2" y="738.8" font-size="9.1">Syne3</text><text x="271.7" y="738.8" font-size="9" text-anchor="middle">2</text><text x="290.9" y="738.8" font-size="8.8" font-style="italic">miR−103−3p, miR−107−3p</text><text x="220.2" y="747.1" font-size="9.1">Hmga2</text><text x="271.7" y="747.1" font-size="9" text-anchor="middle">14</text><text x="290.9" y="747.1" font-size="8.8" font-style="italic">miR−98−5p</text><text x="220.2" y="755.4" font-size="9.1">Map1b</text><text x="271.7" y="755.4" font-size="9" text-anchor="middle">6</text><text x="290.9" y="755.4" font-size="8.8" font-style="italic">miR−181b−5p, miR−181a−5p</text><text x="220.2" y="763.8" font-size="9.1">Uba6</text><text x="271.7" y="763.8" font-size="9" text-anchor="middle">7</text><text x="290.9" y="763.8" font-size="8.8" font-style="italic">miR−16−5p</text><text x="220.2" y="772.1" font-size="9.1" font-weight="bold">Sec24a</text><text x="271.7" y="772.1" font-size="9" text-anchor="middle">28</text><text x="290.9" y="772.1" font-size="8.8" font-style="italic">miR−203−3p, miR−30d−5p</text><text x="220.2" y="780.5" font-size="9.1">Gan</text><text x="271.7" y="780.5" font-size="9" text-anchor="middle">28</text><text x="290.9" y="780.5" font-size="8.8" font-style="italic">miR−30d−5p, miR−664−3p</text><text x="220.2" y="788.8" font-size="9.1" font-weight="bold">Jmjd1c</text><text x="271.7" y="788.8" font-size="9" text-anchor="middle">11</text><text x="290.9" y="788.8" font-size="8.8" font-style="italic">miR−350−3p, miR−449a−5p</text><text x="220.2" y="797.1" font-size="9.1">Map4k4</text><text x="271.7" y="797.1" font-size="9" text-anchor="middle">7</text><text x="290.9" y="797.1" font-size="8.8" font-style="italic">miR−29c−3p</text><text x="220.2" y="805.5" font-size="9.1">Rbm27</text><text x="271.7" y="805.5" font-size="9" text-anchor="middle">9</text><text x="290.9" y="805.5" font-size="8.8" font-style="italic">miR−181a−5p</text><text x="220.2" y="813.8" font-size="9.1">Dync1li2</text><text x="271.7" y="813.8" font-size="9" text-anchor="middle">15</text><text x="290.9" y="813.8" font-size="8.8" font-style="italic">miR−181a−5p</text><text x="220.2" y="822.2" font-size="9.1">Stam2</text><text x="271.7" y="822.2" font-size="9" text-anchor="middle">4</text><text x="290.9" y="822.2" font-size="8.8" font-style="italic">miR−22−3p, miR−101a−3p</text><text x="220.2" y="830.5" font-size="9.1">Tusc2</text><text x="271.7" y="830.5" font-size="9" text-anchor="middle">9</text><text x="290.9" y="830.5" font-size="8.8" font-style="italic">miR−7a−5p</text><text x="220.2" y="838.8" font-size="9.1">Fst</text><text x="271.7" y="838.8" font-size="9" text-anchor="middle">1</text><text x="290.9" y="838.8" font-size="8.8" font-style="italic">miR−7a−5p</text><text x="220.2" y="847.2" font-size="9.1">Rapgef2</text><text x="271.7" y="847.2" font-size="9" text-anchor="middle">15</text><text x="290.9" y="847.2" font-size="8.8" font-style="italic">miR−19a−3p</text><text x="220.2" y="855.5" font-size="9.1">Stk10</text><text x="271.7" y="855.5" font-size="9" text-anchor="middle">1</text><text x="290.9" y="855.5" font-size="8.8" font-style="italic">miR−450b−5p</text><text x="220.2" y="863.9" font-size="9.1">Rapgef5</text><text x="271.7" y="863.9" font-size="9" text-anchor="middle">5</text><text x="290.9" y="863.9" font-size="8.8" font-style="italic">miR−141−3p, let−7f−2−3p</text><text x="220.2" y="872.2" font-size="9.1">Eea1</text><text x="271.7" y="872.2" font-size="9" text-anchor="middle">19</text><text x="290.9" y="872.2" font-size="8.8" font-style="italic">miR−19a−3p</text><text x="220.2" y="880.5" font-size="9.1">Nbeal1</text><text x="271.7" y="880.5" font-size="9" text-anchor="middle">22</text><text x="290.9" y="880.5" font-size="8.8" font-style="italic">miR−19a−3p</text><text x="220.2" y="888.9" font-size="9.1">Gpr137b</text><text x="271.7" y="888.9" font-size="9" text-anchor="middle">3</text><text x="290.9" y="888.9" font-size="8.8" font-style="italic">miR−19a−3p</text><text x="220.2" y="897.2" font-size="9.1">Prkcd</text><text x="271.7" y="897.2" font-size="9" text-anchor="middle">7</text><text x="290.9" y="897.2" font-size="8.8" font-style="italic">miR−181a−5p</text><text x="264.5" y="682.1" font-size="9.2" font-weight="bold">cognate miRNAs</text><text x="271.3" y="695.2" font-size="9" text-anchor="middle" font-weight="bold">#</text><text x="290.9" y="695.2" font-size="9" font-weight="bold">example</text><text x="409.2" y="721.7" font-size="8.8">z score</text><rect x="421.00" y="732.90" width="6.60" height="99.50" fill="url(#gZ)" /><text x="428.5" y="735.6" font-size="8.8">2</text><text x="428.5" y="760.4" font-size="8.8">1</text><text x="428.5" y="785.3" font-size="8.8">0</text><text x="428.5" y="810.2" font-size="8.8">−1</text><text x="428.5" y="834.2" font-size="8.8">−2</text><text x="409.2" y="847.6" font-size="8.8">log2FC ≤ 1.3</text><text x="409.2" y="858.2" font-size="8.8">FDR ≤ 0.05</text><text x="467.5" y="706.3" font-size="20.5" font-weight="bold">l</text><line x1="508.50" y1="712.40" x2="508.50" y2="841.80" stroke="#555" stroke-width="0.8" /><line x1="508.50" y1="841.80" x2="656.00" y2="841.80" stroke="#888" stroke-width="1" /><line x1="505.00" y1="837.10" x2="508.50" y2="837.10" stroke="#555" stroke-width="0.8" /><text x="502.8" y="840.6" font-size="10" text-anchor="end" fill="#555">0</text><line x1="505.00" y1="804.45" x2="508.50" y2="804.45" stroke="#555" stroke-width="0.8" /><text x="502.8" y="808.0" font-size="10" text-anchor="end" fill="#555">5000</text><line x1="505.00" y1="771.80" x2="508.50" y2="771.80" stroke="#555" stroke-width="0.8" /><text x="502.8" y="775.3" font-size="10" text-anchor="end" fill="#555">10000</text><line x1="505.00" y1="739.15" x2="508.50" y2="739.15" stroke="#555" stroke-width="0.8" /><text x="502.8" y="742.7" font-size="10" text-anchor="end" fill="#555">15000</text><text transform="translate(468.5,777.4) rotate(-90)" font-size="10.9" text-anchor="middle" fill="#231f20">Trp63 signal [AU]</text><line x1="529.60" y1="801.20" x2="529.60" y2="777.90" stroke="#555" stroke-width="0.8" /><line x1="529.60" y1="814.70" x2="529.60" y2="831.00" stroke="#555" stroke-width="0.8" /><path d="M516.45,801.2 H542.75 V804.2 L538.8000000000001,806.8 L542.75,809.5 V814.7 H516.45 V809.5 L520.4,806.8 L516.45,804.2 z" fill="#a8d8e8" stroke="#555" stroke-width="0.7"/><line x1="520.40" y1="806.80" x2="538.80" y2="806.80" stroke="#555" stroke-width="0.8" /><circle cx="529.6" cy="807.3" r="1.3" fill="#111"/><circle cx="529.6" cy="776.5" r="0.8" fill="#222"/><circle cx="529.6" cy="778.5" r="0.8" fill="#222"/><line x1="529.60" y1="841.80" x2="529.60" y2="845.00" stroke="#888" stroke-width="0.8" /><line x1="564.80" y1="766.60" x2="564.80" y2="727.30" stroke="#555" stroke-width="0.8" /><line x1="564.80" y1="804.50" x2="564.80" y2="832.20" stroke="#555" stroke-width="0.8" /><path d="M551.8499999999999,766.6 H577.75 V777.5 L574.0,784.4 L577.75,791.0 V804.5 H551.8499999999999 V791.0 L555.5999999999999,784.4 L551.8499999999999,777.5 z" fill="#94bccc" stroke="#555" stroke-width="0.7"/><line x1="555.60" y1="784.40" x2="574.00" y2="784.40" stroke="#555" stroke-width="0.8" /><circle cx="564.8" cy="784.4" r="1.3" fill="#111"/><line x1="564.80" y1="841.80" x2="564.80" y2="845.00" stroke="#888" stroke-width="0.8" /><line x1="599.40" y1="788.70" x2="599.40" y2="744.00" stroke="#555" stroke-width="0.8" /><line x1="599.40" y1="819.40" x2="599.40" y2="834.50" stroke="#555" stroke-width="0.8" /><path d="M586.25,788.7 H612.55 V799.8 L608.4,805.6 L612.55,811.2 V819.4 H586.25 V811.2 L590.4,805.6 L586.25,799.8 z" fill="#f07d50" stroke="#555" stroke-width="0.7"/><line x1="590.40" y1="805.60" x2="608.40" y2="805.60" stroke="#555" stroke-width="0.8" /><circle cx="599.4" cy="800.6" r="1.3" fill="#111"/><circle cx="599.4" cy="735.5" r="0.8" fill="#222"/><line x1="599.40" y1="841.80" x2="599.40" y2="845.00" stroke="#888" stroke-width="0.8" /><line x1="634.80" y1="785.40" x2="634.80" y2="732.60" stroke="#555" stroke-width="0.8" /><line x1="634.80" y1="822.60" x2="634.80" y2="836.20" stroke="#555" stroke-width="0.8" /><path d="M621.65,785.4 H647.9499999999999 V804.5 L643.8,808.0 L647.9499999999999,811.6 V822.6 H621.65 V811.6 L625.8,808.0 L621.65,804.5 z" fill="#f07d50" stroke="#555" stroke-width="0.7"/><line x1="625.80" y1="808.00" x2="643.80" y2="808.00" stroke="#555" stroke-width="0.8" /><circle cx="634.8" cy="802.4" r="1.3" fill="#111"/><circle cx="634.8" cy="718" r="0.8" fill="#222"/><circle cx="634.8" cy="727.1" r="0.8" fill="#222"/><line x1="634.80" y1="841.80" x2="634.80" y2="845.00" stroke="#888" stroke-width="0.8" /><text x="492.4" y="857.1" font-size="10.1" text-anchor="middle" fill="#333">siRNA:</text><text x="531.4" y="857.1" font-size="9" text-anchor="middle" font-style="italic" fill="#333">Scram.</text><text x="566.0" y="857.1" font-size="9" text-anchor="middle" font-style="italic" fill="#333">Scram.</text><text x="599.8" y="857.1" font-size="9.1" text-anchor="middle" font-style="italic" fill="#333">Jmjd1c</text><text x="635.9" y="857.1" font-size="9.1" text-anchor="middle" font-style="italic" fill="#333">Sec24a</text><line x1="517.00" y1="863.70" x2="545.80" y2="863.70" stroke="#999" stroke-width="1.2" /><line x1="552.50" y1="863.70" x2="656.00" y2="863.70" stroke="#999" stroke-width="1.2" /><text x="531.3" y="873.7" font-size="10.3" text-anchor="middle" fill="#555">Control</text><text x="604.0" y="873.0" font-size="10.3" text-anchor="middle" fill="#555">Hypo</text><text x="529.2" y="724.2" font-size="9" fill="#333">P=5×10<tspan font-size="5.5" dy="-3.4">-13</tspan></text><line x1="529.00" y1="726.00" x2="566.00" y2="726.00" stroke="#555" stroke-width="0.9" /><text x="565.6" y="709.3" font-size="9" fill="#333">P=2×10<tspan font-size="5.5" dy="-3.4">-5</tspan></text><line x1="564.40" y1="711.90" x2="598.90" y2="711.90" stroke="#888" stroke-width="0.9" /><text x="582.6" y="693.8" font-size="9" fill="#333">P=1×10<tspan font-size="5.5" dy="-3.4">-8</tspan></text><line x1="564.40" y1="696.70" x2="635.00" y2="696.70" stroke="#555" stroke-width="0.9" /></svg></body></html>
